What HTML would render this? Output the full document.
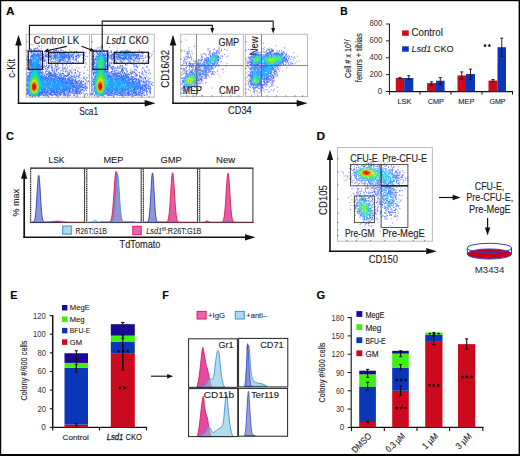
<!DOCTYPE html><html><head><meta charset="utf-8"><style>html,body{margin:0;padding:0;background:#fff}svg{display:block}text{font-family:"Liberation Sans",sans-serif;stroke:#222;stroke-width:0.12px}</style></head><body>
<svg width="520" height="456" viewBox="0 0 520 456">
<defs><filter id="soft4" x="-5%" y="-5%" width="110%" height="110%"><feGaussianBlur stdDeviation="0.4"/></filter><filter id="soft6" x="-5%" y="-5%" width="110%" height="110%"><feGaussianBlur stdDeviation="0.6"/></filter></defs>
<rect x="0" y="0" width="520" height="456" fill="#fff"/>
<text x="6.1" y="15" font-size="11" text-anchor="start" font-weight="bold" fill="#000" textLength="8.5" lengthAdjust="spacingAndGlyphs">A</text>
<g filter="url(#soft4)" opacity="0.95">
<path stroke="rgb(54, 66, 246)" stroke-width="0.85" d="M32.7 44.9h.85m23.6 .2h.85m-16.7 1.5h.85m-3.2 .1h.85m.9 1.7h.85m5.2 .8h.85m13.3 .5h.85m23.2 9.9h.85m-2.6 1.7h.85m1.7 2.8h.85m-2.6 2.6h.85m-.4 .6h.85m1.7 2.8h.85m-4.4 2.7h.85m3.5 2.5h.85"/>
<path stroke="rgb(42, 66, 246)" stroke-width="0.85" d="M30.8 44.6h.85m6.1 1.4h.85m-1.4 1.8h.85m-3.8 1.1h.85m-.6 0h.85m-4.4 .8h.85m24.4 0h.85m-27.1 .2h.85m38.4 .1h.85m-8.6 .2h.85m-12.8 .1h.85m4.2 .2h.85m-27.8 .1h.85m26.6 .1h.85m1.8 0h.85m-3 .2h.85m-3.5 .2h.85m9.2 .1h.85m-33.2 .3h.85m45 .2h.85m-31.5 .1h.85m10.6 .2h.85m25.5 .2h.85m-.1 .4h.85m.4 .2h.85m-41.7 .3h.85m38.6 1.9h.85m-.3 1.2h.85m-58.6 .1h.85m59.4 0h.85m-60.6 1.1h.85m53.6 .6h.85m-7.6 1.3h.85m-3.1 .6h.85m2.4 .1h.85m-21.7 .1h.85m-11.7 .3h.85m-1.5 .2h.85m31.4 .2h.85m-10 .2h.85m-23.9 .1h.85m37.5 0h.85m-32.3 .2h.85m13 0h.85m-10.2 .4h.85m13.8 .1h.85m7.2 0h.85m-18.8 .1h.85m12.3 .4h.85m-4.4 .1h.85m1.6 .3h.85m-26.6 .1h.85m9.6 0h.85m-3.8 .1h.85m30.8 0h.85m-22.7 .1h.85m3 0h.85m10.4 .2h.85m-22.8 .2h.85m-11.7 .5h.85m24.2 .1h.85m-5.8 .6h.85m-39.7 .1h.85m23 .3h.85m-1.6 .1h.85m-2.4 .2h.85m-3.3 .1h.85m1.4 0h.85m-5.2 .2h.85m9.3 .4h.85m10.2 .1h.85m-9.6 .1h.85m11.4 0h.85m-21.9 .7h.85m18.4 .3h.85m-24.5 .3h.85m11.4 .1h.85m19.8 .2h.85m-12.8 .2h.85m-19.4 .1h.85m8 0h.85m23 0h.85m-16.3 .9h.85m-7.5 .1h.85m.8 0h.85m15.4 0h.85m-28.1 .3h.85m23.4 .4h.85m.9 0h.85m-4.9 .2h.85m5 0h.85m-.6 .5h.85m-6.1 .3h.85m-5.8 .2h.85m4.3 .2h.85m6.7 .3h.85m-12.8 .5h.85m3.1 0h.85m9.2 .3h.85m-5.4 .3h.85m-.8 0h.85m-1.5 .1h.85m4 .3h.85m-12.8 .1h.85m3.9 0h.85m5.6 0h.85m4 .6h.85m-4.9 1h.85m-.8 .2h.85m3.3 2.1h.85m-1.3 .3h.85m3.4 .3h.85m-2.1 .2h.85m-1.9 2.1h.85m1.9 1h.85m-1.1 .3h.85m-.8 .6h.85m-1.1 12.2h.85m-1.1 1.2h.85m-4.2 .7h.85"/>
<path stroke="rgb(42, 78, 255)" stroke-width="0.85" d="M39 46.2h.85m-3.1 2h.85m-2 .3h.85m-6.8 .2h.85m2.8 .3h.85m1.6 0h.85m-5.7 .2h.85m3 .1h.85m2.6 .3h.85m13.6 .1h.85m-15.1 .2h.85m16.2 .4h.85m-17.8 .2h.85m16.6 0h.85m-18.8 .1h.85m21.2 .1h.85m-30.4 .2h.85m1.4 .1h.85m19.8 0h.85m-5.1 .1h.85m-20.4 .2h.85m17.8 0h.85m1.2 0h.85m-15.7 .1h.85m-.4 0h.85m28.4 0h.85m4.9 0h.85m-31.5 .1h.85m34.8 0h.85m-18.2 .2h.85m-29.1 .1h.85m43.2 0h.85m-41.3 .1h.85m.4 0h.85m1.8 0h.85m7.9 0h.85m5.8 0h.85m2.3 0h.85m-25.6 .1h.85m42.2 0h.85m-29.4 .1h.85m7.2 .1h.85m19.4 0h.85m-44.2 .1h.85m-.3 0h.85m5.1 0h.85m15.8 0h.85m9.6 0h.85m-25.7 .1h.85m-.7 0h.85m10.3 .2h.85m13 0h.85m.7 0h.85m2.2 0h.85m-10.4 .1h.85m-21.1 .1h.85m7.6 0h.85m15.4 0h.85m-.6 0h.85m-14.8 .1h.85m-.5 0h.85m19.6 0h.85m-42.7 .1h.85m33.5 0h.85m-20.4 .1h.85m3.9 0h.85m.8 .1h.85m-.7 0h.85m.6 0h.85m13.6 0h.85m6.2 0h.85m-26.1 .1h.85m26.7 0h.85m-37.8 .1h.85m32.8 0h.85m3.9 .1h.85m-37.4 .1h.85m6 .1h.85m-18 .1h.85m36.2 0h.85m-26.8 .1h.85m37.8 0h.85m-41.8 .1h.85m30.9 0h.85m-32.1 .1h.85m5.1 0h.85m.5 0h.85m-.7 .1h.85m-.4 0h.85m29.4 0h.85m-37.2 .1h.85m-1.2 .1h.85m30.4 0h.85m2.2 0h.85m-34 .2h.85m-3.5 .1h.85m4.2 0h.85m26.4 0h.85m4.4 0h.85m-49 .1h.85m11.5 0h.85m-.7 0h.85m2.8 0h.85m35.4 0h.85m-9.1 .1h.85m4.9 0h.85m2 0h.85m-42.5 .2h.85m-.4 .1h.85m2.6 0h.85m25.4 0h.85m5.8 0h.85m1.5 0h.85m-8.7 .3h.85m4.6 0h.85m.2 0h.85m-1.7 .1h.85m-.6 0h.85m-.8 .2h.85m-35.2 .2h.85m1.9 0h.85m-3.6 .1h.85m.6 0h.85m29.1 0h.85m-.5 0h.85m-33.5 .1h.85m29.4 0h.85m-28.8 .1h.85m25.4 0h.85m4.2 0h.85m-35 .1h.85m2.4 0h.85m1.3 .2h.85m30.7 0h.85m-37 .1h.85m1.8 0h.85m22.1 0h.85m6.5 0h.85m-.7 .1h.85m1.2 0h.85m-36.1 .2h.85m27.9 .1h.85m-26 .1h.85m-6.2 .1h.85m26.4 .1h.85m-26.9 .1h.85m33.6 .1h.85m-4.5 .1h.85m-30.6 .1h.85m29.2 0h.85m4.2 0h.85m-36.1 .1h.85m22.8 0h.85m-3.5 .2h.85m-23.6 .1h.85m1.3 0h.85m28.8 0h.85m-31.3 .1h.85m32.8 0h.85m-34.8 .1h.85m4.4 .1h.85m26.4 0h.85m.2 0h.85m-35.8 .2h.85m.3 0h.85m1.7 0h.85m5.4 0h.85m-10 .1h.85m19 0h.85m7.4 0h.85m-28.2 .1h.85m7 .1h.85m17.9 .1h.85m-18.8 .1h.85m2.5 0h.85m-2.2 .1h.85m5.7 0h.85m3.6 0h.85m0 0h.85m-22.6 .2h.85m4.3 0h.85m9.8 0h.85m12.4 0h.85m-14.7 .1h.85m.2 0h.85m7.2 0h.85m-18.8 .1h.85m11 0h.85m-.4 0h.85m-0 0h.85m-6.5 .1h.85m10 0h.85m1.4 0h.85m-29.8 .1h.85m2.4 0h.85m10.9 0h.85m3.6 0h.85m-21.2 .1h.85m4.5 0h.85m-18.8 .1h.85m.5 0h.85m44.2 0h.85m1 0h.85m-8.6 .2h.85m-41.8 .1h.85m11.8 0h.85m2.4 0h.85m20.5 0h.85m-2.4 .1h.85m-13.8 .1h.85m8.4 0h.85m-.7 0h.85m0 0h.85m1.4 0h.85m-34.8 .1h.85m-0 0h.85m10.6 .1h.85m14.6 0h.85m.6 0h.85m10 0h.85m-41.6 .1h.85m16 0h.85m13.9 0h.85m15.2 0h.85m-47.2 .1h.85m30.4 0h.85m.5 0h.85m5.2 .1h.85m-9.4 .1h.85m5.5 0h.85m3.5 0h.85m-19 .1h.85m10.9 0h.85m3.1 0h.85m-25 .1h.85m-16.8 .1h.85m24.4 0h.85m4.8 0h.85m6.3 0h.85m-12.1 .1h.85m3.2 0h.85m-1.7 .1h.85m-29 .1h.85m-.4 0h.85m11.7 0h.85m2.6 .1h.85m12.3 0h.85m-17.8 .2h.85m23.8 0h.85m-38 .1h.85m10 .2h.85m9.6 0h.85m-23.8 .1h.85m.4 .1h.85m19.9 .9h.85m-20.4 .1h.85m9.1 .1h.85m2.7 .1h.85m13 0h.85m-30.6 .2h.85m.8 0h.85m8.8 .2h.85m-10.5 .1h.85m9.8 0h.85m1.3 0h.85m14 .2h.85m-2.8 .1h.85m6.2 0h.85m-11.5 .3h.85m-11.2 .2h.85m20.4 0h.85m-8.5 .1h.85m-7.1 .2h.85m-20.6 .2h.85m.2 .1h.85m11.8 0h.85m-1.8 .1h.85m-2.2 .1h.85m4.8 0h.85m-7 .1h.85m14.6 0h.85m-.8 0h.85m1.2 0h.85m3.9 0h.85m-34 .3h.85m.2 0h.85m10.4 .1h.85m6 0h.85m2.6 0h.85m-11.8 .1h.85m3.2 0h.85m.1 0h.85m10 .2h.85m-26.4 .1h.85m8.8 .1h.85m.9 0h.85m.4 0h.85m5.3 .1h.85m1 0h.85m-23.4 .1h.85m21 .1h.85m19.8 0h.85m-43.4 .1h.85m18.6 0h.85m-9.7 .1h.85m-.8 0h.85m-.4 0h.85m6.9 0h.85m3.6 .1h.85m9.6 0h.85m-21.1 .2h.85m3.6 .1h.85m-3.2 .1h.85m12.4 0h.85m-.4 0h.85m-31.8 .1h.85m20.4 0h.85m1.8 0h.85m9.9 0h.85m-21.5 .1h.85m17.2 0h.85m3.8 0h.85m-25 .2h.85m4.6 0h.85m1.4 .1h.85m3.5 0h.85m-10.7 .1h.85m-13.8 .1h.85m35.4 0h.85m.6 .1h.85m-26 .1h.85m-14.6 .1h.85m35.7 0h.85m-23.6 .1h.85m8.4 .1h.85m2.2 0h.85m1.3 .1h.85m-4.7 .1h.85m9 0h.85m-17.8 .1h.85m-2.8 .1h.85m12.2 .2h.85m-.2 .1h.85m4.8 0h.85m2.2 0h.85m-38.4 .2h.85m11.6 .2h.85m10.4 0h.85m-7 .1h.85m7.6 .1h.85m-3.4 .1h.85m8 0h.85m-9.4 .1h.85m3.3 0h.85m-8.6 .2h.85m17.4 0h.85m9.6 .1h.85m-25.5 .1h.85m7.4 0h.85m-19.4 .1h.85m1.9 0h.85m.4 0h.85m9.2 0h.85m6.4 0h.85m-24.4 .1h.85m6 .1h.85m14.9 .1h.85m-15.8 .1h.85m.6 0h.85m17.7 0h.85m-3.4 .1h.85m5.8 0h.85m-31.8 .1h.85m12.2 0h.85m-1.6 .2h.85m.4 .1h.85m.6 0h.85m-11.5 .2h.85m-19.2 .1h.85m14.1 0h.85m-0 0h.85m5 0h.85m4.2 .1h.85m4.2 0h.85m-31.2 .1h.85m11.5 0h.85m8.5 0h.85m-9.2 .1h.85m15.8 0h.85m12 0h.85m-22 .1h.85m17.2 0h.85m-17.2 .1h.85m-4.1 .1h.85m.9 0h.85m11.4 0h.85m5.7 0h.85m-19.7 .1h.85m-24.1 .1h.85m41.4 0h.85m1.4 0h.85m-28.6 .1h.85m6.8 0h.85m-11.1 .1h.85m-.6 0h.85m3.2 0h.85m2 0h.85m6 0h.85m-.5 0h.85m2.6 0h.85m-4.5 .1h.85m18.8 0h.85m-26.2 .1h.85m9.9 0h.85m1.3 0h.85m-36.2 .1h.85m26.4 0h.85m7.6 0h.85m-.2 .1h.85m-13.6 .1h.85m10.4 0h.85m-15.7 .1h.85m.5 0h.85m10.8 0h.85m-.2 0h.85m1.9 0h.85m4.8 0h.85m-17.1 .1h.85m1.9 0h.85m-13.4 .1h.85m7.4 0h.85m16 0h.85m-21.3 .2h.85m19.4 0h.85m-42.1 .1h.85m41.4 0h.85m-.4 0h.85m-9.7 .1h.85m-3.8 .1h.85m1 .2h.85m16.4 0h.85m-34.4 .1h.85m7 0h.85m12.2 0h.85m3.2 0h.85m-3.1 .1h.85m7.3 0h.85m-7.6 .2h.85m-.4 0h.85m-24.2 .1h.85m23.2 0h.85m4.5 0h.85m4.1 .1h.85m-30 .1h.85m5 .1h.85m8.9 0h.85m5.1 0h.85m-9.1 .2h.85m11.2 0h.85m3.1 0h.85m-21.5 .1h.85m2.2 0h.85m14.8 .1h.85m-17 .1h.85m2.1 0h.85m-.6 0h.85m2.2 0h.85m-.1 0h.85m-41.8 .1h.85m38.4 0h.85m11.7 0h.85m-19.4 .1h.85m-11.8 .1h.85m16.2 0h.85m-.8 0h.85m4.6 0h.85m-15.5 .1h.85m13.6 0h.85m.1 0h.85m-.6 .2h.85m2.7 .1h.85m-.7 0h.85m-32.6 .1h.85m19.2 0h.85m4.2 0h.85m3.6 0h.85m-.4 0h.85m3.2 0h.85m-18.4 .2h.85m11.7 0h.85m-5.2 .1h.85m9.4 0h.85m-15.4 .2h.85m-4.1 .1h.85m7.9 0h.85m3.6 .1h.85m-5.5 .1h.85m-.1 0h.85m-12.8 .1h.85m10.2 0h.85m-2.6 .1h.85m9.2 0h.85m-10.6 .2h.85m7.4 .1h.85m-8.3 .1h.85m2.4 0h.85m10.6 .2h.85m-1.8 .2h.85m-3.1 .1h.85m-8.7 .2h.85m-1.9 .1h.85m2.7 .1h.85m-7.4 .2h.85m5.7 0h.85m-2.8 .1h.85m10.5 0h.85m-6.6 .6h.85m-4.6 .1h.85m-6.8 .1h.85m3.8 0h.85m4 .1h.85m-7.9 .1h.85m2.4 0h.85m-3.6 .1h.85m6.1 .1h.85m-3.3 .2h.85m3.2 0h.85m-.6 0h.85m.9 .1h.85m2.4 0h.85m-10.7 .2h.85m.5 0h.85m4.9 .2h.85m-1.4 .1h.85m-5.8 .3h.85m-.8 .1h.85m1.5 0h.85m-.5 0h.85m2.1 0h.85m-5 .1h.85m1.5 .1h.85m-6.8 .2h.85m9.1 0h.85m-11.7 .1h.85m-0 0h.85m-.1 0h.85m.2 .4h.85m2.9 0h.85m-2.1 .1h.85m-.4 0h.85m3.4 .5h.85m-4.4 .2h.85m2.4 0h.85m-7.8 .1h.85m6.6 0h.85m1.1 .2h.85m-8.8 .1h.85m2.2 .6h.85m0 0h.85m1.6 .2h.85m-13.4 .1h.85m6.1 0h.85m.2 0h.85m.2 .4h.85m-6.8 .2h.85m.1 .2h.85m7.9 .1h.85m-6.3 .1h.85m3.6 .1h.85m-7.1 .1h.85m2.6 0h.85m2.6 .1h.85m-7.5 .3h.85m1.6 0h.85m-4.2 .1h.85m6.4 0h.85m.9 .2h.85m-10.6 .1h.85m.9 0h.85m4.8 .1h.85m-6.9 .1h.85m6.4 0h.85m-5.1 .1h.85m1.2 0h.85m1.6 .1h.85m-4.5 .1h.85m1.2 0h.85m-2.6 .1h.85m-2.6 .1h.85m5.4 0h.85m-4.6 .1h.85m-1.4 .2h.85m3.3 .4h.85m-1.9 .2h.85m-10.4 .1h.85m.9 0h.85m6.3 .1h.85m-.6 0h.85m-7.8 .1h.85m2.4 .2h.85m1.2 0h.85m.5 0h.85m-9.1 .1h.85m5 0h.85m-3.9 .1h.85m-7.4 .2h.85m8.5 0h.85m-1.9 .2h.85m-2.1 .1h.85m-3.3 .1h.85m7.4 0h.85m-5 .1h.85m-.8 .5h.85m1.2 .1h.85m-7.4 .1h.85m.7 0h.85m6.6 0h.85m-14.1 .1h.85m10.4 .1h.85m-17.8 .2h.85m13.6 0h.85m-6.1 .3h.85m2.6 0h.85m-3.6 .3h.85m-.3 .1h.85m1.2 0h.85m-5.4 .1h.85m2.4 .1h.85m3.9 0h.85m-14.8 .1h.85m9.1 0h.85m-3.8 .1h.85m-16.4 .3h.85m18.4 0h.85m-4.6 .1h.85m2.4 0h.85m-19.8 .1h.85m1.6 0h.85m-9.5 .1h.85m26.4 0h.85m-7.4 .1h.85m.9 0h.85m-6.1 .1h.85m5.4 0h.85m-19.2 .1h.85m14 0h.85m-21.4 .1h.85m22.4 0h.85m-20.1 .2h.85m4.2 .1h.85m-.1 0h.85m3.4 0h.85m12.6 0h.85m3.8 0h.85m-13.7 .1h.85m4.8 0h.85m-.6 0h.85m-7.3 .1h.85m3.2 0h.85m-18.1 .1h.85m8.4 0h.85m7.9 0h.85m5.4 0h.85m-20.1 .1h.85m10.9 0h.85m2.1 0h.85m-12.4 .1h.85m.2 0h.85m-27.4 .1h.85m-.6 0h.85m23.2 0h.85m8.6 0h.85m1.4 0h.85m6.4 0h.85m-42.1 .1h.85m35.4 0h.85m-31.4 .1h.85m3.7 0h.85m-0 0h.85m-30 .1h.85m27 0h.85m-9.6 .1h.85m3.5 0h.85m2.2 0h.85m-26.8 .1h.85m28.9 0h.85m-17.2 .1h.85m13.8 0h.85m-3.8 .1h.85m10.9 0h.85m2.7 0h.85m-41 .1h.85m29.2 0h.85m7.5 0h.85m1.4 0h.85m5.9 0h.85m9.2 0h.85m-45.8 .1h.85m9.5 0h.85m0 0h.85m33.4 0h.85m-40.3 .1h.85m11.4 0h.85m15.6 0h.85m-15.6 .1h.85m-22.2 .1h.85m16.4 0h.85m12.8 0h.85m-23 .1h.85m-.7 0h.85m8.7 0h.85m11.6 .1h.85m-29.8 .1h.85m-0 0h.85m1.9 0h.85m8.5 0h.85m19.8 0h.85m-26.6 .1h.85m3.2 0h.85m7.5 0h.85m16 0h.85m-35 .1h.85m23.5 0h.85m-24.3 .1h.85m2.9 0h.85m25.7 0h.85m-36.2 .1h.85m5.8 0h.85m.2 0h.85m30.2 0h.85m-21.6 .1h.85m6.4 0h.85m4.1 0h.85"/>
<path stroke="rgb(42, 90, 255)" stroke-width="0.85" d="M34.2 50.3h.85m-1.6 .2h.85m-.4 .7h.85m1.4 .8h.85m-6.1 .2h.85m23 .4h.85m6.8 0h.85m-5.8 .2h.85m6.6 0h.85m-32.7 .1h.85m23 0h.85m.4 .1h.85m-22.2 .1h.85m13.3 0h.85m11.4 0h.85m-30.2 .1h.85m26.2 0h.85m-7.2 .1h.85m-.1 0h.85m3.8 0h.85m1.9 0h.85m-30.4 .1h.85m19.1 0h.85m-.8 0h.85m9.4 0h.85m4.4 .1h.85m-16.2 .1h.85m3 0h.85m1.4 0h.85m-.5 0h.85m.9 0h.85m.6 0h.85m-26.6 .1h.85m22 0h.85m2.9 0h.85m-29.2 .1h.85m23.2 0h.85m-22.4 .1h.85m10.2 0h.85m11.2 0h.85m4.6 0h.85m1.9 0h.85m-16 .1h.85m4.2 0h.85m-27.8 .1h.85m.6 0h.85m-.1 0h.85m7.3 0h.85m10.6 0h.85m.9 0h.85m.3 0h.85m4.2 0h.85m5.3 0h.85m-18.5 .1h.85m9.3 0h.85m.7 0h.85m1.3 0h.85m-32.5 .2h.85m18 0h.85m4.9 0h.85m2.8 0h.85m6.6 0h.85m-31.1 .1h.85m16.8 0h.85m13.3 0h.85m-13.7 .1h.85m5.8 0h.85m-27.4 .1h.85m29.8 0h.85m-33.8 .1h.85m11.4 0h.85m-0 0h.85m.8 0h.85m11.3 0h.85m7.5 0h.85m-23.6 .1h.85m11.4 0h.85m5.5 0h.85m5.2 0h.85m-36.3 .1h.85m27.3 0h.85m-33.9 .1h.85m6.4 0h.85m-.8 0h.85m18.5 0h.85m1.6 0h.85m-19.2 .1h.85m6 0h.85m-10.8 .1h.85m8.5 0h.85m-11.2 .1h.85m27.6 0h.85m-36.2 .1h.85m7.8 0h.85m10 0h.85m19 0h.85m-39 .1h.85m19.5 0h.85m13.4 0h.85m-29.4 .1h.85m5.5 0h.85m9.5 0h.85m-24.6 .1h.85m13.4 0h.85m7.9 0h.85m4 0h.85m-28.8 .1h.85m12.9 0h.85m4.3 0h.85m1.2 0h.85m-21.6 .1h.85m6.8 0h.85m9.9 0h.85m2.9 .1h.85m.6 0h.85m12.4 0h.85m6.4 0h.85m-7.4 .1h.85m1 0h.85m-24.6 .1h.85m1.6 0h.85m-.1 0h.85m-.5 0h.85m12.5 0h.85m-34.9 .1h.85m18.2 0h.85m20.4 0h.85m-39.8 .1h.85m-0 0h.85m13.3 0h.85m21.5 0h.85m5.4 0h.85m-.4 0h.85m-45.7 .1h.85m-.2 0h.85m6.3 0h.85m10.4 0h.85m-2.7 .1h.85m7.4 0h.85m8.9 0h.85m-36.1 .1h.85m8.7 0h.85m4 .1h.85m5.2 .1h.85m19.6 0h.85m.1 0h.85m-19.8 .1h.85m-12.5 .1h.85m14 0h.85m10.1 0h.85m-18.6 .1h.85m10.3 0h.85m1.5 0h.85m2.7 0h.85m1.2 0h.85m3.1 0h.85m-24.1 .1h.85m18.6 0h.85m-.6 0h.85m2.9 0h.85m-44.1 .1h.85m18.4 0h.85m-.7 0h.85m9 0h.85m-6.5 .1h.85m7.9 0h.85m3.5 0h.85m-28.3 .1h.85m15.3 0h.85m-.4 0h.85m1.2 0h.85m12.9 0h.85m-32 .1h.85m12.3 0h.85m.3 0h.85m5.5 0h.85m2.1 0h.85m3 0h.85m-28.8 .1h.85m26.6 .1h.85m.9 0h.85m-30.4 .1h.85m19.4 0h.85m3.8 .1h.85m-24.6 .1h.85m11.9 0h.85m2.6 0h.85m.4 0h.85m13.4 0h.85m-32.4 .1h.85m13.6 0h.85m12.7 0h.85m-39.4 .1h.85m31.8 0h.85m2.5 0h.85m-24.5 .1h.85m16.8 0h.85m-10.6 .1h.85m16.8 0h.85m-30.8 .2h.85m1.2 0h.85m11.4 0h.85m4 0h.85m4.9 0h.85m-24.6 .1h.85m20.8 0h.85m.3 0h.85m-24.2 .1h.85m-9.7 .1h.85m8.2 .1h.85m15 0h.85m6 0h.85m-22.4 .1h.85m18.2 .1h.85m9 0h.85m-40.8 .2h.85m-.6 .1h.85m-.2 0h.85m28.2 0h.85m-.4 0h.85m-29.4 .1h.85m7.9 0h.85m-10.6 .1h.85m-1 .1h.85m-.6 .4h.85m-1.3 .4h.85m.3 0h.85m8.4 0h.85m-11.2 .4h.85m-.2 0h.85m8.1 .1h.85m-9.6 .5h.85m-.7 .1h.85m-2.1 .9h.85m-.4 0h.85m-.8 0h.85m.4 .1h.85m-1.8 .1h.85m7.4 0h.85m-10.4 .1h.85m.6 .8h.85m.4 .1h.85m-2.8 .1h.85m-1.4 .2h.85m1.3 0h.85m6.1 .1h.85m-8.3 .1h.85m5.6 0h.85m-.3 .3h.85m.6 0h.85m-9.9 .4h.85m-.4 .3h.85m6.5 .2h.85m-.1 0h.85m-1.2 .1h.85m-1.5 .1h.85m-.5 .1h.85m-.1 0h.85m-7.6 .2h.85m4.5 .1h.85m2.2 .2h.85m-3.4 .6h.85m-.7 .8h.85m-9.3 .1h.85m8.2 0h.85m-1.7 .1h.85m-0 .1h.85m-.6 .1h.85m-10.6 .2h.85m-1.2 .1h.85m9 .6h.85m-.2 .1h.85m-11.4 .6h.85m9 .1h.85m-.5 0h.85m.2 .2h.85m-11.2 .2h.85m-1.7 .1h.85m-.5 .2h.85m8.1 .9h.85m-.7 .2h.85m10.2 .4h.85m-20.4 .1h.85m7.7 0h.85m.4 .2h.85m1.8 .1h.85m-14.2 .2h.85m19.4 0h.85m-21.2 .4h.85m10.7 0h.85m-.5 .1h.85m-1.1 .1h.85m14.4 0h.85m-27.3 .1h.85m25 .1h.85m-9.8 .1h.85m-.5 .1h.85m-5.2 .1h.85m7 0h.85m2.8 0h.85m-4.2 .2h.85m-1.5 .1h.85m2.4 0h.85m-.8 0h.85m.5 0h.85m-4.4 .1h.85m5 0h.85m-11.1 .1h.85m5.4 .1h.85m-7.8 .1h.85m1.9 0h.85m7.2 0h.85m-15.4 .1h.85m-.6 .1h.85m6 0h.85m-.6 0h.85m-6.1 .1h.85m2.3 0h.85m6.8 0h.85m-27 .1h.85m10.8 0h.85m9.4 0h.85m-.1 0h.85m2 0h.85m5.2 0h.85m-11.1 .1h.85m18.8 0h.85m-22.8 .1h.85m-20.2 .1h.85m21.8 0h.85m.2 0h.85m7.9 0h.85m-34.8 .1h.85m25.6 0h.85m-.1 0h.85m.4 0h.85m3.1 0h.85m-8 .2h.85m10.6 0h.85m-23 .1h.85m7.8 0h.85m4.5 0h.85m-16.2 .1h.85m7.4 0h.85m-.8 0h.85m-21.8 .1h.85m-.3 0h.85m12.9 0h.85m2.4 0h.85m-0 0h.85m4.2 0h.85m-.2 0h.85m.2 0h.85m2.2 0h.85m2.2 0h.85m5 0h.85m1.2 0h.85m-21.8 .1h.85m4.3 0h.85m-0 0h.85m-24.3 .1h.85m12 0h.85m6.8 0h.85m5.2 0h.85m10.6 0h.85m-14.7 .1h.85m-0 0h.85m-13.3 .1h.85m1.3 0h.85m19.8 0h.85m1.4 0h.85m-39 .2h.85m14.2 0h.85m8.6 0h.85m-24.4 .1h.85m-.6 0h.85m18.4 0h.85m0 0h.85m1.8 0h.85m2.5 0h.85m-10.2 .1h.85m7.6 0h.85m-7.4 .1h.85m5.2 .1h.85m2.4 0h.85m-16.5 .1h.85m-.3 0h.85m13.4 .1h.85m1.3 0h.85m2.3 0h.85m-35.2 .1h.85m21.8 0h.85m-.7 0h.85m-.1 0h.85m11.6 .1h.85m-21.8 .1h.85m2.6 0h.85m.9 0h.85m6.8 0h.85m-10 .1h.85m12.5 0h.85m-11.7 .1h.85m9.2 0h.85m1.4 0h.85m-15.7 .1h.85m12.8 0h.85m-16.8 .1h.85m1 0h.85m3.8 0h.85m9.5 0h.85m2.6 0h.85m-20.6 .1h.85m12 0h.85m3.2 0h.85m-.1 0h.85m12.4 0h.85m-34 .1h.85m2.6 .1h.85m13.3 0h.85m2 0h.85m.3 0h.85m-22.4 .1h.85m13.4 0h.85m0 0h.85m4 0h.85m-17.8 .1h.85m5.5 0h.85m10.4 0h.85m-15.8 .1h.85m3 0h.85m5.8 0h.85m-.7 0h.85m1.2 0h.85m2.3 0h.85m3.8 0h.85m-22.4 .1h.85m20.3 0h.85m-22.7 .1h.85m1.3 0h.85m2.5 0h.85m8.1 0h.85m3.2 0h.85m4.2 0h.85m-42.6 .1h.85m25.4 0h.85m9.9 0h.85m-.4 0h.85m2.4 0h.85m-9.4 .1h.85m1.2 0h.85m-14.6 .1h.85m15.9 0h.85m-.4 0h.85m2.7 0h.85m-27.6 .1h.85m9.4 0h.85m9 0h.85m4.5 0h.85m-5.7 .1h.85m-.5 0h.85m7.4 0h.85m-44.6 .1h.85m44.1 0h.85m-23.5 .1h.85m12.1 0h.85m-4.8 .1h.85m7.9 0h.85m-7.6 .1h.85m1.8 0h.85m1 0h.85m4.5 0h.85m-2.5 .1h.85m-26.2 .2h.85m4.6 0h.85m15 0h.85m-10.5 .1h.85m6.6 0h.85m2.7 0h.85m-40.4 .1h.85m19.5 0h.85m24 0h.85m-46 .1h.85m32.8 0h.85m.4 0h.85m.2 0h.85m4.9 0h.85m1.6 0h.85m-3.5 .1h.85m-6.6 .2h.85m7.4 0h.85m0 0h.85m.6 0h.85m-13.7 .2h.85m3.2 0h.85m1 0h.85m4.4 0h.85m-.1 0h.85m-7.3 .2h.85m3.6 0h.85m-43.7 .1h.85m40.5 0h.85m-42.6 .1h.85m43.3 0h.85m1.8 0h.85m-7.8 .1h.85m4.9 0h.85m1.7 0h.85m-10.1 .1h.85m-6.1 .1h.85m7.4 0h.85m5.2 .1h.85m-29.2 .1h.85m15 0h.85m5.9 0h.85m.6 0h.85m-44.5 .1h.85m47.9 0h.85m-15.4 .1h.85m3.2 0h.85m.9 0h.85m2.8 0h.85m-3.8 .1h.85m6.4 .1h.85m2.3 0h.85m-51.8 .1h.85m39.7 0h.85m4 0h.85m1.9 0h.85m4.9 0h.85m-9.8 .1h.85m-2.3 .1h.85m2.4 0h.85m-11.6 .1h.85m-.4 0h.85m7.2 .1h.85m4.2 0h.85m-50.6 .1h.85m40.6 0h.85m3.9 .2h.85m-8.4 .1h.85m4.8 0h.85m.4 .1h.85m-9.9 .1h.85m2.9 0h.85m-.3 0h.85m8.4 0h.85m-5.3 .1h.85m-.8 0h.85m-.2 0h.85m-4.4 .1h.85m1.4 0h.85m3 0h.85m-1 .1h.85m1.2 0h.85m1.7 .1h.85m.6 0h.85m-11 .1h.85m.6 .1h.85m2.6 0h.85m.4 0h.85m-2.1 .2h.85m2.4 .1h.85m-53.4 .1h.85m50.1 .1h.85m.6 .1h.85m-8.8 .1h.85m7.5 0h.85m-14.9 .2h.85m7.5 .1h.85m2.4 0h.85m-12.7 .1h.85m16.7 0h.85m-8.8 .1h.85m-2.8 .1h.85m5.2 0h.85m2.3 0h.85m.6 0h.85m-14.8 .1h.85m3.6 .1h.85m0 0h.85m-3.4 .1h.85m2.6 0h.85m1.6 0h.85m-7.9 .1h.85m7.4 0h.85m-3.4 .2h.85m1.9 0h.85m-4.4 .1h.85m3.3 0h.85m-9.4 .1h.85m-7.6 .3h.85m6.2 0h.85m.2 0h.85m1.4 .1h.85m6 0h.85m-12.7 .1h.85m9.8 0h.85m-12.4 .2h.85m2.4 0h.85m5.9 .1h.85m-34 .1h.85m26.8 0h.85m-.2 .1h.85m4.2 0h.85m-12.7 .2h.85m3.4 .1h.85m6.8 0h.85m-12.3 .1h.85m-6.4 .2h.85m7.1 0h.85m1.4 0h.85m1.9 0h.85m2.9 .1h.85m-7.6 .1h.85m.8 .1h.85m.4 0h.85m.9 0h.85m1.9 .1h.85m-6.1 .1h.85m-10.8 .2h.85m5.2 0h.85m3.8 .1h.85m.7 0h.85m-.6 0h.85m.2 0h.85m-12.2 .1h.85m-1.5 .1h.85m9.4 0h.85m-7 .2h.85m1.2 0h.85m5.8 .1h.85m-53.4 .1h.85m41.8 0h.85m1.9 0h.85m-11.7 .1h.85m13.5 .1h.85m-49.6 .1h.85m15.4 0h.85m29.7 0h.85m.3 0h.85m2.5 0h.85m-9.7 .1h.85m5.5 0h.85m.1 0h.85m-14.4 .1h.85m.8 0h.85m6.4 0h.85m-14.7 .1h.85m17.5 0h.85m.4 0h.85m-14.5 .1h.85m4.9 .1h.85m-44.1 .1h.85m44.7 .1h.85m2.4 0h.85m-33.4 .1h.85m.4 0h.85m17.2 0h.85m3.6 0h.85m6.6 0h.85m-5.7 .1h.85m-4.1 .1h.85m13.4 0h.85m-20.6 .1h.85m5 0h.85m-13.8 .1h.85m7.8 0h.85m4.1 0h.85m.9 0h.85m0 0h.85m2.2 0h.85m3.1 0h.85m-30.4 .1h.85m17 0h.85m-.7 0h.85m-20.7 .1h.85m19.2 0h.85m10.2 0h.85m-30 .1h.85m-20.5 .1h.85m19.9 0h.85m7.6 0h.85m2.8 0h.85m5.3 0h.85m7.6 0h.85m2.9 0h.85m-34.4 .1h.85m6.2 0h.85m19.3 0h.85m-10.2 .1h.85m-.1 0h.85m5.5 0h.85m1.6 0h.85m1.4 0h.85m4.9 0h.85m-54.2 .1h.85m40.6 0h.85m-25.8 .1h.85m12.2 0h.85m7 0h.85m-12.8 .1h.85m9.3 0h.85m-19.6 .1h.85m26.6 0h.85m-.6 0h.85m3.4 0h.85m-34.2 .1h.85m7.5 0h.85m4.2 0h.85m6.8 0h.85m9.1 0h.85m-46.6 .1h.85m18 0h.85m.3 0h.85m2.3 0h.85m9.9 0h.85m-.8 0h.85m1 0h.85m9.9 0h.85m-31.4 .1h.85m18.5 0h.85m3 0h.85m8.2 0h.85m.2 0h.85m-51.2 .1h.85m27 0h.85m13.6 0h.85m-.4 0h.85m-.6 0h.85m-27.2 .1h.85m24.8 0h.85m2.4 0h.85m5.6 0h.85m-51.8 .1h.85m18 0h.85m.4 0h.85m7.6 0h.85m-.1 0h.85m5.6 0h.85m3.4 0h.85m-19 .1h.85m1.8 0h.85m12.6 0h.85m-26.6 .1h.85m2.8 0h.85m-.4 0h.85m1 0h.85m5.5 0h.85m5.4 0h.85m11.6 0h.85m3.7 0h.85m-12.9 .1h.85m2.2 0h.85m8.9 0h.85m-50 .1h.85m12 0h.85m1.8 0h.85m3 0h.85m20.7 0h.85m-28 .1h.85m.5 0h.85m10.5 0h.85m-.7 0h.85m1.2 0h.85m7.6 0h.85m-.5 0h.85m2.2 0h.85m-16.8 .1h.85m1.4 0h.85m5.4 0h.85m-18.8 .1h.85m2.3 0h.85m.4 0h.85m4.5 0h.85m7.8 0h.85m.3 0h.85m7 0h.85m3.1 0h.85m-30.8 .1h.85m1.3 0h.85m-.8 0h.85m2.5 0h.85m.5 0h.85m1.9 0h.85m1 0h.85m6.9 0h.85m11.6 0h.85m-5.7 .1h.85m-31.6 .1h.85m6.2 0h.85m1.2 0h.85m.5 0h.85m5.2 0h.85m1.8 0h.85m.8 0h.85m13.6 0h.85m-33.7 .1h.85m11.4 0h.85m.8 0h.85m19.6 0h.85m-31.1 .1h.85m9.4 0h.85m6.7 0h.85m-37.3 .1h.85m16.3 0h.85m4.6 0h.85m22.2 0h.85m-45.8 .1h.85m21.5 0h.85m6.8 0h.85m-.7 0h.85m12.4 0h.85m-45.4 .1h.85m14.4 0h.85m16.2 0h.85m-19.8 .1h.85m3.2 0h.85m3.2 0h.85m.3 0h.85m4.2 0h.85m-6 .1h.85m8.9 0h.85m4.6 0h.85m-25.2 .1h.85m5 0h.85m.5 0h.85m11.2 0h.85m2.8 0h.85m-13 .1h.85m23 0h.85m-36.8 .1h.85m10.5 0h.85m-.5 0h.85m7.8 0h.85m-19.2 .1h.85m.2 0h.85m.5 0h.85m19.6 0h.85m-1 .1h.85m5.5 0h.85m-41.9 .1h.85m17.2 0h.85m.4 0h.85m5.8 0h.85m5 0h.85m-.6 0h.85m-11.7 .1h.85m2 0h.85m7.8 0h.85m-9 .1h.85m-14.8 .1h.85m2.9 0h.85m7.2 0h.85m7.8 0h.85m-15.2 .1h.85m-7.7 .1h.85m15.6 0h.85m1.5 0h.85m1.4 0h.85m3.4 0h.85m-26.4 .1h.85m1.8 0h.85m5.4 0h.85m-19 .1h.85m34.8 .1h.85m-37.5 .1h.85m8.6 .1h.85m5.6 0h.85m10.7 0h.85m7.3 0h.85m-21.5 .1h.85m21.1 0h.85m-27.6 .1h.85m30.6 0h.85m-41.4 .1h.85m7.4 0h.85m12.8 0h.85m14.6 0h.85m-29.4 .1h.85m19 0h.85m3.8 0h.85m-25.4 .1h.85m-9.7 .1h.85m7.5 .1h.85"/>
<path stroke="rgb(42, 102, 255)" stroke-width="0.85" d="M60.5 54.1h.85m1.2 .4h.85m3.4 .4h.85m-13.1 .2h.85m4.8 .2h.85m6.8 .2h.85m-14.5 .2h.85m10.5 0h.85m-35.4 .6h.85m23.5 .1h.85m9.9 0h.85m2.2 .4h.85m-5.6 .3h.85m-2.5 .1h.85m-9.4 .3h.85m-2.7 .1h.85m-22.6 .1h.85m31.2 .1h.85m5.8 0h.85m-31 .4h.85m-.5 .6h.85m-1 .4h.85m-1.4 .3h.85m-.5 .1h.85m-9.2 1.7h.85m7.3 .4h.85m-.1 1.3h.85m-2.8 1.1h.85m-7.5 .4h.85m5.6 .2h.85m-6.8 .1h.85m5.2 .2h.85m-6.9 .8h.85m-2.2 1.7h.85m.3 .4h.85m7.5 4h.85m-2 .2h.85m2.1 3.5h.85m12.9 .7h.85m-13.4 .2h.85m11.6 0h.85m-.4 0h.85m-28 .1h.85m14.4 .2h.85m7.2 .1h.85m-.2 0h.85m-25.6 .2h.85m13.4 .4h.85m1.9 .3h.85m12.5 .1h.85m-4.6 .3h.85m-.2 .1h.85m-28.2 .5h.85m37.1 .2h.85m-12.9 .1h.85m12.5 0h.85m-.3 .1h.85m-6.8 .8h.85m-34.8 .5h.85m13.6 0h.85m25.8 0h.85m-26.1 .3h.85m24.6 .2h.85m-15.1 .8h.85m14.4 .2h.85m-4.1 .2h.85m-6.2 .3h.85m-8.1 .1h.85m8 .2h.85m3.2 .3h.85m5.2 .2h.85m-.7 .4h.85m-3.4 .3h.85m-2.4 .1h.85m1.6 .1h.85m-1.4 .2h.85m-45.4 .1h.85m36.8 0h.85m11.6 .8h.85m-10.7 .5h.85m-2.6 .2h.85m-10.6 .3h.85m-5.5 .3h.85m23.2 1.1h.85m-5.8 .3h.85m-2.2 .4h.85m-.4 .2h.85m-19.1 .3h.85m16.8 0h.85m-.4 .3h.85m-4.5 .4h.85m-20.4 .2h.85m2.9 0h.85m19.4 0h.85m-8.9 .1h.85m-20.3 .1h.85m4.6 .1h.85m2.9 0h.85m4.4 0h.85m17.9 .4h.85m-11.8 .4h.85m-38.2 .1h.85m33.4 .2h.85m-8.6 .2h.85m2.8 .1h.85m.5 0h.85m13.8 .3h.85m-16.6 .1h.85m1.9 .1h.85m-8.1 .2h.85m-8.1 .7h.85m-7.2 .4h.85m-1 .6h.85m-11.5 .1h.85m9 .1h.85m-.7 1.1h.85"/>
<path stroke="rgb(30, 102, 255)" stroke-width="0.85" d="M37.5 53.5h.85m25.2 .1h.85m-27.4 .1h.85m14.8 .1h.85m5.6 0h.85m4.3 .6h.85m-28.8 .4h.85m26.6 0h.85m-29.2 .1h.85m29 .1h.85m-33.2 .1h.85m30.2 0h.85m-26.4 .1h.85m-7.8 .1h.85m22.6 0h.85m11.2 0h.85m.3 .3h.85m-36.1 .1h.85m28.8 .1h.85m1.5 0h.85m-33.8 .1h.85m-.3 0h.85m33.3 0h.85m-34.2 .1h.85m5.3 0h.85m8.4 0h.85m19.8 0h.85m-39.1 .1h.85m22 .1h.85m-23.2 .1h.85m30.8 .1h.85m-25.6 .1h.85m26.8 0h.85m-12.8 .2h.85m-4.1 .1h.85m2.3 0h.85m10.5 0h.85m-16.5 .1h.85m11.5 0h.85m-24.5 .1h.85m18.8 0h.85m5.3 0h.85m-.3 .1h.85m-10.4 .1h.85m-16.9 .1h.85m28.7 0h.85m-36.8 .3h.85m26 0h.85m1.9 0h.85m-31.6 .5h.85m20.2 .3h.85m-13.7 .5h.85m-1.4 .1h.85m-8.4 .3h.85m5.8 .5h.85m-7.4 .2h.85m-1.7 .1h.85m-1.3 2h.85m6.1 2.8h.85m.8 .7h.85m-8.2 .5h.85m3.9 .4h.85m.8 0h.85m-2.2 .2h.85m0 .3h.85m-.2 .3h.85m-1.8 .3h.85m-6.5 .8h.85m-1.7 1.4h.85m6.4 .1h.85m-8.4 .9h.85m-.8 .9h.85m-1.7 .6h.85m-.7 .2h.85m8 0h.85m-9.4 .4h.85m8 .5h.85m-10.7 .3h.85m-.1 .5h.85m-1.9 1.4h.85m11.2 .1h.85m12.3 0h.85m1 .2h.85m-4.6 .1h.85m2.9 .2h.85m-11 .1h.85m2.2 .3h.85m3.3 0h.85m3.5 .2h.85m-17.4 .5h.85m8.9 .1h.85m-11 .1h.85m2.5 0h.85m-3.3 .1h.85m-13.8 .1h.85m15.6 0h.85m9 0h.85m2 .1h.85m1.3 .1h.85m-16.2 .1h.85m-.6 .1h.85m2.2 0h.85m-4.1 .1h.85m7 0h.85m-11.7 .1h.85m22.2 .2h.85m-17.4 .3h.85m1.4 0h.85m2.8 0h.85m4.2 0h.85m1.9 .1h.85m8.3 0h.85m-43.1 .1h.85m30.1 .1h.85m2 0h.85m-18.6 .1h.85m-.5 0h.85m-4.4 .1h.85m11.3 0h.85m-3.1 .1h.85m-10.2 .3h.85m-.4 0h.85m.9 0h.85m18.8 .1h.85m-5.1 .2h.85m7.4 0h.85m-7.9 .4h.85m-11.2 .1h.85m5 0h.85m1.2 .1h.85m3 0h.85m-17.6 .2h.85m-2.8 .1h.85m16.2 .2h.85m4.2 .2h.85m-1 .1h.85m3.9 0h.85m-25 .1h.85m18.2 0h.85m-8.6 .1h.85m-2.7 .1h.85m6 0h.85m6.2 0h.85m-1.8 .5h.85m-4.2 .1h.85m-19 .1h.85m16.4 .3h.85m2.4 0h.85m.9 .2h.85m-21.8 .2h.85m21.9 0h.85m-2.1 .1h.85m-3.4 .1h.85m-2.4 .1h.85m6.4 .1h.85m-12.1 .2h.85m5.2 0h.85m1.6 0h.85m-43.8 .2h.85m41.8 0h.85m.4 0h.85m-13.8 .1h.85m11.7 0h.85m-0 0h.85m-6.2 .4h.85m2.8 .2h.85m-6.7 .3h.85m-.7 .3h.85m4.6 .1h.85m-26.8 .2h.85m28.6 .1h.85m-12 .1h.85m6.6 0h.85m-22.5 .1h.85m12.6 .1h.85m11.8 .2h.85m-29.8 .1h.85m11.7 0h.85m3.6 0h.85m-9.9 .1h.85m11.2 .1h.85m6.1 .2h.85m-2 .2h.85m-8.7 .2h.85m10.4 0h.85m-4.8 .2h.85m4.2 .2h.85m-1.8 .2h.85m-9.8 .1h.85m10.1 0h.85m-10.4 .1h.85m2.4 0h.85m6.2 0h.85m-11.8 .1h.85m-18.9 .1h.85m18.4 0h.85m-9.1 .1h.85m-12.1 .1h.85m7.4 0h.85m-29.2 .1h.85m18.2 .1h.85m18.9 0h.85m-12.2 .1h.85m12.2 .1h.85m-21.4 .2h.85m-0 .2h.85m14.7 0h.85m4.6 0h.85m-2.6 .1h.85m1.2 .1h.85m-6.6 .1h.85m1.5 0h.85m-24.9 .1h.85m11.4 0h.85m-.1 0h.85m7.4 0h.85m-4.7 .1h.85m9.3 .1h.85m-22.8 .2h.85m23 0h.85m-20.5 .1h.85m-25.8 .2h.85m.8 0h.85m35.6 0h.85m-13.4 .1h.85m9.5 0h.85m0 0h.85m-13.7 .1h.85m5.5 0h.85m4 0h.85m-.7 0h.85m4.9 .1h.85m-6.5 .1h.85m5.5 0h.85m-17.9 .1h.85m.3 0h.85m-.5 0h.85m-26 .1h.85m24.5 0h.85m-2.6 .1h.85m.9 .1h.85m-1.5 .2h.85m.5 0h.85m-4.5 .1h.85m1.8 0h.85m-13 .1h.85m9.2 0h.85m-8.1 .3h.85m2.3 .1h.85m-.6 0h.85m4.9 0h.85m6.2 0h.85m-18.6 .1h.85m.4 .1h.85m8.9 0h.85m7.5 0h.85m-11.2 .1h.85m4.8 0h.85m.2 .1h.85m-17.5 .1h.85m10.5 0h.85m-7.8 .1h.85m9.8 .1h.85m-17.1 .1h.85m7 .4h.85m1.8 0h.85m2.4 0h.85m2.6 .2h.85m-18.8 .1h.85m1.1 .1h.85m-12.7 .2h.85m11.6 .1h.85m-1.5 .1h.85m-12 1.5h.85m-.8 .7h.85m-1 .1h.85"/>
<path stroke="rgb(30, 114, 255)" stroke-width="0.85" d="M63.6 53.9h.85m-30.2 .4h.85m1.6 0h.85m23.6 .1h.85m-.4 .1h.85m-26 .1h.85m17.9 .4h.85m-.2 0h.85m5.4 0h.85m2.2 0h.85m-10.8 .1h.85m-19.5 .1h.85m16.8 0h.85m13.5 0h.85m-34.6 .1h.85m.6 0h.85m28.2 0h.85m-30.4 .2h.85m-.7 .1h.85m22.4 0h.85m8.2 .1h.85m.9 0h.85m-7.3 .1h.85m2.6 0h.85m-1.7 .1h.85m.6 0h.85m-11.8 .1h.85m3.8 0h.85m6 0h.85m-16.2 .1h.85m8.4 0h.85m-8.4 .2h.85m1.9 0h.85m-3.6 .1h.85m10.8 0h.85m-34.6 .1h.85m28.2 0h.85m-30.8 .2h.85m5.2 0h.85m18.5 0h.85m3.6 0h.85m.3 0h.85m-8.5 .1h.85m3.7 .3h.85m.6 .1h.85m3.9 0h.85m-6.9 .1h.85m2.9 0h.85m-28.2 1h.85m27.2 .1h.85m-2.1 .2h.85m-24.5 .9h.85m-9.2 .1h.85m0 .8h.85m5.9 .1h.85m-1.4 .2h.85m-7.1 .3h.85m-1.4 .7h.85m6.6 .4h.85m-1.6 .3h.85m-2.2 .3h.85m-5.5 .1h.85m-2 .1h.85m-.4 0h.85m-.5 .1h.85m5.8 .3h.85m-6.8 .9h.85m-1.2 .2h.85m-1.2 .2h.85m5.9 .1h.85m-1.6 .3h.85m-6.2 .2h.85m.5 .2h.85m-3.3 .5h.85m-.7 0h.85m-.4 .4h.85m4.2 .1h.85m0 0h.85m-.5 .3h.85m-.7 .2h.85m-6.9 .3h.85m-.1 .1h.85m-2.4 .5h.85m5.3 .3h.85m-1 .5h.85m-6.1 .5h.85m-1.1 .1h.85m-2.2 .2h.85m6.4 .2h.85m-1 .6h.85m-8 .7h.85m6.4 0h.85m-.7 .7h.85m-.1 .2h.85m-9.9 1.9h.85m-.8 0h.85m-.4 .2h.85m-1.1 .2h.85m-1.2 .3h.85m8.3 .1h.85m-.2 .3h.85m.5 .3h.85m-2.2 .2h.85m-10.2 .4h.85m-1.6 .4h.85m-.7 .1h.85m23.4 .3h.85m-12 .8h.85m0 .1h.85m-3.6 .1h.85m8.8 .1h.85m-10.8 .2h.85m.3 0h.85m.9 0h.85m11.8 0h.85m-7.1 .2h.85m-3.1 .4h.85m-.4 0h.85m10.2 .2h.85m-18.5 .1h.85m11.8 0h.85m2.2 0h.85m-14.6 .2h.85m3.2 0h.85m4.2 0h.85m-6.5 .1h.85m6 0h.85m.5 .1h.85m1.3 0h.85m-8.8 .1h.85m1 0h.85m-23.1 .1h.85m19.2 0h.85m.5 .1h.85m6 0h.85m5.8 0h.85m-23.8 .1h.85m3.6 0h.85m2.2 0h.85m-20.8 .2h.85m12.2 0h.85m8.9 0h.85m.3 0h.85m-6.8 .4h.85m7.2 0h.85m-26.6 .1h.85m12.9 0h.85m17 0h.85m-32.2 .1h.85m17.4 0h.85m12 .1h.85m1.3 .1h.85m-19.5 .1h.85m7.6 0h.85m-.1 0h.85m1.6 0h.85m7.2 0h.85m3.1 0h.85m-22.8 .1h.85m17.2 0h.85m-19.8 .1h.85m11.6 0h.85m-5.7 .1h.85m1 0h.85m2.9 0h.85m-7.2 .1h.85m8.3 0h.85m-.7 0h.85m4.5 0h.85m-16.4 .1h.85m3.3 0h.85m10 .3h.85m-37.4 .1h.85m22 .1h.85m10.3 0h.85m8.8 .1h.85m-23.8 .1h.85m9 0h.85m2 0h.85m1.2 0h.85m-18 .1h.85m16.7 0h.85m3.6 0h.85m-11.3 .2h.85m1.8 .1h.85m-3.2 .1h.85m-8.6 .1h.85m2.6 .1h.85m.4 0h.85m-8.2 .2h.85m1 .3h.85m11.5 0h.85m-18.6 .1h.85m6.4 .1h.85m13.9 0h.85m-22.4 .1h.85m16.5 0h.85m.3 0h.85m1.5 0h.85m-1.2 .1h.85m-38.7 .1h.85m21.9 0h.85m9.5 0h.85m4.3 0h.85m8 0h.85m-11.1 .1h.85m10.1 0h.85m-22.8 .2h.85m3.6 0h.85m1.9 0h.85m2.4 0h.85m3.9 .3h.85m-17.2 .1h.85m11.7 .1h.85m-6.5 .4h.85m13.6 .1h.85m-13.7 .1h.85m-0 0h.85m9.7 .2h.85m-10.7 .1h.85m-7.5 .1h.85m9.6 0h.85m.9 0h.85m-12.2 .1h.85m1.5 0h.85m9.1 .1h.85m-15.2 .2h.85m.9 0h.85m-4.1 .1h.85m7.6 0h.85m3.5 0h.85m-1.5 .1h.85m8.4 0h.85m-3.7 .1h.85m1.7 .1h.85m1.4 0h.85m-14.2 .2h.85m6.1 .1h.85m-.6 .1h.85m-13 .1h.85m15.3 0h.85m-47.6 .1h.85m19.3 0h.85m22.1 0h.85m-14.2 .1h.85m-4.6 .2h.85m1.8 0h.85m4 .1h.85m7.5 0h.85m-22.8 .1h.85m-7.1 .1h.85m16.8 0h.85m8.4 0h.85m-13.7 .2h.85m-13 .1h.85m-.4 0h.85m13.8 .3h.85m5.5 0h.85m7.6 0h.85m-22.5 .2h.85m-.6 0h.85m-.7 0h.85m-.1 0h.85m9.1 0h.85m-18.3 .1h.85m-.5 0h.85m-2 .1h.85m17.5 0h.85m-12.2 .1h.85m10.5 0h.85m-3 .2h.85m-15.8 .1h.85m17.8 0h.85m.2 0h.85m-15 .1h.85m7.2 .1h.85m-14.4 .1h.85m-3 .1h.85m1.4 0h.85m11.6 0h.85m3.3 0h.85m-5.6 .1h.85m7.4 0h.85m.7 0h.85m-24.8 .1h.85m15.4 0h.85m-16.7 .4h.85m-3 .1h.85m.3 .1h.85m15.6 0h.85m-15.8 .1h.85m6 0h.85m4.8 0h.85m8.7 0h.85m-8.6 .1h.85m2.2 .1h.85m10.2 .1h.85m-24.2 .1h.85m5 .2h.85m-13.4 .1h.85m18.7 0h.85m-34 .1h.85m21.8 0h.85m-1.4 .1h.85m-9.4 .1h.85m.7 0h.85m-16.3 .1h.85m23.3 0h.85m2.2 0h.85m.5 0h.85m-13 .1h.85m7.3 0h.85m2.2 0h.85m-13 .1h.85m13.6 0h.85m-19.2 .1h.85m9.2 0h.85m8.1 0h.85m-13.6 .1h.85m3.9 0h.85m2.2 0h.85m-1.8 .1h.85m9.6 .1h.85m-36.2 .1h.85m14 0h.85m-3.6 .1h.85m.5 .3h.85m-2.2 .3h.85m-12.5 .2h.85m9.1 0h.85m-.8 .4h.85m1.7 .1h.85m-3.1 .4h.85m-.5 0h.85m-11 .5h.85m.6 .2h.85m-1.4 1.3h.85m5.6 .3h.85"/>
<path stroke="rgb(30, 126, 255)" stroke-width="0.85" d="M34.4 53.7h.85m25.4 .7h.85m2.4 .1h.85m-31.4 .3h.85m1.4 .5h.85m19.2 0h.85m-22.7 .1h.85m-.7 .1h.85m2.3 0h.85m19 .1h.85m-26 .2h.85m5.6 0h.85m-2 .2h.85m17.6 .1h.85m-.7 0h.85m3.8 0h.85m1.9 .1h.85m-26.2 .1h.85m25 0h.85m-1.2 .1h.85m-.4 0h.85m.6 0h.85m-5.9 .1h.85m-.6 .1h.85m.9 0h.85m-1 .1h.85m.8 0h.85m-10.4 .2h.85m3.8 .1h.85m.9 .1h.85m-29.6 .1h.85m6 0h.85m-6.4 .2h.85m.2 .1h.85m3.6 .7h.85m16.5 0h.85m-24.1 .4h.85m4 .7h.85m-.4 .8h.85m-7.1 .3h.85m-1.5 .2h.85m6.1 0h.85m-1.8 .2h.85m-.8 .4h.85m.3 .3h.85m-1 .2h.85m-6.5 .2h.85m-1.6 .1h.85m5 .2h.85m-6.9 .6h.85m.3 .2h.85m4.2 .3h.85m-1.1 .1h.85m-5.4 .5h.85m-1.2 .4h.85m1.5 .1h.85m1 .4h.85m-5.1 .8h.85m-1.5 .1h.85m-.2 .2h.85m.7 .3h.85m-2.6 .1h.85m3.3 .2h.85m-3.8 .3h.85m2.8 .1h.85m-.8 1.1h.85m-1.6 .1h.85m-.2 0h.85m-.7 1.9h.85m.3 .8h.85m-1.2 .8h.85m-.8 .2h.85m-.7 0h.85m-8 .5h.85m5.9 .1h.85m-7.6 .7h.85m-2 1.6h.85m-.5 .6h.85m7.7 0h.85m-.4 0h.85m-.2 .1h.85m-1.6 .5h.85m.3 .4h.85m-11 1.1h.85m-2.6 .1h.85m.2 0h.85m-1.4 .3h.85m11.4 .3h.85m-1 .1h.85m7.3 0h.85m4.8 0h.85m-26.6 .1h.85m13 .3h.85m6 0h.85m-8.7 .1h.85m4.3 .1h.85m-5.6 .2h.85m17.6 0h.85m-16.8 .1h.85m6.9 0h.85m.5 .1h.85m-26.2 .1h.85m21.2 0h.85m9 0h.85m-16.6 .2h.85m9.9 0h.85m.8 .1h.85m-3.5 .1h.85m0 .1h.85m2.9 0h.85m-16.4 .1h.85m9.5 .2h.85m-1.1 .1h.85m-12.9 .2h.85m15.3 0h.85m-12 .1h.85m18.8 .1h.85m-25.2 .1h.85m5.2 0h.85m-.2 0h.85m4.7 0h.85m3 0h.85m-13.4 .1h.85m5.8 0h.85m-6.2 .1h.85m-1.2 .1h.85m12.5 0h.85m-17.5 .1h.85m3.3 0h.85m5.4 .1h.85m6.8 0h.85m-19.8 .1h.85m8.2 0h.85m13 0h.85m-18.3 .2h.85m16.5 0h.85m-18.4 .1h.85m.9 0h.85m8.8 0h.85m-.8 0h.85m-4.5 .1h.85m-3.7 .1h.85m10.2 .1h.85m1.7 0h.85m-17.4 .1h.85m5.9 0h.85m12.5 .1h.85m-15.6 .2h.85m10.2 0h.85m-6.9 .1h.85m-11.7 .1h.85m3.9 0h.85m5.4 .1h.85m1.5 0h.85m-20 .1h.85m10.2 .1h.85m10.6 0h.85m-21.5 .1h.85m15.4 0h.85m-7.5 .1h.85m4.6 0h.85m1 0h.85m-20.5 .1h.85m19.8 .1h.85m-20.2 .1h.85m2.8 0h.85m-.7 0h.85m16.7 .1h.85m-11.6 .1h.85m12.9 0h.85m-20.8 .1h.85m19.1 0h.85m-25.8 .2h.85m2 0h.85m5.4 0h.85m7.5 0h.85m-4.1 .1h.85m-14.4 .1h.85m-16.6 .2h.85m20.7 0h.85m16 0h.85m-10.9 .2h.85m-8.6 .1h.85m17.6 0h.85m-13.5 .1h.85m7.2 0h.85m-.7 0h.85m-17.7 .2h.85m4.2 0h.85m.3 0h.85m1.4 0h.85m14.9 0h.85m8.7 .1h.85m-53.2 .1h.85m-1 .1h.85m17.3 0h.85m13.9 0h.85m-16.7 .1h.85m4.5 .4h.85m-1.6 .2h.85m8.9 0h.85m-1 .1h.85m-31.2 .1h.85m36.6 0h.85m1.9 0h.85m-14.4 .1h.85m-28.2 .2h.85m22.4 0h.85m5.8 0h.85m8.7 0h.85m-24.2 .2h.85m7.8 .1h.85m.8 0h.85m4 0h.85m5.1 0h.85m.9 0h.85m7.6 0h.85m-8.5 .1h.85m-25.2 .1h.85m9.5 0h.85m-2.4 .1h.85m7.6 0h.85m5.8 0h.85m-21.2 .1h.85m.6 0h.85m-.1 0h.85m-3.5 .1h.85m1.6 0h.85m5.8 .1h.85m2.3 0h.85m1.3 0h.85m6.4 0h.85m-2.1 .1h.85m-15.8 .1h.85m4.5 .1h.85m-7.5 .1h.85m-9.6 .1h.85m-.2 0h.85m17 0h.85m7.4 0h.85m-9 .1h.85m2.4 0h.85m-.6 0h.85m-20.6 .1h.85m24.1 0h.85m-42.3 .1h.85m21.2 0h.85m5.3 0h.85m8.4 0h.85m7.2 0h.85m-17.2 .1h.85m-.8 0h.85m9.2 0h.85m-22.2 .1h.85m11 0h.85m-4 .1h.85m8.3 0h.85m-19.8 .1h.85m7.8 0h.85m5.9 0h.85m11 0h.85m-20.8 .1h.85m-7.2 .1h.85m11.9 0h.85m-1.5 .1h.85m-.8 0h.85m-7 .1h.85m4.3 0h.85m13 0h.85m-16.6 .1h.85m-5.1 .1h.85m5.5 .1h.85m-14.8 .2h.85m7 0h.85m-.2 0h.85m13.7 0h.85m-26.2 .1h.85m15.3 0h.85m-29.3 .1h.85m21.2 0h.85m13.8 0h.85m-21.6 .1h.85m5.8 0h.85m2.3 0h.85m4.8 0h.85m-13.4 .1h.85m13.3 0h.85m8.2 0h.85m-29.1 .1h.85m.5 .1h.85m.4 0h.85m16.5 0h.85m1.7 0h.85m1.8 0h.85m-15.8 .1h.85m1.6 0h.85m1.7 .1h.85m-7.8 .1h.85m6.6 0h.85m-7.7 .1h.85m1 .3h.85m1.8 .1h.85m-9.6 .1h.85m-2.2 .2h.85m-17.3 .1h.85m24.2 0h.85m-25.4 .6h.85m26 .2h.85m-27.9 .4h.85m-.4 0h.85m8.6 .8h.85m-2.1 1.6h.85m-2.6 1.2h.85m-2.2 .1h.85"/>
<path stroke="rgb(18, 126, 255)" stroke-width="0.85" d="M34.3 56.2h.85m-2.2 .3h.85m29.4 .1h.85m-26.8 .2h.85m21.2 .6h.85m-26.8 3h.85m-0 3.1h.85m.8 .6h.85m-1.4 1.1h.85m0 0h.85m0 4h.85m-5.8 .9h.85m-3.8 9.2h.85m23 .7h.85m5.5 1h.85m.2 .2h.85m-5.1 .3h.85m5.2 0h.85m-16.8 .3h.85m10.3 .1h.85m-3.7 .1h.85m-5.1 .1h.85m15.9 .1h.85m-22.3 .8h.85m-4 .1h.85m-1.2 .1h.85m6 0h.85m-7.2 .1h.85m11.4 0h.85m2.6 0h.85m-1.4 .1h.85m1 .1h.85m-12.2 .3h.85m-4.7 .1h.85m11.4 0h.85m5.6 0h.85m-5.2 .2h.85m-1.5 .6h.85m-15 .3h.85m11.6 .2h.85m5.2 .4h.85m-0 0h.85m3.6 .6h.85m-6.6 .6h.85m-15 .4h.85m13.3 0h.85m4.5 0h.85m-22.7 .6h.85m4.2 0h.85m-3.4 .3h.85m9.8 .1h.85m-3.7 .2h.85m-28.2 .4h.85m15.2 .4h.85m9 .4h.85m-1.7 .3h.85m5.4 0h.85m-7.6 .2h.85m-11.8 .9h.85m-13.9 .2h.85m10.8 .2h.85m-2.5 1.9h.85"/>
<path stroke="rgb(18, 138, 255)" stroke-width="0.85" d="M61.4 54.2h.85m-.5 .5h.85m-1.3 .1h.85m-25.4 .3h.85m24.8 .2h.85m-1.5 .1h.85m2.6 0h.85m-29.1 .1h.85m23.5 0h.85m-26 .3h.85m25.8 .1h.85m-3.1 .2h.85m-23.8 .1h.85m-2.7 .2h.85m-4 .6h.85m31.6 .5h.85m-32.2 .1h.85m4.2 .3h.85m-7 .6h.85m0 .5h.85m-1 .1h.85m3 .5h.85m-.7 .1h.85m0 .4h.85m-1.2 .3h.85m-2.8 .3h.85m-3.4 .2h.85m3.4 0h.85m-1.1 .1h.85m-5.1 .3h.85m.3 .6h.85m1.2 .4h.85m-1.1 .1h.85m-3.8 .2h.85m2.5 .4h.85m-4.4 .1h.85m-.7 .2h.85m.8 0h.85m-.5 .3h.85m-3.7 .1h.85m3 .1h.85m-0 .1h.85m-4.3 .2h.85m3.6 0h.85m-5.8 .1h.85m2.7 .1h.85m-3 .3h.85m2 .1h.85m-.6 0h.85m-3.5 .3h.85m-2.6 .3h.85m2.5 0h.85m-3.4 .2h.85m0 .5h.85m-2.7 .2h.85m2.5 .4h.85m-3.6 .1h.85m-1 1h.85m-2 .1h.85m.2 .3h.85m3.3 .1h.85m-1.7 .2h.85m-3.7 .1h.85m2.3 .2h.85m-4.2 .2h.85m-3.1 .3h.85m.2 1.3h.85m3.9 .3h.85m1.2 0h.85m-8.3 .3h.85m5.7 .4h.85m-6.8 .1h.85m4.9 .1h.85m-7.6 .4h.85m-1.4 .9h.85m6.8 .2h.85m-8.5 .1h.85m.8 .2h.85m-1.7 .1h.85m7.1 .2h.85m-1.5 1h.85m-10 .8h.85m1 .1h.85m7 0h.85m-.4 .1h.85m-2.1 .1h.85m-.4 .6h.85m-.5 .5h.85m1.8 .5h.85m-2.3 .5h.85m-11.8 .1h.85m10.1 0h.85m-1.4 .2h.85m-.8 .1h.85m-11.8 .1h.85m10 0h.85m15.6 0h.85m-17.5 .1h.85m.8 .2h.85m-12.8 .1h.85m9.4 0h.85m1.6 .1h.85m3.6 .3h.85m10.3 .1h.85m-8 .1h.85m-9.9 .1h.85m-1.8 .1h.85m-.1 .2h.85m-.6 0h.85m7.6 0h.85m.4 0h.85m-6.2 .2h.85m.8 0h.85m2.5 .2h.85m0 0h.85m-24 .2h.85m10.5 .1h.85m5.7 0h.85m5.6 0h.85m3.2 0h.85m-.7 0h.85m-16 .2h.85m20 .1h.85m-17.1 .1h.85m-5.5 .1h.85m3.2 0h.85m5 .2h.85m-10.7 .1h.85m14.9 0h.85m-5.1 .1h.85m-8.8 .1h.85m-17.3 .1h.85m23.1 0h.85m1.1 0h.85m-15.2 .1h.85m3 0h.85m.6 0h.85m8.4 0h.85m.9 0h.85m-8.4 .1h.85m-.4 0h.85m-8.8 .1h.85m.9 0h.85m8.3 0h.85m7.5 0h.85m-13.2 .1h.85m10.3 0h.85m-32 .1h.85m12.2 0h.85m20.6 0h.85m-17.4 .1h.85m10 0h.85m4.2 0h.85m-14.8 .1h.85m10.8 0h.85m-12 .2h.85m1.8 0h.85m5.6 .1h.85m2.8 0h.85m-5.1 .1h.85m7 0h.85m-2.3 .1h.85m5.1 0h.85m-30.6 .1h.85m3 0h.85m10.8 .1h.85m-28.9 .1h.85m36.5 0h.85m-18 .1h.85m2.5 0h.85m1.6 0h.85m2.1 0h.85m-3.1 .1h.85m11.4 0h.85m-7.4 .1h.85m-16.1 .1h.85m12.6 0h.85m-17.2 .1h.85m-.6 .1h.85m18.2 0h.85m-4.2 .1h.85m-.7 0h.85m6.8 0h.85m-16.8 .1h.85m2.6 0h.85m9.6 0h.85m-17.2 .1h.85m3.9 0h.85m-.7 0h.85m7.2 0h.85m5.9 0h.85m-.1 0h.85m-9.5 .1h.85m2 0h.85m-18.2 .1h.85m8.3 0h.85m-12.1 .1h.85m1.5 0h.85m.6 0h.85m-3.8 .1h.85m14.6 0h.85m-9.4 .1h.85m11.8 0h.85m1 0h.85m-23.9 .1h.85m4.6 0h.85m.5 0h.85m7.6 0h.85m-29.8 .1h.85m20.4 0h.85m6.9 0h.85m1.2 0h.85m3.4 0h.85m-19.2 .1h.85m9.4 0h.85m.5 .1h.85m.6 0h.85m3.5 0h.85m5.2 0h.85m-22.4 .1h.85m-.7 .1h.85m1 0h.85m-8.7 .1h.85m1.5 0h.85m-.4 0h.85m11.4 0h.85m-.6 0h.85m-15 .1h.85m7.2 0h.85m1.9 0h.85m2.5 0h.85m-.6 0h.85m.4 0h.85m-13.7 .2h.85m-.8 0h.85m6.8 0h.85m-.2 .1h.85m-27.8 .1h.85m-.5 0h.85m20.2 0h.85m-8.2 .1h.85m2.9 0h.85m0 0h.85m-19.2 .1h.85m15.6 .2h.85m16.8 0h.85m-.7 0h.85m-15 .1h.85m5.2 0h.85m8.2 0h.85m-36 .1h.85m20.8 0h.85m6.2 .1h.85m9.8 0h.85m-11 .1h.85m-.4 0h.85m.9 0h.85m-8.8 .1h.85m12.2 0h.85m-17.2 .1h.85m8.1 .1h.85m6.9 0h.85m-17.2 .1h.85m6.9 0h.85m-2.1 .1h.85m.2 0h.85m8.8 0h.85m-17.6 .1h.85m4.8 0h.85m8 0h.85m-.1 0h.85m-5.9 .1h.85m7.2 0h.85m-24.6 .2h.85m2.3 0h.85m2 0h.85m5.9 0h.85m-7.6 .1h.85m7.8 .1h.85m-15.7 .1h.85m6.3 0h.85m1.4 0h.85m-9.7 .3h.85m15.8 0h.85m-18.5 .1h.85m13.5 0h.85m-3.5 .1h.85m9.4 0h.85m.4 0h.85m-9.4 .1h.85m-6.6 .1h.85m10.3 0h.85m.5 0h.85m1 0h.85m-20.2 .1h.85m-2.1 .1h.85m7 0h.85m-9.3 .1h.85m-0 0h.85m11.3 0h.85m.3 0h.85m-11 .1h.85m-3.5 .1h.85m6.2 0h.85m-3.2 .1h.85m5.6 0h.85m-29.4 .1h.85m21 0h.85m-9.7 .1h.85m5.6 .1h.85m5 0h.85m5.8 .2h.85m-32.6 .2h.85m36.7 .1h.85m-26.7 .1h.85m4.6 0h.85m6.5 .1h.85m-14.4 .4h.85m19.9 .6h.85m-.7 .1h.85m-32.8 .7h.85m-.2 .4h.85m9.2 .2h.85m-2 .7h.85m-.1 .1h.85m-8.6 1.4h.85m-1.1 .3h.85m4.3 .4h.85m-5 .5h.85m-.2 0h.85"/>
<path stroke="rgb(18, 150, 255)" stroke-width="0.85" d="M61.5 55.1h.85m1.4 .3h.85m-4.8 .2h.85m-27 .6h.85m21.4 0h.85m-20.5 .3h.85m-1.6 .5h.85m.9 0h.85m-4.3 .1h.85m-.6 0h.85m-1.2 .3h.85m.6 .7h.85m-.8 .1h.85m-2.4 .2h.85m1.6 .6h.85m-4.2 .2h.85m4.2 0h.85m-6 .1h.85m1.3 0h.85m1.3 0h.85m-2.8 .2h.85m-1.1 .1h.85m2.5 .1h.85m-1.8 .2h.85m-2.5 .8h.85m.5 .4h.85m-4.8 .1h.85m2.3 .3h.85m-1.6 .1h.85m-2.2 .4h.85m-.8 .3h.85m-1 .1h.85m2.2 .1h.85m-3.2 .3h.85m1.7 .2h.85m-2.7 .1h.85m-3.5 .2h.85m2.5 .2h.85m-2.2 .4h.85m.6 .1h.85m-2.6 .4h.85m-.8 .5h.85m.9 0h.85m-2.1 .3h.85m1.2 .1h.85m-2.8 .1h.85m-.1 .1h.85m-.6 0h.85m-3.1 .4h.85m1.5 0h.85m-1.7 .5h.85m-2.1 .3h.85m.6 .2h.85m-2 .3h.85m.5 .2h.85m-.5 0h.85m.5 .1h.85m-2.5 .1h.85m-3.7 .3h.85m-.2 0h.85m1.3 .3h.85m-3.9 .3h.85m1.4 0h.85m.8 .1h.85m-4.1 .1h.85m3.2 0h.85m-4.1 .3h.85m1.9 .2h.85m-1.2 .1h.85m-5.8 .3h.85m1 .3h.85m3.4 .4h.85m-5.1 .4h.85m-1 .2h.85m3.6 .4h.85m-5.8 .2h.85m-.2 .3h.85m3.8 .2h.85m.4 0h.85m-1.4 .1h.85m-7.1 .7h.85m5.3 1.4h.85m-1.2 .7h.85m-.5 0h.85m-8.6 .1h.85m7.7 .5h.85m-.1 0h.85m-1.6 .7h.85m-9.5 .1h.85m7.2 .5h.85m-.4 0h.85m-10.5 .3h.85m9.8 .3h.85m-2 .1h.85m-.2 .3h.85m-10.6 .1h.85m9.3 .2h.85m-1.2 .8h.85m-11 .1h.85m10.3 0h.85m1.9 0h.85m-1.1 .1h.85m-3.4 .3h.85m9 0h.85m-11.6 .1h.85m6.8 .6h.85m7 .2h.85m-7 .2h.85m-7.8 .2h.85m-2.3 .1h.85m-1 .3h.85m7.9 .2h.85m-20.8 .1h.85m10.4 .3h.85m-.8 0h.85m-.7 0h.85m10 .2h.85m-7.6 .3h.85m9.4 .1h.85m.6 0h.85m-16.4 .3h.85m7 0h.85m0 0h.85m-7.6 .1h.85m2 0h.85m11.8 0h.85m-11.9 .1h.85m-.8 0h.85m-.4 0h.85m13.6 0h.85m-21.2 .1h.85m21.6 0h.85m-20.8 .1h.85m2.5 0h.85m-19.8 .1h.85m18.7 0h.85m-.8 .1h.85m-6.8 .1h.85m1.1 0h.85m3.3 0h.85m3.5 .1h.85m-10.7 .1h.85m4.2 0h.85m7.5 0h.85m-.3 .1h.85m-10.9 .1h.85m3.9 0h.85m6.4 0h.85m-19.5 .1h.85m26.6 0h.85m-14 .1h.85m-9.6 .1h.85m16.2 .1h.85m-10.5 .1h.85m-11.2 .1h.85m.8 .1h.85m10.6 0h.85m-16.2 .1h.85m13.8 0h.85m7.6 .1h.85m-14.8 .1h.85m-4.5 .1h.85m8.5 0h.85m4.3 0h.85m-20 .2h.85m-.6 0h.85m3.2 .1h.85m7.4 0h.85m.6 0h.85m.6 0h.85m-14.4 .1h.85m7.9 0h.85m2.9 0h.85m-13 .2h.85m1.5 0h.85m7.3 0h.85m-10 .4h.85m3.2 0h.85m3.5 0h.85m11.1 0h.85m-6.4 .1h.85m-5.2 .1h.85m7 0h.85m-21.4 .1h.85m4.3 0h.85m2.4 0h.85m4.8 0h.85m-5.6 .1h.85m6.7 0h.85m-7.9 .1h.85m2.4 0h.85m12.2 0h.85m-22.4 .1h.85m5.6 0h.85m-.4 0h.85m3.6 0h.85m-.5 0h.85m9.2 .1h.85m-17.5 .3h.85m-5.5 .1h.85m-.7 0h.85m5.5 0h.85m2.8 0h.85m-31.2 .1h.85m26.2 0h.85m6.4 0h.85m-2.5 .3h.85m-20.8 .1h.85m4 .1h.85m5.2 .1h.85m-10.6 .1h.85m12.2 0h.85m-13.8 .1h.85m.8 0h.85m-.1 0h.85m18.2 0h.85m-14.7 .1h.85m5.4 0h.85m2.9 .1h.85m-7.2 .2h.85m-25.6 .1h.85m28.4 .2h.85m6.5 0h.85m-16.4 .3h.85m1.9 0h.85m-12.1 .2h.85m10.6 0h.85m-8.2 .1h.85m8.3 0h.85m-14.8 .1h.85m-.4 .2h.85m7.6 0h.85m-8.4 .1h.85m13.9 .2h.85m-17.8 .4h.85m.8 0h.85m-3 2h.85m-9.8 .1h.85m8.4 .2h.85m-2.2 .9h.85m-.7 0h.85m-7.8 .2h.85m6 .1h.85m-7.5 .9h.85m4.9 0h.85m-6.9 .1h.85m-.2 .3h.85m2 .9h.85"/>
<path stroke="rgb(18, 162, 255)" stroke-width="0.85" d="M35.2 56.8h.85m.2 1.1h.85m-0 .4h.85m-3.7 .1h.85m-1.4 1h.85m2.9 .9h.85m-2.4 .6h.85m-3.2 .1h.85m-1.4 .1h.85m.9 .3h.85m-1.5 .7h.85m-.1 .1h.85m-2.2 .6h.85m.4 .4h.85m-0 .9h.85m-.8 2.7h.85m-2.8 1.7h.85m-2.7 .6h.85m-1 .1h.85m-.4 .2h.85m-.6 .4h.85m3.6 .3h.85m-1.2 .5h.85m-.1 .9h.85m.4 0h.85m-8 .2h.85m4.5 .1h.85m-.4 .7h.85m-4.7 .6h.85m-3.8 2.1h.85m8 2.3h.85m-.8 1.6h.85m.4 1.4h.85m0 0h.85m11.8 .5h.85m-26 .4h.85m11.6 .3h.85m4.3 .1h.85m-7.5 .3h.85m13 .7h.85m1.4 .3h.85m-4.5 .1h.85m.3 .6h.85m-11.5 .1h.85m11.1 .2h.85m-10.4 .2h.85m3.4 0h.85m3.2 0h.85m-8.6 .6h.85m12.4 0h.85m-18.4 .2h.85m1.4 0h.85m9.4 0h.85m-13.4 .1h.85m9.5 0h.85m1.4 .2h.85m-11 .1h.85m2 .3h.85m8.6 0h.85m-5.4 .1h.85m-24.2 .1h.85m-.7 0h.85m32.8 0h.85m-13.4 .1h.85m-5.2 .2h.85m-4.2 .4h.85m1.4 0h.85m12.4 0h.85m-17.8 .1h.85m0 .1h.85m-1.5 .2h.85m12.2 .3h.85m-.2 .4h.85m-.7 0h.85m-8.2 .1h.85m.3 .7h.85m12.3 .7h.85m-8.6 .5h.85m-15.1 1.4h.85m-3 2.8h.85m-2 .8h.85m-2 .5h.85"/>
<path stroke="rgb(6, 162, 255)" stroke-width="0.85" d="M33.7 57.4h.85m-.5 .6h.85m-2.2 .3h.85m-.2 1.4h.85m1.5 .5h.85m-1.4 .5h.85m-.5 .3h.85m-2.2 .6h.85m-.8 .1h.85m-1.2 .3h.85m-1.5 .8h.85m2.6 .7h.85m-2.8 1.7h.85m-.5 .5h.85m1.3 .4h.85m-2.7 .1h.85m-.5 0h.85m-2.7 .2h.85m-.4 .7h.85m-.8 .3h.85m-1.8 .3h.85m.2 .2h.85m1.2 0h.85m-2 .4h.85m-1.8 .2h.85m-1.5 .6h.85m1.5 .4h.85m-.1 0h.85m-3.7 .3h.85m1.3 0h.85m-4.7 .1h.85m2.4 0h.85m.8 .7h.85m-2 .1h.85m-4.6 1.3h.85m3.3 .3h.85m.6 .6h.85m-7.3 .4h.85m5.4 0h.85m-.8 .3h.85m-6.6 .3h.85m4.8 0h.85m-.8 .9h.85m-.5 .2h.85m-.4 .2h.85m-.6 .8h.85m-1.4 .9h.85m-.8 .2h.85m0 .2h.85m-1.5 1.3h.85m-.9 .9h.85m14.2 0h.85m-13.6 .7h.85m-12.2 .3h.85m30 .6h.85m-1.8 .2h.85m-4.1 .3h.85m-28.1 .2h.85m11.6 .8h.85m-.2 0h.85m9.2 .1h.85m-24.4 1h.85m20.8 0h.85m12 0h.85m-23.8 .1h.85m8.7 .2h.85m2.5 0h.85m-3.2 .1h.85m-3.8 .2h.85m3.2 0h.85m-23.2 .1h.85m26.4 .2h.85m-7.1 .2h.85m5.3 .1h.85m-28.4 .1h.85m-.5 .1h.85m12 .4h.85m11.8 0h.85m-14.1 .1h.85m5 .1h.85m-1 .1h.85m3.9 0h.85m5.9 0h.85m5.4 0h.85m-36.8 .2h.85m20.2 .1h.85m-8.4 .9h.85m-15 .2h.85m11.3 .2h.85m17.5 .6h.85m-19.4 .3h.85m5.8 .2h.85m-6.2 .1h.85m11.2 0h.85m-15 .2h.85m1.1 .2h.85m-13 .3h.85m11.2 .7h.85m-1.1 .6h.85m-2.6 .1h.85m-2 .7h.85m.4 1.1h.85m-1.8 .1h.85m-1.3 .2h.85m-8.2 1.1h.85m-.1 .3h.85m.3 .8h.85m1 .4h.85m.8 .2h.85m-4.5 .1h.85m.2 0h.85m.5 .2h.85"/>
<path stroke="rgb(6, 174, 255)" stroke-width="0.85" d="M34.1 56.7h.85m-1.2 .2h.85m1.6 .5h.85m-2.6 .5h.85m.3 0h.85m-1.7 .5h.85m.2 .2h.85m-1.1 .4h.85m-3.2 .4h.85m-1.2 .1h.85m1.9 0h.85m-1.4 .6h.85m-.2 .5h.85m.2 .8h.85m-2.2 .6h.85m-2.2 .4h.85m1.2 0h.85m-2.1 .1h.85m-.2 .4h.85m.5 .1h.85m-2.8 .1h.85m-2.1 .3h.85m1.9 0h.85m-1.8 .3h.85m0 0h.85m-1.4 1.3h.85m-2.5 .1h.85m-.6 1.4h.85m-2.1 .5h.85m.5 .5h.85m-1.7 .4h.85m.9 .2h.85m.3 0h.85m-2.2 .2h.85m-2.5 .2h.85m1.9 0h.85m-3.6 .1h.85m0 0h.85m.3 0h.85m-2 .2h.85m.3 .1h.85m-1.2 .1h.85m-.7 .6h.85m-.1 .1h.85m-.2 .2h.85m-2 .2h.85m-2.1 .2h.85m1.3 .2h.85m-4.6 .1h.85m-.5 0h.85m-.5 .2h.85m-1.2 .8h.85m2.1 0h.85m-4.5 .1h.85m-.7 .2h.85m2.8 .3h.85m-4.1 .2h.85m-.7 0h.85m3.3 0h.85m-6.6 .4h.85m2.9 .1h.85m.8 .3h.85m-6.2 .6h.85m.8 0h.85m3.2 .1h.85m-5.4 1h.85m-1.8 .1h.85m6.2 .4h.85m-2.6 .1h.85m-.5 .2h.85m-7.5 .3h.85m-.7 .5h.85m7.2 .4h.85m-8.5 .1h.85m6.1 .1h.85m-0 .1h.85m-2.2 .2h.85m-8 .1h.85m7.6 .1h.85m-1.7 .6h.85m-8.1 .2h.85m-.5 0h.85m-2.3 .5h.85m9 .1h.85m-1.2 .1h.85m-.5 .7h.85m.1 .3h.85m-12.1 .4h.85m-.7 .1h.85m9.2 0h.85m-10.4 .1h.85m11.4 .2h.85m6 0h.85m-20.3 .3h.85m25.2 .1h.85m-5.5 .3h.85m-12.5 .1h.85m-10.6 .1h.85m10.2 .1h.85m-13 .2h.85m13.7 0h.85m-2.7 .1h.85m-13.1 .2h.85m-.2 0h.85m12 0h.85m-3.1 .2h.85m-.5 .2h.85m-.2 .3h.85m-2.1 .1h.85m1.2 0h.85m-2.2 .8h.85m.2 0h.85m7 .3h.85m-3.2 .1h.85m7.2 .2h.85m-12.4 .3h.85m-1.5 .3h.85m-15.3 .2h.85m-0 0h.85m9.4 0h.85m-11.8 .4h.85m-1 .1h.85m26.3 .1h.85m-12.4 .1h.85m-15.4 .2h.85m-1.7 .1h.85m11 .1h.85m10.6 .8h.85m-12.2 .4h.85m.6 0h.85m-3 1h.85m-11.6 .2h.85m-1 .8h.85m9.5 0h.85m-10.7 .1h.85m8.9 0h.85m-.7 .5h.85m-1.8 1.1h.85m-9.2 .1h.85m7.3 .3h.85m-.1 0h.85m-.8 .1h.85m-1.8 .5h.85m-8.1 1h.85m5.6 .3h.85m-.6 0h.85m-.6 0h.85m-2.4 .2h.85m-5.7 .3h.85m-.7 .4h.85m4.4 .1h.85m-5.5 .1h.85m2.3 0h.85m-.1 0h.85m-1.2 .2h.85m-.2 0h.85m-4.8 .3h.85m-.4 0h.85m-.6 0h.85m.2 0h.85m.3 .2h.85m-2 .4h.85m.2 .1h.85"/>
<path stroke="rgb(6, 186, 255)" stroke-width="0.85" d="M35.1 58.2h.85m-1.7 .3h.85m.5 2.5h.85m-2.7 .7h.85m-.2 1.1h.85m-1.6 2.3h.85m-1.2 2.7h.85m.9 .8h.85m-2.6 .3h.85m-.2 .4h.85m.9 .1h.85m-2.1 .1h.85m-2 .4h.85m2 .1h.85m-2.2 .1h.85m-.7 0h.85m.3 .1h.85m-3.6 .1h.85m1.6 .1h.85m-3.4 .2h.85m.6 0h.85m-2.5 .5h.85m-1.4 .1h.85m.8 .2h.85m.2 .4h.85m-3.4 .3h.85m2.4 .2h.85m-3 .6h.85m-2.5 .3h.85m2.9 .1h.85m-1.6 .4h.85m.6 .6h.85m-.2 0h.85m-1.6 .1h.85m-.2 0h.85m-5.5 .1h.85m4.2 .2h.85m-6.4 .1h.85m-.7 .3h.85m4.2 .1h.85m-5.5 .1h.85m3.3 0h.85m-6.1 .6h.85m5.4 .2h.85m-1.7 .3h.85m0 0h.85m-8.7 .2h.85m.6 .3h.85m6.3 .2h.85m-7.5 .2h.85m5.1 0h.85m-.6 0h.85m-1 .2h.85m-7.9 .7h.85m-.8 .6h.85m6.5 .1h.85m0 .1h.85m-10 .3h.85m-.3 .2h.85m8 0h.85m-9.3 .3h.85m-1.8 .5h.85m8 .1h.85m-10.3 .3h.85m9.2 .6h.85m-10.1 .2h.85m-1.8 .2h.85m10 .2h.85m-.1 0h.85m-1.8 .7h.85m-1.7 .1h.85m.2 0h.85m-11.8 .1h.85m-.5 0h.85m-1.2 .2h.85m10.2 0h.85m-11.4 .2h.85m9.5 .1h.85m1.4 .8h.85m-3.4 .2h.85m-.6 .5h.85m-1.8 .1h.85m11.6 .2h.85m-9.8 .2h.85m-3 .3h.85m-12.2 .3h.85m10.1 .5h.85m-.1 .2h.85m13.8 0h.85m-16.1 .5h.85m-12.1 .2h.85m11 0h.85m-1.2 .1h.85m-.4 .1h.85m-12.3 .1h.85m11.8 0h.85m-4 .3h.85m-10.7 .8h.85m9.9 .1h.85m-.1 .2h.85m-3 .6h.85m-1.1 .4h.85m-9.2 .2h.85m7.7 .5h.85m-9 .2h.85m-1.4 .2h.85m8.8 .1h.85m-2.1 .2h.85m-.6 0h.85m-9.1 .1h.85m8 .3h.85m-2 .5h.85m-1.2 .5h.85m-7.5 .1h.85m6 .1h.85m-1.5 .2h.85m-1 .5h.85m-.6 0h.85m-1.7 .1h.85m-5.6 .3h.85m-1 .1h.85m4.4 .3h.85m-2 .5h.85m-1.4 .3h.85m-1.8 .4h.85m-.5 .3h.85"/>
<path stroke="rgb(6, 186, 246)" stroke-width="0.85" d="M35.3 61.9h.85m-3.2 10.1h.85m-.8 0h.85m2.5 0h.85m-1.7 .2h.85m0 .2h.85m-4.1 .2h.85m-2 1.4h.85m3.3 0h.85m-5 2.4h.85m4.5 .4h.85m-7 .1h.85m-1.2 1.3h.85m-.2 .2h.85m7.1 1.7h.85m-9.8 .2h.85m7.5 .1h.85m-9.8 .3h.85m9.2 2.8h.85m-1.2 1.7h.85m-11.4 .2h.85m8.8 4.7h.85m-9.2 1.8h.85m6.6 .4h.85m-3.4 2.2h.85"/>
<path stroke="rgb(6, 198, 246)" stroke-width="0.85" d="M35.4 59.5h.85m-1.7 2.5h.85m-1.4 7h.85m-1.6 .1h.85m-.7 .7h.85m-1 1.7h.85m-.2 .3h.85m-2 .8h.85m.2 0h.85m1.9 .5h.85m0 1.8h.85m-1.5 .5h.85m-1.1 .7h.85m-.4 .2h.85m-6 .1h.85m4.6 .1h.85m-5.9 .8h.85m-1.7 .3h.85m5.4 3.1h.85m.8 .3h.85m-10.6 1.6h.85m-1.5 .4h.85m9.6 1.8h.85m-.3 .4h.85m-.4 .6h.85m-2 1.1h.85m-10.6 1h.85m8.2 .4h.85m-.4 1.5h.85m-1 1.4h.85m-1.6 .9h.85m-8.2 .6h.85m.3 1.1h.85m4.1 .5h.85m-1.8 .7h.85m-3.1 .2h.85"/>
<path stroke="rgb(6, 198, 234)" stroke-width="0.85" d="M37.1 58.9h.85m-4.2 11.9h.85m1.5 .1h.85m-.8 .2h.85m-1.2 .4h.85m-.5 0h.85m-4.6 .6h.85m3 0h.85m-4.6 .5h.85m2.6 0h.85m-1.6 .1h.85m-.8 .1h.85m-1.2 1.2h.85m-3 .5h.85m2 0h.85m0 .3h.85m-1.1 .2h.85m-5.3 .3h.85m-1 .1h.85m4.8 1.2h.85m-5.8 .1h.85m5.2 .6h.85m-3 .8h.85m1.5 1.3h.85m-1.5 .7h.85m-9 .1h.85m8.2 .3h.85m-10.6 2h.85m9.3 0h.85m.6 .1h.85m-2.2 .7h.85m.3 .8h.85m-2 1.8h.85m-11 .1h.85m9.3 1.8h.85m-11 .2h.85m8.8 1.3h.85m-9.5 .6h.85m-1 .5h.85m7.3 0h.85m-8.6 1.3h.85m-1.4 .6h.85m0 .2h.85m5.2 .3h.85m-2.6 2h.85m-2.5 .2h.85"/>
<path stroke="rgb(6, 198, 222)" stroke-width="0.85" d="M34.5 59.9h.85m-.1 10.5h.85m-1.8 .1h.85m-1.1 1.9h.85m-.5 .2h.85m-2.5 .2h.85m.5 .5h.85m2 0h.85m-5.4 .3h.85m-.8 .3h.85m.8 .5h.85m-2.7 .6h.85m2.4 .1h.85m-.1 .2h.85m-4.8 .1h.85m3 .2h.85m-.1 .2h.85m-5.7 .1h.85m-.4 0h.85m-2 1h.85m-.5 .2h.85m-2 .3h.85m1.3 0h.85m-2.1 .1h.85m5.6 1.2h.85m-7.7 .4h.85m6.6 .1h.85m-9.6 .5h.85m7.2 .2h.85m-1.4 1.2h.85m-8.1 .2h.85m-.5 0h.85m8.2 .7h.85m-1.2 .6h.85m-.6 .6h.85m-.4 1.2h.85m-2.1 .1h.85m0 .1h.85m-.6 .2h.85m-1.2 .5h.85m-11 .8h.85m8.8 0h.85m-10.2 1h.85m-1.1 .4h.85m9.4 .1h.85m-.5 0h.85m-11.6 .9h.85m8.4 .6h.85m-1.4 3.1h.85m-2.4 1.5h.85m-2.3 .7h.85m-.4 .1h.85m-.5 0h.85m-1.7 .1h.85m-2.7 .2h.85m-1.2 .4h.85"/>
<path stroke="rgb(6, 198, 210)" stroke-width="0.85" d="M35.1 71.3h.85m2.9 16.4h.85"/>
<path stroke="rgb(18, 198, 210)" stroke-width="0.85" d="M34.2 70.9h.85m-1.1 .5h.85m.4 .8h.85m-2.7 .5h.85m1.6 .2h.85m-1 .7h.85m-3.8 .2h.85m-1.1 .5h.85m2.3 .2h.85m.4 0h.85m-4.6 .5h.85m-.1 .2h.85m-1.1 .3h.85m-1.7 .2h.85m-1.6 .3h.85m3.8 .2h.85m-1.2 .4h.85m-5 .2h.85m4.4 .1h.85m-1.4 .1h.85m1 3.5h.85m-1.8 .1h.85m.3 .1h.85m-.8 .9h.85m-9.7 .5h.85m8.4 .7h.85m-2.1 .8h.85m1.3 .1h.85m-2.2 1.1h.85m-.1 .5h.85m-11 .4h.85m-.7 1.5h.85m-1 .8h.85m8.6 .1h.85m-1.5 .7h.85m-1 .4h.85m-9.4 .6h.85m-.4 .1h.85m6.6 .1h.85m-1.4 .7h.85m-7.8 .4h.85m6.2 1.3h.85m-2.5 1.5h.85m-1.7 .3h.85m-1.7 .5h.85"/>
<path stroke="rgb(18, 198, 198)" stroke-width="0.85" d="M34 71.6h.85m.8 .1h.85m-.8 1h.85m-3.7 2.1h.85m-2.3 5h.85m7.1 .8h.85m-1.6 .2h.85m-.5 1.8h.85m-1.4 .1h.85m-.2 .9h.85m-10.7 2.4h.85m-.6 2.4h.85m8 1.3h.85m-1 .6h.85m-2.7 3.4h.85"/>
<path stroke="rgb(18, 210, 198)" stroke-width="0.85" d="M33.6 69.7h.85m0 2h.85m.2 .3h.85m-1.1 .5h.85m-1.8 .1h.85m-1.6 .1h.85m-.1 .2h.85m.2 .2h.85m-.5 .3h.85m-1.8 .6h.85m-1.1 .3h.85m-1 .5h.85m.8 .3h.85m-.4 .3h.85m-4.5 .1h.85m1.9 .1h.85m-3.1 .1h.85m-.2 .4h.85m-.1 .3h.85m-.8 .1h.85m-3.2 .2h.85m-1.2 .4h.85m-.9 .1h.85m.1 .2h.85m-1.8 .1h.85m5.1 .1h.85m-6.7 .2h.85m4.9 1.7h.85m-7.3 .4h.85m5.7 .2h.85m-1.2 .8h.85m-8.1 .1h.85m7.5 .7h.85m-.7 .2h.85m-9.1 .7h.85m-1.4 .4h.85m-.8 1h.85m8.6 0h.85m-10.6 .2h.85m8.4 .2h.85m-10.3 .2h.85m8.7 .9h.85m-.5 .1h.85m-10.9 .1h.85m9.4 .1h.85m-1.5 .1h.85m-10.4 .4h.85m8.4 .2h.85m-9.8 .2h.85m9 .2h.85m-1.7 .6h.85m-.8 .1h.85m-9.9 .5h.85m7.2 1.9h.85m-.5 .4h.85m-2.1 2.5h.85m-5.1 1.2h.85m2.9 .3h.85m-3.5 .3h.85"/>
<path stroke="rgb(18, 210, 186)" stroke-width="0.85" d="M33.8 70.2h.85m-.6 1.5h.85m-1.2 .5h.85m.3 1.2h.85m.1 .1h.85m-4 .9h.85m.9 0h.85m-.6 .2h.85m-.2 .3h.85m.1 .6h.85m-4.2 .9h.85m.2 .3h.85m-2.7 .6h.85m1.8 .4h.85m-4.1 .3h.85m3.5 .2h.85m-4.9 .3h.85m4.7 1h.85m-.1 .2h.85m-7.8 .1h.85m-1.7 .7h.85m7.3 0h.85m-9.2 .2h.85m6.8 .1h.85m-.1 .3h.85m-1.1 1.2h.85m-9 .1h.85m-.4 .1h.85m-1.4 .4h.85m-.5 0h.85m-1.2 .1h.85m-.8 .7h.85m8.6 1h.85m-1.8 .8h.85m-.4 2.2h.85m-10.2 .6h.85m-.4 0h.85m-.8 .4h.85m7.6 .5h.85m-1 .8h.85m-2.1 3.1h.85m-5.1 1h.85m1.3 0h.85m-2.5 .1h.85m-1.1 .6h.85"/>
<path stroke="rgb(18, 210, 174)" stroke-width="0.85" d="M34.4 71.6h.85m-0 2.5h.85m-1.5 .1h.85m-2.4 .1h.85m0 .1h.85m-2.6 .6h.85m1.8 .1h.85m-2.6 .8h.85m1 .1h.85m.8 .5h.85m-.1 2.9h.85m-8.2 1.9h.85m8.4 2.6h.85m-1.5 1h.85m-1.1 3.7h.85m-9 .9h.85m1.1 4.6h.85m-.5 .4h.85"/>
<path stroke="rgb(30, 210, 174)" stroke-width="0.85" d="M33.3 72.7h.85m1.4 .8h.85m-.7 0h.85m-4.4 .3h.85m2.3 0h.85m.2 .3h.85m-.4 1.6h.85m-1 .4h.85m-2.7 .2h.85m-2.5 .5h.85m-1.2 .4h.85m2.8 .2h.85m-2.5 .5h.85m.8 0h.85m.3 2.5h.85m0 .8h.85m-9.4 2.2h.85m8 .3h.85m-9.8 .3h.85m8 .6h.85m-9.4 .2h.85m7.9 .2h.85m-10.3 1.5h.85m-0 1.4h.85m7.3 1h.85m-8.2 2.8h.85m4.5 .9h.85m-5.1 .4h.85m2.9 .4h.85m-3.2 .9h.85m.2 .4h.85"/>
<path stroke="rgb(30, 210, 162)" stroke-width="0.85" d="M34.3 72.6h.85m.6 .4h.85m-2.4 .1h.85m-1.2 .5h.85m1 .8h.85m-.8 0h.85m-3.1 .1h.85m.4 .4h.85m-.5 0h.85m-1.7 .4h.85m-1.8 .5h.85m1.6 .5h.85m-4.1 .5h.85m.5 .2h.85m.8 0h.85m-1.8 .4h.85m-2.7 .4h.85m2.9 .2h.85m-4.4 .2h.85m-1.5 .2h.85m-.8 .2h.85m3.8 .7h.85m-6.2 .1h.85m4.4 0h.85m-5.7 .1h.85m4.3 1h.85m-6.7 .6h.85m-1.6 1.3h.85m7.5 .1h.85m-1.2 .7h.85m-8.9 .1h.85m7.1 .5h.85m-10 .8h.85m-.5 .1h.85m7.4 0h.85m-0 0h.85m-1.2 .3h.85m-9.1 .3h.85m7.2 2.3h.85m-9 .3h.85m-1 .3h.85m-.7 1.2h.85m7 1.3h.85m-8.1 .2h.85m.2 1.5h.85m3.6 .4h.85m-2.8 1.2h.85m-.5 0h.85m-1.5 .6h.85"/>
<path stroke="rgb(30, 210, 150)" stroke-width="0.85" d="M34.7 73.7h.85m-2.2 2.2h.85m.9 .3h.85m-5.2 4.5h.85m-1.7 7.5h.85m5.8 3.2h.85"/>
<path stroke="rgb(30, 222, 150)" stroke-width="0.85" d="M33.2 74h.85m1 1.2h.85m.3 0h.85m-2.1 .7h.85m-1.8 .3h.85m-.1 0h.85m.9 .2h.85m-4.1 .1h.85m1.8 .1h.85m-3.5 .1h.85m-.8 .2h.85m2 .3h.85m-2.4 .3h.85m-.2 0h.85m.8 0h.85m-1.2 .5h.85m-2 .2h.85m.6 .1h.85m-6.1 .1h.85m4.3 .2h.85m-5 .1h.85m2 0h.85m-4.5 .1h.85m-.5 .1h.85m4 .3h.85m-.4 .3h.85m-1.5 .3h.85m-7.4 .4h.85m0 0h.85m-1.5 .9h.85m-.8 .1h.85m6.8 .5h.85m-1.4 .5h.85m-8.9 .2h.85m7.6 .3h.85m-8.9 .7h.85m7.2 .1h.85m-.8 1.8h.85m-9.1 .8h.85m-1.2 .3h.85m-1 .2h.85m7.8 .6h.85m-1.7 3.4h.85m-.8 .1h.85m-7.7 .1h.85m-.2 .1h.85m5.4 1.4h.85m-6.1 .7h.85m-1 .3h.85m2.2 .2h.85"/>
<path stroke="rgb(30, 222, 138)" stroke-width="0.85" d="M35 73.9h.85m-1.5 1.6h.85m-2.2 .1h.85m-.8 .8h.85m1.4 .3h.85m0 .4h.85m-3.5 .5h.85m-1.6 .1h.85m-1 .1h.85m1.9 0h.85m-3.4 .2h.85m2.8 .4h.85m-4.6 .2h.85m1.3 0h.85m-3.4 .3h.85m.4 0h.85m-3.6 1h.85m.1 .1h.85m4.6 .3h.85m-8.1 .9h.85m6.5 .3h.85m-7 .2h.85m5 .5h.85m-7.6 1.1h.85m7.4 .3h.85m-2.1 .1h.85m-.2 0h.85m0 .4h.85m-.6 0h.85m-9.2 .1h.85m-1.4 1.8h.85m7.2 .7h.85m.2 .2h.85m-1.5 1.3h.85m-9.4 .1h.85m6.5 1.1h.85m-7.3 1.3h.85m5.6 .1h.85m-.8 .3h.85m-7.6 .1h.85m.3 1h.85m-.7 .6h.85m.6 .8h.85"/>
<path stroke="rgb(42, 222, 138)" stroke-width="0.85" d="M37.7 83.1h.85m-7.1 8.6h.85"/>
<path stroke="rgb(42, 222, 126)" stroke-width="0.85" d="M33.8 71.5h.85m-0 3h.85m-1.7 .4h.85m1 1h.85m-2.2 .4h.85m.9 .9h.85m-2.1 .1h.85m-2.5 .1h.85m1.8 0h.85m-4.8 .5h.85m.1 .3h.85m-2 .1h.85m2.4 0h.85m-2.8 .1h.85m2.4 .4h.85m-2.8 .1h.85m1.3 .1h.85m-.8 .2h.85m-.2 .8h.85m-.5 0h.85m-7.7 1.2h.85m6.5 .4h.85m-1.6 .1h.85m-7.5 1.2h.85m6.6 .1h.85m-8.4 .2h.85m7.1 0h.85m-9 .7h.85m8 .9h.85m-9.6 2h.85m-.7 1.7h.85m6.6 .6h.85m-8.1 1.4h.85m-.7 0h.85m4.2 2.2h.85m-.5 .8h.85m-3.7 .3h.85m.4 .3h.85"/>
<path stroke="rgb(42, 222, 114)" stroke-width="0.85" d="M34.7 76.1h.85m-.8 .1h.85m-.1 .2h.85m-2.6 .9h.85m-.1 .2h.85m-2.4 .8h.85m1.5 0h.85m-0 .1h.85m-4.4 .1h.85m-.6 0h.85m-1 .1h.85m-.8 .1h.85m2 0h.85m.4 0h.85m-1.6 .5h.85m-5.1 .2h.85m3.3 .1h.85m.2 0h.85m-6.5 .2h.85m4.3 .1h.85m-.6 .2h.85m-2 .4h.85m-5.2 .1h.85m4.6 0h.85m-6.4 .1h.85m5 0h.85m-.8 .2h.85m-1.2 .1h.85m-6.9 1.1h.85m5.6 .2h.85m-7.7 .2h.85m-.6 .2h.85m-.8 .5h.85m-.8 0h.85m-.7 0h.85m6.1 0h.85m-.8 .5h.85m-1.4 .3h.85m-.4 .5h.85m-8.2 .2h.85m6.6 0h.85m-.7 0h.85m-.8 .1h.85m-8.7 .3h.85m6.8 .1h.85m-8.5 .3h.85m7 0h.85m-.1 .9h.85m-1.8 .6h.85m.2 .7h.85m-9.3 1.2h.85m-1 .1h.85m-.7 0h.85m-.8 .5h.85m5.5 1h.85m-7 .2h.85m-.3 .6h.85m3.3 2.5h.85m-2.1 .2h.85m.5 .5h.85"/>
<path stroke="rgb(42, 222, 102)" stroke-width="0.85" d="M30.2 84.1h.85m3.1 9.2h.85"/>
<path stroke="rgb(54, 222, 102)" stroke-width="0.85" d="M32.8 77.4h.85m.3 .6h.85m.9 .2h.85m-1.2 .3h.85m-2.5 .1h.85m-.1 0h.85m-2.2 .1h.85m.6 .4h.85m-2.6 .2h.85m1.3 0h.85m-3.8 .3h.85m-.4 .2h.85m2.8 0h.85m-5.2 .6h.85m4.2 0h.85m-.8 .2h.85m-.6 0h.85m-1.6 .3h.85m-.7 0h.85m-6 .3h.85m-.8 .8h.85m-1 .3h.85m5.9 .3h.85m-1.5 .2h.85m1.2 1.1h.85m-2.2 1.2h.85m-.8 .5h.85m-8.7 .2h.85m7.4 0h.85m-1.5 .2h.85m-8.2 .5h.85m6.8 .8h.85m-8.7 .2h.85m-.7 0h.85m6.8 .2h.85m-8.4 .1h.85m-.8 .5h.85m5.8 1h.85m-.5 .2h.85m-1 .6h.85m-7 .5h.85m4.5 .1h.85m-6.2 .5h.85m4.2 .2h.85m-5.4 1.2h.85m-1.4 .1h.85m-.2 .1h.85m2.8 .1h.85m-2.8 .3h.85m1.9 .1h.85m-2.7 .1h.85m-1.2 .2h.85"/>
<path stroke="rgb(54, 234, 90)" stroke-width="0.85" d="M34.7 77.2h.85m-1.3 .6h.85m-.6 1h.85m.4 .9h.85m-4.4 .2h.85m3.2 0h.85m-.4 .3h.85m-5.8 .8h.85m-1.4 .4h.85m5.1 1.7h.85m-.2 .2h.85m-1.2 .2h.85m-.5 .6h.85m-1 .4h.85m-1.4 .9h.85m.5 .8h.85m-1.6 .9h.85m-.7 0h.85m-8.2 .7h.85m5.6 .7h.85m-.7 .2h.85m-1 1h.85m-.7 .2h.85m-7.4 .7h.85m4.5 .8h.85m-.5 .3h.85m-1.6 .9h.85m-3.7 .2h.85m.4 .9h.85"/>
<path stroke="rgb(66, 234, 90)" stroke-width="0.85" d="M32.9 79.4h.85m-1.8 1.4h.85m-1.6 .7h.85m-.8 .3h.85m-1.4 .3h.85m6 .7h.85m-8.2 1.4h.85m6.8 .7h.85m-8.1 3.5h.85m-.4 1h.85m.6 2.8h.85m2.5 0h.85m-3.7 1h.85"/>
<path stroke="rgb(66, 234, 78)" stroke-width="0.85" d="M35.1 78.2h.85m-3.2 .1h.85m.1 .2h.85m.2 .3h.85m-2.8 .4h.85m.6 .1h.85m-1.8 .3h.85m.3 0h.85m-1 .1h.85m-2.3 .3h.85m1.6 .2h.85m-2.4 .1h.85m1.7 .2h.85m-5.6 .5h.85m-.4 .7h.85m-1.2 .3h.85m-1 .3h.85m-1.2 .2h.85m-1.5 .2h.85m5.9 0h.85m-1.4 .1h.85m-.2 0h.85m-1.5 .3h.85m-.5 .2h.85m-.6 .8h.85m-8 1.8h.85m-.7 .7h.85m6.3 .1h.85m-1.1 .3h.85m-.7 .3h.85m-.6 .3h.85m-1.4 .6h.85m-1.1 .8h.85m-7.2 .6h.85m-.5 0h.85m4.5 .3h.85m-6.5 .1h.85m-.8 .8h.85m-.2 0h.85m-.7 .4h.85m-1.2 .2h.85m-.2 .4h.85m-.4 .1h.85m2.5 0h.85m-4.2 .3h.85m2.2 .1h.85m-1.2 .4h.85m-3.7 .1h.85m1.8 .6h.85m-.6 .3h.85"/>
<path stroke="rgb(66, 234, 66)" stroke-width="0.85" d="M33.5 79h.85m-.5 .5h.85m.6 .4h.85m.5 1.8h.85m-.8 .1h.85m-.2 1.6h.85m-1 .3h.85m-.7 1.2h.85m-.5 .3h.85m-8.5 2.9h.85m6.8 0h.85m-7.9 1.4h.85m5.4 .5h.85m-1.1 .3h.85m-1.5 .9h.85m-1.6 .8h.85"/>
<path stroke="rgb(78, 234, 66)" stroke-width="0.85" d="M34.5 78.7h.85m-1.4 .2h.85m-.7 .1h.85m-.7 0h.85m-.4 .3h.85m-1 .1h.85m-1.1 .2h.85m-.6 .2h.85m-.7 0h.85m-1.1 .1h.85m-.1 0h.85m-2.4 .1h.85m.3 0h.85m-0 .1h.85m-3.2 .4h.85m2.2 .5h.85m-5.7 .3h.85m-1 .3h.85m-.8 0h.85m-1.4 1h.85m4.9 .1h.85m-.7 1.1h.85m-.1 .6h.85m-7.4 .2h.85m5.6 0h.85m-1.1 .5h.85m-.4 .3h.85m-8 .1h.85m5.6 0h.85m-.7 .1h.85m-.6 .9h.85m-.7 .1h.85m-1.6 1.8h.85m-6.9 .7h.85m-.2 2.2h.85m3.3 0h.85m-4.5 .3h.85m-1 .5h.85m.5 .3h.85m-1.6 .2h.85m-.5 .4h.85m1.2 0h.85m-1 .1h.85m-2.4 .1h.85m.8 0h.85"/>
<path stroke="rgb(78, 234, 54)" stroke-width="0.85" d="M34.1 77.9h.85m-1.4 .8h.85m-1.7 .6h.85m.8 .1h.85m0 0h.85m-2.5 .2h.85m-.4 0h.85m-1.2 .1h.85m-1 .2h.85m-.7 0h.85m.5 .1h.85m-.6 0h.85m-2.5 .1h.85m1.4 .6h.85m-4.6 .1h.85m-.8 .3h.85m2.8 .3h.85m-.4 0h.85m-1.7 .6h.85m-.1 .4h.85m-.6 0h.85m-6.5 .1h.85m5 0h.85m-1.4 .4h.85m-.4 0h.85m-.4 0h.85m-7.1 .5h.85m-1 .2h.85m5.9 .4h.85m-1.1 .1h.85m-7.5 .2h.85m-.9 .4h.85m5.9 .7h.85m-1.5 .1h.85m-7.1 1.5h.85m-.7 .1h.85m5.8 0h.85m-7.8 .8h.85m-.5 0h.85m-.7 0h.85m5.2 .9h.85m-1.1 .8h.85m-1 .9h.85m-1.5 .3h.85m-4.6 .2h.85m-1.1 .4h.85m2.8 0h.85m-1 .7h.85m-1.5 .1h.85m-.5 .3h.85m-.8 .1h.85"/>
<path stroke="rgb(90, 234, 54)" stroke-width="0.85" d="M33.7 78.8h.85m1.2 .7h.85m-.4 1.2h.85m-.2 1.4h.85m-1.1 1h.85m-6.8 .7h.85m-.7 4.1h.85m-1 1.3h.85m.3 2.2h.85m-.4 1.1h.85m1.1 .3h.85"/>
<path stroke="rgb(90, 234, 42)" stroke-width="0.85" d="M33 78.9h.85m-.1 .2h.85m.5 1h.85m-3.7 .1h.85m2.5 0h.85m-4.6 .4h.85m2.8 .1h.85m-3.8 .5h.85m-1.7 .2h.85m-1 .2h.85m2.9 0h.85m.2 0h.85m-5.7 .7h.85m-1.1 .2h.85m-.4 .1h.85m-1.2 .3h.85m4.2 0h.85m-5.7 .1h.85m-1.5 .3h.85m5.4 0h.85m-1.1 .8h.85m-6.5 .4h.85m4.9 .1h.85m-.7 0h.85m-7 .4h.85m-1.4 1.2h.85m6.1 0h.85m-7.2 .2h.85m-1 .2h.85m-.9 .2h.85m-.7 .6h.85m-.8 0h.85m5.2 0h.85m-.7 .3h.85m-7.2 .6h.85m5.2 .1h.85m-1 .1h.85m-.7 .6h.85m-6.6 .4h.85m5 .1h.85m-1.7 .9h.85m-1.2 1h.85m-.7 .2h.85m-1.2 .2h.85m-3.6 .4h.85m.3 .2h.85m-.8 0h.85m-.3 .1h.85m-2 .2h.85m-1.1 .2h.85"/>
<path stroke="rgb(102, 234, 42)" stroke-width="0.85" d="M33.9 78.4h.85m-.6 1.5h.85m-2.1 1.1h.85m-1.8 .1h.85m-.8 .4h.85m-1.2 .2h.85m3.5 .6h.85m-.5 0h.85m-.6 .5h.85m-6 .8h.85m-1.5 .1h.85m-.7 .8h.85m-.5 .6h.85m5.3 .2h.85m-1.6 .6h.85m-6.7 2.5h.85m5.4 .3h.85m-1.2 .4h.85m-.5 .4h.85m-1.6 .2h.85m-5.5 .9h.85m-.2 .9h.85m-.8 0h.85m.6 1.2h.85"/>
<path stroke="rgb(102, 234, 30)" stroke-width="0.85" d="M33.7 79.6h.85m.3 0h.85m-1.2 .6h.85m-3.2 .7h.85m1.9 0h.85m-4.5 1.8h.85m-1.2 1.4h.85m4.8 3.1h.85m-.5 2.1h.85m-6.5 .4h.85m-.8 .5h.85m3.2 1.4h.85m-3.1 .2h.85"/>
<path stroke="rgb(114, 234, 30)" stroke-width="0.85" d="M33.6 79.3h.85m-.2 .1h.85m-1.5 .4h.85m-.7 .1h.85m-.8 .3h.85m-2.7 .1h.85m.5 0h.85m0 .2h.85m-.4 .1h.85m-2.5 .1h.85m-1.1 .2h.85m1.4 0h.85m-1.5 .2h.85m-3.4 .5h.85m3.5 .4h.85m-.6 .5h.85m-1.1 .2h.85m-5.8 1.3h.85m4.6 1.2h.85m-.4 .6h.85m-1 .5h.85m-1.2 .3h.85m-7.1 .7h.85m5.3 .2h.85m-6.6 .6h.85m-.8 .3h.85m-.9 .3h.85m-.4 1.4h.85m3.3 .3h.85m-5.2 .2h.85m-.2 .6h.85m1.3 1.3h.85"/>
<path stroke="rgb(126, 234, 30)" stroke-width="0.85" d="M33.5 79.4h.85m-1.6 .4h.85m-.4 .3h.85m-.8 .1h.85m-1.5 .6h.85m1.8 .1h.85m-2.4 .1h.85m-1.8 .1h.85m1.3 .1h.85m-3.5 .2h.85m3.3 .4h.85m-5 .3h.85m-1.1 .3h.85m3.5 .5h.85m-5.8 .6h.85m-.7 .3h.85m-1.4 1.7h.85m4.9 0h.85m-6.7 .5h.85m-.8 .1h.85m-.5 0h.85m4.7 0h.85m-.4 .2h.85m-1.4 .2h.85m-6.3 .2h.85m-.8 .7h.85m-1.4 .7h.85m4.5 .5h.85m-.4 0h.85m-1.8 1h.85m-5.4 .3h.85m.1 .1h.85m-1.4 .6h.85m-.2 .6h.85m1.5 .1h.85m-.2 .3h.85m-2.7 .1h.85m.3 .2h.85m-1.2 .7h.85m-1.1 .1h.85m-1 .5h.85"/>
<path stroke="rgb(138, 234, 30)" stroke-width="0.85" d="M34.3 79.8h.85m-1.7 .4h.85m-.4 .3h.85m-1 .2h.85m.3 .3h.85m-.6 .2h.85m-3.7 .2h.85m3.3 1.3h.85m-.8 .4h.85m-1.4 .9h.85m-.1 .5h.85m-1.1 .4h.85m-6 1.2h.85m4.7 1h.85m-6.6 .6h.85m4.3 .8h.85m-5.6 .4h.85m-.7 0h.85m3.9 .1h.85m-5.7 .3h.85m3.5 .9h.85m-.4 .2h.85m-5 .3h.85m2.5 .7h.85m-4.2 .1h.85m.2 .8h.85m-.5 0h.85m-.6 0h.85m-1.7 .4h.85"/>
<path stroke="rgb(138, 234, 18)" stroke-width="0.85" d="M35.5 82.2h.85m.4 1h.85m-1.5 .4h.85m-.1 4.4h.85m-5.2 3.5h.85"/>
<path stroke="rgb(150, 234, 18)" stroke-width="0.85" d="M34.6 79.3h.85m-2.4 1.2h.85m-.4 .1h.85m0 .5h.85m-1.8 .1h.85m-.5 0h.85m-1.7 .3h.85m-1.1 .2h.85m-1.9 .6h.85m-.2 .4h.85m-1.5 .5h.85m3.8 .8h.85m-5.7 .7h.85m-1.2 .4h.85m-.9 .1h.85m4.4 .1h.85m-6 .5h.85m-.8 .9h.85m-1 .3h.85m4.6 .1h.85m-1.1 1h.85m-.9 .9h.85m-5.4 .4h.85m3.5 .9h.85m-5 .3h.85m2.5 .2h.85m0 .2h.85m-1.2 .1h.85m-4.6 .2h.85m2.5 .2h.85m-2.4 .5h.85m-1.2 .1h.85"/>
<path stroke="rgb(162, 234, 18)" stroke-width="0.85" d="M32.9 79.8h.85m1.2 0h.85m-2.5 .7h.85m.4 0h.85m-1.8 .2h.85m-.5 .2h.85m-.2 .1h.85m-3.2 .2h.85m1.2 0h.85m-.8 0h.85m-1.5 .2h.85m-.2 .5h.85m.3 .8h.85m-4.3 .1h.85m-.8 .3h.85m-.8 .7h.85m3.8 .5h.85m-1.1 .9h.85m-.6 1.1h.85m-6.2 .2h.85m-.7 1h.85m-.8 .4h.85m-1 .7h.85m4.4 0h.85m-5.6 .4h.85m-1.1 1h.85m3.4 .2h.85m-.2 .1h.85m-4.1 1h.85m1.3 0h.85m-4.2 .2h.85m1.8 0h.85m-.1 0h.85m-2.7 .1h.85m-.5 .1h.85m-.8 .1h.85m-.8 .1h.85m-.7 .1h.85"/>
<path stroke="rgb(174, 234, 18)" stroke-width="0.85" d="M32.7 80.5h.85m-.2 0h.85m-1 .5h.85m-.6 0h.85m-.5 0h.85m0 0h.85m-2 .4h.85m-.5 0h.85m-1 .2h.85m1 .1h.85m-1.5 .1h.85m0 .1h.85m-4.6 .1h.85m2.3 .4h.85m-4.5 .5h.85m-.8 .2h.85m3.6 .1h.85m-4.7 .4h.85m-1.5 1h.85m-1.1 .1h.85m-.6 0h.85m3.4 0h.85m-5.8 1.3h.85m4.9 .3h.85m-6.5 .1h.85m-1 .1h.85m-.6 0h.85m4.6 .3h.85m-6.4 .1h.85m-.8 .3h.85m4.7 .2h.85m-5.9 1h.85m-1.2 .9h.85m3.5 .1h.85m-4.6 .6h.85m3 0h.85m-4.1 .9h.85m1.9 0h.85m-2.4 .7h.85m-2.2 .2h.85m-0 0h.85"/>
<path stroke="rgb(186, 234, 18)" stroke-width="0.85" d="M33.8 81.2h.85"/>
<path stroke="rgb(186, 234, 6)" stroke-width="0.85" d="M33.2 80.4h.85m.2 0h.85m-2.5 .4h.85m1.3 .3h.85m-2.5 .5h.85m-1.1 .1h.85m-1 .5h.85m2.8 .3h.85m-4.7 .1h.85m-1.2 .1h.85m2.8 .6h.85m-4.9 .2h.85m3.7 .5h.85m-5.7 .1h.85m-.7 .7h.85m-1.2 .2h.85m4 .3h.85m-.1 .2h.85m-6.1 .4h.85m3.4 .9h.85m-0 .2h.85m-.8 .5h.85m-6.5 .1h.85m-.8 .2h.85m-.4 0h.85m3.6 .4h.85m-.7 0h.85m-1.1 .3h.85m-5.4 .1h.85m4.3 .2h.85m-5.5 .8h.85m2.2 1.2h.85m-1.7 .4h.85m-1.8 .1h.85m-.2 .5h.85"/>
<path stroke="rgb(198, 234, 6)" stroke-width="0.85" d="M33.7 81h.85m-1.8 .6h.85m1 .1h.85m-2.6 .2h.85m1.5 .3h.85m-4.2 .3h.85m2.4 .2h.85m-.5 .1h.85m-3.7 .1h.85m-2.3 .8h.85m3.6 .3h.85m-5 .3h.85m3.8 1.1h.85m-.2 2.1h.85m-1.6 .2h.85m-5.6 .1h.85m4.2 .1h.85m-.8 0h.85m-5.8 .3h.85m4.1 .5h.85m-.7 .5h.85m-5.6 .4h.85m2.5 .7h.85m-3.6 .5h.85m-.6 .5h.85m0 0h.85m-1.2 .1h.85m.9 0h.85m-.5 0h.85m-2 .2h.85m-1.2 .1h.85m-1.8 .3h.85"/>
<path stroke="rgb(210, 234, 6)" stroke-width="0.85" d="M34.2 80.9h.85m-2.8 .5h.85m.6 .2h.85m-1.1 .1h.85m.3 .1h.85m-.7 .1h.85m-1.8 .1h.85m-.2 0h.85m-.5 .1h.85m-1.1 .2h.85m-.5 0h.85m-3.5 .3h.85m1.9 .1h.85m-4 .3h.85m-1 .2h.85m2.5 0h.85m-.2 .2h.85m-5.1 .6h.85m3.5 0h.85m-.7 .1h.85m-.6 .3h.85m-1.1 .1h.85m-5.2 .3h.85m-.7 0h.85m-1.2 1h.85m3.8 1h.85m-5.7 .1h.85m-.8 1.2h.85m3.3 2.1h.85m-1 .3h.85m-1 .1h.85m-3.1 .2h.85m-.8 0h.85m-1.5 .1h.85m.3 .2h.85m1.6 0h.85m-3.6 .1h.85m-.7 .1h.85m-.6 .2h.85m-.6 0h.85m-.1 .4h.85"/>
<path stroke="rgb(222, 234, 6)" stroke-width="0.85" d="M34.8 80.7h.85m-2.8 .8h.85m-.1 .5h.85m-1.1 .1h.85m-.6 .1h.85m-.1 .1h.85m-.4 .1h.85m-2.3 .1h.85m-1.1 .3h.85m1.3 .4h.85m-.4 .2h.85m0 0h.85m-2 .3h.85m-.5 .5h.85m-4.8 .4h.85m3.6 0h.85m-1 .3h.85m-.8 .1h.85m-5.8 1.2h.85m4.3 .1h.85m-6.2 .1h.85m-.5 .2h.85m-.5 2.2h.85m-1.2 .1h.85m3.7 .8h.85m-4.5 .1h.85m-.7 .8h.85m2.2 .1h.85m-1.3 .2h.85m-1.2 .1h.85m-2.5 .1h.85m.5 .1h.85"/>
<path stroke="rgb(222, 222, 6)" stroke-width="0.85" d="M33.9 81.6h.85m-2.5 .7h.85m-.7 .7h.85m2.5 .5h.85m-5 .4h.85m-.5 .1h.85m-.6 0h.85m-1.7 .9h.85m3.4 .2h.85m-4.8 .2h.85m-1.2 .9h.85m-.7 .2h.85m-1 .4h.85m-.7 0h.85m-.7 .4h.85m3.8 .1h.85m-5.9 .3h.85m4.1 .1h.85m-1.4 .8h.85m-1.4 1.2h.85m-.5 .2h.85m-1.8 .4h.85m-.6 .2h.85m-3.1 .1h.85m-1.2 .1h.85m.7 .1h.85m-1.4 .2h.85m.1 .1h.85m-2.2 .2h.85"/>
<path stroke="rgb(222, 210, 6)" stroke-width="0.85" d="M33.3 80.8h.85m.3 .9h.85m-1 .8h.85m-2.1 .1h.85m1.9 1.3h.85m-1.1 .2h.85m-4.2 .5h.85m2.8 3.3h.85m-5.3 .1h.85m3.5 1h.85m-1.7 .5h.85m-2.9 1.2h.85m.4 .7h.85"/>
<path stroke="rgb(234, 210, 6)" stroke-width="0.85" d="M33.6 82.3h.85m-.7 .1h.85m-2.1 .1h.85m-.8 .2h.85m.4 0h.85m-2.1 .3h.85m-1.1 .4h.85m-1.3 .8h.85m-.7 .1h.85m-1.2 1.6h.85m-1.1 .1h.85m-.6 .4h.85m-1.4 .3h.85m-.4 1.4h.85m2.9 .2h.85m-4.2 .6h.85m-.8 .5h.85m-.5 .2h.85m-.6 .6h.85m-.7 0h.85m1.2 .2h.85m-.9 .6h.85m-2.4 .3h.85m-1 .8h.85"/>
<path stroke="rgb(234, 198, 6)" stroke-width="0.85" d="M33.2 81.4h.85m-.5 .4h.85m.3 .2h.85m-2.7 .1h.85m1 .2h.85m-2.8 .1h.85m.4 0h.85m.4 .1h.85m-1.4 .1h.85m-2.1 .2h.85m.6 0h.85m-.6 .4h.85m-3.5 .1h.85m1.2 .1h.85m0 .3h.85m-4.5 .4h.85m2.7 .2h.85m-.8 .1h.85m-.6 .2h.85m-4.2 .3h.85m-1.7 .3h.85m3.8 .6h.85m-1.1 .3h.85m-.8 .7h.85m-4.8 .4h.85m-.4 1.6h.85m2.1 .4h.85m-3 .5h.85m1 .1h.85m-.5 .3h.85m-1 .1h.85m-3.7 .1h.85m-.6 .3h.85m0 .1h.85m-1.5 .5h.85m-.5 0h.85"/>
<path stroke="rgb(234, 186, 6)" stroke-width="0.85" d="M33.7 81.7h.85m-1.3 .3h.85m-0 .2h.85m-1.4 .1h.85m.4 0h.85m-3.5 .4h.85m.3 0h.85m-.1 0h.85m0 0h.85m-2.5 .1h.85m.4 0h.85m-.2 0h.85m-1.5 .1h.85m-.5 .2h.85m-3.6 .1h.85m-.5 .1h.85m-.7 0h.85m1.3 0h.85m-.6 .2h.85m-3.2 .1h.85m.2 .2h.85m.3 0h.85m-.5 .1h.85m-4 .1h.85m-.4 0h.85m1.6 0h.85m-.5 0h.85m-1.1 .3h.85m-.5 .1h.85m-.6 .2h.85m-5.2 .1h.85m3.5 .4h.85m-4.6 .3h.85m2.6 0h.85m-4.6 .5h.85m3.6 0h.85m-5.4 .1h.85m-.7 .2h.85m-1.4 .8h.85m3.6 .5h.85m-1 .6h.85m-.6 .3h.85m-1.5 .5h.85m-1.2 .5h.85m-.5 0h.85m-.8 0h.85m-4.1 .1h.85m-.8 .2h.85m1.3 .2h.85m-1.2 .1h.85m-1.8 .5h.85m-.4 0h.85m-.1 .2h.85m-2 .2h.85m-0 .1h.85m-.3 0h.85m-1.9 .1h.85"/>
<path stroke="rgb(234, 174, 6)" stroke-width="0.85" d="M32.4 83.2h.85m2.6 .4h.85m-1.4 .2h.85m-1.4 .3h.85m-3.4 .3h.85m1.5 .5h.85m0 .3h.85m-4.6 .2h.85m-.5 .4h.85m2.4 .6h.85m-.7 .1h.85m-1.1 1h.85m-.5 .2h.85m-4.7 .7h.85m2.3 1.2h.85m-.6 0h.85m-1.4 .1h.85m-1.4 .5h.85m-1.4 .6h.85m-.8 0h.85"/>
<path stroke="rgb(246, 174, 6)" stroke-width="0.85" d="M33.4 83h.85m.5 .1h.85m-1.1 .2h.85m-.6 .1h.85m-.6 .2h.85m-1.1 .2h.85m-2.6 .5h.85m-1.5 .3h.85m-1.7 .1h.85m3 .2h.85m-4.1 .4h.85m2 0h.85m-.8 .7h.85m0 0h.85m-1 .1h.85m-.7 1.2h.85m-4.8 .1h.85m2.5 1.4h.85m-1.7 .5h.85m0 .1h.85m-1.5 .6h.85m-.5 0h.85m-2.1 .8h.85"/>
<path stroke="rgb(246, 162, 6)" stroke-width="0.85" d="M34.8 82.7h.85m-.7 0h.85m-1.8 .1h.85m-1 .2h.85m-.7 .2h.85m-.8 .2h.85m-2.4 .3h.85m-.5 .1h.85m0 .4h.85m.9 1.1h.85m-4.2 .1h.85m2.8 .4h.85m-1.5 .3h.85m-.5 .3h.85m-.8 .7h.85m-.7 0h.85m-4.5 .7h.85m-.8 .1h.85m2.6 0h.85m-1.3 .2h.85m-.2 1h.85m-1.5 .3h.85m-.8 0h.85m-.7 .1h.85m-.8 .3h.85m-2.7 .1h.85m.6 .1h.85m-2 .6h.85m-.2 .1h.85"/>
<path stroke="rgb(246, 150, 6)" stroke-width="0.85" d="M32.9 83.4h.85m.8 .2h.85m-.6 .1h.85m-1.2 .4h.85m-3.1 .1h.85m-.7 0h.85m-1 .3h.85m1.3 .1h.85m0 0h.85m-.6 .1h.85m-1.1 .4h.85m-3.2 .6h.85m2.3 0h.85m-1.4 .2h.85m-.7 .1h.85m-1 .6h.85m-4.4 .4h.85m-.9 .4h.85m-.7 .1h.85m-1 .1h.85m-.5 .3h.85m-.6 .4h.85m-1.7 .2h.85m-.5 .3h.85m2 0h.85m-3.2 .1h.85m-1 .1h.85m1.4 .5h.85m-2.7 .1h.85m-.6 .1h.85m1 0h.85m-3 .7h.85m.2 .6h.85"/>
<path stroke="rgb(246, 138, 6)" stroke-width="0.85" d="M32.9 83h.85m0 .5h.85m-1.2 .3h.85m-1.4 .4h.85m-.2 0h.85m.9 1h.85m-1 .3h.85m-.5 .5h.85m-4.5 1.5h.85m-.5 .5h.85m.9 .7h.85m-.1 .1h.85m-3.2 .8h.85m-.7 .1h.85m.4 .2h.85m.1 .6h.85"/>
<path stroke="rgb(255, 138, 6)" stroke-width="0.85" d="M33.7 82.9h.85m-.8 .2h.85m-.8 0h.85m-1.8 .3h.85m-.7 .1h.85m-.6 0h.85m-1.5 1.1h.85m1.8 .5h.85m-.7 .3h.85m-.8 .1h.85m-.8 .2h.85m-3.9 .5h.85m2.4 .2h.85m-1.1 .2h.85m-.7 .4h.85m-1 .7h.85m-1 .2h.85m-1.7 .3h.85m-0 .4h.85m-3.2 .2h.85m1.3 .4h.85m-2 .5h.85m-.7 .3h.85m-2 .1h.85m-.2 0h.85m-.1 .3h.85"/>
<path stroke="rgb(255, 126, 6)" stroke-width="0.85" d="M34.1 82.2h.85m-1.4 .4h.85m-1.4 .2h.85m-.5 .5h.85m-.4 .3h.85m-1 .3h.85m-1 .1h.85m-1.7 .1h.85m.5 0h.85m-2.6 .4h.85m1.8 .1h.85m-2.2 .1h.85m.4 0h.85m-1 .1h.85m-3.6 .3h.85m-.5 0h.85m.6 0h.85m-2.7 .2h.85m-.7 .2h.85m-.6 .1h.85m1.4 0h.85m-.5 0h.85m-.5 .6h.85m-3.1 .2h.85m-1.7 .2h.85m1.9 .2h.85m-4.2 .4h.85m2.7 .3h.85m-3.6 .4h.85m-1.1 .2h.85m1.2 .1h.85m-2.7 .3h.85m1.4 0h.85m-3.6 .1h.85m-.2 0h.85m-.7 .1h.85m-.4 0h.85m1.2 .1h.85m-1 .3h.85m-2.8 .3h.85m.8 .1h.85m-.8 .3h.85"/>
<path stroke="rgb(255, 114, 6)" stroke-width="0.85" d="M34.7 83.2h.85m-1.5 .1h.85m-2 .4h.85m-.1 .1h.85m-.8 .5h.85m-2.3 .3h.85m1.1 0h.85m-2.6 .1h.85m.3 0h.85m.5 .2h.85m-.6 0h.85m-4 .3h.85m-.4 .1h.85m2.2 0h.85m-3.8 .3h.85m-1.1 .1h.85m2 .7h.85m-.7 .3h.85m-1 .4h.85m-1.1 .4h.85m-3.5 .1h.85m-.8 .7h.85m-.5 .1h.85m-.3 .7h.85m-1 .6h.85m-.7 0h.85m-.3 0h.85m-.8 0h.85m-1 .3h.85m-.4 .3h.85m-.7 0h.85m-1.6 .2h.85"/>
<path stroke="rgb(246, 114, 6)" stroke-width="0.85" d="M34 84.8h.85m-2.2 .3h.85m-1 .7h.85m-.5 3.5h.85m-.2 .2h.85m-.5 .9h.85"/>
<path stroke="rgb(246, 102, 6)" stroke-width="0.85" d="M33.3 83.5h.85m.3 .4h.85m-.5 .2h.85m-2 .1h.85m-1.2 .4h.85m-1.5 .5h.85m-1.6 .3h.85m2.2 1.8h.85m-1.5 .1h.85m-.1 0h.85m-2.6 .3h.85m-1.7 .2h.85m-1.4 .3h.85m2.8 .1h.85m-1.6 .1h.85m-3.1 .2h.85m.4 .1h.85m-0 0h.85m-1.1 .3h.85m-2.2 .1h.85m.9 0h.85m-2.8 .4h.85m.2 .1h.85m-.8 .4h.85m-.6 0h.85"/>
<path stroke="rgb(246, 90, 6)" stroke-width="0.85" d="M33.4 84h.85m-1.2 .1h.85m.8 .1h.85m-.6 .2h.85m-2.2 .3h.85m-1.1 .2h.85m-.6 .1h.85m-.4 0h.85m-2.2 .1h.85m-.8 .2h.85m-.7 .2h.85m-.1 .6h.85m-.6 0h.85m.4 .4h.85m-1.1 .1h.85m-3.2 .5h.85m1 .3h.85m-.7 .2h.85m-2.7 .1h.85m.9 .5h.85m-.3 .3h.85m-2.6 .2h.85m.6 0h.85m-2.7 .1h.85m.5 0h.85m-.1 0h.85m-2.8 .4h.85m-1.1 .3h.85m-.7 .1h.85"/>
<path stroke="rgb(246, 78, 6)" stroke-width="0.85" d="M33.4 83h.85m-.5 .6h.85m-.5 .3h.85m-1 .1h.85m-.8 .3h.85m-2.2 .4h.85m-.6 .3h.85m.5 .4h.85m-2.2 .1h.85m.4 .2h.85m.4 .3h.85m-2 .3h.85m-.2 .4h.85m-3 .1h.85m1.5 .2h.85m-3.7 .2h.85m.1 .2h.85m-1.1 .1h.85m1.2 .1h.85m-3 .2h.85m.4 .4h.85m-2.2 .1h.85m-.6 0h.85m-.8 .2h.85m-.8 .1h.85m-.1 0h.85m-.8 .6h.85m-1.4 .2h.85m-.6 .9h.85"/>
<path stroke="rgb(246, 66, 6)" stroke-width="0.85" d="M33.5 83.9h.85m.3 0h.85m-1.8 .6h.85m-1.2 .1h.85m-1.5 .2h.85m.3 .4h.85m-0 0h.85m-1.2 .2h.85m-1.4 .1h.85m-2.2 .1h.85m2.3 0h.85m-4.1 .2h.85m1.6 .1h.85m-1.7 .1h.85m-.5 0h.85m-.7 0h.85m.3 .2h.85m-1.5 .1h.85m-2.1 .1h.85m.3 0h.85m-2.9 .2h.85m-1.3 .4h.85m-.2 .1h.85m.8 .1h.85m-.6 .2h.85m-1 .2h.85m-3 .1h.85m-.7 0h.85m.9 0h.85m-3 .1h.85m1.2 0h.85m-1.8 .9h.85m-0 0h.85m-.5 .1h.85m-1.2 .1h.85m-2.2 .1h.85m.7 .2h.85m-1.4 1h.85"/>
<path stroke="rgb(246, 54, 6)" stroke-width="0.85" d="M33.7 83.9h.85m-.5 .4h.85m-1.7 .1h.85m-0 .6h.85m-2.2 .1h.85m1.2 .2h.85m-1.3 .2h.85m-2.1 .5h.85m0 0h.85m-.5 .2h.85m-.8 .2h.85m-.8 .1h.85m-.7 .3h.85m-3.1 .1h.85m-.4 .5h.85m.8 0h.85m.2 .2h.85m-1.4 .5h.85m-.9 .1h.85m-2.2 .6h.85m-.6 .2h.85m-.1 .1h.85m-2.1 .3h.85"/>
<path stroke="rgb(246, 42, 6)" stroke-width="0.85" d="M33.2 84.9h.85m-.5 0h.85m0 .1h.85m-1.8 .4h.85m.3 .2h.85m-1.4 .1h.85m-.2 .2h.85m-.8 .1h.85m-2.4 .1h.85m.4 0h.85m-3.1 .3h.85m1 0h.85m-1.2 .1h.85m-.2 0h.85m-2 .3h.85m-1.6 .2h.85m-.4 .5h.85m.6 .3h.85m-1.4 .1h.85m-1 .4h.85m-.4 .1h.85m-1 .1h.85"/>
<path stroke="rgb(246, 30, 6)" stroke-width="0.85" d="M33.3 84.9h.85m.6 .6h.85m-1.5 .1h.85m-.8 .2h.85m-.8 .3h.85m-1.2 1.1h.85"/>
<path stroke="rgb(234, 30, 6)" stroke-width="0.85" d="M34.6 83.7h.85m-2.2 1.2h.85m-.6 .1h.85m-.6 .1h.85m-.3 .1h.85m-2.7 .4h.85m1.6 0h.85m-1.8 .4h.85m-2.1 .2h.85m.8 .1h.85m-2 .1h.85m-.2 .6h.85m-1.6 1.1h.85m.2 0h.85m-.7 .3h.85m-1.5 .5h.85m-.6 0h.85"/>
<path stroke="rgb(234, 18, 6)" stroke-width="0.85" d="M33.7 85.2h.85m-.6 .1h.85m-1.5 .1h.85m0 .4h.85m.1 .6h.85m-2.7 .9h.85m-.4 0h.85m-.4 .4h.85m-1.1 .2h.85m-2.4 .1h.85m-.6 .2h.85m-.2 .1h.85m-1.4 .3h.85m-.1 1h.85"/>
<path stroke="rgb(234, 6, 6)" stroke-width="0.85" d="M33.5 85.3h.85m-1.1 .1h.85m-.4 0h.85m.3 0h.85m-2.2 .1h.85m-.7 0h.85m-1.7 .3h.85m1.1 0h.85m-2 .1h.85m-1.6 .1h.85m.4 0h.85m-.7 0h.85m-.8 0h.85m-2 .1h.85m-.5 0h.85m-.1 0h.85m-1.8 .1h.85m-.5 .1h.85m-.7 0h.85m-.7 0h.85m-1.5 .1h.85m-.7 0h.85m-.8 .1h.85m-.5 0h.85m-.6 0h.85m-1.6 .1h.85m-.8 0h.85m-.2 0h.85m-1.1 .1h.85m-.7 0h.85m-2.1 .1h.85m-.1 .1h.85m-.7 0h.85m0 0h.85m-.8 0h.85m-.6 0h.85m-2.1 .1h.85m-.6 0h.85m-.4 0h.85m-.5 .1h.85m-.7 0h.85m-2 .1h.85m-.4 0h.85m-.6 0h.85m-1.8 .1h.85m-.7 0h.85m-.5 0h.85m-.7 0h.85m-.6 .1h.85m-.1 0h.85m-2.2 .1h.85m-.2 0h.85m-.6 0h.85m-1.4 .1h.85m-.7 0h.85m-1.4 .1h.85m-.5 .2h.85m-.7 0h.85m.2 .2h.85m-1.6 .1h.85m-1.4 .2h.85m-.2 .1h.85m-1.7 .3h.85m-0 0h.85"/>
</g>
<g filter="url(#soft4)" opacity="0.95">
<path stroke="rgb(54, 66, 246)" stroke-width="0.85" d="M101.3 45.8h.85m-.1 1.3h.85m-.6 0h.85m-5.6 .2h.85m10.6 .1h.85m6.9 .6h.85m-23.6 1.3h.85m12.8 1.6h.85m44.5 .2h.85m-2.8 4.9h.85m-4.4 5.4h.85m-4.6 3.2h.85m-9.8 1.4h.85m11 .1h.85m-10 .8h.85m10.5 3h.85m-1.9 .4h.85m-6.5 2.3h.85"/>
<path stroke="rgb(42, 66, 246)" stroke-width="0.85" d="M99.8 47.4h.85m-3.1 1h.85m9.1 1.9h.85m2.5 .6h.85m18.5 .4h.85m6.6 0h.85m2.7 .2h.85m-48.1 .3h.85m11.9 0h.85m34 .4h.85m5.2 1.1h.85m3.2 .9h.85m-4.7 .7h.85m-.2 0h.85m-56.8 .3h.85m-.8 1.4h.85m-1 .1h.85m53.9 0h.85m1.2 .1h.85m-5.1 .7h.85m3.9 .3h.85m-39 2.1h.85m-.9 .1h.85m23.3 .3h.85m6.2 0h.85m-29.2 .1h.85m23.9 .3h.85m3 .3h.85m-29.2 .1h.85m4.2 .2h.85m16.2 .1h.85m.6 0h.85m7.2 .4h.85m-13.9 .1h.85m-24.2 .1h.85m31.2 .1h.85m-29.2 .2h.85m-3.1 .4h.85m18.2 .1h.85m-20.1 .4h.85m5 .1h.85m-5 .1h.85m22.4 .5h.85m-23.1 .1h.85m-5.5 .1h.85m15.3 .3h.85m7.6 .1h.85m-.3 .1h.85m-8.4 .2h.85m5.8 0h.85m-25.1 .1h.85m29.4 .1h.85m-20.2 .3h.85m14.9 .5h.85m-.4 .2h.85m-28.2 .1h.85m7.2 0h.85m18.9 .3h.85m-1.5 .4h.85m9.7 .2h.85m-28.9 .3h.85m27.3 0h.85m-34.2 .1h.85m22.9 .1h.85m4.4 0h.85m-27.7 .5h.85m-.8 0h.85m-2.4 .3h.85m27.8 .1h.85m-24 .1h.85m14.1 .7h.85m-22.6 .2h.85m7.9 .2h.85m19.2 0h.85m-30.2 .4h.85m22.6 0h.85m7.8 .1h.85m-22.1 .4h.85m20.6 .7h.85m-3.4 .4h.85m2.6 .2h.85m-6.9 .4h.85m9.2 0h.85m-4.7 .2h.85m-12.3 .2h.85m11.2 .3h.85m.9 .5h.85m-12.4 .7h.85m7.6 .2h.85m6.3 8.4h.85m-.6 2.8h.85"/>
<path stroke="rgb(42, 78, 255)" stroke-width="0.85" d="M101.5 46.3h.85m-1.9 1.8h.85m.2 1.2h.85m-6.1 .1h.85m1.9 .2h.85m-4.8 .2h.85m6.7 .1h.85m21.2 0h.85m1.6 0h.85m-11.5 .6h.85m4.5 0h.85m16.2 0h.85m-43.5 .2h.85m6.9 0h.85m-1.4 .1h.85m24.7 0h.85m-3.6 .1h.85m-.8 0h.85m-23.9 .1h.85m16.5 0h.85m-23.7 .2h.85m1.5 0h.85m2.8 0h.85m19 0h.85m-21.2 .1h.85m2.2 0h.85m20.8 0h.85m-3.3 .1h.85m-.1 0h.85m-31.2 .2h.85m14 0h.85m8.8 0h.85m3.8 0h.85m1.1 .1h.85m.3 0h.85m-18.7 .2h.85m3.6 0h.85m.4 0h.85m11.6 0h.85m-7.4 .1h.85m1.7 .1h.85m9.2 0h.85m-32.8 .1h.85m19 0h.85m12.6 0h.85m4.2 0h.85m-30.6 .2h.85m8.6 0h.85m4.6 0h.85m-11 .1h.85m16.7 0h.85m-.4 0h.85m-25.4 .2h.85m18.7 0h.85m12.8 0h.85m-32 .1h.85m3.7 .1h.85m-.2 0h.85m.3 0h.85m1.1 0h.85m-13.3 .1h.85m41.6 0h.85m-15.8 .1h.85m-29.5 .2h.85m12 0h.85m21.4 0h.85m.6 0h.85m-1.1 .1h.85m-37.1 .1h.85m8 0h.85m-7.3 .2h.85m4.4 .1h.85m-2.4 .1h.85m2.4 0h.85m-8.8 .1h.85m8.4 0h.85m-5.1 .1h.85m-19.1 .1h.85m18.8 0h.85m22.1 0h.85m.6 0h.85m-33.5 .1h.85m5.7 .4h.85m2.2 0h.85m-5.6 .2h.85m29.1 0h.85m-4.4 .1h.85m4.8 .1h.85m-34.9 .1h.85m-3.8 .1h.85m6.6 .1h.85m25.6 0h.85m-33.5 .1h.85m.5 0h.85m28.7 .1h.85m8.7 .2h.85m-41.6 .1h.85m3 0h.85m34.1 0h.85m-4.8 .3h.85m-.4 0h.85m-49.7 .1h.85m22.2 0h.85m19.4 0h.85m1.3 0h.85m2.7 0h.85m-34 .1h.85m-1.3 .1h.85m-16.2 .1h.85m11.8 0h.85m41.2 .2h.85m-41 .1h.85m-15.6 .1h.85m45.8 0h.85m-.4 0h.85m-29 .1h.85m36.3 .2h.85m-13.3 .1h.85m-30.3 .2h.85m1.7 0h.85m.1 .1h.85m-2.5 .1h.85m25.9 0h.85m.4 .2h.85m5.7 0h.85m-38.1 .1h.85m6.6 0h.85m34.2 0h.85m-42.6 .1h.85m3.2 0h.85m-3.4 .1h.85m20.3 .1h.85m5.2 0h.85m4.2 0h.85m-34.9 .1h.85m27.7 0h.85m-.7 0h.85m2.8 0h.85m2.7 0h.85m-2.4 .1h.85m-31.1 .1h.85m18.9 0h.85m6 0h.85m-33.1 .1h.85m6.1 0h.85m24.7 0h.85m-26.8 .1h.85m14.1 0h.85m7.6 .2h.85m3 0h.85m-23.2 .1h.85m-.1 0h.85m20.4 0h.85m-15.8 .1h.85m7.7 0h.85m-27.2 .1h.85m1.4 0h.85m2.8 0h.85m11.2 0h.85m1.9 0h.85m-12.1 .1h.85m5.9 0h.85m-4.6 .1h.85m-.6 0h.85m10.8 .2h.85m-38.1 .1h.85m11.2 0h.85m18.7 0h.85m1.7 0h.85m3.8 0h.85m.9 0h.85m-.6 .1h.85m-42.1 .1h.85m12.4 0h.85m26.4 0h.85m-28.1 .1h.85m37 0h.85m-23.8 .1h.85m6.5 .3h.85m-22.7 .1h.85m.5 .1h.85m6.9 0h.85m3.4 0h.85m2.7 0h.85m.6 0h.85m9.2 0h.85m-29.2 .1h.85m9.5 0h.85m-10.4 .1h.85m13.1 0h.85m12.6 .1h.85m-20.8 .1h.85m13.8 0h.85m-24.8 .1h.85m-.8 .1h.85m.2 0h.85m-2.1 .1h.85m14.9 0h.85m6.9 0h.85m.7 0h.85m-10.5 .1h.85m-.1 0h.85m-5.6 .2h.85m4.7 .1h.85m4.8 .3h.85m-23.1 .1h.85m9.9 0h.85m-23.6 .2h.85m28.2 0h.85m-31.3 .1h.85m37.1 0h.85m-18.2 .1h.85m-19.6 .1h.85m14.6 0h.85m3.7 0h.85m-23.7 .4h.85m18.8 0h.85m4.7 .3h.85m-9.6 .3h.85m10.8 0h.85m-27.5 .1h.85m13.2 .2h.85m2.8 0h.85m-19.3 .3h.85m32.8 .1h.85m-33.1 .1h.85m13.2 0h.85m-16.7 .1h.85m14.9 .3h.85m-15.5 .4h.85m28.8 0h.85m2.6 .1h.85m-17.8 .2h.85m-.4 0h.85m10.9 0h.85m-29.4 .1h.85m16.9 0h.85m-5.1 .2h.85m6.2 .1h.85m8.2 0h.85m-15.6 .1h.85m12.4 0h.85m-29.8 .1h.85m19.5 .1h.85m.1 0h.85m5.4 0h.85m14.3 .2h.85m-28.8 .1h.85m6.3 0h.85m-5.7 .3h.85m.9 .1h.85m11.2 0h.85m-11.8 .1h.85m5.6 0h.85m1.5 0h.85m1.6 0h.85m-5.8 .2h.85m5.1 0h.85m-18 .2h.85m4.6 .1h.85m21 0h.85m-9.3 .3h.85m-15.6 .1h.85m.9 0h.85m1.4 0h.85m1.9 .2h.85m3.9 .1h.85m-11.1 .1h.85m13.9 0h.85m-36.1 .1h.85m15.7 0h.85m10.4 0h.85m1.6 0h.85m1.6 .1h.85m-32.6 .1h.85m.1 0h.85m17.3 .1h.85m18.6 0h.85m-17.8 .1h.85m-8.8 .1h.85m15.9 0h.85m-16.2 .1h.85m13.8 0h.85m-10.4 .1h.85m12.9 0h.85m-4.6 .3h.85m.1 0h.85m-2.4 .3h.85m12.2 0h.85m-19.2 .1h.85m-25.8 .1h.85m29.2 0h.85m3 0h.85m-8.4 .1h.85m11.4 .1h.85m5.4 0h.85m-22 .1h.85m6.4 .1h.85m-31.1 .1h.85m-.7 0h.85m14.7 0h.85m5.7 .1h.85m.6 0h.85m5.2 0h.85m10 0h.85m-27 .1h.85m9.4 .1h.85m3.7 0h.85m-29.7 .1h.85m33.2 0h.85m-.6 .2h.85m-20.4 .1h.85m4.6 0h.85m6.9 0h.85m-9.4 .1h.85m-5.8 .1h.85m3.2 0h.85m2.6 0h.85m7.4 0h.85m3.4 0h.85m2.9 0h.85m-25.8 .1h.85m.7 0h.85m3.1 .1h.85m20.2 0h.85m.5 0h.85m-14.7 .1h.85m.6 0h.85m-.3 .1h.85m.1 0h.85m-15.4 .1h.85m4.7 0h.85m-2.1 .1h.85m19.2 0h.85m.5 0h.85m-43.5 .2h.85m14.6 0h.85m1.6 .1h.85m-18.7 .1h.85m23.6 0h.85m7.6 0h.85m-7.5 .1h.85m11.8 0h.85m8.3 0h.85m-18 .1h.85m6.7 0h.85m.7 0h.85m-40.4 .1h.85m29.6 0h.85m3.6 0h.85m11.1 0h.85m-28.3 .1h.85m2.9 0h.85m6.5 0h.85m9.2 0h.85m.2 0h.85m-25.8 .1h.85m.4 .1h.85m7.9 0h.85m-6 .2h.85m.5 0h.85m2.9 0h.85m6.5 0h.85m8.8 0h.85m4.9 0h.85m-23.6 .1h.85m4.4 0h.85m25.9 0h.85m-40 .1h.85m7.3 0h.85m10.7 0h.85m-16.5 .1h.85m.7 0h.85m1.5 0h.85m12.2 0h.85m-20.6 .1h.85m11.2 0h.85m9.9 0h.85m6.5 0h.85m-35 .1h.85m7.5 0h.85m2.6 0h.85m4.2 0h.85m-34.9 .2h.85m28.2 0h.85m2.5 0h.85m.8 0h.85m4.9 0h.85m-18.1 .1h.85m11.6 0h.85m1.8 .1h.85m-.5 .2h.85m5.5 0h.85m-15.3 .2h.85m6.4 0h.85m-12.5 .1h.85m7.9 0h.85m15.4 0h.85m-50.9 .1h.85m36.6 0h.85m13.2 0h.85m-9.4 .1h.85m-44.1 .1h.85m35.3 0h.85m8.8 0h.85m-16.9 .2h.85m14 0h.85m2.7 0h.85m-24.1 .2h.85m7.9 0h.85m10.2 0h.85m-26.8 .2h.85m25.9 0h.85m-14.8 .1h.85m.2 0h.85m2.3 0h.85m2.9 0h.85m-6.1 .1h.85m12.7 0h.85m-14.8 .1h.85m9.7 0h.85m2.9 0h.85m-16.7 .1h.85m21.6 0h.85m-37.2 .1h.85m16.5 .1h.85m3.1 .1h.85m2.9 .1h.85m-16.7 .1h.85m11.9 0h.85m-10.9 .1h.85m10.3 .1h.85m2.2 0h.85m-8.8 .1h.85m11 0h.85m.3 .1h.85m-.1 .1h.85m-16.5 .1h.85m-.4 0h.85m4.9 0h.85m7.5 0h.85m2.7 .1h.85m-16.1 .2h.85m3 0h.85m-6.3 .1h.85m-.1 0h.85m10.2 0h.85m4.7 0h.85m2.3 0h.85m-3.6 .1h.85m-4.8 .2h.85m-1.7 .1h.85m-6.9 .2h.85m9.6 .1h.85m5 0h.85m-20.2 .1h.85m.2 0h.85m9.6 0h.85m-8.4 .1h.85m9.2 0h.85m-.8 .3h.85m3.3 0h.85m-8.5 .1h.85m-4.1 .1h.85m-1.1 .2h.85m-2.6 .1h.85m5.9 0h.85m4 .3h.85m-3.5 .1h.85m-10.1 .2h.85m2.2 0h.85m7.5 .4h.85m-4.8 .1h.85m2.2 .2h.85m-8.8 .3h.85m-3.6 .1h.85m4.2 .1h.85m5.6 .1h.85m-10.8 .1h.85m.9 0h.85m1.8 0h.85m.5 .1h.85m2.2 0h.85m1.2 0h.85m-4.6 .4h.85m4.8 0h.85m-5.7 .2h.85m2.8 0h.85m-7 .1h.85m-9.4 .1h.85m8.1 0h.85m1.3 .1h.85m.1 0h.85m1.3 .2h.85m-5.7 .1h.85m-1.1 .3h.85m7.1 .4h.85m-4.2 .1h.85m.4 .2h.85m-4.2 .4h.85m-.4 0h.85m-.8 .3h.85m-5.2 .1h.85m.5 0h.85m6.8 .1h.85m-1.6 .3h.85m-6.5 .4h.85m2.7 .1h.85m-.5 .1h.85m-3.8 .4h.85m-2.3 .1h.85m2.4 .2h.85m-6.1 .1h.85m5.4 .2h.85m.9 .1h.85m-1.7 .3h.85m-5.6 .1h.85m2.9 .1h.85m-2.9 .1h.85m.6 0h.85m-3.8 .2h.85m-3.1 .1h.85m2.6 .1h.85m3.1 .4h.85m-59 .2h.85m54.4 .1h.85m.3 .2h.85m-2.8 .1h.85m1.3 0h.85m-.4 .1h.85m1 .2h.85m-2.8 .1h.85m-9.6 .2h.85m-49.9 .3h.85m54 0h.85m3.3 0h.85m-1.9 .3h.85m-4 .2h.85m-3.2 .4h.85m5.3 0h.85m-6.8 .1h.85m5.6 0h.85m-6.6 .2h.85m.9 .1h.85m-.4 .2h.85m-1.7 .3h.85m-9.7 .1h.85m12.3 0h.85m-12.5 .1h.85m5.6 0h.85m-3.9 .1h.85m7 0h.85m-4.1 .1h.85m-.1 0h.85m1.3 .3h.85m-59 .1h.85m58.5 .2h.85m-59.6 .1h.85m51.4 0h.85m5.5 0h.85m-2.4 .1h.85m-9.8 .2h.85m5.6 .1h.85m-12.7 .1h.85m6.7 0h.85m-7.8 .3h.85m6.5 0h.85m3 0h.85m-56.5 .2h.85m58.8 0h.85m-9.7 .1h.85m.2 .2h.85m-34.5 .1h.85m29.1 0h.85m-21.8 .1h.85m21 0h.85m6.2 0h.85m2.7 0h.85m-32.4 .2h.85m11.8 .1h.85m3.8 0h.85m6.8 0h.85m-3.4 .1h.85m-50 .1h.85m15.6 .1h.85m-.3 0h.85m19.3 0h.85m5.7 0h.85m-.4 0h.85m.2 0h.85m1.6 0h.85m.5 0h.85m5.7 0h.85m-27.1 .1h.85m4.1 0h.85m-36.5 .1h.85m11.7 0h.85m28.5 0h.85m-41.1 .1h.85m27.5 0h.85m8.6 0h.85m6.6 0h.85m-46.8 .1h.85m36.1 0h.85m-19.2 .1h.85m4.9 0h.85m13.9 0h.85m5.3 0h.85m4.4 0h.85m1.2 0h.85m-37.8 .1h.85m1.4 0h.85m24 0h.85m3.5 0h.85m-.4 0h.85m-49.1 .1h.85m21.2 0h.85m9.2 0h.85m14.1 0h.85m8.1 0h.85m-37.4 .1h.85m-.4 0h.85m5.9 0h.85m-.1 0h.85m9.2 0h.85m10.6 0h.85m-.2 0h.85m4.5 0h.85m-34.8 .1h.85m17.2 0h.85m-6.4 .1h.85m16.1 0h.85m.8 0h.85m-18.3 .1h.85m9.5 0h.85m-28.4 .1h.85m-.6 0h.85m10 0h.85m-.1 0h.85m14 0h.85m.1 0h.85m7.6 0h.85m-35 .2h.85m11.5 0h.85m-29.2 .1h.85m30.6 0h.85m1.3 0h.85m2.7 0h.85m.1 0h.85m.2 0h.85m-.4 0h.85m-27.2 .1h.85m5.6 0h.85m23.9 0h.85"/>
<path stroke="rgb(42, 90, 255)" stroke-width="0.85" d="M100 50.8h.85m-2.4 .5h.85m-1.4 .3h.85m1.1 0h.85m-.7 0h.85m20.8 .1h.85m1.6 .1h.85m-25.8 .2h.85m20.8 .4h.85m-20.4 .2h.85m21.4 0h.85m5.8 0h.85m-34.7 .1h.85m26.8 0h.85m5.3 0h.85m.8 0h.85m1.7 0h.85m-10 .1h.85m1.6 0h.85m2.4 0h.85m-36.2 .1h.85m.1 0h.85m6.9 0h.85m23.6 0h.85m.4 0h.85m-33.5 .1h.85m5.6 0h.85m24.6 0h.85m-13.6 .1h.85m7.1 .1h.85m6.8 0h.85m-12.8 .2h.85m2.2 0h.85m2.5 0h.85m-3.4 .1h.85m2.3 0h.85m-.2 0h.85m3 0h.85m-29.7 .1h.85m.3 0h.85m15.5 0h.85m2.8 0h.85m.9 0h.85m6.3 0h.85m-6.6 .1h.85m4.4 0h.85m5.6 0h.85m-24.1 .1h.85m3.8 0h.85m4.5 0h.85m7.4 0h.85m-12.6 .1h.85m-4.8 .1h.85m-.6 0h.85m1.2 0h.85m3 .1h.85m8.6 .1h.85m2.8 0h.85m-21.9 .1h.85m4.4 0h.85m11.9 0h.85m-22.2 .1h.85m5.2 0h.85m8.6 0h.85m5.6 0h.85m-24.4 .1h.85m22.2 0h.85m.7 0h.85m-32.4 .1h.85m8.9 0h.85m2.6 0h.85m14.9 0h.85m2.2 0h.85m-34.2 .1h.85m1.1 0h.85m32.4 0h.85m-31.3 .1h.85m8.2 0h.85m5.6 0h.85m13.5 .1h.85m-.3 0h.85m-22.7 .2h.85m17.6 0h.85m-39.9 .1h.85m14.4 .1h.85m.8 0h.85m5.9 0h.85m11.4 0h.85m2.6 0h.85m-.3 0h.85m-31.5 .1h.85m1.8 0h.85m24.6 0h.85m-24.2 .1h.85m2.4 0h.85m21.8 0h.85m5.6 .1h.85m-37.7 .1h.85m11.9 0h.85m12 0h.85m1.4 0h.85m-23.4 .1h.85m24.6 0h.85m1.4 0h.85m-3.4 .1h.85m.8 0h.85m-26.4 .1h.85m5.2 0h.85m17.8 0h.85m2.4 0h.85m-26.8 .3h.85m-3.8 .1h.85m2.1 0h.85m11.7 0h.85m-23.4 .1h.85m31.5 0h.85m-42.2 .1h.85m34.6 0h.85m-18.3 .1h.85m14.5 0h.85m-18 .1h.85m-.8 .2h.85m5.3 0h.85m18.6 0h.85m-32.6 .1h.85m30.1 .1h.85m-6.8 .1h.85m-26.2 .1h.85m9.1 0h.85m3.5 0h.85m-3.6 .1h.85m2.2 0h.85m-6.4 .1h.85m2.4 0h.85m.2 0h.85m2.2 0h.85m.6 0h.85m.4 0h.85m-5.8 .1h.85m14 0h.85m2.8 0h.85m-42.9 .1h.85m14.8 0h.85m1.5 0h.85m-.4 0h.85m-8.9 .1h.85m14.2 0h.85m12.9 0h.85m3.2 0h.85m-35.3 .1h.85m18.5 0h.85m-.3 0h.85m4.5 0h.85m6.7 0h.85m-22.8 .1h.85m-2.3 .1h.85m5.9 0h.85m4.7 0h.85m4.5 0h.85m-38.7 .1h.85m29.4 0h.85m.5 0h.85m-30.8 .1h.85m26.1 0h.85m-17.2 .1h.85m16.8 0h.85m2.5 0h.85m3.1 0h.85m-15.4 .1h.85m2.4 0h.85m.2 0h.85m3.2 0h.85m-7.6 .1h.85m11.5 0h.85m.3 0h.85m-36.8 .1h.85m30 .2h.85m3.1 0h.85m-12 .1h.85m.9 0h.85m-26.6 .1h.85m9.6 0h.85m18.4 .1h.85m2.8 0h.85m-33.9 .1h.85m25.9 0h.85m-.1 0h.85m5.5 0h.85m8.3 0h.85m-16 .2h.85m-29.6 .1h.85m36.8 .2h.85m-27 .2h.85m22.2 .2h.85m-24.8 .5h.85m-11.2 .1h.85m-1.4 .1h.85m-.4 .4h.85m9.9 .2h.85m-1.1 .4h.85m-11.3 .1h.85m-2.1 .8h.85m10.9 0h.85m-11.5 .3h.85m9.4 .1h.85m-.4 .1h.85m-11.8 .5h.85m-.4 .2h.85m-1.6 .1h.85m10.2 .5h.85m-.8 0h.85m-1.5 .5h.85m.6 .7h.85m-.6 0h.85m-.3 .1h.85m-13.1 .1h.85m-.8 .3h.85m9.2 .1h.85m.4 .4h.85m-13.1 .2h.85m11.2 .4h.85m-1.2 .3h.85m-1.3 .5h.85m.1 0h.85m-1.6 .3h.85m-12.4 .2h.85m.1 0h.85m10.4 .3h.85m-13.1 .6h.85m11 .5h.85m-14.1 .4h.85m12.6 .1h.85m-11.8 .4h.85m10.7 .1h.85m-2.1 .1h.85m-.8 .1h.85m13.6 .1h.85m-26 .1h.85m12.1 .7h.85m-14.1 .1h.85m-.6 .2h.85m16.2 0h.85m-18.3 .1h.85m12.4 0h.85m-13.2 .1h.85m22.9 0h.85m1.6 0h.85m-13.8 .1h.85m10.7 .2h.85m-27.1 .2h.85m-.6 0h.85m17.8 0h.85m-2.9 .1h.85m9.4 0h.85m-6.1 .1h.85m-1.6 .2h.85m2.2 0h.85m-3.4 .1h.85m.1 0h.85m-.5 0h.85m-23 .1h.85m14.6 0h.85m2.8 0h.85m17.2 0h.85m-37.8 .1h.85m26 0h.85m-28.3 .1h.85m34.5 0h.85m-2.4 .1h.85m-14.1 .1h.85m-21.3 .1h.85m19.4 .1h.85m13.2 0h.85m-16.6 .1h.85m10.6 0h.85m-7.8 .1h.85m-2.4 .1h.85m.4 0h.85m-8.1 .1h.85m1.2 0h.85m2.4 0h.85m-1.1 .1h.85m-.4 0h.85m1.7 0h.85m-0 0h.85m-6.6 .1h.85m-4.6 .1h.85m12.3 0h.85m-12.9 .1h.85m13.2 0h.85m.6 0h.85m-9.8 .1h.85m2.3 0h.85m3.7 0h.85m-9.6 .2h.85m3.2 0h.85m1.6 0h.85m3.9 0h.85m-17.1 .1h.85m-.4 0h.85m5.7 0h.85m8.6 0h.85m-33.4 .1h.85m23.4 0h.85m-27.4 .1h.85m16.5 0h.85m9.8 0h.85m-.3 0h.85m.8 0h.85m2.3 0h.85m-17.4 .1h.85m.3 0h.85m.6 0h.85m3.7 0h.85m-6.9 .1h.85m9.2 0h.85m-12.4 .1h.85m.1 0h.85m1.2 0h.85m10.9 0h.85m-13.4 .1h.85m1.4 0h.85m3.4 0h.85m11.1 0h.85m10.7 0h.85m-49.3 .1h.85m16.1 0h.85m14.2 0h.85m2.6 0h.85m-36.6 .1h.85m19.9 .1h.85m10.3 .1h.85m-7.8 .1h.85m2.4 0h.85m5.9 0h.85m-16.1 .1h.85m5.9 0h.85m6.6 0h.85m-.8 0h.85m-.6 0h.85m4.2 0h.85m-8.7 .1h.85m-4 .1h.85m.9 0h.85m-29.6 .1h.85m39.7 0h.85m-24.2 .1h.85m14.6 0h.85m2.2 0h.85m-37.8 .1h.85m28.2 0h.85m-.8 .1h.85m6.6 0h.85m3.1 0h.85m-21.7 .2h.85m10.6 0h.85m-6.4 .1h.85m8.9 0h.85m-.6 0h.85m2.2 .1h.85m-7.5 .1h.85m-3.5 .1h.85m4.8 0h.85m.6 0h.85m-11.2 .1h.85m1.3 .3h.85m5 .1h.85m8.6 .1h.85m-11 .1h.85m4.1 0h.85m3.9 0h.85m-23.6 .1h.85m18.9 0h.85m4 0h.85m-31 .1h.85m25.5 0h.85m1.4 0h.85m-.7 0h.85m-11.1 .1h.85m3 0h.85m6.8 0h.85m-8.6 .1h.85m4.6 0h.85m2.2 0h.85m-9.7 .1h.85m-3.2 .1h.85m5.7 0h.85m3.5 0h.85m-4 .1h.85m-3.5 .1h.85m6.3 0h.85m-.3 0h.85m-5.9 .1h.85m2.1 0h.85m-6.6 .1h.85m4.6 0h.85m4.1 0h.85m-49.9 .1h.85m-.8 .1h.85m32.5 .1h.85m-.6 0h.85m2.1 0h.85m.2 .2h.85m10.4 .1h.85m-5 .1h.85m-23.9 .1h.85m11.9 0h.85m5 0h.85m-4.9 .1h.85m3.4 0h.85m-6.9 .2h.85m12.3 0h.85m-48.5 .1h.85m25.3 0h.85m16.2 0h.85m4.3 0h.85m-8.3 .2h.85m5 0h.85m-47.2 .3h.85m-.3 0h.85m49.9 0h.85m-11.1 .1h.85m5.3 0h.85m1.2 0h.85m-13.6 .3h.85m16.2 0h.85m-11.9 .1h.85m-43.7 .1h.85m46.1 0h.85m5.2 0h.85m-6.2 .1h.85m-1.5 .1h.85m.2 0h.85m-49.6 .1h.85m34.8 .1h.85m4.2 0h.85m-2.5 .1h.85m3.5 0h.85m3.6 0h.85m-3.4 .1h.85m-1 .2h.85m.8 0h.85m2.2 .1h.85m-3.5 .1h.85m-3.7 .1h.85m-3 .2h.85m-43 .3h.85m47.8 0h.85m3.9 .1h.85m.2 0h.85m-9.2 .1h.85m-46.4 .1h.85m41.4 0h.85m2.2 0h.85m-1.9 .1h.85m2 .1h.85m.2 .2h.85m-48.7 .1h.85m47.6 0h.85m3.8 0h.85m1.1 0h.85m-9.3 .3h.85m3.4 .1h.85m1.3 .2h.85m-.5 .1h.85m-2.3 .2h.85m-53 .2h.85m35.7 0h.85m15.6 0h.85m.7 0h.85m-7.8 .1h.85m-.8 .3h.85m-.7 0h.85m-48.9 .1h.85m51.4 0h.85m.5 0h.85m-.8 .3h.85m-8.8 .1h.85m-1.7 .1h.85m-45.5 .1h.85m-.4 .1h.85m49.6 .1h.85m-5.3 .1h.85m3.2 0h.85m-1.4 .1h.85m-1.5 .2h.85m.4 0h.85m-13.9 .1h.85m15.3 .1h.85m-4.4 .1h.85m-.9 .2h.85m3.2 0h.85m3.4 0h.85m-13.6 .1h.85m3.5 0h.85m-1.4 .1h.85m-3.5 .1h.85m4.6 .1h.85m-51.6 .1h.85m48.5 0h.85m-9.1 .1h.85m-.4 0h.85m5.2 0h.85m3.3 .3h.85m-5.4 .1h.85m1.2 0h.85m-7.8 .1h.85m1.6 0h.85m7.5 .2h.85m-4.5 .1h.85m.8 0h.85m-.1 0h.85m-53.2 .1h.85m42 0h.85m.2 0h.85m.4 .1h.85m2.4 .2h.85m-.6 0h.85m-14.2 .2h.85m13.9 0h.85m-1.6 .2h.85m-3 .1h.85m-30.7 .1h.85m3 0h.85m2.3 0h.85m20.2 0h.85m1.4 0h.85m5.3 .1h.85m-54 .1h.85m13.1 0h.85m5.9 0h.85m28.5 .1h.85m-10.5 .1h.85m-4.4 .1h.85m8.7 0h.85m-31.8 .1h.85m3.6 0h.85m28.4 0h.85m-12.8 .1h.85m.1 0h.85m-26.2 .1h.85m5.4 0h.85m-21.2 .1h.85m14.9 0h.85m14.6 .1h.85m9.8 0h.85m-6.3 .1h.85m-6.8 .1h.85m17.3 0h.85m-7.5 .1h.85m5.7 .1h.85m-48.2 .1h.85m26 0h.85m8.2 0h.85m6.9 0h.85m-43.8 .3h.85m15.3 0h.85m4.6 0h.85m15 0h.85m-3.1 .1h.85m3.1 0h.85m1.2 0h.85m.6 0h.85m2.2 0h.85m-5.3 .1h.85m2.8 0h.85m2.6 0h.85m.4 0h.85m-25 .1h.85m4 0h.85m1.2 0h.85m1 0h.85m6.4 0h.85m.1 0h.85m-24.9 .1h.85m8.6 0h.85m11.1 0h.85m.2 0h.85m7 0h.85m-37.8 .1h.85m-0 0h.85m19.8 0h.85m11.7 0h.85m-33.4 .1h.85m3.5 0h.85m21.1 0h.85m.7 0h.85m-.7 0h.85m-29 .1h.85m-.5 0h.85m-.7 0h.85m2 0h.85m3.3 0h.85m10.7 0h.85m1.1 0h.85m-.4 0h.85m-21 .1h.85m2.6 0h.85m4.4 0h.85m-.3 0h.85m14.7 0h.85m-.3 0h.85m-24.2 .1h.85m3.3 0h.85m4.5 0h.85m-.6 0h.85m8.7 0h.85m.2 0h.85m2 0h.85m4.4 0h.85m1.4 0h.85m-35.3 .1h.85m12.6 0h.85m2.2 0h.85m-.1 0h.85m7.1 0h.85m-5.2 .1h.85m6.8 0h.85m2 0h.85m-19.4 .1h.85m4.9 0h.85m.4 0h.85m.2 0h.85m-8.2 .1h.85m7.6 0h.85m-.7 0h.85m-.5 0h.85m6.8 0h.85m-29.3 .2h.85m1.9 0h.85m4 0h.85m3.4 0h.85m-.4 0h.85m13.6 0h.85m-.2 0h.85m-29.7 .1h.85m-14.4 .1h.85m16.9 0h.85m6.4 0h.85m-.4 0h.85m.9 0h.85m2.4 0h.85m9.2 0h.85m1.7 0h.85m-32.4 .1h.85m-.2 0h.85m7.1 0h.85m1.4 0h.85m16.3 0h.85m5.2 0h.85m-36.5 .1h.85m.8 0h.85m3.7 0h.85m1.7 0h.85m1.2 0h.85m1.1 0h.85m11.6 0h.85m-15.7 .1h.85m8.6 0h.85m-29.9 .1h.85m7.8 0h.85m24.2 0h.85m-.1 0h.85m.9 0h.85m5.1 0h.85m-20.9 .1h.85m4.2 0h.85m-.6 0h.85m10.8 0h.85m-17 .1h.85m5 0h.85m8.9 0h.85m-24.9 .2h.85m-13.9 .1h.85m10 .1h.85m7.6 0h.85m6.1 0h.85m3.3 0h.85m4 0h.85m-13.8 .1h.85m-1.6 .1h.85m-4.8 .1h.85m8.4 0h.85m7 0h.85m5.5 0h.85m-25.4 .1h.85m1.6 0h.85m7.9 0h.85m4.8 0h.85m-35.1 .1h.85m8.4 0h.85m17 0h.85m-.8 0h.85m-1.1 .1h.85m5.7 0h.85m-5.7 .1h.85m-21.3 .1h.85m22.8 0h.85m-15.8 .1h.85m-16.1 .4h.85"/>
<path stroke="rgb(42, 102, 255)" stroke-width="0.85" d="M96.9 53.2h.85m23.6 .1h.85m4.2 0h.85m3.2 .6h.85m-3.6 .3h.85m7.9 0h.85m-39.4 .1h.85m32.7 .3h.85m-15.9 .2h.85m15.6 0h.85m-29.5 .6h.85m24.9 .5h.85m-34.8 .6h.85m21.4 0h.85m-3.2 .3h.85m.8 .5h.85m1.6 .3h.85m-3.5 .2h.85m16.4 .1h.85m-7.8 .2h.85m-33.6 1h.85m8.5 3.4h.85m.2 .2h.85m-11.2 .2h.85m9.5 1.3h.85m-11.2 2h.85m-.8 1.5h.85m-1.6 .4h.85m-.7 1.5h.85m11.5 2.3h.85m-13.9 1.6h.85m18.7 .8h.85m-7.6 .1h.85m11.9 1.6h.85m-1.4 .1h.85m1.9 .3h.85m-13 .4h.85m1.5 .2h.85m-1.2 .1h.85m12.2 .3h.85m-18.2 .2h.85m.8 .3h.85m4 0h.85m7.6 .6h.85m6.9 .1h.85m-14.5 .1h.85m6.2 .1h.85m6.6 .1h.85m-1.7 .3h.85m.9 0h.85m-7 .4h.85m4.9 0h.85m-12.4 .1h.85m2.4 0h.85m-.6 .1h.85m8.6 .2h.85m-5.3 .2h.85m-11.4 1h.85m13.2 .3h.85m-1.4 .6h.85m-5 .2h.85m9.3 .2h.85m-9.6 1.7h.85m8.1 .6h.85m-4.4 .3h.85m8 .9h.85m-4.2 .1h.85m-8.9 .5h.85m5.2 0h.85m.6 .5h.85m-11.8 .7h.85m3.1 0h.85m4.3 .3h.85m5.5 .1h.85m-11.1 .2h.85m5 .3h.85m-4.3 .8h.85m-1.4 .2h.85m-21.2 .7h.85m9.9 0h.85m-2.4 .5h.85m-10.1 .1h.85m5.7 .2h.85m-9.2 .3h.85m5 0h.85m9 .9h.85m9 .3h.85m-28.8 .2h.85m1.6 .3h.85m10.4 .1h.85m0 0h.85m2 .3h.85m-22.7 .2h.85m.3 .6h.85m-11.1 1.2h.85"/>
<path stroke="rgb(30, 102, 255)" stroke-width="0.85" d="M100.4 52h.85m-2.4 .4h.85m-2.5 .8h.85m27.2 .5h.85m1.3 .2h.85m-5.6 .1h.85m-5.5 .1h.85m6.1 .1h.85m-1.8 .1h.85m-27.8 .2h.85m28.4 0h.85m-2.3 .1h.85m-9.1 .1h.85m17.3 .1h.85m-32.6 .1h.85m13.4 0h.85m7.9 0h.85m-23.8 .1h.85m16.8 .2h.85m-2.6 .1h.85m2.1 0h.85m6.7 .2h.85m5.1 .1h.85m-32.6 .2h.85m-.4 0h.85m10.4 .4h.85m7.2 0h.85m-20.8 .2h.85m31.9 0h.85m-7.6 .4h.85m-4.9 .1h.85m11.2 .1h.85m-13.2 .3h.85m-5.1 .1h.85m9.3 .1h.85m-27.4 .3h.85m14.2 .2h.85m2.4 .1h.85m-2.6 .1h.85m9.4 .1h.85m-7.2 .2h.85m-21.4 .1h.85m-9.6 .8h.85m9.2 2.3h.85m-11.1 .7h.85m8.4 1.6h.85m-9.8 .5h.85m8.1 .4h.85m-10.1 5.2h.85m8.5 .1h.85m-10.6 2.3h.85m-.9 .3h.85m10.6 .1h.85m.4 1.8h.85m-1 .1h.85m-14.8 .2h.85m18.5 .4h.85m6.6 .6h.85m.4 0h.85m-2.8 .2h.85m-6.4 .1h.85m4.2 .1h.85m1.2 0h.85m-4.9 .4h.85m.2 0h.85m-.3 0h.85m-11.7 .2h.85m2.3 0h.85m10.5 0h.85m-10.6 .2h.85m7.5 0h.85m-12.2 .1h.85m12 .2h.85m-6.4 .1h.85m10.1 .1h.85m-13.2 .3h.85m7.8 .3h.85m-6.8 .1h.85m.6 0h.85m-3.1 .2h.85m7.2 0h.85m-5.3 .1h.85m-.3 0h.85m-29 .1h.85m29.4 0h.85m5.3 0h.85m-19.2 .1h.85m11.7 .1h.85m-12.8 .1h.85m15.4 0h.85m-14.4 .2h.85m11.1 0h.85m5.9 .1h.85m-13.1 .2h.85m-6.1 .1h.85m-7.7 .1h.85m19.6 0h.85m-7.1 .1h.85m-1.2 .1h.85m1.5 .3h.85m5.3 .1h.85m-4.8 .3h.85m6.6 .2h.85m2.2 0h.85m-45.6 .2h.85m34.7 .1h.85m-35.5 .9h.85m-1.8 .3h.85m38.1 .1h.85m.7 0h.85m-40.4 .4h.85m39 0h.85m-7.2 .1h.85m3.2 .1h.85m-39.2 .2h.85m44.8 .1h.85m-9.7 .2h.85m6.1 0h.85m1.2 .2h.85m-45.9 .1h.85m-1.6 .6h.85m33.4 .7h.85m4.6 0h.85m-2.6 .1h.85m8.9 .1h.85m.2 0h.85m-.4 .1h.85m-5.8 .4h.85m.5 0h.85m-2.8 .4h.85m6.2 0h.85m-4.8 .1h.85m-46.9 .1h.85m45.8 0h.85m-13.9 .1h.85m3.7 .2h.85m-1.4 .1h.85m1.6 0h.85m-1.8 .1h.85m-10.7 .2h.85m15.9 .1h.85m-1.6 .2h.85m.1 .1h.85m-16.2 .3h.85m4.9 .1h.85m8.5 0h.85m-16.1 .2h.85m4 0h.85m-36.4 .1h.85m45.2 0h.85m2.3 0h.85m-7.5 .2h.85m-10.1 .1h.85m-.5 .2h.85m12.6 0h.85m-33.9 .1h.85m21.9 0h.85m6.1 0h.85m-26.6 .1h.85m27.7 .1h.85m-30.3 .1h.85m19.4 0h.85m15.5 .1h.85m-34.1 .1h.85m-7.1 .1h.85m1.3 0h.85m25.4 0h.85m-9.8 .1h.85m5.6 0h.85m-.8 .1h.85m1.2 .1h.85m2.9 0h.85m-25.8 .2h.85m-3.8 .1h.85m2.6 .1h.85m17.7 0h.85m-6.4 .1h.85m4.2 0h.85m5.6 0h.85m-7.3 .3h.85m-11.9 .1h.85m-28.8 .1h.85m19.8 0h.85m16.4 0h.85m-24.8 .1h.85m-1.5 .1h.85m18 0h.85m-7.9 .1h.85m-2.1 .1h.85m-4.1 .1h.85m12.5 0h.85m3.2 0h.85m-39.5 .1h.85m16 0h.85m-4.4 .3h.85m-.5 0h.85m19.5 .2h.85m3.6 0h.85m-17.9 .1h.85m1.1 0h.85m5.9 .1h.85m-14.6 .1h.85m3 0h.85m19.2 .1h.85m-14 .1h.85m-10.4 .2h.85m2.6 0h.85m3.7 0h.85m-9.1 .2h.85m-17.1 .3h.85m15.9 .2h.85m14.4 0h.85m-21.4 .2h.85m14.9 0h.85m-.4 .6h.85m-16.6 .8h.85"/>
<path stroke="rgb(30, 114, 255)" stroke-width="0.85" d="M101.2 52.8h.85m.2 .6h.85m-5 .4h.85m23.6 0h.85m1.1 .4h.85m-22.5 .1h.85m22.4 0h.85m-2.4 .1h.85m2.7 .1h.85m1.2 0h.85m-14.4 .1h.85m4.6 .1h.85m4.9 0h.85m3.9 0h.85m-1.8 .1h.85m-4.3 .2h.85m-25.5 .1h.85m17.8 0h.85m-4.7 .1h.85m.5 .1h.85m12 0h.85m.6 0h.85m-13.7 .1h.85m.6 .1h.85m5.6 0h.85m-10.4 .1h.85m-.8 0h.85m-.8 .1h.85m8.5 0h.85m-5.6 .2h.85m-5.8 .2h.85m-.4 0h.85m-.4 0h.85m5.2 0h.85m-.8 0h.85m-6.7 .1h.85m-24.8 .1h.85m-.6 0h.85m21.8 0h.85m5.9 0h.85m-30.4 .2h.85m16.6 0h.85m1.9 0h.85m14.9 0h.85m-2.8 .1h.85m2.6 0h.85m-31.2 .1h.85m18.2 0h.85m-8.1 .1h.85m2.9 0h.85m-1.7 .1h.85m2.2 .1h.85m3.7 0h.85m6.6 0h.85m-9.8 .2h.85m-6.8 .1h.85m9.6 0h.85m-1.5 .1h.85m-9.7 .1h.85m3.3 0h.85m-2.8 .2h.85m2.4 0h.85m-3.6 .1h.85m4.9 0h.85m.6 0h.85m-5.1 .1h.85m-.1 0h.85m5.2 0h.85m-6.1 .2h.85m-31.5 .3h.85m25.3 .1h.85m3.2 0h.85m-.9 .3h.85m-31.2 2.5h.85m7.9 .1h.85m-.6 .6h.85m-1.5 .9h.85m-9.4 .7h.85m-.6 .2h.85m-.4 .3h.85m7.9 1.4h.85m-.7 .1h.85m-10.1 .3h.85m7.9 .5h.85m-9.4 .1h.85m-1.1 .2h.85m7.9 .1h.85m-.3 .7h.85m-10.4 .3h.85m7.9 1.5h.85m-10.4 .5h.85m9.6 .6h.85m-11 .4h.85m8.6 .4h.85m-.1 .1h.85m-.4 .6h.85m-1 .1h.85m-11.6 .3h.85m-1.4 .1h.85m11.4 1.6h.85m-1.1 .1h.85m11.6 1h.85m-7.1 .2h.85m-6.6 .2h.85m-1.1 .1h.85m10 .3h.85m-10.7 .7h.85m7 .1h.85m-8.8 .1h.85m13.9 0h.85m-9.7 .3h.85m2.2 0h.85m-8.1 .1h.85m4.6 .1h.85m-1 .2h.85m-5.2 .1h.85m11.6 .2h.85m-15.5 .1h.85m-.1 .1h.85m16.8 .1h.85m-20.6 .1h.85m3.4 0h.85m5.4 0h.85m-5.3 .1h.85m8.3 0h.85m1.2 0h.85m-4.5 .1h.85m-10.4 .2h.85m3.2 0h.85m-8.3 .1h.85m8.9 0h.85m-.6 .2h.85m4.1 0h.85m-29.1 .1h.85m22.6 .2h.85m5.2 0h.85m-31.3 .5h.85m17.4 0h.85m17.4 0h.85m-16.7 .2h.85m3.7 0h.85m2.9 .2h.85m-29.6 .1h.85m30.8 0h.85m1.8 .1h.85m10.6 .1h.85m-11.8 .1h.85m-3.5 .1h.85m5.9 0h.85m-17.7 .3h.85m.2 .1h.85m5.4 0h.85m9.7 .1h.85m-5.5 .2h.85m3.1 0h.85m1.9 .1h.85m-2.4 .1h.85m-5.2 .3h.85m1.8 0h.85m.6 0h.85m-9.2 .1h.85m-14.6 .1h.85m12.9 0h.85m.2 0h.85m9.2 0h.85m-18.2 .1h.85m6.9 0h.85m-14.4 .1h.85m24.8 0h.85m-12.7 .1h.85m.3 0h.85m-1 .1h.85m.2 0h.85m8.5 0h.85m-19.3 .3h.85m9.2 0h.85m-5.7 .3h.85m9.8 .1h.85m-6.8 .1h.85m-3.8 .3h.85m4.6 0h.85m-9.5 .2h.85m5.9 0h.85m8.8 .2h.85m-11 .2h.85m-1.4 .1h.85m-2.6 .1h.85m2.6 0h.85m.1 0h.85m.6 0h.85m-13.4 .2h.85m14.4 0h.85m-10.9 .3h.85m.6 0h.85m-35 .4h.85m35.8 .2h.85m4.9 .1h.85m1.5 .1h.85m-2.8 .1h.85m2.9 0h.85m-46.5 .1h.85m40.3 0h.85m-6.4 .1h.85m1.2 .1h.85m-.7 .1h.85m-16.9 .1h.85m18.5 .1h.85m0 .1h.85m-.1 .1h.85m.9 0h.85m-19.9 .1h.85m16.6 0h.85m-4.2 .2h.85m-.9 .1h.85m-11.9 .2h.85m6 0h.85m4.2 0h.85m-.2 0h.85m-.8 .2h.85m-26 .1h.85m10.6 .1h.85m11.7 .1h.85m2.2 0h.85m-43.6 .3h.85m21.4 0h.85m6.1 .1h.85m9.7 0h.85m-26.6 .1h.85m26.8 .1h.85m2.6 0h.85m-16.7 .1h.85m9.6 0h.85m-11.4 .1h.85m5.9 0h.85m7.8 .2h.85m-12.4 .1h.85m6.1 0h.85m-9 .2h.85m2.9 0h.85m-21 .1h.85m24.2 0h.85m-8.2 .1h.85m-17.6 .1h.85m21.4 0h.85m-5 .1h.85m-5.4 .2h.85m8.3 0h.85m.6 0h.85m-19.3 .1h.85m14.2 0h.85m-24.6 .1h.85m11.5 0h.85m14.5 0h.85m7.8 0h.85m-20 .1h.85m-11.2 .1h.85m9.1 0h.85m1.4 0h.85m-20.2 .1h.85m.6 0h.85m-.6 0h.85m10.6 0h.85m4 0h.85m1.6 0h.85m4.2 0h.85m-26.3 .2h.85m.7 0h.85m13.9 0h.85m.3 0h.85m.6 0h.85m-32.5 .1h.85m40.4 0h.85m-19.8 .1h.85m4.2 0h.85m7.6 0h.85m2.9 0h.85m-18.4 .1h.85m11.7 0h.85m1.6 .1h.85m-20.7 .1h.85m26.7 0h.85m-25 .1h.85m-5.1 .1h.85m.7 0h.85m-4.6 .1h.85m13.2 0h.85m1.6 0h.85m-21.1 .1h.85m11.1 0h.85m-8.6 .1h.85m7.9 0h.85m-6.9 .1h.85m5.4 0h.85m14.8 0h.85m-25.7 .1h.85m12.4 0h.85m5.9 0h.85m.7 0h.85m3.5 0h.85m-11.6 .1h.85m-13.6 .1h.85m9.9 0h.85m-5.4 .2h.85m-.1 0h.85m2.3 .1h.85m.2 .1h.85m-15.8 .2h.85m7.9 .1h.85m-11.2 .1h.85m9 0h.85m3.9 0h.85m-26 .1h.85m31.3 .1h.85m-19.2 .1h.85m21.4 .1h.85m-17.8 .3h.85m-20.1 .1h.85m17.5 0h.85m4.2 0h.85m9 .2h.85m-10.7 .3h.85m-23.4 .3h.85m6.4 .1h.85m20.4 0h.85m-29.1 .2h.85m7.4 .4h.85"/>
<path stroke="rgb(30, 126, 255)" stroke-width="0.85" d="M100.7 52.7h.85m-1.1 .1h.85m-1.6 .3h.85m-1.3 .9h.85m-.6 0h.85m-2.4 .1h.85m3.6 .1h.85m25.2 0h.85m-2.4 .4h.85m-3.8 .1h.85m8.3 0h.85m-33.6 .1h.85m24.4 0h.85m-22.5 .1h.85m-2.4 .1h.85m19.8 .1h.85m4.9 0h.85m-.8 0h.85m-7 .1h.85m1.9 .2h.85m5 0h.85m-29.5 .1h.85m17.6 .1h.85m1.3 .1h.85m7.6 0h.85m.6 0h.85m-8.8 .1h.85m4.7 0h.85m-2.9 .3h.85m-33 .1h.85m27.4 .3h.85m-29.4 .3h.85m31 .5h.85m-3 .6h.85m.9 0h.85m-24.1 1.2h.85m-1.1 .3h.85m-1.3 .2h.85m-8.4 .4h.85m-1.8 .4h.85m7.9 1.7h.85m-1.1 3.4h.85m-.2 .2h.85m-9.8 .1h.85m-.8 .7h.85m7.6 .3h.85m-9.4 .3h.85m-.8 0h.85m-.4 0h.85m6.8 .3h.85m-9.3 .6h.85m-.4 1.3h.85m-1.4 .1h.85m8.2 .8h.85m-10.1 .3h.85m9.2 1.6h.85m-9.8 .4h.85m10.4 2.1h.85m-13.2 .4h.85m11.6 0h.85m-2.2 .2h.85m.4 .9h.85m5.4 0h.85m-20.4 .8h.85m26.2 .2h.85m-16.3 .1h.85m.9 0h.85m6.1 .1h.85m1.4 .2h.85m.2 0h.85m3.2 .1h.85m-12.7 .2h.85m1.4 .3h.85m-3.8 .1h.85m13.9 .1h.85m-9.8 .3h.85m2.3 0h.85m4 0h.85m-13.6 .1h.85m-1.1 .1h.85m-0 .2h.85m-17.7 .1h.85m17.6 .1h.85m1.7 0h.85m2 0h.85m-.8 0h.85m-.4 0h.85m-25.6 .1h.85m19.6 0h.85m.4 0h.85m7.9 0h.85m-4.1 .1h.85m-10.1 .1h.85m1.5 0h.85m13.6 0h.85m-10.9 .1h.85m3.2 0h.85m1.9 0h.85m-16.4 .1h.85m-3.4 .1h.85m14.6 .1h.85m-10.8 .2h.85m-1.1 .2h.85m8.5 .1h.85m-1.4 .2h.85m-.4 0h.85m.2 0h.85m-1 .1h.85m-6.4 .1h.85m5.9 .1h.85m6.3 .1h.85m-19.3 .1h.85m12.4 0h.85m-14.6 .3h.85m14.5 0h.85m-7 .1h.85m1.1 0h.85m-12.5 .1h.85m4.3 0h.85m7.7 .2h.85m-17.7 .1h.85m7.2 0h.85m12.1 0h.85m-13.4 .3h.85m12.4 0h.85m-6.8 .1h.85m-2.2 .1h.85m-30.1 .1h.85m25.2 0h.85m6.2 .3h.85m-.4 0h.85m4.2 .2h.85m-7.5 .1h.85m-33 .1h.85m15.9 0h.85m16.1 0h.85m-15.8 .1h.85m17.6 0h.85m1.2 0h.85m-.3 0h.85m-40.4 .2h.85m15.6 0h.85m14.2 .2h.85m-15.5 .2h.85m4.2 0h.85m1.9 0h.85m.7 0h.85m13.2 0h.85m-24.8 .2h.85m8.2 0h.85m12.3 0h.85m-22.6 .1h.85m28.1 .1h.85m-10.7 .1h.85m-36.2 .1h.85m14.1 0h.85m-.5 0h.85m26.7 .1h.85m-1.9 .1h.85m1.4 .1h.85m-25.1 .2h.85m1.5 0h.85m10.5 0h.85m-34.6 .1h.85m38.1 0h.85m-23.8 .2h.85m-.1 .1h.85m16.3 0h.85m.2 0h.85m-1.2 .2h.85m-.9 .2h.85m.3 .2h.85m-18.7 .2h.85m19.3 .2h.85m4.6 0h.85m-12.2 .2h.85m3.4 .1h.85m7.9 .2h.85m-45.5 .1h.85m40.3 0h.85m-.6 0h.85m-14.2 .1h.85m10.6 0h.85m-24.4 .1h.85m21.5 0h.85m-2.4 .1h.85m-19.1 .2h.85m5.4 0h.85m14.4 0h.85m-40.4 .1h.85m31.4 0h.85m.2 0h.85m1.4 0h.85m5.4 0h.85m-6.8 .1h.85m5.2 0h.85m-26.4 .1h.85m2.1 .1h.85m23.1 0h.85m-16.6 .1h.85m-13.6 .1h.85m11 0h.85m.4 .1h.85m5.7 0h.85m1 0h.85m1.2 0h.85m-12.5 .1h.85m12.8 0h.85m-13.5 .1h.85m5.2 0h.85m-19.6 .1h.85m15.7 0h.85m-7.1 .1h.85m3.6 .1h.85m-12.9 .1h.85m3.8 0h.85m5.9 0h.85m10.9 0h.85m.4 0h.85m-31.1 .1h.85m8.6 0h.85m8.5 0h.85m8.1 .1h.85m-22.8 .1h.85m4 0h.85m14.7 .1h.85m-11.9 .1h.85m.2 0h.85m-13.1 .1h.85m6.4 0h.85m14.9 0h.85m-.4 0h.85m-22.8 .1h.85m9.6 0h.85m2.9 0h.85m-31.9 .1h.85m13.9 0h.85m1.9 0h.85m14.9 0h.85m4.2 0h.85m-28.2 .1h.85m-12.1 .1h.85m23.8 0h.85m7.6 0h.85m-14.4 .1h.85m20.4 0h.85m-11.6 .1h.85m-3.1 .1h.85m2.9 0h.85m-20.4 .1h.85m-2.1 .2h.85m18.9 0h.85m-10.4 .1h.85m-8.1 .1h.85m3.9 0h.85m8.8 0h.85m9.2 0h.85m-28 .1h.85m26.5 0h.85m-28 .3h.85m27.6 0h.85m-12.4 .1h.85m-12.3 .2h.85m3.6 .1h.85m1.9 0h.85m2 .1h.85m2.3 0h.85m-.4 0h.85m-18.1 .2h.85m-3.4 .9h.85m17 .3h.85m-19.2 .1h.85m-1.6 .1h.85m-1.8 .1h.85m-7.9 .4h.85m7.7 .2h.85m-8.4 .9h.85m4.9 .5h.85m-1.8 .2h.85m-.9 .5h.85"/>
<path stroke="rgb(18, 126, 255)" stroke-width="0.85" d="M123.6 54.4h.85m-6.1 .9h.85m11.8 .5h.85m-14.4 .2h.85m-21.8 11h.85m-1.1 3h.85m7.5 1.3h.85m-1 .2h.85m.9 3.6h.85m-12.4 1.8h.85m12.6 2.2h.85m7 .2h.85m-1.7 .2h.85m5.2 .4h.85m-28.3 .1h.85m16.8 .1h.85m8.6 .1h.85m-10.4 .1h.85m7.6 0h.85m-1.5 .1h.85m-4.1 .1h.85m-6.4 .3h.85m-.1 .1h.85m-2.1 .1h.85m11.9 0h.85m-.6 .2h.85m-15.8 .1h.85m13.2 .2h.85m9.9 .4h.85m-21.5 .3h.85m7.4 .3h.85m13.2 1.3h.85m-8.8 .1h.85m-17.2 .1h.85m11.6 0h.85m9.5 .1h.85m-39.6 .4h.85m24.6 .7h.85m-11.2 .2h.85m21.2 .4h.85m-20.4 .2h.85m4.6 0h.85m5.9 .2h.85m-14.3 1.5h.85m9.8 0h.85m17.3 0h.85m-30.9 .1h.85m9.9 0h.85m8.9 .6h.85m-21.5 .1h.85m12.8 .6h.85m-2.5 .1h.85m-3.1 .2h.85m7.2 .1h.85m-5.2 .2h.85m-6.5 .4h.85m-3.8 .6h.85m1.9 .5h.85m-21.7 1.6h.85m-1 .1h.85m6.6 .5h.85m-3.4 2.1h.85"/>
<path stroke="rgb(18, 138, 255)" stroke-width="0.85" d="M99.1 53.6h.85m-1.1 .3h.85m-.4 0h.85m1.8 .8h.85m19.6 .4h.85m7.2 0h.85m-2.4 .1h.85m.2 0h.85m-8.8 .1h.85m2.3 0h.85m2.2 .1h.85m-30.8 .1h.85m20.2 0h.85m10 0h.85m-28.8 .1h.85m22.3 .2h.85m1 0h.85m-2.4 .1h.85m.1 .2h.85m1.2 .1h.85m-26.3 .1h.85m-5 .2h.85m3.2 .3h.85m20.2 0h.85m3.6 .2h.85m-.4 .4h.85m-25.8 .1h.85m-.4 0h.85m-1.8 .5h.85m-7.9 .4h.85m5.8 .1h.85m-0 .4h.85m-8.1 .2h.85m-1.1 1.6h.85m-.4 .6h.85m6.8 0h.85m-1.1 1.8h.85m-.9 .1h.85m-7.6 1h.85m-2.1 .2h.85m7.2 .1h.85m-8.6 .5h.85m7.2 .4h.85m-9.5 1.6h.85m7.3 .5h.85m-.3 1.8h.85m-.3 1.6h.85m-1 .2h.85m-1.8 .4h.85m.4 .2h.85m-9.8 .1h.85m7.1 .1h.85m-.8 0h.85m-.8 .2h.85m-.2 .5h.85m-10.3 .4h.85m-.8 .1h.85m-1.4 .5h.85m8.4 .6h.85m-9.4 1.2h.85m-1.4 .4h.85m-1.6 .3h.85m-.6 .2h.85m18.6 0h.85m-20.2 .1h.85m-.7 0h.85m11 .4h.85m-13.2 .3h.85m11.3 .7h.85m.2 .4h.85m4.5 .4h.85m-19.5 .4h.85m14.8 .1h.85m11.3 0h.85m-8.5 .1h.85m3.8 .1h.85m-26.3 .1h.85m-.6 0h.85m22.6 0h.85m-11.6 .1h.85m-.7 .1h.85m5.9 0h.85m-.1 0h.85m-21.6 .1h.85m13 0h.85m1.4 0h.85m1.4 .1h.85m4.4 0h.85m.2 0h.85m-25.1 .1h.85m25.2 0h.85m-5.1 .3h.85m-7.8 .1h.85m5.1 .1h.85m-.4 0h.85m6.9 .1h.85m2.3 0h.85m-6.6 .1h.85m-11.6 .1h.85m7.1 0h.85m-10.6 .1h.85m3.4 .1h.85m9.2 0h.85m.9 0h.85m-14.1 .1h.85m8.1 0h.85m4.7 .1h.85m-11.4 .2h.85m10 0h.85m5.9 .1h.85m-9.5 .1h.85m-9.6 .1h.85m2.6 0h.85m4.7 0h.85m-6.7 .1h.85m.2 0h.85m-10.8 .1h.85m17.6 0h.85m5.7 0h.85m-23.4 .2h.85m5.9 0h.85m4.5 .1h.85m4.2 0h.85m-14.4 .1h.85m-3.1 .1h.85m5.2 0h.85m7.1 0h.85m-4.8 .2h.85m-13.8 .3h.85m-.1 0h.85m12.2 0h.85m-14.3 .1h.85m21.6 0h.85m-24.2 .1h.85m-.8 0h.85m9.6 0h.85m5.2 0h.85m-5.9 .1h.85m3.9 0h.85m-32.2 .1h.85m12.5 0h.85m-.3 .1h.85m12.4 0h.85m4.3 0h.85m.2 0h.85m-.8 0h.85m-16.2 .1h.85m15.1 0h.85m-5.9 .2h.85m-.4 0h.85m6.6 0h.85m-21.7 .2h.85m10.6 0h.85m3.5 0h.85m2.2 0h.85m4.1 0h.85m-17.2 .1h.85m4.7 0h.85m-16.6 .1h.85m1.5 0h.85m14.7 0h.85m2.7 0h.85m6.1 0h.85m-2.8 .1h.85m-20.2 .1h.85m4.4 0h.85m8.6 0h.85m-20 .1h.85m.6 0h.85m.5 0h.85m5.3 .1h.85m5.9 0h.85m-9.8 .1h.85m-.4 0h.85m9.7 0h.85m-17.8 .1h.85m16 0h.85m-16.1 .1h.85m-.1 0h.85m5.2 0h.85m2.6 0h.85m5.5 0h.85m0 0h.85m2.2 0h.85m-18.5 .1h.85m.2 0h.85m12.7 0h.85m.7 .1h.85m1.9 0h.85m-22.2 .2h.85m7.2 0h.85m9 0h.85m-22.5 .1h.85m11.9 0h.85m8.2 0h.85m-6.4 .1h.85m5.4 0h.85m3.6 0h.85m-25.3 .1h.85m.2 0h.85m3.4 .1h.85m15.8 0h.85m1 0h.85m-20.6 .1h.85m2.2 0h.85m1.7 0h.85m-11.6 .1h.85m21 0h.85m-7.2 .1h.85m11.4 0h.85m-26 .1h.85m14.4 0h.85m3.9 0h.85m-16.9 .1h.85m2.4 0h.85m4.6 .1h.85m-16 .1h.85m12.4 0h.85m1.4 0h.85m6.8 0h.85m-25.5 .1h.85m1.4 0h.85m3.1 0h.85m6.7 0h.85m1.9 0h.85m-19.3 .1h.85m1.9 0h.85m26.9 0h.85m-22.4 .2h.85m-.2 0h.85m7 .2h.85m.6 0h.85m1.8 0h.85m3.6 0h.85m-21.9 .1h.85m12.2 0h.85m-.4 0h.85m1.2 0h.85m.6 0h.85m-10.6 .1h.85m10.4 0h.85m1.2 0h.85m-26.4 .2h.85m4.2 0h.85m-2.4 .1h.85m4.9 0h.85m11.1 .1h.85m-12.2 .1h.85m10.4 0h.85m-18.9 .1h.85m1.6 0h.85m1.9 0h.85m13.6 0h.85m3.4 0h.85m-18.8 .1h.85m-2.4 .1h.85m-9.1 .1h.85m22.8 0h.85m-22.4 .1h.85m5.9 0h.85m2.4 0h.85m-11.9 .1h.85m8.4 0h.85m3.2 0h.85m-.4 0h.85m-.5 0h.85m-.2 0h.85m-12.1 .1h.85m5.7 0h.85m14.9 0h.85m-40.4 .1h.85m10.9 .1h.85m2.2 0h.85m2.9 .1h.85m-.2 0h.85m-.3 0h.85m-.1 .1h.85m4.7 0h.85m4.6 0h.85m-4.1 .1h.85m-.2 0h.85m-7.6 .1h.85m5.1 .1h.85m6.4 0h.85m-23.3 .1h.85m4.6 0h.85m4.2 0h.85m15.9 0h.85m-18.9 .1h.85m1.8 0h.85m-6.4 .1h.85m0 0h.85m10 0h.85m-30.6 .1h.85m25.9 0h.85m1.1 .1h.85m.3 .1h.85m-7.9 .2h.85m.1 0h.85m5.2 0h.85m2.2 0h.85m-1.6 .2h.85m-7.2 .1h.85m.6 0h.85m-27.6 .1h.85m15.7 .1h.85m7.9 0h.85m1 0h.85m-17.8 .1h.85m4.4 0h.85m-2.2 .2h.85m4.7 0h.85m5.7 .1h.85m-11.9 .4h.85m4.4 0h.85m14.4 0h.85m-35.7 .1h.85m25.5 0h.85m-28.1 .1h.85m20.6 0h.85m3.5 0h.85m-13.4 .1h.85m7.7 0h.85m.2 0h.85m-14.4 .1h.85m21.8 .2h.85m-18.4 .3h.85m-4.1 .1h.85m-.3 0h.85m-12.4 .1h.85m23.8 .1h.85m-16.4 .2h.85m-1.3 1.2h.85m-8.6 .5h.85m5.9 .5h.85m-5.7 1.1h.85m-.2 .2h.85"/>
<path stroke="rgb(18, 150, 255)" stroke-width="0.85" d="M100.3 54h.85m-.4 .3h.85m24.4 .1h.85m-26.3 .4h.85m23.1 .1h.85m-22.5 .1h.85m-4.9 .1h.85m-.6 0h.85m28.2 0h.85m-4.6 .2h.85m-2.8 .2h.85m-20.4 .4h.85m-.6 .1h.85m-6.7 .2h.85m27.4 0h.85m-29.8 .1h.85m.2 .1h.85m25.3 0h.85m-26.8 .2h.85m26.1 .1h.85m4.5 0h.85m-27.8 .1h.85m20.3 0h.85m-27.7 .8h.85m5.2 0h.85m-.6 .2h.85m-.4 .7h.85m-7.3 .5h.85m5.2 .1h.85m.4 2.2h.85m-9.6 2.5h.85m-.4 .8h.85m-1.1 .2h.85m-.6 .3h.85m-1 1h.85m-.8 .5h.85m-.3 .4h.85m-.6 .4h.85m-1.8 .3h.85m-.6 0h.85m-.8 .3h.85m7.6 .5h.85m-9.4 .4h.85m-.4 1h.85m-1.4 .1h.85m-1 .2h.85m.1 0h.85m5 .5h.85m-7.7 .3h.85m-.6 0h.85m7.4 0h.85m-.4 0h.85m-10.2 .6h.85m-1.2 .3h.85m7.6 .2h.85m-.4 .9h.85m-.1 .1h.85m-10.1 .3h.85m-.8 .3h.85m-.7 0h.85m8.1 0h.85m-10.4 .5h.85m-1.1 1.9h.85m-1.1 .6h.85m9 .4h.85m-11 .1h.85m-.7 .1h.85m12.3 .2h.85m-13.9 .2h.85m10.9 .2h.85m-13.5 .1h.85m1.5 .1h.85m8.2 .3h.85m.4 .4h.85m-13.1 .6h.85m21.8 .1h.85m-8.5 .1h.85m-2.1 .1h.85m8 0h.85m-1 .1h.85m.8 0h.85m-11.8 .3h.85m9.6 .2h.85m5.6 0h.85m-10.1 .2h.85m-5.4 .1h.85m4.4 0h.85m2.9 0h.85m-10.6 .3h.85m4.9 0h.85m-22.1 .1h.85m17.6 0h.85m2.2 0h.85m-22.4 .1h.85m18.5 0h.85m9.6 0h.85m-11.3 .3h.85m1.2 0h.85m9.8 0h.85m-19.2 .1h.85m1 .1h.85m4.4 .1h.85m-.8 0h.85m7.4 0h.85m7.2 0h.85m-19.1 .1h.85m-4.1 .1h.85m-4.6 .1h.85m9.9 .1h.85m5.4 0h.85m-7.8 .3h.85m2.2 0h.85m2.8 0h.85m6.9 .2h.85m-13.2 .1h.85m-7.4 .1h.85m1.7 0h.85m-.6 0h.85m-.4 0h.85m.6 0h.85m.6 0h.85m-1.4 .1h.85m1.2 0h.85m-10.6 .1h.85m8.2 0h.85m-10.5 .1h.85m9.1 0h.85m.1 0h.85m1.5 0h.85m-4.8 .1h.85m4.4 0h.85m-11.4 .1h.85m4.6 0h.85m-24.6 .1h.85m12.7 0h.85m8.2 0h.85m7.9 0h.85m-16.8 .1h.85m9.9 0h.85m2.1 0h.85m-.3 0h.85m-11.4 .2h.85m8.4 0h.85m-5.1 .1h.85m-11.4 .1h.85m3.4 0h.85m-5.7 .1h.85m10.4 0h.85m-.8 .1h.85m9.8 0h.85m-1.4 .1h.85m-35.9 .1h.85m17.4 0h.85m1.6 .1h.85m11.4 0h.85m-15.9 .1h.85m2.6 0h.85m18.6 0h.85m-24.2 .1h.85m.6 0h.85m2.7 0h.85m1.9 0h.85m2.2 0h.85m-3.7 .1h.85m3.5 .1h.85m-16.6 .1h.85m2.5 0h.85m.4 0h.85m3.9 0h.85m-.3 0h.85m-10.8 .1h.85m1.2 0h.85m15.6 .1h.85m-7.6 .1h.85m4.9 0h.85m-15.1 .1h.85m1.5 0h.85m.5 0h.85m-3 .1h.85m10.6 0h.85m6.3 0h.85m-24.8 .1h.85m9.3 0h.85m.3 0h.85m-6.8 .1h.85m1.9 .1h.85m3.5 0h.85m3.2 0h.85m-5.8 .1h.85m-12.2 .1h.85m1.5 .1h.85m5.2 .1h.85m2.2 0h.85m-9.2 .1h.85m11 0h.85m5.4 0h.85m-21.5 .1h.85m21.4 0h.85m.2 0h.85m-17.4 .1h.85m-4.7 .1h.85m6.7 0h.85m-.1 0h.85m4.4 0h.85m.9 0h.85m-.3 0h.85m-15.1 .1h.85m-6.6 .1h.85m1.7 0h.85m.6 0h.85m-4.8 .1h.85m.1 0h.85m3.9 0h.85m-7 .1h.85m4.5 0h.85m2.9 0h.85m6.4 0h.85m10.3 .1h.85m.6 0h.85m-26.4 .1h.85m-.1 0h.85m10.7 0h.85m-28.4 .1h.85m26.8 .1h.85m.2 0h.85m6.2 .2h.85m-4.2 .1h.85m-19.6 .1h.85m1.9 0h.85m9.4 0h.85m-27.4 .2h.85m10.2 0h.85m.3 0h.85m6.9 0h.85m1.7 0h.85m-12.2 .1h.85m4.9 .1h.85m2.8 0h.85m1.5 0h.85m-11.6 .1h.85m7.9 .1h.85m-.1 0h.85m1.9 0h.85m-14.3 .1h.85m2.3 0h.85m13.2 0h.85m.8 0h.85m-16.8 .1h.85m-1.3 .1h.85m5.5 0h.85m1.3 0h.85m6.4 0h.85m-7.6 .1h.85m-11.3 .2h.85m13.1 0h.85m-6.9 .1h.85m.4 0h.85m6.2 0h.85m-29.2 .2h.85m14.8 0h.85m13.4 0h.85m-10.6 .1h.85m5.1 0h.85m5.2 0h.85m-3.8 .1h.85m-29.8 .1h.85m9.8 0h.85m12.2 0h.85m1.4 .2h.85m.8 .1h.85m-12 .1h.85m5.4 0h.85m1.8 0h.85m-17 .1h.85m2.3 0h.85m4 .1h.85m7.4 0h.85m-13.4 .1h.85m-3.6 .3h.85m13.4 0h.85m-8.4 .2h.85m-7.8 .6h.85m-10.5 .8h.85m6.6 1.5h.85m-7.1 .2h.85m5.2 .2h.85m-2.8 .7h.85m.3 0h.85m-4.5 .4h.85m2.3 .5h.85m-4 .1h.85"/>
<path stroke="rgb(18, 162, 255)" stroke-width="0.85" d="M127.5 55.9h.85m-25.2 .3h.85m-6.8 .8h.85m6.3 2h.85m-1.7 2.8h.85m-7.5 .1h.85m-1.5 .8h.85m6.2 3.2h.85m-7.7 .6h.85m-1.1 .3h.85m6.2 .3h.85m-.7 .2h.85m-.5 5.1h.85m-9.4 3.7h.85m10.1 .6h.85m-12.6 2.2h.85m22.6 .5h.85m-10.5 .8h.85m-.7 1.2h.85m7.8 0h.85m1.5 .3h.85m-3.1 .1h.85m.2 0h.85m-2.5 .1h.85m-1 .2h.85m4.2 .1h.85m-5.1 .2h.85m-7.4 .1h.85m-3.2 .3h.85m13.2 0h.85m-4.8 .3h.85m-8.2 .1h.85m-3.8 .2h.85m1 .4h.85m3.5 0h.85m2.4 0h.85m4 0h.85m-.2 0h.85m-7.4 .2h.85m1.4 .1h.85m.8 .2h.85m-4.2 .3h.85m1.8 .2h.85m-13.1 .3h.85m18.3 0h.85m-15.8 .1h.85m5.9 0h.85m-9.9 .1h.85m7.5 .2h.85m-8 .3h.85m7.5 .2h.85m3.2 .4h.85m-2.9 .1h.85m-11.5 .1h.85m13.6 0h.85m-18.2 .2h.85m11.6 0h.85m2.9 0h.85m-10.1 .1h.85m2.3 0h.85m11.2 0h.85m-22.3 .1h.85m4.5 .2h.85m4.9 .2h.85m-7.5 .2h.85m11.6 .2h.85m-15.6 .3h.85m-4.6 .2h.85m8.3 .8h.85m2.7 0h.85m.2 0h.85m-8.7 .1h.85m-10.1 3.5h.85m-1.6 1.1h.85m-6.1 .1h.85m2.6 .9h.85"/>
<path stroke="rgb(6, 162, 255)" stroke-width="0.85" d="M97.6 55.2h.85m1.9 .2h.85m26.3 .2h.85m-28.7 .2h.85m2.3 .3h.85m-6 .3h.85m-0 .1h.85m-2 .5h.85m-1.1 .1h.85m-1.4 1.2h.85m5.9 .9h.85m-.2 0h.85m-.8 .5h.85m-1.1 .4h.85m-7.6 .6h.85m-.8 .2h.85m5.7 .4h.85m-.1 .1h.85m-1.6 1.4h.85m-6.6 2.6h.85m4.6 .5h.85m-7.6 .5h.85m6.2 .2h.85m-1.2 1.4h.85m-7.8 .5h.85m6.2 0h.85m-.8 .4h.85m-.1 0h.85m-.9 .8h.85m-7.3 .2h.85m-2.6 2.2h.85m-.4 0h.85m7.2 .3h.85m-8.8 .8h.85m-.6 .1h.85m-1.4 .1h.85m.5 .5h.85m6.6 1.8h.85m-10.2 .3h.85m9.5 1.2h.85m-11.7 .8h.85m9.7 1.3h.85m10.2 .3h.85m-1.3 .7h.85m2.6 .3h.85m-5.4 .1h.85m-20.6 .1h.85m11.5 .4h.85m14.6 .1h.85m-16.5 .1h.85m-13 .1h.85m11.4 0h.85m.3 0h.85m7 .3h.85m-23.2 .1h.85m15.4 .3h.85m-4.5 .1h.85m5.8 .3h.85m6.4 0h.85m-9.4 .1h.85m10 0h.85m-15.4 .1h.85m-.6 .2h.85m4.4 .1h.85m-2.8 .2h.85m1 0h.85m-5.8 .1h.85m1.2 0h.85m2.4 0h.85m1.9 0h.85m1.9 0h.85m-4.4 .2h.85m1.2 0h.85m-24.5 .1h.85m21.8 0h.85m1.4 0h.85m2.2 0h.85m-6.6 .2h.85m4.6 .4h.85m-10.6 .1h.85m-2.8 .1h.85m-3.4 .4h.85m6.1 0h.85m4.3 0h.85m-3.4 .1h.85m14.7 0h.85m-26 .1h.85m10.2 0h.85m-6.1 .1h.85m1.4 0h.85m-6.4 .1h.85m-2.1 .2h.85m-3.1 .1h.85m.1 0h.85m3.4 0h.85m-5.3 .1h.85m6.4 .1h.85m-.1 0h.85m-.4 0h.85m6.3 .1h.85m-18.3 .1h.85m9.9 0h.85m-.8 0h.85m1.6 .1h.85m-3.6 .2h.85m3.8 0h.85m.4 .1h.85m-16.6 .1h.85m17.7 .1h.85m-18.9 .3h.85m3.7 0h.85m14.3 0h.85m-33 .2h.85m19.4 0h.85m-9.3 .6h.85m21 .1h.85m-22.5 .1h.85m11.6 0h.85m-4.9 .3h.85m-1.6 .3h.85m-.1 .1h.85m-10.8 .4h.85m-1.4 .4h.85m-.7 0h.85m-.8 .4h.85m-1.3 1.2h.85m-1.4 .7h.85m-8.2 1.2h.85m5.8 .3h.85m-6.5 1.2h.85m-.5 .1h.85"/>
<path stroke="rgb(6, 174, 255)" stroke-width="0.85" d="M101.2 54.3h.85m-1.6 .3h.85m-.6 .6h.85m-2.2 .2h.85m1.2 .1h.85m-3.5 .3h.85m-2.4 .9h.85m.9 .2h.85m-.3 .1h.85m-2.8 .3h.85m-.8 .4h.85m4.8 0h.85m-6.6 .1h.85m-1.1 .1h.85m4.9 .2h.85m-6.6 .2h.85m-.8 .3h.85m-1.4 .4h.85m6.2 .3h.85m-.9 .1h.85m-8.1 .2h.85m6.6 0h.85m-7.1 .5h.85m5.7 0h.85m-8.4 .2h.85m6.6 .2h.85m-1.4 .3h.85m-7.8 .8h.85m6.2 .6h.85m-1.4 .3h.85m.2 .7h.85m-8.4 .8h.85m5.3 .2h.85m-.7 .1h.85m-6.6 .1h.85m4.9 .1h.85m-7.1 1.4h.85m-.6 .2h.85m-.6 .1h.85m5.6 .6h.85m-1.1 .6h.85m-.7 1.4h.85m-6.9 .2h.85m-1.4 .1h.85m6.2 .1h.85m-7.8 .1h.85m-.8 .2h.85m5.6 .2h.85m-.5 0h.85m-7.5 .3h.85m-.6 .4h.85m-2 .4h.85m5.9 0h.85m-.6 .2h.85m-7.2 .2h.85m-1.4 .3h.85m.4 .1h.85m-2.6 .2h.85m.8 .1h.85m4.5 .2h.85m-7.1 .4h.85m-.7 0h.85m-1 .5h.85m6.3 .1h.85m-1.6 .2h.85m-.1 .6h.85m-.4 .1h.85m-1.2 .4h.85m-.4 .8h.85m-1.4 .4h.85m-8.3 .2h.85m7.2 .2h.85m-9.4 .1h.85m8.2 .3h.85m-10.4 .1h.85m-.4 .2h.85m8.6 .8h.85m-11 .6h.85m10.4 1.3h.85m-11.8 .2h.85m9.1 .2h.85m-10.6 .3h.85m11.4 .6h.85m6.2 .1h.85m4.9 .3h.85m-27.4 .2h.85m11.6 0h.85m1 .5h.85m3 0h.85m5.4 0h.85m-13.5 .3h.85m-12.4 .1h.85m25.6 0h.85m-11.8 .2h.85m-4.4 .1h.85m1.9 .5h.85m-15.4 .2h.85m26.8 .2h.85m-9.5 .1h.85m-8.4 .1h.85m1.9 .2h.85m.2 0h.85m-4.3 .1h.85m19.5 0h.85m-9 .4h.85m-12.1 .1h.85m1.4 .2h.85m8.9 0h.85m-2.6 .2h.85m-11.1 .2h.85m5.6 0h.85m10.2 .1h.85m-6.1 .2h.85m-11.5 .1h.85m5.4 .3h.85m3.4 0h.85m-2.6 .2h.85m-.8 0h.85m.4 .3h.85m.6 0h.85m3.5 .3h.85m-8.8 .1h.85m1.5 0h.85m-4.2 .1h.85m11.4 .3h.85m-23.4 .1h.85m-.4 0h.85m24 0h.85m-8.1 .1h.85m.5 0h.85m-11.8 .1h.85m-9.4 .1h.85m-.2 .1h.85m-.5 .1h.85m-11.9 .1h.85m9.2 .2h.85m15.4 0h.85m4.9 0h.85m-23.2 .1h.85m21.6 .8h.85m-22.2 .8h.85m-2.5 .2h.85m-1.9 .6h.85m-8.8 .1h.85m-.2 0h.85m6.4 .2h.85m-.6 .3h.85m-8.6 .4h.85m6.4 .5h.85m-.8 1.1h.85m-1.4 .6h.85m-2.5 1.2h.85"/>
<path stroke="rgb(6, 186, 255)" stroke-width="0.85" d="M99.5 54.7h.85m.9 .8h.85m-2.2 .2h.85m-1.1 .1h.85m-.6 .1h.85m-1.6 .3h.85m.9 .2h.85m-1.8 .2h.85m-1.2 .1h.85m-1.6 .1h.85m-1.1 .7h.85m-.6 0h.85m2.7 .1h.85m-.6 .2h.85m-5.4 .1h.85m4.2 .9h.85m-1.1 .4h.85m-6.6 .1h.85m-1.4 .1h.85m4.9 0h.85m-.8 .8h.85m-5.4 .8h.85m3.9 .5h.85m-.1 .6h.85m-1.4 .2h.85m-1.8 .5h.85m-.5 0h.85m-.2 .3h.85m-1.4 .5h.85m-.4 .2h.85m-7 1h.85m5.9 .1h.85m-1.6 .7h.85m-5.5 .4h.85m3.9 0h.85m-6.8 .1h.85m-1.1 .2h.85m6.4 .9h.85m-1.7 .4h.85m-.8 .3h.85m-.8 0h.85m-.9 .1h.85m-6.4 .1h.85m5.2 .5h.85m-6.8 .5h.85m-.8 .1h.85m-1.8 1.1h.85m5.6 .9h.85m-6.8 1h.85m-1.1 .2h.85m5.6 .1h.85m-6.9 .1h.85m5.3 .5h.85m-.4 0h.85m-1.9 .1h.85m.4 .1h.85m-1.2 .3h.85m-8 .1h.85m-.1 .1h.85m6.2 1.9h.85m-.8 .2h.85m-9.4 .5h.85m8.1 .6h.85m-9.1 .1h.85m8 .4h.85m-11 .7h.85m-1.5 .1h.85m11.1 .2h.85m-2.6 .6h.85m-1.1 .6h.85m-10.3 .6h.85m.1 .1h.85m10.6 0h.85m-2.8 .3h.85m-11.4 .2h.85m-.6 .2h.85m-1.3 .1h.85m11.6 0h.85m-3.4 .2h.85m1.2 .3h.85m13.2 0h.85m-15.9 .1h.85m-11.6 .2h.85m9.4 .8h.85m-1.8 .1h.85m.6 0h.85m-1.1 .3h.85m1.6 .2h.85m-.7 .1h.85m-3.8 .1h.85m.8 .4h.85m-1.4 .1h.85m11.7 .3h.85m-14.5 .1h.85m-.2 .2h.85m5.6 0h.85m-7.6 .3h.85m2.8 .3h.85m5.2 .1h.85m-20.8 .5h.85m24.4 .1h.85m-3.5 .1h.85m-5.1 .3h.85m-18.9 .1h.85m9.4 .2h.85m-1.1 .5h.85m11.2 .2h.85m-13.2 .7h.85m13 0h.85m-14.7 .1h.85m-1.2 .3h.85m-.4 .2h.85m-10.6 .2h.85m-1.2 .1h.85m-.5 .1h.85m8.8 .1h.85m-10.6 .4h.85m8 0h.85m-1.4 .5h.85m8.9 .8h.85m-10.6 .1h.85m-8.8 .5h.85m-.5 .5h.85m-.9 .3h.85m.2 .9h.85m4.2 .8h.85m-1.8 .1h.85m-.6 0h.85m-2.4 .8h.85m-1.1 .1h.85m-.6 0h.85m-.8 .3h.85"/>
<path stroke="rgb(6, 186, 246)" stroke-width="0.85" d="M99.6 54.8h.85m-.1 .8h.85m.1 .1h.85m-3 .7h.85m-1.4 .7h.85m2.6 0h.85m-.3 .5h.85m-.8 .1h.85m-.9 .5h.85m-5.8 1h.85m-.4 2.3h.85m4.9 1.6h.85m-7.4 .2h.85m-.8 2.3h.85m-.5 .2h.85m-1.2 2h.85m-.8 .1h.85m-.6 .5h.85m-.6 2h.85m5.1 4.5h.85m-7.5 .2h.85m6.5 .3h.85m-.2 2h.85m-9.1 .2h.85m-2.4 3.6h.85m8.4 3.9h.85m.6 .1h.85m-1.3 .6h.85m-1 .1h.85m11.6 .2h.85m-14.2 3.3h.85m-2.4 1.6h.85m-4.9 3.4h.85"/>
<path stroke="rgb(6, 198, 246)" stroke-width="0.85" d="M100 56.1h.85m.4 0h.85m-3.3 1.7h.85m2.4 .1h.85m-3.9 .9h.85m2.4 .7h.85m.2 .8h.85m-6.4 1.2h.85m-1.5 .2h.85m5.2 1.4h.85m-.5 .3h.85m-7 .2h.85m5.4 2.3h.85m-1.9 .8h.85m-.6 2h.85m-6.4 1.2h.85m-.2 .7h.85m2.9 .4h.85m-4.1 .3h.85m-1.4 .5h.85m-2 1.5h.85m.1 .4h.85m3.5 .5h.85m-4.9 .2h.85m4.6 .5h.85m-7.8 1.1h.85m6.4 2.1h.85m.6 .1h.85m-1.3 1.4h.85m-9.6 .2h.85m-1.4 1.8h.85m9.1 .7h.85m-.7 .1h.85m-.6 .2h.85m-.1 0h.85m-11.9 3.3h.85m8.2 1.9h.85m-9.6 .8h.85m6.9 1.7h.85m-.4 0h.85m-1.1 1.6h.85m-1.6 .6h.85m-6.4 .7h.85m-1.1 .5h.85"/>
<path stroke="rgb(6, 198, 234)" stroke-width="0.85" d="M99.8 55.7h.85m.1 .5h.85m-1.1 .6h.85m.5 .1h.85m-3.6 .1h.85m-0 .1h.85m1.5 0h.85m-3.7 .8h.85m2.2 0h.85m-1.5 .3h.85m-2.8 .2h.85m1.6 0h.85m-4.1 .1h.85m-2.5 1.1h.85m-1.1 .4h.85m3.3 .7h.85m-4.5 1.2h.85m-.5 .8h.85m-1.2 1.6h.85m4.3 .1h.85m-5.8 .1h.85m4.1 .3h.85m-5.6 3.1h.85m-.2 .6h.85m3.6 .9h.85m-1.4 .7h.85m-4.5 .3h.85m-1.8 .2h.85m-.8 1.3h.85m-1.4 1.1h.85m4.6 .3h.85m-.1 .6h.85m-1.1 .6h.85m-7 .6h.85m5.3 0h.85m-7.6 .2h.85m6.6 .5h.85m-.4 .3h.85m-8.7 1.7h.85m7.9 .6h.85m-1.1 .1h.85m-10.2 .2h.85m9.4 1h.85m-11.5 2.9h.85m9.4 .6h.85m-1.7 1h.85m-.8 .7h.85m-.7 .5h.85m-.2 1.4h.85m-11 .3h.85m-.8 .5h.85m-.6 .1h.85m7.6 .3h.85m-9.3 .2h.85m-.7 .6h.85m-.7 .3h.85m-1.4 .7h.85m7.4 1.3h.85m-8.4 .2h.85m5.2 1.2h.85m-6.1 .1h.85m4.6 .3h.85m-1.1 .2h.85m-5.2 .8h.85"/>
<path stroke="rgb(6, 198, 222)" stroke-width="0.85" d="M100.3 56.5h.85m-1.6 .3h.85m-.1 0h.85m1.9 .4h.85m-5.8 .8h.85m-0 .1h.85m-1.5 .1h.85m2.1 .1h.85m-2.3 .6h.85m1.6 0h.85m-.6 .7h.85m-.4 .4h.85m-6.8 1.1h.85m-.1 0h.85m-.8 .1h.85m2.9 .2h.85m-5.1 .1h.85m3.6 .1h.85m-.6 0h.85m-4.6 .2h.85m-.4 .4h.85m2.9 0h.85m-6 .4h.85m4.4 .2h.85m-.8 .2h.85m-.8 .1h.85m-5.9 .3h.85m-.6 .1h.85m4 0h.85m-5.5 .3h.85m-.4 .1h.85m-1.8 .3h.85m4 .5h.85m-.2 .7h.85m-.5 .1h.85m-1.9 .5h.85m-5.6 .1h.85m-.8 .9h.85m-.6 .6h.85m4.2 0h.85m-1.1 .1h.85m-1.3 .3h.85m-3.8 .1h.85m-1.9 .4h.85m3.6 .1h.85m-1.6 1.5h.85m-1.3 .6h.85m.9 .8h.85m-5.6 .8h.85m2.4 .5h.85m-4.2 .2h.85m4 .2h.85m-1.2 .3h.85m-7.2 .2h.85m.6 .4h.85m6 .5h.85m-7.6 .2h.85m4.9 .3h.85m-7.8 .8h.85m-.9 .2h.85m6.3 .2h.85m-.8 .9h.85m-8.1 .5h.85m-1.7 2.7h.85m-.8 .8h.85m8.2 .9h.85m-.4 0h.85m-.8 .8h.85m-.9 .1h.85m-1.3 .1h.85m-10.6 .3h.85m10.8 1.6h.85m-2.6 1.1h.85m.2 .1h.85m-11 .2h.85m9.8 0h.85m-1.6 .1h.85m-1.4 .5h.85m-.1 0h.85m-11.1 .2h.85m8.2 0h.85m-.8 .7h.85m-9.7 .1h.85m7.4 1.9h.85m-1.6 1.1h.85m-7.1 1.1h.85m4.4 .5h.85m-5.6 .5h.85m4 0h.85m-1.6 .9h.85"/>
<path stroke="rgb(6, 198, 210)" stroke-width="0.85" d="M101.9 59.9h.85m-6 15.5h.85m-1.4 15h.85m1.4 2.9h.85m1.8 1.2h.85"/>
<path stroke="rgb(18, 198, 210)" stroke-width="0.85" d="M100.8 56.1h.85m-1.8 .2h.85m-2.9 1.1h.85m1.6 0h.85m1.6 .4h.85m-6 1.1h.85m1.3 .2h.85m-2.8 .1h.85m.8 .2h.85m-2 .1h.85m2.3 .2h.85m.3 .2h.85m-4.8 .2h.85m1.6 .8h.85m-3.4 .1h.85m2.3 1h.85m-4.3 .2h.85m3.9 .5h.85m-.9 .4h.85m-1.8 .2h.85m-.7 .3h.85m-5.8 .1h.85m4.6 .6h.85m-4.4 .5h.85m-1.6 .2h.85m3.2 .9h.85m-1.9 .3h.85m.5 .1h.85m-.8 .2h.85m-5.7 .2h.85m4.4 1.2h.85m-6.4 .2h.85m3.9 .1h.85m-4.4 .2h.85m2.4 .7h.85m-1.6 .3h.85m-.1 0h.85m-.4 .3h.85m-1.4 .1h.85m-3.4 .1h.85m1.7 .3h.85m-3.8 .3h.85m1.4 .5h.85m-.8 .8h.85m1.1 .3h.85m-1.1 .4h.85m-1.3 .1h.85m-1.4 .8h.85m1 .7h.85m-1.8 .8h.85m-1.4 .2h.85m-6.1 .3h.85m-.6 .2h.85m-.8 .4h.85m4.1 0h.85m1.4 1.4h.85m-.7 .9h.85m-2.2 .2h.85m1.9 1.5h.85m-1.6 .5h.85m-10.6 .8h.85m8.6 .9h.85m-1.4 .6h.85m-10.3 .6h.85m8.4 0h.85m-.6 0h.85m-10.7 .5h.85m-.4 .5h.85m8.7 .6h.85m-1.1 .7h.85m-1.2 1.5h.85m-1.1 .7h.85m-9.1 .5h.85m-1.4 .1h.85m-.1 2.1h.85m-.8 .1h.85m6.2 .2h.85m-7 1.2h.85m3.6 1.2h.85m-.9 .8h.85m-3.6 .1h.85"/>
<path stroke="rgb(18, 198, 198)" stroke-width="0.85" d="M98.7 60.1h.85m-1.1 9.2h.85m2.6 .3h.85m0 .9h.85m-4.8 .2h.85m-1.2 1.1h.85m3.2 1.7h.85m-.4 .2h.85m-6.6 .5h.85m5.6 2.2h.85m-.1 5.6h.85m.5 2.5h.85m-10.6 1.9h.85m-1.1 2.5h.85m-.1 2.4h.85m6.2 .4h.85"/>
<path stroke="rgb(18, 210, 198)" stroke-width="0.85" d="M101.4 56.5h.85m-1 .7h.85m-3.1 .2h.85m.4 .2h.85m-.6 .7h.85m-2.4 .3h.85m-.4 .5h.85m-1.8 .2h.85m1.6 0h.85m-1.4 2.8h.85m.9 .3h.85m-4.6 .3h.85m3.2 .1h.85m-1 .4h.85m-4.8 1.2h.85m-.6 .3h.85m-1.2 2.2h.85m3.9 .4h.85m-3.4 .1h.85m-3.1 .1h.85m2.2 0h.85m-3.9 1.2h.85m.5 .2h.85m-.7 .6h.85m-.1 1h.85m1.7 0h.85m-6.4 .4h.85m4.2 0h.85m-1.5 .8h.85m-.6 .5h.85m-1.8 .2h.85m.5 .2h.85m-.5 .1h.85m-5.2 .1h.85m-2.1 .7h.85m-.4 .5h.85m.9 .4h.85m-2.4 .7h.85m3.9 1.1h.85m-6.8 .3h.85m5.6 .1h.85m-7.6 .8h.85m-.5 .4h.85m6.4 0h.85m-9.1 2h.85m-1.1 .2h.85m7.9 1.6h.85m-9.8 .1h.85m9.5 0h.85m-11.1 2h.85m8.6 1.3h.85m-1.1 .6h.85m-10.1 .2h.85m7.7 1.3h.85m-9.2 .2h.85m7.3 2.1h.85m-1.4 1.2h.85m-1.6 1.5h.85m-6.7 .4h.85"/>
<path stroke="rgb(18, 210, 186)" stroke-width="0.85" d="M98.6 55.7h.85m-.4 1.4h.85m-.1 .1h.85m-.2 .2h.85m-.5 .6h.85m-.6 .6h.85m-2 .1h.85m-.8 .2h.85m-2.2 .9h.85m2.6 .1h.85m-.9 .8h.85m-.1 .1h.85m-5.4 .2h.85m3.2 .7h.85m-5.1 .2h.85m3 0h.85m-4.6 .1h.85m-1.7 .3h.85m4.2 .3h.85m-4.6 .2h.85m2.1 .1h.85m.6 .6h.85m-1.8 .1h.85m-.1 0h.85m-1.7 .1h.85m.2 .3h.85m-5.6 .6h.85m-.4 .3h.85m-1.1 .8h.85m2.9 .8h.85m-4.6 .3h.85m1.7 .4h.85m-2.8 .4h.85m-1.2 1.4h.85m-.8 0h.85m-1.4 .2h.85m-2 .6h.85m1.6 0h.85m2.4 .4h.85m-2.6 .3h.85m-3.3 .4h.85m-.5 0h.85m.7 0h.85m.4 .1h.85m-3.6 .3h.85m-.9 .2h.85m-1.8 .3h.85m2.4 .1h.85m-1.2 .1h.85m.3 .1h.85m-.7 .6h.85m-1.1 .5h.85m-5.3 .3h.85m-.4 0h.85m3.5 .6h.85m-4.9 .4h.85m-2 .5h.85m-.4 .1h.85m-1.4 .3h.85m1.6 0h.85m3.5 .9h.85m-7.4 .1h.85m5.9 .7h.85m-.6 .2h.85m-8.4 1.1h.85m6.9 .1h.85m-1.1 .7h.85m-1.5 .8h.85m-.4 .5h.85m-.8 .3h.85m-.9 .2h.85m-.3 .6h.85m-.7 .5h.85m-.6 0h.85m-.6 .8h.85m-10.4 1.3h.85m-1 .7h.85m8.4 2.4h.85m-9.8 .9h.85m-.4 1.5h.85m-.8 .1h.85m6.6 .3h.85m-8.8 .1h.85m4.4 3.1h.85m-.6 .5h.85m-2.1 .3h.85"/>
<path stroke="rgb(18, 210, 174)" stroke-width="0.85" d="M98.8 58.7h.85m2.2 .1h.85m-4.1 .2h.85m2.7 1.8h.85m-5 2.1h.85m.2 .3h.85m-1.8 .7h.85m3.7 .3h.85m-5.6 1h.85m.4 .5h.85m1.6 .6h.85m.2 .8h.85m-4.8 .8h.85m1.9 1.5h.85m-.2 .4h.85m-.3 .3h.85m-4.8 .2h.85m-0 .9h.85m1.7 .4h.85m-1.6 .7h.85m-1.9 1h.85m-2.8 .6h.85m.4 1h.85m2.2 0h.85m-5.4 .4h.85m4 0h.85m-.6 1h.85m-7.7 .3h.85m6.2 .9h.85m-.6 2h.85m-7.6 .8h.85m6.9 1.8h.85m-1.2 1h.85m1 1.2h.85m-1.8 .6h.85m-1.1 .8h.85m-10.1 1.1h.85"/>
<path stroke="rgb(30, 210, 174)" stroke-width="0.85" d="M101.8 59.6h.85m-1.6 .1h.85m-3.4 .1h.85m3.4 .5h.85m-2.4 .4h.85m-4.2 .8h.85m-1.2 2.3h.85m.4 1h.85m2.1 .6h.85m-.4 .7h.85m-.8 .6h.85m-.6 1.1h.85m-4.6 3.8h.85m.4 .3h.85m.7 .1h.85m-1.9 .2h.85m-.8 .1h.85m-.1 .8h.85m-.2 0h.85m-.5 .3h.85m-5.7 .4h.85m-.3 .7h.85m-.8 .8h.85m-1.4 .3h.85m-1.6 1.2h.85m5.6 0h.85m-7.6 1.6h.85m6.4 .2h.85m-.9 .5h.85m-8.1 1.4h.85m6.9 .4h.85m-1.1 .5h.85m-.8 .5h.85m-9 1h.85m7.4 .3h.85m-.8 .2h.85m-9.4 .8h.85m8.4 .1h.85m-1.4 2.7h.85m-3.8 5.9h.85m-1.2 .4h.85m-3.3 .3h.85m1.8 .5h.85"/>
<path stroke="rgb(30, 210, 162)" stroke-width="0.85" d="M100 57.7h.85m-1.8 .6h.85m.6 0h.85m-2.1 .3h.85m-.4 0h.85m-1.4 .6h.85m1.4 .3h.85m-3.5 .1h.85m1 .6h.85m-2.8 1h.85m-.2 .3h.85m1.8 0h.85m-4.4 .5h.85m2.4 .6h.85m-3 .2h.85m.6 .8h.85m.6 .1h.85m-5.4 .4h.85m.4 .8h.85m2 0h.85m-1.1 .3h.85m-3.7 .1h.85m-.8 .3h.85m-1.4 1.1h.85m-1.1 .4h.85m2.9 .4h.85m-2.6 .2h.85m-2.6 .1h.85m2.2 .2h.85m-.5 0h.85m-1.8 .2h.85m-2.3 .7h.85m1.2 0h.85m-3.8 .4h.85m.6 .7h.85m-.1 .2h.85m-1.4 .2h.85m-.6 0h.85m-1.6 .3h.85m1.4 .1h.85m-4.1 .3h.85m1.2 0h.85m.4 .1h.85m-.8 .1h.85m-2.9 .1h.85m-1.6 .3h.85m-1.1 .4h.85m1.9 .2h.85m-.5 .3h.85m-3.4 .2h.85m1.6 .6h.85m-2.5 .1h.85m.9 0h.85m-3.1 .1h.85m-2.1 .2h.85m1.4 .2h.85m.8 0h.85m-5 .6h.85m-1.1 .2h.85m1.9 0h.85m1.4 .8h.85m-6.2 .5h.85m4.5 .3h.85m-6.2 .3h.85m3.9 .1h.85m.4 .5h.85m-1.1 1.1h.85m-.1 0h.85m-8.1 .8h.85m-1.8 1.5h.85m8.1 .3h.85m-9.1 .1h.85m-1.4 .1h.85m-.4 1h.85m7.9 0h.85m-2.6 .1h.85m1.2 .2h.85m-1.7 .5h.85m-1.5 .4h.85m-.4 .3h.85m-9.6 .6h.85m7.4 2.8h.85m-8.9 .7h.85m6.2 2.3h.85m-1.8 1.4h.85m-.4 .5h.85m-3.8 1.5h.85m.8 0h.85m-3.1 .6h.85"/>
<path stroke="rgb(30, 210, 150)" stroke-width="0.85" d="M99.3 59.2h.85m.9 .6h.85m-3 5.3h.85m2.4 .1h.85m-1.6 .2h.85m-3.8 .7h.85m.9 2.4h.85m-1.6 .3h.85m-1 .1h.85m2.8 8.2h.85m.4 1.6h.85m-1.8 .2h.85m-8.4 2.1h.85m2.2 12.9h.85"/>
<path stroke="rgb(30, 222, 150)" stroke-width="0.85" d="M100.8 58.9h.85m-.9 .5h.85m-1.6 .4h.85m.4 0h.85m-2.3 .1h.85m-1.6 .2h.85m-.6 .4h.85m-.6 1.7h.85m.5 .3h.85m-.5 0h.85m.1 .2h.85m-4.5 .1h.85m2.3 .3h.85m-2.1 .1h.85m-1 .1h.85m.9 .4h.85m-2.8 .2h.85m1.1 0h.85m-4.8 1.1h.85m1.6 1.1h.85m-.9 .3h.85m0 .2h.85m-1.6 .8h.85m.2 .2h.85m-1.8 .1h.85m-1.6 .6h.85m-1.2 .2h.85m0 .1h.85m-2.1 .1h.85m-.7 0h.85m-.1 .7h.85m-.8 .4h.85m-.2 0h.85m.4 .2h.85m-3.1 1.2h.85m-.4 0h.85m.6 0h.85m-2.2 .2h.85m-1.2 .4h.85m-.1 .2h.85m-1.9 .5h.85m1.3 0h.85m-1.5 .5h.85m-.5 .5h.85m.4 .4h.85m-1.6 .3h.85m-3.9 .3h.85m-.5 0h.85m3.3 .3h.85m-2.4 .1h.85m-.8 .3h.85m-4.6 .8h.85m3.2 0h.85m-4.6 .1h.85m-1.9 .2h.85m3.5 .2h.85m-4.4 .6h.85m3.4 .7h.85m-.6 .4h.85m-6.8 .1h.85m6.6 .1h.85m-1.1 1.7h.85m0 .3h.85m-1.8 .1h.85m-.4 .2h.85m-8.5 .8h.85m7.4 1.8h.85m-1.3 .6h.85m-1.2 .6h.85m.2 .9h.85m-9.6 1.2h.85m6.7 0h.85m-.4 .1h.85m-9.1 1.9h.85m.3 2.9h.85m-.6 .1h.85m4.6 .1h.85m-2.8 1.5h.85m-2.8 .9h.85"/>
<path stroke="rgb(30, 222, 138)" stroke-width="0.85" d="M100.3 57.7h.85m-.8 .6h.85m-.1 .9h.85m-.4 .6h.85m-3.6 .2h.85m-.8 .3h.85m1.1 .1h.85m-1.8 .1h.85m.6 .4h.85m-.6 0h.85m-2.9 .4h.85m-.2 .6h.85m-2.4 .2h.85m.2 .2h.85m-.6 .4h.85m-.6 0h.85m.8 1h.85m-.8 .3h.85m-1.5 .3h.85m-.4 0h.85m-1.8 .4h.85m-1.1 .7h.85m-1.1 .6h.85m-1.8 .2h.85m1.1 .2h.85m-.3 0h.85m-.6 .4h.85m-4.6 .3h.85m.7 .1h.85m-0 .4h.85m-1.1 .6h.85m-1.6 .3h.85m-1.6 .9h.85m-.3 1.6h.85m1.1 .8h.85m-1.8 .8h.85m-.6 .3h.85m-1.4 .4h.85m-.3 .2h.85m-.8 .8h.85m.2 .3h.85m-1.7 .1h.85m.5 .3h.85m-1.2 .1h.85m-3.1 .1h.85m-1.3 1.4h.85m-2.6 .3h.85m3.6 0h.85m-4.4 .4h.85m3.5 0h.85m-.6 1h.85m-6.4 .3h.85m5.9 .2h.85m-1 .4h.85m-.7 .2h.85m-.9 .9h.85m-.6 .2h.85m-8.9 1.5h.85m6.7 1.5h.85m-8.6 1.6h.85m7.2 .4h.85m-.4 .4h.85m-1.8 3.1h.85m-7.8 1.2h.85m5.4 .3h.85m-7.1 .2h.85m.9 1.7h.85m-1.2 .7h.85m-.1 0h.85m1.4 .2h.85m-3.5 .1h.85m.2 0h.85m1.6 0h.85"/>
<path stroke="rgb(42, 222, 138)" stroke-width="0.85" d="M99.4 61.1h.85m0 .7h.85m-1.6 2.4h.85m-.6 0h.85m1.1 .8h.85m-2.4 3.4h.85m-3.3 5.6h.85m3.3 .9h.85m.5 4.5h.85m-.4 .5h.85m-.6 .6h.85m-3.1 11.6h.85"/>
<path stroke="rgb(42, 222, 126)" stroke-width="0.85" d="M99.7 59.3h.85m-1.1 .4h.85m-1.6 1.2h.85m-.4 .2h.85m.2 .4h.85m-.4 0h.85m-2.8 .1h.85m-.7 .2h.85m-.3 .6h.85m1.6 .1h.85m-3.7 .3h.85m1.8 0h.85m-2.3 .5h.85m.2 .5h.85m-1.4 1.4h.85m-2.1 .1h.85m-1.6 .1h.85m1 .1h.85m-.6 .1h.85m-.9 .3h.85m-.8 .3h.85m-1.1 .1h.85m-2.2 .4h.85m.7 .1h.85m-.6 .1h.85m-2.1 .2h.85m-.8 .7h.85m-1.6 .2h.85m1.4 .1h.85m-2.6 .4h.85m-1.2 .4h.85m-.1 .3h.85m-.3 .2h.85m-.7 .1h.85m-2 .3h.85m-1.9 2h.85m-.8 0h.85m2.1 .3h.85m-1.3 .3h.85m-.1 0h.85m-1.9 .7h.85m.4 0h.85m-2.8 .1h.85m1.2 .3h.85m-1.1 .1h.85m-3.7 .2h.85m1.6 0h.85m-3.2 .1h.85m.3 .3h.85m.4 0h.85m-3.4 .1h.85m-.2 0h.85m1.2 0h.85m-.8 .6h.85m-2.9 .2h.85m1.2 .2h.85m-2 .1h.85m-2 .1h.85m-1.4 .6h.85m3.4 .1h.85m-4.9 .1h.85m-1.5 .4h.85m-1.1 1.2h.85m3.6 0h.85m-6.1 .2h.85m.2 .4h.85m4.6 0h.85m-7.8 .3h.85m-.7 0h.85m6 .4h.85m-.4 .9h.85m-2.3 .1h.85m-.4 .1h.85m-.1 .2h.85m-7.9 .2h.85m-1.2 .1h.85m-.6 .7h.85m6.3 .7h.85m-.8 1h.85m-1.2 .1h.85m-8.4 .1h.85m-1.2 .2h.85m7.4 .1h.85m-8.8 1.1h.85m-.6 .8h.85m7.2 0h.85m-1.1 .1h.85m-1.2 .1h.85m-8.6 .1h.85m-1 .8h.85m7.2 .9h.85m-1.1 .4h.85m-7.9 .2h.85m6.2 .1h.85m-7.8 .1h.85m-1 .2h.85m-1.1 .4h.85m5.7 1.4h.85m-5.6 1.5h.85m-1.1 .2h.85m3.7 .2h.85m-4.1 .8h.85m-.8 .7h.85"/>
<path stroke="rgb(42, 222, 114)" stroke-width="0.85" d="M100 59.3h.85m-.1 .4h.85m-.1 1h.85m-2.2 .7h.85m0 .2h.85m-1.6 .3h.85m.4 .1h.85m-3.1 .5h.85m-2.1 .4h.85m3 .3h.85m-3.7 .1h.85m1.6 .1h.85m-3.8 .3h.85m1.9 0h.85m-.4 .2h.85m-3.5 .2h.85m1.1 .1h.85m-.4 .8h.85m-.5 .7h.85m-3.1 .1h.85m-0 0h.85m-.3 1.3h.85m-1.4 .8h.85m-1 .3h.85m-.1 .8h.85m-1.8 .2h.85m-1.9 .2h.85m.5 0h.85m-.6 .1h.85m-1 .2h.85m-2.3 .9h.85m-.1 0h.85m-.1 .5h.85m-1.6 .2h.85m-1.4 .4h.85m.6 .1h.85m0 1.3h.85m-3.8 .3h.85m2 .1h.85m-1.4 .3h.85m-.5 .3h.85m-2.9 .4h.85m.9 .1h.85m-.8 .1h.85m-2.6 .5h.85m-1.4 .3h.85m3.2 .5h.85m-5.1 .3h.85m-.8 .1h.85m1.8 .1h.85m-4.1 .1h.85m1.1 .1h.85m2.2 0h.85m-6.4 .4h.85m4.1 .4h.85m-4.6 .1h.85m-2.3 .1h.85m1.1 0h.85m2.9 .2h.85m-.8 .6h.85m-.4 .2h.85m-7.1 .1h.85m5 .2h.85m-.4 .5h.85m-.7 0h.85m-7.6 .1h.85m-.6 .4h.85m6.1 .1h.85m-8.2 .9h.85m-.4 .4h.85m5.8 .1h.85m-.8 .6h.85m-1.1 .1h.85m-8.3 .5h.85m7.1 .4h.85m-.8 .2h.85m-1.4 1.4h.85m-8.1 .4h.85m7 .2h.85m-.8 0h.85m-8.7 .1h.85m7.2 .5h.85m-1.1 1.3h.85m-1.3 1.2h.85m-7.6 1.5h.85m-.1 .8h.85m4.3 .2h.85m-5.1 1.9h.85m-.6 .1h.85m-.3 .1h.85m.6 .1h.85m-1.9 .1h.85m-.8 .2h.85"/>
<path stroke="rgb(42, 222, 102)" stroke-width="0.85" d="M100.1 60.2h.85m-2 1.6h.85m1.2 12h.85m-.8 1h.85m1.6 8.9h.85m-7.1 7h.85"/>
<path stroke="rgb(54, 222, 102)" stroke-width="0.85" d="M100.8 59h.85m-2.2 2h.85m-.3 .3h.85m-.4 1.4h.85m-1.1 .9h.85m-.1 .8h.85m-1.9 .5h.85m-.2 0h.85m-.7 .4h.85m-1.6 .3h.85m-1.1 .5h.85m-.1 0h.85m-1.1 .2h.85m-.4 .1h.85m-.9 .1h.85m-.8 1.7h.85m-.6 .3h.85m-1 .1h.85m-1.6 .9h.85m-1.1 .6h.85m-1.2 1.7h.85m1.4 .3h.85m-2.1 .4h.85m-1.1 .4h.85m-1.4 .2h.85m-.4 .9h.85m-1.3 .6h.85m-2.4 .1h.85m2.8 0h.85m-3.4 .1h.85m-2.1 .1h.85m1.2 0h.85m-.8 .2h.85m-1.4 .7h.85m-1.8 .2h.85m-.9 .2h.85m0 0h.85m-1 .3h.85m.9 .1h.85m.4 .1h.85m-4.6 .2h.85m2.9 0h.85m-4.1 .2h.85m1.9 0h.85m.6 .1h.85m-6.8 .5h.85m-.7 .1h.85m-.3 .1h.85m3.2 .2h.85m-1.4 .2h.85m-4.8 .2h.85m4.4 0h.85m-1.4 .3h.85m-5.1 .1h.85m3.5 .2h.85m-5.8 .2h.85m4.4 1h.85m-7.1 .6h.85m6.5 .2h.85m-1.2 .6h.85m-.8 .9h.85m-.7 .1h.85m-8.5 .2h.85m6.8 .1h.85m-.1 0h.85m-8.9 .1h.85m6.4 0h.85m-8.6 .5h.85m6.6 .1h.85m-7.9 1.6h.85m-.6 0h.85m5.2 4.9h.85m-1.2 .4h.85m-.4 .1h.85m-1.1 .2h.85m-1.4 .5h.85m-1.1 .4h.85m-1.9 .7h.85m-2.5 .4h.85m-.4 .1h.85m-.4 .3h.85"/>
<path stroke="rgb(54, 234, 90)" stroke-width="0.85" d="M100.8 58.9h.85m-1.2 2h.85m-1.1 1.5h.85m-2 .2h.85m-.1 .2h.85m-.9 .4h.85m1 .3h.85m-.8 1.2h.85m-1.7 .9h.85m-1.8 1.1h.85m.1 6h.85m-1 .8h.85m-.2 .8h.85m-3 .1h.85m.8 .8h.85m-3.4 .6h.85m1.9 0h.85m-.8 .3h.85m-1.3 .1h.85m-1.7 .1h.85m-2.1 .3h.85m1.5 0h.85m-2.7 .1h.85m1.6 .1h.85m-.6 .4h.85m-4.4 .2h.85m2.4 0h.85m-4.1 .5h.85m-2.1 .6h.85m4.9 .6h.85m-6.1 .3h.85m5.1 0h.85m-6.8 1.3h.85m-1.3 .1h.85m-1.5 .1h.85m5.8 .4h.85m-.4 0h.85m-7.6 .5h.85m-1.1 .1h.85m6.4 .7h.85m-7.8 .7h.85m-1.1 .7h.85m-1.3 .3h.85m-.6 .9h.85m-.9 .4h.85m6.7 1.8h.85m-8.1 .7h.85m5.9 .1h.85m-.6 .3h.85m-7.4 1h.85m-.8 .2h.85m-.6 .7h.85m3.9 .5h.85m-3.3 1.8h.85m.4 .1h.85m-3.2 .2h.85"/>
<path stroke="rgb(66, 234, 90)" stroke-width="0.85" d="M99.5 62.7h.85m-.1 1.8h.85m-.8 2.2h.85m-.7 1.6h.85m0 5.6h.85m-.9 3.6h.85m-.1 0h.85m-3.7 .6h.85m2.3 1.3h.85m-5.1 .6h.85m4.3 .7h.85m-1.4 .1h.85m-.1 .5h.85m-.4 2.1h.85m-1.1 .5h.85m-7.8 5h.85m-.4 .3h.85m-.3 2.2h.85m2.6 1.2h.85"/>
<path stroke="rgb(66, 234, 78)" stroke-width="0.85" d="M99.5 58.9h.85m-.8 2.1h.85m.7 .6h.85m-.8 1.6h.85m-2 .1h.85m-.2 1.3h.85m-.5 1.7h.85m-1.8 1.4h.85m-.8 .2h.85m-1.6 5.7h.85m-1.1 .2h.85m.1 .4h.85m-.8 .8h.85m-.9 .7h.85m.8 .6h.85m-.7 .1h.85m-3.5 .6h.85m1.2 .6h.85m-0 .1h.85m-2.7 .4h.85m.8 0h.85m-3.1 .1h.85m-2.1 .1h.85m1.4 .3h.85m-3.1 .1h.85m2.2 0h.85m-3.1 .1h.85m3.1 0h.85m-5.8 .1h.85m2.5 .2h.85m.2 .3h.85m-6.1 .5h.85m-1.1 .4h.85m-.5 .4h.85m4.7 .1h.85m-1.8 .1h.85m-6.1 .8h.85m5.9 0h.85m-7.5 .3h.85m4.7 .5h.85m-6.9 .2h.85m-.7 .6h.85m5.9 1h.85m-7.6 .8h.85m5.9 .6h.85m-.3 .2h.85m-1.6 .2h.85m-.7 .5h.85m-7.8 .2h.85m5.9 .3h.85m-.6 .4h.85m-1.1 .1h.85m-7.1 .3h.85m5.4 .2h.85m-7.3 .1h.85m-.4 .6h.85m5.2 0h.85m-1.4 .2h.85m-6.5 .3h.85m5.4 .1h.85m-1.5 .7h.85m-1.2 .2h.85m-5.1 1.3h.85m.3 .5h.85m-1.6 .2h.85m2.1 .1h.85m-3.1 .3h.85m-.9 .5h.85"/>
<path stroke="rgb(66, 234, 66)" stroke-width="0.85" d="M100.1 75.4h.85m1.1 1.1h.85m-1.8 .6h.85m-2.4 .3h.85m-.1 0h.85m-1.6 .4h.85m-2 .2h.85m-1.1 1h.85m-2.5 2.5h.85m4.9 1.4h.85m-.1 2.2h.85m-.9 .5h.85m-.6 .6h.85m-1.1 .8h.85m-.8 .1h.85m-7 2.1h.85m4.4 .3h.85m-1.5 1.9h.85m-3.4 1h.85m-.4 .2h.85m-.4 .4h.85m-1.6 .2h.85"/>
<path stroke="rgb(78, 234, 66)" stroke-width="0.85" d="M100.7 76.1h.85m-2.6 .1h.85m.2 .2h.85m-1.4 .8h.85m-.8 0h.85m-1.1 .3h.85m-1.4 .1h.85m1.4 .1h.85m-.4 .1h.85m-4.1 .3h.85m2 0h.85m-1.4 .3h.85m.7 0h.85m-1.5 .1h.85m-4.3 .1h.85m-.6 .1h.85m3.4 .5h.85m-1.4 .1h.85m-.6 .4h.85m-1.1 .3h.85m.2 1.1h.85m-6.7 .7h.85m-1 .1h.85m5.2 .3h.85m-7.1 .4h.85m-1.1 .7h.85m6.2 .1h.85m-1.4 .1h.85m-.8 .3h.85m-.6 .2h.85m-.6 .3h.85m-1.4 .9h.85m-7.1 1.1h.85m-.9 .2h.85m4.9 2.5h.85m-6.1 .8h.85m3.4 .5h.85m-.7 1.5h.85m-4.3 .1h.85m2.8 0h.85m-2.1 .2h.85m-1.4 .5h.85"/>
<path stroke="rgb(78, 234, 54)" stroke-width="0.85" d="M99.7 75.6h.85m.4 .7h.85m-2.8 .3h.85m1.5 0h.85m-1.1 .1h.85m-1.3 .2h.85m-1 .2h.85m-.4 .1h.85m-3 .1h.85m2.2 0h.85m-2.1 .4h.85m-2.4 .2h.85m-.8 0h.85m-.4 0h.85m.5 .1h.85m-3.1 .1h.85m.4 .2h.85m0 0h.85m-1.1 .1h.85m-.8 .1h.85m.6 .1h.85m-4.4 .3h.85m-1.8 .1h.85m.1 .1h.85m2.8 .2h.85m-5.4 .1h.85m-.8 0h.85m-.6 0h.85m3.8 0h.85m-1.6 .1h.85m-.6 .4h.85m-.1 .2h.85m-6 .1h.85m4.1 .8h.85m-6.1 .3h.85m-.6 .7h.85m4.9 1.5h.85m-.4 .7h.85m-8.1 .9h.85m-.5 1.1h.85m-.9 1.4h.85m-.6 .7h.85m4.9 .1h.85m-.8 .1h.85m-.8 .8h.85m-1.1 .1h.85m-.8 .3h.85m-1.1 .2h.85m-5.4 .6h.85m-1.1 .3h.85m-.4 .5h.85m2.4 .5h.85m-3.8 .2h.85m-.6 0h.85m-1 .2h.85m1.4 0h.85m-2.6 .1h.85m-.7 .2h.85m-.3 0h.85"/>
<path stroke="rgb(90, 234, 54)" stroke-width="0.85" d="M100.2 77h.85m.5 1.1h.85m-3.9 .6h.85m-1.3 .5h.85m2.3 0h.85m-4.6 1.3h.85m-1.1 .8h.85m-.8 .8h.85m-1.6 .8h.85m6.1 3.5h.85m-6.4 5.3h.85m2.2 .6h.85"/>
<path stroke="rgb(90, 234, 42)" stroke-width="0.85" d="M100.5 75.8h.85m.1 .1h.85m-2.2 .3h.85m-.4 1.1h.85m-.5 .2h.85m-3.2 .5h.85m-1.4 .1h.85m.5 .1h.85m-2 .3h.85m-.4 .3h.85m.3 0h.85m.9 .4h.85m-2.1 .6h.85m.7 0h.85m-3.8 .1h.85m2.2 .1h.85m-5.4 .3h.85m4.4 .7h.85m-5.9 .1h.85m3.4 0h.85m-5.7 .1h.85m.1 .1h.85m3.4 .4h.85m-5.8 .4h.85m4.2 0h.85m-5.8 .6h.85m-.6 .3h.85m4.5 .7h.85m-.6 .3h.85m-7 .4h.85m-1.2 1h.85m5.8 0h.85m-7.5 .6h.85m6 .2h.85m-1.1 .2h.85m-1.4 .5h.85m-.6 .6h.85m-6.6 .4h.85m4.4 1.7h.85m-1.1 .6h.85m-1.4 .5h.85m-1.1 .6h.85m-.4 .1h.85m-1.2 .1h.85m-3.9 .3h.85m1.9 .2h.85m-3.1 .1h.85m1.4 0h.85m-3 .4h.85m-.4 0h.85m.2 0h.85m-2.4 .2h.85m-.6 .1h.85"/>
<path stroke="rgb(102, 234, 42)" stroke-width="0.85" d="M100.3 77.7h.85m-.7 1.5h.85m-3.7 1.2h.85m4.2 .3h.85m-5.6 .5h.85m4.2 3.2h.85m-6.6 .6h.85m5.2 0h.85m-1.2 1.3h.85m-1 1h.85m-.7 .7h.85m-1.5 1.8h.85m-.9 .8h.85m-4.8 .2h.85m-.7 0h.85m2.4 .3h.85m-2 1.2h.85m-.4 .2h.85"/>
<path stroke="rgb(102, 234, 30)" stroke-width="0.85" d="M102.2 79.3h.85m-5.1 1.2h.85m-1.6 1h.85m4.9 .3h.85m-6.6 .3h.85m-1 .2h.85m5 1.7h.85m-6.8 .4h.85m5.1 1.5h.85m-.8 1.8h.85m-1.8 1.7h.85m-1.4 2.3h.85m-1.3 .1h.85m-3.4 .3h.85"/>
<path stroke="rgb(114, 234, 30)" stroke-width="0.85" d="M99.4 76.3h.85m-1 2.1h.85m-.2 0h.85m1 .1h.85m-3.6 .1h.85m-1.7 .1h.85m.7 0h.85m-1.8 .4h.85m-.6 .1h.85m.1 0h.85m-2.6 .1h.85m1.9 .1h.85m-2.9 .2h.85m1.7 .1h.85m-3.4 .3h.85m-1.5 .1h.85m-1.6 .2h.85m2.6 0h.85m-3.8 .2h.85m2.9 .2h.85m-4.6 .8h.85m3.6 .9h.85m-6 .8h.85m-1.4 .3h.85m-.6 .1h.85m-.4 0h.85m-1.4 .5h.85m5.2 1h.85m-.8 .2h.85m-6.6 .1h.85m4.9 .3h.85m-1.8 1.5h.85m-5.9 .2h.85m-.8 .6h.85m3.6 3.4h.85m-2.4 .2h.85m-1.8 .3h.85m-.6 .4h.85m.4 .1h.85"/>
<path stroke="rgb(126, 234, 30)" stroke-width="0.85" d="M101.8 78.7h.85m-1.6 .2h.85m-1.6 .9h.85m-.4 .2h.85m-.8 .1h.85m-3.4 .6h.85m-2.1 2.6h.85m-.6 .4h.85m4.6 .4h.85m-6.6 1.1h.85m-.9 .2h.85m-.8 .2h.85m4.8 .4h.85m-.8 .4h.85m-6.4 .2h.85m-.8 .2h.85m4.6 .7h.85m-1.2 2.2h.85m-4.8 1.1h.85m1.9 .3h.85m-3.8 .1h.85m1.2 1.3h.85"/>
<path stroke="rgb(138, 234, 30)" stroke-width="0.85" d="M100.5 76.8h.85m-.8 2.1h.85m-2.4 .1h.85m-1.3 .6h.85m.6 0h.85m.6 .3h.85m-1.4 .1h.85m1 .3h.85m-5.4 .1h.85m2 .2h.85m-4.1 .3h.85m3.2 .1h.85m-5.6 .5h.85m4 .1h.85m-.8 .1h.85m-.4 0h.85m-.8 .4h.85m-5.7 .4h.85m4.3 .2h.85m-1 1.7h.85m-6 .2h.85m4.7 .2h.85m-.9 .5h.85m-6.8 1h.85m-.7 .6h.85m4.8 .2h.85m-1.1 1.7h.85m-1.1 .4h.85m-1.6 1.7h.85m-4.1 .3h.85m1.7 .2h.85m-2.4 .3h.85m-1.1 .1h.85"/>
<path stroke="rgb(138, 234, 18)" stroke-width="0.85" d="M101.1 79.8h.85m-.7 .9h.85m.5 6.2h.85m-.6 1.4h.85m-4.4 3.6h.85m-.7 0h.85m-.8 .1h.85"/>
<path stroke="rgb(150, 234, 18)" stroke-width="0.85" d="M99.9 77.8h.85m-.7 .9h.85m-2.4 .5h.85m-.6 .2h.85m-1 .3h.85m.9 .1h.85m-.4 .1h.85m-2.1 .5h.85m-.9 .2h.85m-1.6 .1h.85m2.2 .3h.85m-1.4 .6h.85m-.3 .8h.85m-.4 .1h.85m-1.1 .3h.85m-.9 .1h.85m-5.4 .5h.85m4.3 .1h.85m-6.4 .2h.85m-.9 1h.85m4.6 .4h.85m-6.1 1.5h.85m4.5 .8h.85m-6.7 .1h.85m4.9 .1h.85m-.6 .5h.85m-6.1 1.1h.85m-.4 .2h.85m-.6 .7h.85m2.2 .5h.85m-.6 .5h.85m-1.8 .4h.85m-2.2 .1h.85m.5 .1h.85m-2.4 .1h.85"/>
<path stroke="rgb(162, 234, 18)" stroke-width="0.85" d="M99.4 78.6h.85m-.5 .8h.85m-2.1 .3h.85m-.4 .2h.85m-.4 0h.85m-1.6 .2h.85m-1.4 .2h.85m1.4 0h.85m-3.1 .2h.85m-.6 0h.85m1.6 .2h.85m-.4 .8h.85m-4.3 .6h.85m3.9 .1h.85m-5.9 .6h.85m-1.1 .1h.85m-.8 .6h.85m-1.4 .5h.85m4.8 .4h.85m-1.1 .1h.85m-5.6 .3h.85m4 1.8h.85m-6.2 .3h.85m-.8 .3h.85m4.6 .3h.85m-5.7 2.2h.85m-1 .5h.85m-.1 .5h.85m-.2 .3h.85m.4 .1h.85m-.6 .5h.85"/>
<path stroke="rgb(174, 234, 18)" stroke-width="0.85" d="M101.6 79.3h.85m-.4 .3h.85m-3.1 .1h.85m-1.8 .7h.85m.9 .4h.85m-3 .1h.85m-.4 0h.85m2.2 .1h.85m-1.2 .1h.85m-3.4 .2h.85m1.6 .3h.85m.2 .6h.85m-6.2 .8h.85m-1.2 .5h.85m-.1 .2h.85m-1.1 .9h.85m-.6 1.1h.85m4 1.5h.85m-5.6 .5h.85m-1 1.3h.85m-.5 .1h.85m.1 1.8h.85m-1.1 .1h.85m1.8 .1h.85m-2.5 .1h.85m.2 .2h.85m-2.1 .1h.85"/>
<path stroke="rgb(186, 234, 18)" stroke-width="0.85" d="M101.2 80.2h.85m-4 9.8h.85m.1 1.1h.85"/>
<path stroke="rgb(186, 234, 6)" stroke-width="0.85" d="M99.8 78.6h.85m.3 .8h.85m-1.5 .9h.85m-.8 0h.85m-.6 0h.85m-2.2 .1h.85m-.8 .1h.85m-.3 .1h.85m-.6 0h.85m-.3 .4h.85m-.8 .7h.85m.2 .1h.85m-.4 .8h.85m-5.4 .5h.85m-.6 0h.85m3.7 .3h.85m-1.1 .2h.85m-5.2 .2h.85m4 .7h.85m-6.4 .4h.85m-.2 .3h.85m3.9 .2h.85m-6.4 .9h.85m4.6 0h.85m-.8 0h.85m-.9 1.2h.85m-1 .1h.85m-5.8 .2h.85m3.9 1.8h.85m-4.5 .4h.85m-1 .2h.85m-1.1 .4h.85m1.8 .2h.85m-1.4 .3h.85m-1.4 .2h.85m-1.5 .1h.85m-.8 0h.85m-.1 0h.85m-.7 0h.85"/>
<path stroke="rgb(198, 234, 6)" stroke-width="0.85" d="M101.7 79.2h.85m-2.6 .1h.85m-1.7 .5h.85m-.7 .1h.85m-.6 .5h.85m.3 0h.85m-1.4 .1h.85m-2.2 .5h.85m-1.6 .8h.85m3.4 .9h.85m-5.3 1.6h.85m3.6 .4h.85m-5.2 .2h.85m3.2 .2h.85m-5.3 3.5h.85m-.8 .2h.85m3.4 1h.85m-1.6 .1h.85m-1.8 .9h.85m.2 0h.85m-3.5 .2h.85m1.6 0h.85m-1.8 .1h.85m-.9 .2h.85m-1.1 .6h.85"/>
<path stroke="rgb(210, 234, 6)" stroke-width="0.85" d="M101.3 80.5h.85m-2.6 .1h.85m.8 0h.85m-3.1 .2h.85m1.4 .1h.85m-3.1 .1h.85m-1.1 .1h.85m1.2 .1h.85m-.8 .5h.85m-2.6 .2h.85m-1.6 .6h.85m-.4 0h.85m-1.6 .7h.85m-1.1 .3h.85m-1.1 .1h.85m4.2 .1h.85m-5.6 .1h.85m-.5 .1h.85m2.6 .6h.85m-.5 .3h.85m-5.4 1.2h.85m-1 1h.85m-.2 1.1h.85m-1.3 .3h.85m3.6 .8h.85m-4.1 .6h.85m1.4 0h.85m-3.4 .4h.85m1.2 .6h.85m-1.6 .7h.85"/>
<path stroke="rgb(222, 234, 6)" stroke-width="0.85" d="M98.7 80.6h.85m.2 .3h.85m.2 0h.85m-.7 0h.85m-.5 0h.85m-2.1 .2h.85m-1.8 .1h.85m-.1 0h.85m.4 .1h.85m-2.1 .2h.85m-1.3 .4h.85m1.2 0h.85m-.6 .1h.85m-1 .3h.85m-4 .1h.85m2.2 .1h.85m-3.4 .1h.85m1.6 .5h.85m-.6 .2h.85m-.6 .2h.85m-.6 .8h.85m-.8 .2h.85m-.8 .1h.85m-5.4 .3h.85m-.5 0h.85m3.4 1.1h.85m-.8 .3h.85m-.8 .3h.85m-5.4 .5h.85m-1.1 .7h.85m3.5 .2h.85m-4.6 .8h.85m2.5 1.1h.85m-1.2 .3h.85m-2.4 1h.85"/>
<path stroke="rgb(222, 222, 6)" stroke-width="0.85" d="M100.4 80.9h.85m-.5 0h.85m-.8 .2h.85m-1.6 .2h.85m-.4 0h.85m-1.6 .2h.85m-.6 0h.85m-.5 .1h.85m0 .5h.85m-.9 .3h.85m-4 .2h.85m-.6 0h.85m-.1 .4h.85m2.2 .3h.85m-1.5 .1h.85m-.6 .5h.85m-.5 0h.85m-4.9 .1h.85m3.2 1.2h.85m-.7 .3h.85m-1.1 .5h.85m-.6 .2h.85m-.6 0h.85m-.8 1h.85m-5.3 .1h.85m-1.3 .5h.85m-.6 1.8h.85m2.3 0h.85m-3.3 .2h.85m-1.1 .2h.85m2 0h.85m-1.7 .2h.85m-2.8 .1h.85m1.7 .3h.85m-.4 0h.85m-2.1 .1h.85m-1.1 .7h.85m-.7 0h.85"/>
<path stroke="rgb(222, 210, 6)" stroke-width="0.85" d="M99 80.4h.85m.2 .1h.85m.4 1h.85m-1.8 .1h.85m-2.6 .9h.85m-.8 .5h.85m1.9 .4h.85m-.6 .5h.85m-4.7 .3h.85m-1.1 1.1h.85m-.5 .6h.85m-.7 .1h.85m3.2 .1h.85m-5.3 .7h.85m-.9 .2h.85m-.4 2.2h.85m-.8 0h.85m-.9 .3h.85m2.4 .8h.85m-1.2 .2h.85m-2.7 .8h.85"/>
<path stroke="rgb(234, 210, 6)" stroke-width="0.85" d="M100.4 79.2h.85m-2.4 2h.85m.2 .2h.85m-.8 0h.85m-.5 .2h.85m-2.4 .4h.85m-1.4 .1h.85m2.6 .1h.85m-1.6 1.2h.85m-.5 0h.85m-4.5 .1h.85m-.8 1h.85m2.9 .1h.85m-1.4 .2h.85m-.2 0h.85m-4.8 .8h.85m3.2 .4h.85m-1.1 .3h.85m-1.1 .1h.85m-.5 1.1h.85m-.7 .3h.85m-1.5 .3h.85m-3.7 1h.85m-.8 0h.85m2.2 .3h.85m-3.6 .5h.85m-1.6 .1h.85m-.3 .5h.85m1.4 0h.85m-.6 .2h.85m-1.4 .4h.85"/>
<path stroke="rgb(234, 198, 6)" stroke-width="0.85" d="M99.6 81.3h.85m-2.1 .7h.85m1.8 .1h.85m-3.2 .3h.85m1.3 .1h.85m-3.6 .1h.85m0 0h.85m1.4 0h.85m-.7 .4h.85m-.1 0h.85m-4.8 .1h.85m2.8 .2h.85m-1.5 .4h.85m-.6 .3h.85m.2 .3h.85m-5.2 .2h.85m-1.1 .5h.85m3.6 .4h.85m-.8 .2h.85m-1.4 .2h.85m-4.9 .6h.85m3.4 0h.85m-5.3 .1h.85m3.3 0h.85m-.8 .8h.85m-.6 0h.85m-5.2 .2h.85m-.3 .8h.85m-1.1 .5h.85m2.9 0h.85m-1.4 .4h.85m-3.6 .2h.85m1.2 .4h.85m-2.7 .3h.85m1.2 0h.85m-3.4 .1h.85m-.2 .1h.85m-.7 0h.85m-1.4 .1h.85m.1 .2h.85m-1.8 .1h.85m1.2 .3h.85"/>
<path stroke="rgb(234, 186, 6)" stroke-width="0.85" d="M99.7 80.7h.85m-.4 .9h.85m-2.5 .4h.85m-0 0h.85m.2 .2h.85m-.1 0h.85m-3.2 .7h.85m1 0h.85m-.6 .6h.85m-2.9 .3h.85m1.7 .3h.85m-4.6 .4h.85m3.2 .3h.85m-4.7 .2h.85m3.2 .5h.85m-4.8 .2h.85m3.1 .1h.85m-5.4 .2h.85m-.8 .5h.85m3.1 0h.85m-4.4 .1h.85m3.2 0h.85m-.8 .3h.85m-5.1 .1h.85m3.4 0h.85m-1.6 .2h.85m-.5 .8h.85m-3.9 .1h.85m-1.1 .1h.85m2.2 0h.85m-4.4 .8h.85m-.1 .1h.85m2.2 0h.85m-2.3 .5h.85m-1.8 .3h.85m1.1 0h.85m-1.3 .1h.85m-2.4 .1h.85m.9 0h.85m-2.4 .2h.85m0 .1h.85m-.9 .6h.85m-2.1 .3h.85m.4 0h.85"/>
<path stroke="rgb(234, 174, 6)" stroke-width="0.85" d="M100.3 81.3h.85m-.9 .4h.85m-.3 .3h.85m-2.6 .3h.85m-1 .1h.85m-.8 .2h.85m1.2 .1h.85m-2.8 .1h.85m-1.1 .9h.85m1.6 .4h.85m-4 .6h.85m3 0h.85m-1 .7h.85m-4.6 .5h.85m3.4 .3h.85m-5.1 1.1h.85m2.7 1.4h.85m-.8 .4h.85m-1.4 .3h.85m-1.4 .5h.85m-.7 .5h.85m-2.4 .2h.85"/>
<path stroke="rgb(246, 174, 6)" stroke-width="0.85" d="M100 81.6h.85m-1.6 .1h.85m-.5 .3h.85m.2 .4h.85m-.5 .4h.85m-3.2 .1h.85m1.1 0h.85m.2 .1h.85m-1.4 .9h.85m-3.6 .4h.85m-.9 .7h.85m2.5 .2h.85m-4.6 .1h.85m-1.1 .1h.85m-.4 3.5h.85m2.1 .5h.85m-1.8 .6h.85m-.6 .3h.85m-1.8 .2h.85m-1.1 .2h.85"/>
<path stroke="rgb(246, 162, 6)" stroke-width="0.85" d="M99.9 81.4h.85m-.5 .1h.85m-3.2 1.8h.85m.2 .2h.85m.4 0h.85m-2.8 .3h.85m2.4 .3h.85m-4.1 .4h.85m-1.1 1.4h.85m-1 .5h.85m3.2 .7h.85m-1.1 .4h.85m-1.2 .6h.85m-3.8 .3h.85m1.5 .8h.85m-.9 .1h.85m-2.8 .4h.85m-.1 .4h.85m-.1 0h.85m-1.8 .1h.85m-.4 .1h.85"/>
<path stroke="rgb(246, 150, 6)" stroke-width="0.85" d="M100.1 81.4h.85m-1.7 .2h.85m.2 1h.85m-.1 0h.85m-3.1 .2h.85m.6 .2h.85m-2.1 .2h.85m.3 .3h.85m-.6 .4h.85m.4 0h.85m-4.1 .5h.85m-1.4 1.2h.85m2.4 .1h.85m-.7 .5h.85m-.8 0h.85m-.4 .5h.85m-1.2 .1h.85m-4.2 .3h.85m-.6 0h.85m2.2 .6h.85m-3.7 .1h.85m1.8 .7h.85m-1.3 .1h.85m-3.6 .1h.85m2.1 0h.85m-1.6 .1h.85m-2.6 .1h.85m1.9 .1h.85m-3.1 .2h.85m1 .4h.85m-.6 .4h.85"/>
<path stroke="rgb(246, 138, 6)" stroke-width="0.85" d="M100.7 82.6h.85m-2.4 .1h.85m.5 .2h.85m-2.8 .1h.85m-1 1.4h.85m-.7 .4h.85m-.9 .1h.85m2.2 .3h.85m-4.4 2.8h.85m2.2 .6h.85m-3.4 .2h.85m.4 .1h.85m-1.3 .5h.85m-.1 1.6h.85"/>
<path stroke="rgb(255, 138, 6)" stroke-width="0.85" d="M99.4 81.5h.85m-.4 .3h.85m-.8 .3h.85m-.6 .2h.85m-1.2 .4h.85m-2 .2h.85m-.7 .1h.85m.2 .1h.85m-1.8 1.2h.85m1.2 1.3h.85m-3.4 .2h.85m-1.1 .8h.85m-.8 .8h.85m-.8 0h.85m1.5 .5h.85m-0 .1h.85m-1.6 .6h.85m-2 .9h.85m-.6 .2h.85m-1.1 .2h.85"/>
<path stroke="rgb(255, 126, 6)" stroke-width="0.85" d="M100.5 82h.85m-1.8 .4h.85m-1.1 .5h.85m-.1 .1h.85m-.5 .1h.85m-1.2 .2h.85m.5 0h.85m-3.5 .2h.85m-.9 .4h.85m0 .1h.85m-1.4 .2h.85m-.3 0h.85m-1.6 .1h.85m-.7 .5h.85m.4 .2h.85m-.1 0h.85m-3.3 .1h.85m1.4 .2h.85m.2 1.1h.85m-4 .5h.85m-.4 .7h.85m1.4 .2h.85m-.8 0h.85m-3.3 .9h.85m1.1 .3h.85m-2.8 .5h.85m-.1 .2h.85m-.8 .2h.85m-1.4 .4h.85"/>
<path stroke="rgb(255, 114, 6)" stroke-width="0.85" d="M100.1 82.5h.85m-.2 .4h.85m-1.8 .2h.85m-.1 .7h.85m-1.1 .4h.85m-2.6 .3h.85m1.6 .4h.85m-3.3 .1h.85m-.9 .1h.85m-1.6 .2h.85m2.6 .2h.85m-4 .2h.85m-.6 .3h.85m-.6 .6h.85m2.3 .1h.85m-2.6 1h.85m.6 0h.85m-3.6 .4h.85m1.5 .1h.85m-3.1 .1h.85m-1.1 .2h.85m.2 0h.85m.5 0h.85m-1.1 .2h.85m-2.1 .1h.85m-1.6 .2h.85m.9 0h.85m-.4 .1h.85m-1.6 .3h.85"/>
<path stroke="rgb(246, 114, 6)" stroke-width="0.85" d="M100.3 84h.85m-2.6 3.5h.85m.1 .5h.85m-1.3 .2h.85"/>
<path stroke="rgb(246, 102, 6)" stroke-width="0.85" d="M100.4 82.8h.85m-.6 .2h.85m-1.5 .1h.85m-1.6 .1h.85m-1.4 .7h.85m.2 .1h.85m-.4 0h.85m-1.8 .2h.85m.9 .2h.85m-2.4 .2h.85m1.4 .2h.85m-3.8 .1h.85m.9 .4h.85m-3.1 .2h.85m-.1 .2h.85m-1.5 .4h.85m-.7 .1h.85m1.7 .9h.85m-.8 .2h.85m-.6 .1h.85m-1.7 .2h.85m-.1 .1h.85m-1.8 .5h.85m-2.6 .6h.85m.4 .5h.85"/>
<path stroke="rgb(246, 90, 6)" stroke-width="0.85" d="M100.1 82.6h.85m-2.4 .8h.85m.8 .3h.85m-2.3 .3h.85m.6 .7h.85m-.6 .6h.85m-.4 .2h.85m-1.6 .2h.85m-2.6 .2h.85m1.2 0h.85m-.8 0h.85m-.5 0h.85m-.7 0h.85m-1.5 .2h.85m-.2 .3h.85m-3.4 .5h.85m1.2 .6h.85m-1.9 .2h.85m.5 0h.85m-2.1 .2h.85m.6 0h.85m-1.2 .1h.85m-.4 0h.85m-1.4 .3h.85m-.8 .1h.85m-.7 0h.85m-1.5 .3h.85m-2 .1h.85m-1.2 .3h.85m.4 .1h.85m-1.6 .4h.85m.3 .3h.85m-1.8 .1h.85"/>
<path stroke="rgb(246, 78, 6)" stroke-width="0.85" d="M99.4 83.3h.85m.8 .5h.85m-1 .3h.85m-1.2 .4h.85m-.9 .2h.85m-1.3 .2h.85m-2.6 .7h.85m-.6 .1h.85m1.6 0h.85m-3.3 .2h.85m-.4 .2h.85m-1.4 .4h.85m-.8 0h.85m-.6 .9h.85m-1.1 .3h.85m1.1 .5h.85m-1.1 .1h.85m-2.4 .1h.85m-.3 .6h.85"/>
<path stroke="rgb(246, 66, 6)" stroke-width="0.85" d="M99.3 83.4h.85m-.8 .1h.85m.4 .5h.85m-1.7 .1h.85m-1.4 .1h.85m0 .1h.85m-2.5 .2h.85m-.5 .1h.85m1.2 .6h.85m-1.7 .2h.85m.2 0h.85m-1.3 .2h.85m-.8 1.5h.85m-.6 .1h.85m-2.9 .1h.85m0 .4h.85m-.2 .2h.85m-.6 0h.85m-.8 0h.85m-1.1 .1h.85m-.4 .1h.85m-2.4 .1h.85m-.8 .6h.85m.1 .1h.85m-1.1 .2h.85m-1.3 .4h.85m-.8 .1h.85"/>
<path stroke="rgb(246, 54, 6)" stroke-width="0.85" d="M99.8 83.3h.85m-1.4 .5h.85m-.4 .1h.85m-1.6 .1h.85m-.6 .1h.85m-.1 0h.85m-.6 .3h.85m-1.3 .5h.85m-.6 .1h.85m-1.9 .3h.85m.9 .2h.85m-.6 0h.85m-1 .5h.85m-.6 0h.85m-2.8 .7h.85m.1 .2h.85m-.8 .1h.85m-1.8 .2h.85m.3 0h.85m-2.6 .1h.85m-.4 .2h.85m1.4 0h.85m-2.8 .5h.85m-.8 .1h.85m-.7 0h.85m-.4 .5h.85m.2 .1h.85m-2 .1h.85m-.2 0h.85m-1.7 .2h.85"/>
<path stroke="rgb(246, 42, 6)" stroke-width="0.85" d="M99.4 84.4h.85m-.3 .5h.85m-1.3 .1h.85m-1.1 .5h.85m-1.6 .1h.85m-.6 0h.85m.4 0h.85m-2.1 .1h.85m-1.4 .1h.85m1.2 0h.85m-2.6 .2h.85m-.8 .3h.85m-.1 .2h.85m-1.1 .1h.85m-.1 0h.85m-1.3 .1h.85m-1.8 .1h.85m.4 .1h.85m.4 0h.85m-2.8 .1h.85m-.7 0h.85m-.5 .1h.85m-.1 .3h.85m.2 0h.85m-2.6 .1h.85m.4 .3h.85m-.8 0h.85m-1.9 .7h.85m-.3 .3h.85m-2.1 .1h.85m.2 .1h.85m-1.1 .7h.85"/>
<path stroke="rgb(246, 30, 6)" stroke-width="0.85" d="M100.2 85.5h.85m-.8 .6h.85m-1.6 .1h.85m0 0h.85m-2.7 .8h.85m.5 1.4h.85m-.2 .3h.85m-1.6 .4h.85"/>
<path stroke="rgb(234, 30, 6)" stroke-width="0.85" d="M100.3 84.7h.85m-1.8 .6h.85m.4 .3h.85m-.4 .2h.85m-2.8 .5h.85m-.4 .3h.85m-.6 0h.85m-1.7 .5h.85m.2 .2h.85m-.5 0h.85m-.7 1.4h.85"/>
<path stroke="rgb(234, 18, 6)" stroke-width="0.85" d="M100.1 83.9h.85m-.6 0h.85m-1.4 .1h.85m-.4 0h.85m-1.4 .6h.85m-.3 .1h.85m-.8 .2h.85m-2.1 .5h.85m.6 .2h.85m-1.4 .1h.85m-.6 .3h.85m-2.4 .1h.85m-.1 .4h.85m-.3 0h.85m-.4 .1h.85m-1.8 .1h.85m-.4 .1h.85m-.8 .4h.85m-1.4 1h.85m-.4 .1h.85m-.6 .3h.85m-1.1 .2h.85"/>
<path stroke="rgb(234, 6, 6)" stroke-width="0.85" d="M99.9 83.9h.85m-1.2 .3h.85m-.6 .2h.85m-.7 .4h.85m-1.5 .1h.85m-.1 .1h.85m-.6 .1h.85m-2.1 .2h.85m-.8 0h.85m-.3 0h.85m-.4 .3h.85m-1.4 .1h.85m-.5 0h.85m-.4 0h.85m-1.4 .1h.85m-.4 0h.85m-.6 0h.85m-1.5 .1h.85m-1.1 .1h.85m-.5 0h.85m-.8 0h.85m-.8 0h.85m-.8 0h.85m-.4 0h.85m-1.6 .1h.85m-.6 .1h.85m-.8 0h.85m-1 .1h.85m-.4 0h.85m-1.1 .1h.85m-2.1 .1h.85m-.4 0h.85m-.2 0h.85m-.1 0h.85m-1.6 .1h.85m-.6 0h.85m-1.6 .1h.85m-.3 0h.85m-2.1 .1h.85m-.1 0h.85m.1 .1h.85m-2.4 .1h.85m-.5 0h.85m-.6 0h.85m-.6 0h.85m-.8 .2h.85m-1.6 .2h.85m0 0h.85m-.7 .1h.85m-.8 0h.85m-.5 0h.85m-.7 0h.85m-1.3 .1h.85m-1.4 .1h.85m.1 0h.85m-1.4 .2h.85m-.8 0h.85m-1.5 .2h.85m-.8 .1h.85m-.9 .1h.85m-.6 0h.85m-.1 .3h.85m-1.4 .3h.85m-.8 0h.85"/>
</g>
<g filter="url(#soft4)" opacity="0.85">
<path stroke="rgb(54, 66, 246)" stroke-width="0.85" d="M185.3 40h.85m8.2 6h.85m22.6 .6h.85m-24.7 .1h.85m24.6 .9h.85m-6.4 1.1h.85m-6.3 .1h.85m-1.8 .1h.85m10.4 0h.85m-.8 0h.85m4.6 .4h.85m-36.4 .5h.85m23.4 0h.85m-4.1 .7h.85m-26.4 .7h.85m3.6 0h.85m2 .1h.85m28.1 .3h.85m-12.1 .1h.85m-.2 0h.85m-29.4 .2h.85m7 0h.85m23.2 .6h.85m-26.5 .6h.85m-.9 .4h.85m3.6 .3h.85m11.7 .4h.85m2.8 .3h.85m-8.4 .1h.85m22.7 0h.85m-23.3 .3h.85m19.3 .4h.85m-37.1 .8h.85m41.3 .1h.85m-6.3 .3h.85m3.4 .4h.85m-25.8 .1h.85m-18.8 .2h.85m17.7 .4h.85m-17.8 .3h.85m-2.2 .4h.85m2 0h.85m34.2 0h.85m-2.7 .4h.85m-29.4 .5h.85m6 .3h.85m3.2 .1h.85m-7.7 .9h.85m-13 .3h.85m36.8 .3h.85m-38.2 .3h.85m9.6 .3h.85m-5.8 .3h.85m-.8 .2h.85m-6.5 .5h.85m.5 .5h.85m-2.1 .1h.85m42.2 .4h.85m-34.2 .2h.85m-11.6 .3h.85m35.3 0h.85m-27.5 .1h.85m-2.3 .3h.85m1.2 .4h.85m25 .4h.85m-.6 .3h.85m-29.5 .1h.85m34.7 .9h.85m-11.4 .2h.85m-29.7 .5h.85m-1.9 .5h.85m26.5 .3h.85m-30.1 .4h.85m-2.4 .4h.85m40.2 0h.85m-39.7 .5h.85m37.2 .1h.85m-5.2 .4h.85m-4.5 1.2h.85m2.2 .4h.85m5.6 .6h.85m-12.2 .2h.85m-31.4 .2h.85m26 .1h.85m8.2 1.2h.85m1.2 2.4h.85m-15.3 .5h.85m-0 .2h.85m-1.4 .3h.85m3.2 .1h.85m-9.2 3.3h.85m-1 1.5h.85m3.7 .7h.85m-3.8 .1h.85m-6.6 2.6h.85m3.2 1.9h.85m10.2 .4h.85m-15.2 1h.85m-7.8 .8h.85m-2.9 .7h.85m-6.9 .2h.85m.6 .2h.85m-.3 0h.85m16.1 4.3h.85"/>
<path stroke="rgb(42, 66, 246)" stroke-width="0.85" d="M188.5 47.8h.85m31.8 1.9h.85m-14.5 .3h.85m18.1 .1h.85m-10.4 .3h.85m-1.2 .1h.85m3.4 0h.85m-38.1 .3h.85m33.1 0h.85m-31.9 .4h.85m28.6 .3h.85m-29.3 .3h.85m29.6 0h.85m-31.5 .7h.85m27.9 0h.85m-.5 .3h.85m1.7 .1h.85m-7.8 .4h.85m-9.7 .1h.85m8.6 .1h.85m-27.6 .2h.85m28.6 .1h.85m-10.4 .3h.85m2.7 .2h.85m-22.7 .6h.85m1.6 .2h.85m-2.6 1h.85m12.2 .1h.85m-11.6 .5h.85m10.2 .2h.85m-14.4 .7h.85m.6 .1h.85m.8 0h.85m8.8 .3h.85m-12.4 .2h.85m1.3 .8h.85m-8 .3h.85m1.5 .1h.85m-3.4 .4h.85m-.1 .1h.85m13.3 .1h.85m.6 .2h.85m-2.8 .1h.85m.1 .1h.85m1.2 .4h.85m-9 .1h.85m-3.7 .3h.85m-6.4 .4h.85m12.7 .4h.85m-13.4 .2h.85m34 .1h.85m-4.8 .3h.85m-31.5 .5h.85m10 0h.85m.8 0h.85m-4.4 .1h.85m-9.6 .1h.85m1.9 .2h.85m4.5 .1h.85m22.1 0h.85m-29.7 .5h.85m-3.1 .3h.85m-5.6 .6h.85m9.6 .4h.85m3.5 0h.85m-2.1 .7h.85m-8.6 .4h.85m27.4 0h.85m-1.2 .3h.85m-21.3 .1h.85m17.2 1.4h.85m-2.4 .3h.85m-27.6 .5h.85m24.4 .1h.85m-26.8 .1h.85m7.2 .4h.85m-7.1 .3h.85m-3.2 .2h.85m.5 .4h.85m26.1 .4h.85m-2.4 .4h.85m-24.4 .1h.85m-4.9 .1h.85m2.6 0h.85m25.7 0h.85m-.8 0h.85m-27.1 .5h.85m27.9 .2h.85m-31.1 .7h.85m27.2 .4h.85m-30.4 .2h.85m28.2 0h.85m-26.8 .6h.85m24 0h.85m1.6 .4h.85m-32.9 .1h.85m-.8 0h.85m23.5 .5h.85m-5.3 .8h.85m.2 .4h.85m1.6 .4h.85m-23.8 1.7h.85m17.4 .7h.85m-.3 1h.85m.9 .1h.85m-4.7 .2h.85m1.5 1.3h.85m3.6 .6h.85m-9.8 .3h.85m-0 .8h.85m.8 0h.85m.1 .1h.85m-2.3 .5h.85m-2.5 .9h.85m-.2 0h.85m-3.1 1h.85m4.7 .5h.85m-7 .4h.85m-.3 .1h.85m-5.3 .4h.85m-1.3 .1h.85m1.4 .9h.85m-11.1 .2h.85m4.2 .7h.85m-3.2 .2h.85m2.4 .2h.85m-1 .9h.85m4.6 .2h.85m-6.4 .2h.85m-3.2 .3h.85m-.8 1.5h.85m-1.3 .4h.85m-3.4 .1h.85"/>
<path stroke="rgb(42, 78, 255)" stroke-width="0.85" d="M214.4 49.8h.85m3.4 .9h.85m-2.1 1.4h.85m-8.9 .4h.85m5.5 .3h.85m-2 .3h.85m3.2 0h.85m-31.8 .1h.85m20.7 0h.85m-.4 0h.85m7.1 .2h.85m-29.8 .2h.85m24.4 .1h.85m3.8 0h.85m-7.8 .2h.85m-.2 0h.85m2.5 .1h.85m-11.8 .2h.85m8.7 0h.85m-28.1 .2h.85m24.1 0h.85m-.1 .4h.85m-.2 .3h.85m-3.9 .1h.85m1.8 .3h.85m-8.1 .2h.85m3.5 0h.85m-1.7 .1h.85m7.6 .3h.85m2.2 0h.85m-35.6 .6h.85m-.5 0h.85m.1 .1h.85m30.5 .1h.85m-12.2 .3h.85m-20.3 .3h.85m19.3 0h.85m10.9 .1h.85m-12.7 .1h.85m-2.5 .1h.85m-1.6 .3h.85m1.6 .3h.85m-4.8 .3h.85m3 0h.85m-2.9 .5h.85m11.6 .1h.85m-18.1 .3h.85m16.2 0h.85m-13.2 .2h.85m10.6 0h.85m-16.8 .1h.85m3.6 0h.85m-2.2 .1h.85m-.8 0h.85m-4 .1h.85m2.9 0h.85m12.3 .1h.85m-14.2 .1h.85m-.4 0h.85m-.3 0h.85m11.7 0h.85m-.8 0h.85m-13.1 .3h.85m10.9 0h.85m-.2 0h.85m-32.3 .1h.85m30.2 .1h.85m-12.7 .2h.85m-11.8 .3h.85m1.5 .2h.85m8.5 .1h.85m-11.2 .1h.85m7.2 0h.85m-4.7 .1h.85m-1.4 .3h.85m2.4 0h.85m13.7 .2h.85m-32.3 .1h.85m8.2 .3h.85m19 0h.85m-27.4 .2h.85m8.9 .1h.85m17.1 0h.85m-20.4 .2h.85m-7.8 .3h.85m-.6 0h.85m7.2 0h.85m-7.9 .1h.85m5.4 0h.85m1.6 0h.85m12.5 0h.85m1.1 0h.85m-18.2 .3h.85m-.3 0h.85m2.2 0h.85m-.1 0h.85m-14.4 .1h.85m2.6 0h.85m.3 .2h.85m18.2 0h.85m3.3 0h.85m-17.8 .1h.85m13.9 0h.85m-2.6 .1h.85m2.5 0h.85m-19.7 .1h.85m.4 0h.85m13.2 .1h.85m-9.6 .2h.85m-14.6 .1h.85m4.8 0h.85m.4 0h.85m.2 0h.85m-9.1 .1h.85m6.6 0h.85m15.7 .1h.85m-14 .1h.85m6.9 .1h.85m-10.6 .1h.85m.7 0h.85m10.6 0h.85m2.2 0h.85m-3.4 .1h.85m-16.4 .1h.85m-8.3 .2h.85m12.6 .2h.85m2.2 0h.85m-17.1 .1h.85m2.2 0h.85m5.3 0h.85m12.2 .1h.85m-16.5 .1h.85m-6.2 .1h.85m-.2 .1h.85m6.2 0h.85m-5.8 .1h.85m3.6 0h.85m19 0h.85m-20.8 .1h.85m-5.9 .1h.85m-4.4 .1h.85m10.6 0h.85m9.9 .2h.85m-20.8 .1h.85m3.8 0h.85m17 0h.85m-23.2 .1h.85m.2 0h.85m16.6 0h.85m1.2 .1h.85m-23.7 .1h.85m2.2 .1h.85m3 .1h.85m.4 0h.85m-12 .3h.85m2.2 .3h.85m5.1 0h.85m10.7 0h.85m1.2 0h.85m-3.8 .1h.85m1.1 0h.85m3 0h.85m-8.1 .1h.85m-10.2 .1h.85m16.3 0h.85m-15.4 .1h.85m-5.4 .1h.85m1.4 .3h.85m-.7 0h.85m.9 0h.85m11.5 0h.85m.1 0h.85m1.8 0h.85m-18.5 .1h.85m-.8 0h.85m-2.4 .2h.85m.4 0h.85m.1 0h.85m-8.4 .1h.85m2.6 0h.85m17.6 0h.85m-19.4 .2h.85m14.1 0h.85m1.9 0h.85m-2.3 .1h.85m-17.9 .2h.85m13.2 0h.85m2.6 0h.85m-0 .2h.85m-3.9 .3h.85m-1.8 .1h.85m-16.9 .1h.85m18.5 0h.85m-19.8 .2h.85m11.8 .1h.85m-14.7 .1h.85m1.6 0h.85m16.8 0h.85m-1.4 .1h.85m-17.7 .1h.85m13.5 .1h.85m-16.4 .2h.85m-6.4 .1h.85m9.3 0h.85m9.8 0h.85m3.2 0h.85m-24.1 .2h.85m18.2 0h.85m4 .1h.85m-25.4 .1h.85m4.4 0h.85m-0 0h.85m-1.4 .1h.85m-2.1 .1h.85m18 0h.85m-2.8 .2h.85m-18.3 .1h.85m1.1 0h.85m14.4 .4h.85m-2.4 .1h.85m1.8 0h.85m-24 .2h.85m.4 .1h.85m.7 0h.85m1.3 0h.85m15.3 0h.85m-1.5 .3h.85m-19.7 .1h.85m17 .2h.85m1.2 0h.85m-20 .1h.85m23.5 0h.85m-25.4 .1h.85m26.3 0h.85m-11.3 .2h.85m7.5 0h.85m-10.1 .1h.85m.5 0h.85m.3 0h.85m1.2 0h.85m-8.2 .1h.85m3.2 0h.85m-18.8 .1h.85m18.2 .1h.85m1.2 0h.85m-2.9 .1h.85m-7.2 .2h.85m-14.5 .2h.85m14.3 .1h.85m4.5 0h.85m-.5 0h.85m1.6 0h.85m-5 .3h.85m1.8 .1h.85m-21.9 .1h.85m15.3 0h.85m5.2 .1h.85m-8.2 .1h.85m-.5 .4h.85m4.6 .3h.85m-4.4 .3h.85m-20.8 .5h.85m1.1 0h.85m15.1 0h.85m.6 .3h.85m.8 0h.85m-21.4 .3h.85m17.2 0h.85m3.1 .2h.85m.3 0h.85m-6 .1h.85m1.7 0h.85m-4.8 .2h.85m.1 0h.85m-2.6 .1h.85m.4 .2h.85m-.1 .2h.85m-1 .1h.85m-.1 .2h.85m-4.2 .2h.85m1.2 0h.85m-3.1 .2h.85m2.7 .1h.85m-20.4 .5h.85m15 .4h.85m.8 .2h.85m-17.8 .1h.85m-.8 .1h.85m-1.5 .3h.85m15.9 .5h.85m-16.7 .4h.85m.4 1.5h.85m11.5 .2h.85m-.7 0h.85m-1.5 .1h.85m-10.6 .8h.85m9.8 0h.85m-14.4 .4h.85m.4 .4h.85m8.6 0h.85m-3.4 .1h.85m-9.4 .1h.85m4.6 .3h.85m5.1 .1h.85m.3 0h.85m-12.6 .2h.85m3.9 .1h.85m-4.9 .1h.85m5.2 0h.85m-5.4 .1h.85m2.1 .2h.85m-1.4 .1h.85m1.2 0h.85m-.8 .1h.85m-.4 0h.85m2.7 0h.85m-12.7 .1h.85m2.9 0h.85m.1 .1h.85m.9 .1h.85m-.5 0h.85m-1.4 .1h.85m-2 .1h.85m2.6 0h.85m-9.8 .1h.85m4.1 .4h.85m3.2 0h.85m-6.1 .3h.85m.6 0h.85m-.4 0h.85m-3.7 .5h.85m4.8 0h.85m-.6 .3h.85m-5.2 .3h.85m-1.5 1.3h.85"/>
<path stroke="rgb(42, 90, 255)" stroke-width="0.85" d="M214 53.2h.85m1.2 1.1h.85m-4.7 1.2h.85m4.1 0h.85m-3.8 .1h.85m-4.5 .6h.85m.2 .2h.85m5.6 0h.85m-8.9 .1h.85m7.3 0h.85m-1.8 .3h.85m-7.8 .1h.85m6.1 .5h.85m-.8 .1h.85m-7.5 .3h.85m-22.4 .1h.85m17.6 .1h.85m-2.5 .2h.85m11.4 0h.85m-1.9 .4h.85m-10.7 .4h.85m-0 .3h.85m8.4 .4h.85m-1.5 .1h.85m-10.6 .1h.85m9.3 .2h.85m-10.1 .2h.85m-2.8 .5h.85m9.5 .4h.85m-14.1 .3h.85m13 0h.85m-11.3 .1h.85m-.4 .1h.85m-3.3 .2h.85m-.5 .3h.85m8.6 .3h.85m-12.1 .1h.85m3.2 .1h.85m-3.4 .1h.85m1.6 0h.85m-3 .3h.85m-1.7 .2h.85m8.9 .2h.85m-3.7 .1h.85m.6 0h.85m-5.8 .1h.85m1.6 0h.85m3.1 0h.85m-1.8 .1h.85m-.1 0h.85m-12.3 .1h.85m3.1 .1h.85m-4.9 .1h.85m.7 .4h.85m2.6 .1h.85m.6 0h.85m-3.9 .2h.85m7.5 0h.85m-15.4 .1h.85m4.5 0h.85m-2.6 .1h.85m-2.1 .1h.85m1.6 .1h.85m7.9 0h.85m-13.4 .2h.85m.2 .1h.85m7.1 0h.85m1.6 .1h.85m-.4 0h.85m-.8 0h.85m-14.6 .2h.85m4.4 0h.85m-5.3 .1h.85m3.6 0h.85m2.2 0h.85m1.1 0h.85m1.6 0h.85m-1.4 .1h.85m.1 0h.85m-13.6 .2h.85m11.2 0h.85m-9.8 .1h.85m-3.9 .2h.85m4.9 .1h.85m5.2 .1h.85m-12.4 .1h.85m8.5 .1h.85m-8.7 .1h.85m4.6 .1h.85m-1.8 .1h.85m5.2 0h.85m-16.8 .2h.85m3.4 .1h.85m-.4 0h.85m8 0h.85m-5.8 .1h.85m.8 .2h.85m-8.6 .1h.85m8.9 .1h.85m.2 .1h.85m-4.4 .1h.85m-7.2 .1h.85m6.9 0h.85m.2 .3h.85m-11.5 .1h.85m2 .3h.85m-2.3 .4h.85m1.7 0h.85m7.1 .1h.85m-10.8 .2h.85m-2.4 .1h.85m1.6 .1h.85m.6 .2h.85m3.6 0h.85m-6.1 .1h.85m-.3 0h.85m.9 .1h.85m1.4 0h.85m-18.7 .2h.85m9.5 0h.85m.9 .1h.85m6.6 0h.85m-14.8 .2h.85m10.3 .1h.85m.3 0h.85m-3.1 .1h.85m2.2 .1h.85m-11.5 .2h.85m10.2 0h.85m-14.8 .3h.85m10.5 .2h.85m-.5 0h.85m.9 .1h.85m-2.9 .1h.85m1.4 0h.85m-.6 .1h.85m-15.4 .1h.85m12.7 0h.85m-14.1 .2h.85m8 0h.85m-11.9 .1h.85m2.8 0h.85m10.6 .1h.85m-2.4 .1h.85m-13.4 .1h.85m.3 .2h.85m9.9 .2h.85m-.2 0h.85m-3.8 .1h.85m-6.8 .1h.85m5.9 .1h.85m.2 .1h.85m-.3 .2h.85m-1.8 .1h.85m.9 0h.85m-5.1 .1h.85m-.4 0h.85m-0 .1h.85m-7.4 .1h.85m-6.8 .1h.85m.9 .1h.85m6.6 0h.85m2.5 .2h.85m-10.8 .1h.85m-3.8 .1h.85m-.4 .5h.85m10.5 0h.85m-.5 .5h.85m-2.2 .2h.85m.3 .2h.85m-14.7 .3h.85m10.6 .3h.85m-.5 1.7h.85m-14.4 .1h.85m12.3 .3h.85m-.3 .1h.85m-.4 0h.85m.1 .8h.85m-16.5 .2h.85m14.2 0h.85m-15.5 .5h.85m13.6 0h.85m-15 .1h.85m12.2 0h.85m-3 .4h.85m1.8 0h.85m-13.7 .3h.85m-3 .5h.85m14.3 .1h.85m-15.2 .5h.85m12.7 .2h.85m-15.7 .2h.85m11.4 0h.85m.2 .1h.85m-.2 .2h.85m-2.3 .4h.85m-11.4 .4h.85m-0 .7h.85m-3.3 .1h.85m10.8 .2h.85m.5 .1h.85m-11.8 .2h.85m.5 .1h.85m1.9 .7h.85m-4 .4h.85m-.5 .1h.85m3.6 .1h.85m-4.5 .4h.85"/>
<path stroke="rgb(42, 102, 255)" stroke-width="0.85" d="M213.4 56.5h.85m-6.8 4.7h.85m-2.3 1.5h.85m-3 1h.85m-.8 1.6h.85m2.5 .3h.85m-1.5 .3h.85m-.7 0h.85m-4 .2h.85m.4 .5h.85m1.8 .1h.85m-3.4 1.5h.85m-.4 1.2h.85m-7 .7h.85m-6.1 1.1h.85m3.1 1.1h.85m1.8 1.4h.85m-11.2 .4h.85m-8.6 5h.85m13.7 1.1h.85m-4.2 5.3h.85"/>
<path stroke="rgb(30, 102, 255)" stroke-width="0.85" d="M210 56.6h.85m6.6 1.3h.85m-10.4 1.6h.85m-2.2 .8h.85m7.5 2h.85m-5.8 .9h.85m-3 .7h.85m-.8 1.1h.85m-.2 0h.85m3.2 .4h.85m-5.1 .1h.85m-5 .3h.85m1.5 .1h.85m2.1 0h.85m-6.7 .1h.85m.2 .2h.85m-2.5 2h.85m1.6 0h.85m-.9 .1h.85m.2 0h.85m-3.8 .4h.85m-7.2 1.3h.85m-3.4 .4h.85m8 .1h.85m-6.7 1h.85m3.2 0h.85m-4.5 .4h.85m-2.7 .4h.85m-1.8 .3h.85m-4.1 1h.85m5.6 0h.85m-9.7 .4h.85m2.2 0h.85m-1.7 .1h.85m5 .6h.85m.7 .5h.85m-3 1h.85m-1.7 .4h.85m-.1 .9h.85m-13.6 .4h.85m12.4 0h.85m-1.1 .6h.85m-2.4 2.5h.85m-.4 1.7h.85m-2.5 .2h.85m-.1 0h.85m-10.4 3.1h.85"/>
<path stroke="rgb(30, 114, 255)" stroke-width="0.85" d="M216.7 55h.85m-3.1 .4h.85m-.4 .4h.85m-3.8 .1h.85m4.2 .8h.85m.3 .7h.85m-2.4 .1h.85m1.2 0h.85m-4.3 3.3h.85m-9.8 2.3h.85m5.1 .3h.85m-5.8 .5h.85m-.1 0h.85m-4.7 .1h.85m.1 1h.85m-1.7 .1h.85m4.4 0h.85m-4.8 .9h.85m-.4 0h.85m-6.1 .5h.85m7.1 0h.85m-1.8 .1h.85m-4.1 .2h.85m-.8 0h.85m.2 .6h.85m-8.2 .3h.85m.4 1h.85m4.2 .7h.85m-1.9 .1h.85m-3.4 .1h.85m4 0h.85m-10.7 .5h.85m-1.8 .3h.85m8.8 .1h.85m-6.9 .2h.85m1.6 .4h.85m-4.4 .1h.85m1.9 .4h.85m-6.6 .2h.85m3.5 1.3h.85m-8 1.2h.85m1.5 0h.85m1.4 .7h.85m-10.9 1.3h.85m11.6 0h.85m-13.9 .2h.85m10.6 .2h.85m-.3 .5h.85m-13.1 .2h.85m13.2 .3h.85m-3.1 .4h.85m.6 0h.85m-2.8 .1h.85m-12.1 .7h.85m9.9 1h.85m-1.4 .6h.85m-13.4 .6h.85m12.6 .2h.85m-3.3 .3h.85m-1.3 2.8h.85m-8.8 1h.85m5.6 0h.85m-1.8 .8h.85"/>
<path stroke="rgb(30, 126, 255)" stroke-width="0.85" d="M215.3 56h.85m-6.3 1.5h.85m-2.6 2.4h.85m6.6 .2h.85m-8.6 .3h.85m-1 .8h.85m-0 .9h.85m-2.4 3.5h.85m-3.7 .3h.85m-1.5 .7h.85m3.4 .6h.85m-1.4 .1h.85m-3.1 1.2h.85m-5.4 1h.85m-3.5 .2h.85m.8 .2h.85m1 .1h.85m-9.5 .8h.85m5 0h.85m1.9 .3h.85m.7 0h.85m-.8 .5h.85m-6.2 .3h.85m-.5 .3h.85m-5.5 .7h.85m-4.8 .5h.85m8.2 .5h.85m-6.3 .2h.85m-.4 .4h.85m3.3 .1h.85m-8.6 .1h.85m5.1 .2h.85m-8.2 .2h.85m10.3 .2h.85m-13.3 .3h.85m7.3 .5h.85m-9.4 .3h.85m9.7 .6h.85m-13.4 1.2h.85m10.6 2.8h.85m-13.8 .6h.85m-.5 1.8h.85m.8 1.3h.85m5 .2h.85m-4.9 .8h.85m-.1 .5h.85"/>
<path stroke="rgb(18, 126, 255)" stroke-width="0.85" d="M208.3 58h.85m5.4 3.8h.85m-10 3.8h.85m-1.4 1.2h.85m-10.6 4.8h.85m-.1 .8h.85m-12.6 7.6h.85"/>
<path stroke="rgb(18, 138, 255)" stroke-width="0.85" d="M216.1 55.8h.85m-4.4 .1h.85m-0 .2h.85m.4 .1h.85m.3 .4h.85m-1.1 .2h.85m-.1 1h.85m-1.5 .3h.85m-6.4 .3h.85m3.6 2.1h.85m.5 .3h.85m-9.6 .2h.85m.3 .2h.85m5.5 .6h.85m-7.4 1h.85m2.6 .3h.85m-5.8 .3h.85m2 .5h.85m-9.3 .9h.85m3.6 .7h.85m-2.4 .8h.85m.6 1.5h.85m-7.4 1.9h.85m-.9 1.1h.85m3.3 .5h.85m-2 .1h.85m-10.4 .1h.85m5.9 1.3h.85m-2.6 .1h.85m.4 .3h.85m-2.1 .1h.85m-6 .3h.85m2.8 .1h.85m-.3 0h.85m3.2 .2h.85m-4.8 .1h.85m-5.1 .4h.85m-2.3 .1h.85m.2 .3h.85m1.7 .2h.85m-7.8 .2h.85m7.9 .1h.85m-2.4 .8h.85m-1.1 .1h.85m2.3 0h.85m-12.1 .8h.85m-2.5 .2h.85m10.1 .1h.85m-1.7 2.3h.85m-.5 2h.85m-1.8 .1h.85m-10.7 1.9h.85m3.6 1.1h.85m-1.7 .6h.85m-1.4 .6h.85"/>
<path stroke="rgb(18, 150, 255)" stroke-width="0.85" d="M215.2 56.8h.85m-4.1 .1h.85m-2.7 1.2h.85m4.2 .1h.85m.5 1.2h.85m-8.2 .8h.85m5.4 .2h.85m-7.8 .1h.85m-1.4 .3h.85m-.8 .7h.85m5.2 0h.85m-5.8 .2h.85m4.2 .1h.85m-1.3 .1h.85m-4.4 .4h.85m-.6 0h.85m-1 .1h.85m1.6 .6h.85m-6 .1h.85m4 1h.85m-3.3 .3h.85m-6.8 2.3h.85m-2.9 1.4h.85m-4.8 3.1h.85m2.6 .8h.85m-6.4 .2h.85m3.6 1.2h.85m-8.4 .1h.85m.1 .8h.85m3.2 0h.85m-5 .3h.85m-4.7 .3h.85m.6 .1h.85m-.8 0h.85m-2.4 .4h.85m2.9 .3h.85m-7.1 1.3h.85m8.7 .1h.85m-11.4 .3h.85m-1.2 .5h.85m-2.6 .6h.85m-.4 1.4h.85m9.1 .6h.85m-.1 .7h.85m-2.2 .7h.85m-10.6 .2h.85m9.1 .2h.85m-.9 .7h.85m-2.9 .9h.85m-7.2 .9h.85m2.6 .2h.85m.1 0h.85m-1.8 .2h.85"/>
<path stroke="rgb(18, 162, 255)" stroke-width="0.85" d="M215.2 55.4h.85m-3.6 2.3h.85m2.4 .9h.85m-9.2 4.1h.85m-15.3 12.1h.85m3.1 .1h.85m-2.7 1.4h.85m-7.9 .4h.85m7.1 2.4h.85m-.8 .1h.85m-1.9 2.3h.85m-2.8 3.1h.85m-6.7 .5h.85m1.1 .1h.85"/>
<path stroke="rgb(6, 162, 255)" stroke-width="0.85" d="M212.2 57.6h.85m2.8 .6h.85m-5.4 .6h.85m2.6 .8h.85m-.7 .6h.85m-6.9 .4h.85m4.6 .7h.85m-2.7 .5h.85m-3.2 2.2h.85m-2.6 .2h.85m-8.2 6.3h.85m-2.6 2.5h.85m-5 1.5h.85m-5.4 .3h.85m5.5 .1h.85m-6.7 .2h.85m-3.4 .6h.85m-2.4 .6h.85m-.3 .8h.85m5.9 .7h.85m-10.4 1.1h.85m8.8 3.5h.85m-9 2.2h.85m4 0h.85m-7 .2h.85m3.6 .4h.85"/>
<path stroke="rgb(6, 174, 255)" stroke-width="0.85" d="M215.6 55.9h.85m-2.5 .7h.85m.6 .2h.85m-.4 1.5h.85m-2.3 .2h.85m-4.6 .2h.85m3.6 .2h.85m-6.4 .8h.85m2.5 .5h.85m.1 .3h.85m-.4 .1h.85m-5.3 .5h.85m-3.4 .1h.85m6.4 .1h.85m-7.5 .4h.85m1.5 .5h.85m-1.3 .6h.85m-16.2 10.3h.85m-1.4 1.7h.85m-5.2 .1h.85m1.3 .3h.85m1.5 0h.85m2.3 0h.85m-1.6 .4h.85m-10.4 .1h.85m4.5 0h.85m-4.4 .1h.85m5.2 .3h.85m-8.4 .1h.85m5.7 0h.85m.4 .2h.85m-9.7 .6h.85m8.6 0h.85m-2 .4h.85m-.7 .3h.85m.2 .6h.85m-.8 .1h.85m-2.4 1.8h.85m-.1 .6h.85m-1.4 .1h.85m-.8 .1h.85m-.6 .2h.85m-10.8 1.1h.85m8.4 .8h.85m-3.5 .8h.85m-2.8 .4h.85m-3.8 .2h.85m-.9 .1h.85m.2 .2h.85m-.5 .1h.85"/>
<path stroke="rgb(6, 186, 255)" stroke-width="0.85" d="M214 56h.85m-0 1h.85m-2.1 .7h.85m-2.4 .2h.85m.1 .2h.85m.9 .3h.85m-.7 .2h.85m-1.8 .2h.85m-.7 .6h.85m-5.4 .6h.85m-.3 .1h.85m-.5 .1h.85m.6 .3h.85m-1.7 .1h.85m-1 .6h.85m-2 .3h.85m-.1 .1h.85m.2 .1h.85m-4.3 1h.85m-20 13h.85m-1.8 .6h.85m-0 0h.85m4.6 .3h.85m-3.2 .3h.85m-5.8 .3h.85m7.2 .8h.85m-.7 .4h.85m-10.8 .8h.85m9.2 .2h.85m-11.3 .8h.85m8.7 .4h.85m-11 .3h.85m.5 .9h.85m6.6 .3h.85m-.1 .9h.85m-2.7 .2h.85m-.4 .4h.85m-5.8 .4h.85m2.7 0h.85m-5.9 .2h.85m-1 .2h.85m.2 .3h.85"/>
<path stroke="rgb(6, 186, 246)" stroke-width="0.85" d="M212.5 57h.85m-2.5 1.3h.85m2.2 2.4h.85m-5.1 1.8h.85m-23.5 15.1h.85m4.6 5.7h.85m-5.1 1.1h.85"/>
<path stroke="rgb(6, 198, 246)" stroke-width="0.85" d="M212.1 58.4h.85m1.6 .2h.85m-3.8 2.4h.85m-.4 1.1h.85m-27.8 19.5h.85m-1.2 .4h.85m.2 2.2h.85m3.5 .2h.85"/>
<path stroke="rgb(6, 198, 234)" stroke-width="0.85" d="M212.7 57h.85m-.4 .2h.85m-3.1 .3h.85m-1.3 .6h.85m1.2 .1h.85m1.6 .3h.85m-5.7 3.3h.85m-2.1 .7h.85m-18.4 12.8h.85m-4.8 2.4h.85m6.8 .4h.85m-10.6 1.6h.85m4.2 4h.85m-5.4 .5h.85m4.4 0h.85m-2.5 .5h.85"/>
<path stroke="rgb(6, 198, 222)" stroke-width="0.85" d="M215.2 58.6h.85m-3.9 1.2h.85m1.1 0h.85m-4.7 .8h.85m1 .4h.85m-2.7 .3h.85m.3 .7h.85m-18.5 14h.85m-5.1 .2h.85m.2 .6h.85m-1.2 .5h.85m-5 2h.85m.3 3.7h.85m-2.1 .1h.85m5.2 .3h.85m-4.4 .1h.85m-1.2 .4h.85m2.2 .4h.85"/>
<path stroke="rgb(6, 198, 210)" stroke-width="0.85" d="M189.3 76.9h.85m4.4 1.1h.85m-8 5.9h.85"/>
<path stroke="rgb(18, 198, 210)" stroke-width="0.85" d="M212.4 57.1h.85m2.2 .8h.85m-5.1 1.5h.85m-2.6 .6h.85m-.4 .9h.85m.3 1.2h.85m-18.5 12.9h.85m-1.4 .7h.85m-2.1 .1h.85m.1 .6h.85m-.9 .3h.85m.2 1.8h.85m.2 1.2h.85m-3.6 2.2h.85m.2 .9h.85m-7.3 .1h.85"/>
<path stroke="rgb(18, 198, 198)" stroke-width="0.85" d="M211.3 59h.85m-17.2 19.7h.85m-1.8 1.3h.85"/>
<path stroke="rgb(18, 210, 198)" stroke-width="0.85" d="M211.1 58.9h.85m2.2 1.5h.85m-20.6 15.6h.85m-5.4 .1h.85m2.8 3.3h.85m-8.7 .3h.85m-.8 .5h.85m-.9 1h.85m-0 1.3h.85m-.4 .1h.85m4.7 0h.85m-7.3 .4h.85m4.3 .3h.85m-4.9 .4h.85m.5 .8h.85"/>
<path stroke="rgb(18, 210, 186)" stroke-width="0.85" d="M214.4 57.2h.85m-3.2 .8h.85m1.4 .7h.85m-1.6 .1h.85m-0 .3h.85m-25.3 17.3h.85m-2.2 .6h.85m-3.4 3.6h.85m-1.1 .2h.85m6.5 .1h.85m-8.2 .6h.85m6.4 .1h.85m-.5 .5h.85m-8.6 .2h.85m4.2 1.4h.85"/>
<path stroke="rgb(18, 210, 174)" stroke-width="0.85" d="M214.3 56.4h.85m-2.1 .7h.85m.4 1h.85m-3.3 2.1h.85m-.4 .6h.85m-21.6 16.7h.85m-2.4 6h.85"/>
<path stroke="rgb(30, 210, 174)" stroke-width="0.85" d="M213.1 57.8h.85m.2 1.4h.85m-3.1 1.7h.85m-22.3 15.4h.85m-.2 .7h.85m1.6 2.6h.85m-2.1 .8h.85m-6.6 1.6h.85m.1 1.1h.85m1.2 .4h.85"/>
<path stroke="rgb(30, 210, 162)" stroke-width="0.85" d="M214.2 56.9h.85m-3.1 .8h.85m-.4 .4h.85m1.4 .2h.85m-3.8 .4h.85m-0 .1h.85m-.1 2.2h.85m-20.7 15.5h.85m-4 .6h.85m1.2 .3h.85m.6 .9h.85m-.1 1.7h.85m-2.1 1.1h.85m-.9 .9h.85m-8.7 .5h.85m5.6 0h.85m-1.8 1.1h.85m-2.4 .2h.85"/>
<path stroke="rgb(30, 210, 150)" stroke-width="0.85" d="M190.1 76.4h.85m-0 6.2h.85"/>
<path stroke="rgb(30, 222, 150)" stroke-width="0.85" d="M214 58.2h.85m-4.4 2.3h.85m1.1 .5h.85m-22.9 15.6h.85m-.6 .1h.85m-4.1 .3h.85m4.9 .2h.85m-5.4 .6h.85m-2.6 .3h.85m5.5 1.9h.85m-7.4 .6h.85m-1.4 .7h.85m-1.8 .4h.85m6.4 .1h.85m-4.2 1.2h.85"/>
<path stroke="rgb(30, 222, 138)" stroke-width="0.85" d="M213.5 59.7h.85m-3.8 .5h.85m-20.9 16.7h.85m1.2 .2h.85m-7.6 2.7h.85m7.9 0h.85m-2.8 .4h.85m-7.6 .6h.85m-.4 1.5h.85m1.2 1.1h.85m1.7 0h.85"/>
<path stroke="rgb(42, 222, 126)" stroke-width="0.85" d="M211.9 58.5h.85m-1.4 1.1h.85m.5 1.4h.85m-22.8 15.3h.85m2.4 .9h.85m-5.8 .1h.85m3.4 .3h.85m-3.2 .2h.85m-.1 4.6h.85m-5.1 .8h.85m1.6 .2h.85m-1.1 .1h.85m.1 .4h.85"/>
<path stroke="rgb(42, 222, 114)" stroke-width="0.85" d="M213 58.1h.85m-0 1.1h.85m-4 .1h.85m.4 .3h.85m-1.3 1.3h.85m-21.7 16.7h.85m-.9 .1h.85m1.4 .8h.85m-7.6 1h.85m5.7 .1h.85m-7.4 .1h.85m.9 0h.85m-3.1 .5h.85m-0 2.1h.85m3.5 .7h.85m-4.4 .8h.85m.7 .6h.85"/>
<path stroke="rgb(42, 222, 102)" stroke-width="0.85" d="M213.4 59.6h.85"/>
<path stroke="rgb(54, 222, 102)" stroke-width="0.85" d="M212.3 58.6h.85m-23.4 18.4h.85m-1 .2h.85m-2.4 .2h.85m4.6 .4h.85m-4.9 .1h.85m2.9 .2h.85m-6.4 .9h.85m4.3 .2h.85m-6.3 .2h.85m-2.6 1.2h.85m6 .2h.85m.2 .1h.85m-2.7 .4h.85m.1 .2h.85m-2.4 1h.85m-.4 .3h.85m-2.4 .3h.85m-2.8 .1h.85m1.5 0h.85"/>
<path stroke="rgb(54, 234, 90)" stroke-width="0.85" d="M191.8 75.8h.85m-5.8 3.6h.85m4.9 1h.85m-6.4 .5h.85m-2.4 .4h.85m.7 .2h.85m2.8 1.4h.85m-1.7 .3h.85m-.7 0h.85"/>
<path stroke="rgb(66, 234, 90)" stroke-width="0.85" d="M212.2 58.4h.85m-21.8 19.3h.85m-.8 .8h.85m-2.9 3.8h.85m-.4 .4h.85"/>
<path stroke="rgb(66, 234, 78)" stroke-width="0.85" d="M213.4 59.3h.85m-23.3 17.1h.85m.6 .6h.85m-1.6 .1h.85m-0 .4h.85m-5.5 .3h.85m2.5 .1h.85m.9 .8h.85m-6.4 .1h.85m2.1 .9h.85m.9 1.1h.85m-4.8 .5h.85m3 .2h.85m-5.5 .2h.85m-.6 .2h.85m-1.8 .7h.85m4.1 0h.85m-2.3 .5h.85m-.5 0h.85m-4.8 .5h.85"/>
<path stroke="rgb(66, 234, 66)" stroke-width="0.85" d="M191.7 78h.85m-1.8 3.8h.85m-3.8 .8h.85"/>
<path stroke="rgb(78, 234, 66)" stroke-width="0.85" d="M212.6 58.8h.85m-22.4 18.8h.85m-.4 .5h.85m-2.7 .2h.85m1.6 .2h.85m-3.7 4.8h.85"/>
<path stroke="rgb(78, 234, 54)" stroke-width="0.85" d="M212.7 59.5h.85m-22.5 18.2h.85m.3 .6h.85m-7.1 2h.85m.2 .6h.85m.1 .6h.85m-2.4 .2h.85m-.1 .3h.85m1 .5h.85m.6 .5h.85m-1.8 .4h.85"/>
<path stroke="rgb(90, 234, 54)" stroke-width="0.85" d="M213.2 59.6h.85m-22.7 19.3h.85"/>
<path stroke="rgb(90, 234, 42)" stroke-width="0.85" d="M190.5 77.8h.85m-2.7 .2h.85m1.9 0h.85m-3.4 .5h.85m2.4 .5h.85m-1.5 .5h.85m-1.1 1.6h.85m-4.2 .3h.85m-.3 .8h.85m-1.4 .5h.85m.1 1h.85"/>
<path stroke="rgb(102, 234, 42)" stroke-width="0.85" d="M188.7 79.1h.85m2 0h.85m-3 .3h.85m-2.5 1.8h.85"/>
<path stroke="rgb(102, 234, 30)" stroke-width="0.85" d="M190.5 78.6h.85m1 .6h.85m-4.3 2.4h.85m1.1 1.1h.85"/>
<path stroke="rgb(114, 234, 30)" stroke-width="0.85" d="M191.6 77.8h.85m-3.8 .7h.85m1.5 .3h.85m.8 .2h.85m-1.3 .1h.85m-.7 .2h.85m-6.3 .8h.85m.3 .6h.85m2 0h.85m-.9 .3h.85m-1 .3h.85m-1.6 1.2h.85m-.1 .2h.85m-2.8 .2h.85"/>
<path stroke="rgb(126, 234, 30)" stroke-width="0.85" d="M188.9 78.9h.85m-2.2 .1h.85m-.6 .8h.85m-1.3 .1h.85m1.6 .2h.85m1.6 .2h.85m-.7 .1h.85m-3.8 1.2h.85"/>
<path stroke="rgb(138, 234, 30)" stroke-width="0.85" d="M192.1 79.5h.85m-2.5 .9h.85m-4.2 .7h.85m-.1 .4h.85m1.6 .1h.85"/>
<path stroke="rgb(150, 234, 18)" stroke-width="0.85" d="M189.1 78.4h.85m.7 .1h.85m-1.9 .1h.85m-.4 .1h.85m-1.8 .3h.85m1.6 .1h.85m-1.9 .5h.85m-1.4 .1h.85m-.3 .5h.85m-4 1.2h.85"/>
<path stroke="rgb(162, 234, 18)" stroke-width="0.85" d="M187.5 80.4h.85m.6 .4h.85m-1.5 .1h.85m.4 .2h.85m-.8 .5h.85m-0 0h.85"/>
<path stroke="rgb(174, 234, 18)" stroke-width="0.85" d="M191.2 79.4h.85m-1.4 1.1h.85m-.6 .3h.85m-3.5 .6h.85m1.6 1.1h.85"/>
<path stroke="rgb(186, 234, 18)" stroke-width="0.85" d="M191.2 78.8h.85"/>
<path stroke="rgb(186, 234, 6)" stroke-width="0.85" d="M191.2 79.1h.85m-2.6 .3h.85m.4 0h.85m-1 .3h.85m.1 .5h.85m-2.4 .2h.85m-1.8 .3h.85m-1.7 .2h.85m-.2 1.9h.85"/>
<path stroke="rgb(198, 234, 6)" stroke-width="0.85" d="M191.4 78.3h.85m-1.3 .6h.85m-2.4 .5h.85m-.9 2.3h.85"/>
<path stroke="rgb(210, 234, 6)" stroke-width="0.85" d="M189.6 78.8h.85m1 .4h.85m-2.8 .3h.85"/>
<path stroke="rgb(222, 234, 6)" stroke-width="0.85" d="M190.3 79.1h.85m-.2 .2h.85m-.3 .2h.85m-2.4 .3h.85m-1.1 .8h.85m-1.8 .4h.85m.6 1h.85"/>
<path stroke="rgb(222, 222, 6)" stroke-width="0.85" d="M190 79.3h.85m-.3 2.8h.85"/>
<path stroke="rgb(222, 210, 6)" stroke-width="0.85" d="M191.1 78.8h.85m-3.3 1.3h.85m-.2 0h.85"/>
<path stroke="rgb(234, 210, 6)" stroke-width="0.85" d="M188.9 80.1h.85m2.1 0h.85m-2.2 .7h.85"/>
<path stroke="rgb(234, 198, 6)" stroke-width="0.85" d="M188.9 80.3h.85m-1.7 .7h.85"/>
<path stroke="rgb(234, 186, 6)" stroke-width="0.85" d="M189.4 81.1h.85"/>
<path stroke="rgb(234, 174, 6)" stroke-width="0.85" d="M190.8 79.9h.85m-1.5 1h.85"/>
<path stroke="rgb(246, 162, 6)" stroke-width="0.85" d="M190.4 80.2h.85m-.9 .1h.85"/>
<path stroke="rgb(255, 114, 6)" stroke-width="0.85" d="M189.2 80.6h.85"/>
</g>
<g filter="url(#soft4)" opacity="0.9">
<path stroke="rgb(54, 66, 246)" stroke-width="0.85" d="M263.1 43.1h.85m11.9 2.6h.85m-22.7 .8h.85m9 .7h.85m19.5 .6h.85m-16.4 .3h.85m-7 .2h.85m7.6 .5h.85m-19.8 .5h.85m.1 0h.85m.6 .4h.85m16.2 .1h.85m-3.8 .1h.85m3.6 0h.85m-1.7 .4h.85m-1.7 .1h.85m.2 .3h.85m8 0h.85m-10.1 .4h.85m6.5 0h.85m-7.4 .1h.85m-18 .3h.85m26.3 .2h.85m-31.6 .1h.85m3.9 0h.85m25.8 0h.85m-31.2 .1h.85m-.4 .4h.85m39.1 .4h.85m-27.8 .4h.85m-17.3 .2h.85m46.1 2.9h.85m-8.8 .2h.85m.9 .4h.85m1.3 1.1h.85m.8 .5h.85m-5 1h.85m5.2 2.2h.85m-50.7 .3h.85m40.3 .7h.85m-2 .3h.85m.6 .2h.85m-42.3 .2h.85m-0 0h.85m-.1 0h.85m43.3 .3h.85m1.5 .1h.85m-3.8 .4h.85m-4.8 .3h.85m.8 0h.85m-43.3 .7h.85m-.6 1h.85m38.3 1.8h.85m-38.2 .7h.85m28 1.1h.85m3.6 1.3h.85m-4 .3h.85m-3.9 1.6h.85m-30.7 .1h.85m29.8 0h.85m-2.4 .4h.85m-1.7 1.1h.85m-26.2 .1h.85m24.3 0h.85m1.8 .2h.85m-.7 1h.85m-1.4 .4h.85m-6 .3h.85m.3 .7h.85m.3 0h.85m-1.5 1.8h.85m-25.4 .3h.85m-2.8 1.6h.85m25.6 .8h.85m-2.3 .1h.85m-23.7 .7h.85m21 .5h.85m.6 .3h.85m-1.6 1.1h.85m.8 .8h.85m-25.3 .2h.85m13.1 .1h.85m6.7 .9h.85m-4.5 .6h.85m1.5 .1h.85m7.5 .1h.85m-15.8 .4h.85m-8 .2h.85m4.6 .1h.85m1.5 .1h.85m-9.2 .8h.85m18.6 .5h.85m-3.8 .5h.85m-11.4 .1h.85m1.5 .4h.85m9.6 .5h.85m-20.4 .4h.85m14.9 0h.85m7.2 .5h.85m-17.9 .1h.85m2.6 .1h.85m3.2 .3h.85m-11.2 1.1h.85m-4.3 .8h.85"/>
<path stroke="rgb(42, 66, 246)" stroke-width="0.85" d="M267 49h.85m-19.8 .3h.85m14.5 .1h.85m4 .3h.85m-1.8 .3h.85m.8 .1h.85m6.6 .6h.85m1.8 .1h.85m-13.7 .5h.85m3.8 0h.85m-1.9 .2h.85m-.5 .4h.85m6.3 0h.85m-7.8 .3h.85m12.2 .3h.85m-27.6 .1h.85m6.8 0h.85m18 0h.85m-28.4 .2h.85m15.4 .4h.85m-18.1 .1h.85m28.6 0h.85m-34.9 1h.85m20.4 0h.85m10.6 .1h.85m1.6 .1h.85m-37 .2h.85m35.5 .5h.85m1.5 .3h.85m-1.8 .9h.85m6.6 .5h.85m-6.7 .4h.85m-41.3 .6h.85m39.6 .8h.85m-3.2 .7h.85m6 .6h.85m-6.4 .2h.85m-1 .6h.85m-2.7 .1h.85m-39.2 .5h.85m37.6 .6h.85m4.2 .4h.85m-5.7 .5h.85m4.1 .1h.85m-8.3 .8h.85m-2.5 .3h.85m-1.4 .2h.85m1.3 0h.85m1.3 .2h.85m-2.5 .3h.85m-7.7 .7h.85m2.4 .5h.85m-32.7 1.2h.85m.8 .7h.85m29 1h.85m-2.6 .3h.85m-3.6 2h.85m-.4 .1h.85m-1.8 .2h.85m-27.7 .1h.85m25.3 .4h.85m1 2.3h.85m-28.8 .4h.85m.6 .6h.85m24.6 .9h.85m-2.5 .2h.85m-26.8 .3h.85m24.8 .3h.85m-.8 .7h.85m-3.5 .2h.85m1.2 .6h.85m-3.9 .7h.85m1.4 .3h.85m-22.6 .7h.85m19.9 .2h.85m.8 .3h.85m.8 0h.85m-1.8 .1h.85m-24.2 .5h.85m13.5 .1h.85m-16.5 .3h.85m18.3 .8h.85m4.4 .2h.85m-25.5 .9h.85m17.1 .3h.85m-18.3 .1h.85m11.5 0h.85m4.5 0h.85m-2.5 .1h.85m-3.4 .7h.85m8.8 .2h.85m-10.8 .4h.85m-2.4 .1h.85m-10.8 .6h.85m20.6 0h.85m-10.8 .2h.85m2.4 .3h.85m-5.4 .3h.85m-4.5 .2h.85m-2.2 .2h.85m5.3 .2h.85m-12.4 .2h.85m8.3 .6h.85m-.4 .2h.85m2.3 0h.85m-10.4 .4h.85m-1 .1h.85m-5.8 .3h.85m-0 .6h.85m10.8 0h.85m5.2 0h.85m-13.2 .2h.85m-.6 .4h.85m-5.4 .6h.85m2.9 .5h.85m1.9 .1h.85m1.9 .8h.85m-6.4 .1h.85"/>
<path stroke="rgb(42, 78, 255)" stroke-width="0.85" d="M271.8 49.4h.85m-3 .1h.85m-1.6 .1h.85m-3.8 1.1h.85m2.8 .6h.85m-8 .1h.85m9.8 0h.85m-2.2 .1h.85m-9.5 .5h.85m5.6 0h.85m1 0h.85m-12.4 .3h.85m.3 0h.85m3.3 0h.85m3.2 0h.85m-11.9 .1h.85m9.9 0h.85m7.1 0h.85m3.6 0h.85m-14.8 .1h.85m-.5 .1h.85m.6 0h.85m-12.7 .1h.85m16.6 0h.85m7.3 0h.85m-25.5 .1h.85m10.2 0h.85m.9 0h.85m4 .2h.85m-6.7 .1h.85m3 0h.85m2.8 0h.85m-.4 0h.85m7.3 0h.85m-19.4 .1h.85m11 0h.85m1.6 0h.85m-15.7 .1h.85m13.6 0h.85m-16.5 .2h.85m9.3 0h.85m-23.4 .1h.85m15.7 0h.85m3.3 0h.85m.8 0h.85m-.1 0h.85m-22.8 .1h.85m13.9 0h.85m-.7 0h.85m4.2 0h.85m-.8 0h.85m-9.2 .1h.85m-13.7 .1h.85m18.6 0h.85m-14.8 .1h.85m16.5 0h.85m-9.5 .1h.85m4.5 0h.85m8.7 0h.85m-22.9 .1h.85m6.4 0h.85m10.3 0h.85m-28.5 .1h.85m14.8 0h.85m7 0h.85m1.5 0h.85m-25.2 .1h.85m12.6 0h.85m-15.8 .1h.85m17.6 0h.85m-.7 0h.85m.6 .1h.85m-19.8 .1h.85m.5 0h.85m4 0h.85m4.4 0h.85m.8 0h.85m19.8 0h.85m-21.5 .1h.85m5.3 0h.85m1.3 0h.85m1.8 0h.85m-3.7 .1h.85m8.4 0h.85m-28.7 .1h.85m11.5 0h.85m17.6 .1h.85m-34.1 .1h.85m7.7 0h.85m-10.2 .2h.85m10.5 0h.85m-10.8 .5h.85m-2.9 .4h.85m-.5 0h.85m-.7 .3h.85m33.2 .1h.85m5 .3h.85m-44.4 .2h.85m1 0h.85m33.5 0h.85m2.5 .1h.85m-40.4 .1h.85m.4 .1h.85m1.6 0h.85m32.3 .4h.85m-35.5 .2h.85m-1.8 .4h.85m36.1 0h.85m1.2 0h.85m-3 .3h.85m-.7 .1h.85m-.7 .3h.85m-36.8 .1h.85m33.9 0h.85m-.8 .5h.85m-1.9 .1h.85m.7 .2h.85m-37.7 .1h.85m35 .4h.85m3.1 0h.85m-4.6 .2h.85m1.1 .1h.85m11.2 0h.85m-13.2 .3h.85m-3.7 .1h.85m-35.4 .1h.85m33 .1h.85m3.5 0h.85m-38.1 .2h.85m-2.6 .3h.85m32.5 .1h.85m-1.7 .3h.85m.2 0h.85m.6 0h.85m-35.4 .1h.85m32.5 0h.85m-33.2 .1h.85m31.7 .2h.85m-1.5 .5h.85m-31.4 .3h.85m39.7 0h.85m-13.7 .1h.85m-30.1 .4h.85m30.1 0h.85m-30.9 .2h.85m-.9 .2h.85m-.2 .1h.85m-.4 0h.85m.1 0h.85m25.5 0h.85m-21.7 .4h.85m-9.8 .1h.85m27.9 0h.85m-.3 0h.85m-20.2 .2h.85m18 0h.85m-31.6 .3h.85m13.2 0h.85m17.2 0h.85m-27.9 .1h.85m24.4 .2h.85m.8 0h.85m-28.9 .2h.85m9.5 0h.85m-.8 0h.85m3.8 .3h.85m10.3 0h.85m-15.5 .3h.85m-2.4 .3h.85m-11.3 .2h.85m13.9 0h.85m8.6 .1h.85m-24.2 .1h.85m9.3 0h.85m15.2 .3h.85m-.7 .2h.85m-1.8 .4h.85m-14.7 .2h.85m-2.2 .1h.85m14.2 0h.85m-14.8 .5h.85m8.8 0h.85m-22.8 .2h.85m9.6 .1h.85m-12.2 .7h.85m23.7 0h.85m-.1 0h.85m.2 .1h.85m-2.1 .7h.85m-23.9 .3h.85m23.8 .2h.85m-2.4 .3h.85m-2.8 .6h.85m-22.8 .1h.85m-1.5 .1h.85m22.4 .2h.85m-.4 .1h.85m-25.1 .8h.85m23.6 .1h.85m-22.7 .1h.85m18 .1h.85m-21.6 .4h.85m19.9 0h.85m-21.8 .5h.85m21.4 .1h.85m-.7 .2h.85m-1 .3h.85m.3 0h.85m-24.3 .1h.85m.1 0h.85m17.3 0h.85m-21.7 .1h.85m1.3 .1h.85m17.2 .3h.85m1.5 0h.85m-20.9 .1h.85m14.9 .3h.85m2 .1h.85m-20.9 .1h.85m.6 0h.85m19.2 .2h.85m-21.4 .1h.85m-.3 0h.85m16.6 0h.85m2.2 .9h.85m-6.5 .1h.85m.3 0h.85m0 .1h.85m-17.5 .2h.85m21.6 0h.85m-22.8 .1h.85m8.9 0h.85m4.3 0h.85m-1.2 .1h.85m-3.2 .1h.85m3.8 0h.85m1.3 .1h.85m-4.4 .1h.85m-2.2 .1h.85m2.8 0h.85m-1.6 .3h.85m-2.8 .1h.85m1.2 .2h.85m-4 .5h.85m2.6 0h.85m1 0h.85m-8.7 .1h.85m-13.3 .1h.85m16.7 0h.85m-18.9 .1h.85m19.2 .1h.85m-20.4 .1h.85m14.4 0h.85m-16.9 .2h.85m18.2 0h.85m-5 .2h.85m1.3 .1h.85m-3.8 .4h.85m-1.4 .1h.85m2.3 0h.85m-3.8 .1h.85m3 0h.85m-.7 .2h.85m-8.7 .2h.85m2.8 0h.85m.2 0h.85m4.3 0h.85m-10 .2h.85m7.2 0h.85m-2.8 .1h.85m-6.3 .1h.85m4.1 .2h.85m1.2 0h.85m-4.5 .1h.85m-.7 .3h.85m-.7 0h.85m-14.3 .1h.85m7.1 .1h.85m-.7 0h.85m1.3 0h.85m-1.4 .1h.85m-1.5 .1h.85m-.5 .1h.85m3.8 .3h.85m-6.4 .1h.85m-10.2 .1h.85m-.7 0h.85m9 .2h.85m1.9 .1h.85m-13.1 .1h.85m.6 0h.85m-1.7 .1h.85m-1.1 .1h.85m7.3 0h.85m3.6 .1h.85m-2.7 .1h.85m3.8 0h.85m-1 .1h.85m-8.7 .1h.85m-8 .1h.85m9.6 0h.85m-.4 0h.85m1.6 0h.85m-4.4 .1h.85m2 0h.85m-13.8 .1h.85m-.3 0h.85m7.1 0h.85m7 0h.85m-5.4 .4h.85m-6.1 .3h.85m-.4 .6h.85m1.5 0h.85m-12 .4h.85m6.2 0h.85m5.3 .3h.85m-10.8 .1h.85m1.6 0h.85m.5 .2h.85m-4.3 .1h.85m3.6 0h.85m-6.1 .2h.85m.9 0h.85m.7 .4h.85m-2.9 .1h.85m4.2 .1h.85m5.7 1.2h.85m-8.8 .8h.85"/>
<path stroke="rgb(42, 90, 255)" stroke-width="0.85" d="M268 53.1h.85m12.8 .4h.85m-6.7 .2h.85m-21.6 .2h.85m21.9 0h.85m1.1 0h.85m-1.8 .1h.85m1.6 0h.85m-2.6 .1h.85m-22 .1h.85m21.3 0h.85m-4.2 .1h.85m-1.5 .1h.85m.2 0h.85m-25.4 .1h.85m6.3 0h.85m-5.3 .1h.85m5.9 0h.85m12.6 .1h.85m5.2 0h.85m-26.2 .1h.85m2.1 0h.85m10.7 0h.85m4.6 0h.85m-22.8 .1h.85m20.7 0h.85m3.3 0h.85m-24.5 .1h.85m9.5 0h.85m5.2 .1h.85m.5 0h.85m1.3 0h.85m-9.8 .1h.85m13.5 0h.85m-31 .1h.85m5.6 .1h.85m.5 0h.85m4.4 0h.85m9.8 0h.85m4.5 0h.85m-23.5 .1h.85m2.5 0h.85m5.5 .2h.85m16.1 .1h.85m-17.8 .2h.85m-4.5 .1h.85m-.7 .1h.85m-3.9 .1h.85m1.9 .1h.85m1.3 0h.85m-6 .1h.85m-12 .1h.85m10.8 0h.85m.5 .1h.85m20 0h.85m-20.7 .3h.85m-13.5 .1h.85m.2 .1h.85m6.3 0h.85m22.8 .5h.85m1.2 0h.85m-1 .1h.85m-2.2 .2h.85m-.8 .1h.85m-.4 .2h.85m-1.7 .3h.85m-.7 .4h.85m-35.1 .1h.85m-.4 0h.85m.9 .5h.85m30.2 .8h.85m-.7 0h.85m1.2 0h.85m-34.6 .1h.85m-1.4 .1h.85m31.7 .2h.85m1.8 .1h.85m-4.8 .6h.85m.5 0h.85m-1.4 .2h.85m-33.8 .1h.85m.6 0h.85m9.1 0h.85m20.5 .4h.85m-31.5 .1h.85m27.7 0h.85m-30 .1h.85m-.1 0h.85m6.7 0h.85m-8.9 .2h.85m-1.2 .1h.85m-.3 .1h.85m8.8 0h.85m-1.1 .1h.85m-1 .1h.85m17 0h.85m.5 .2h.85m-30 .1h.85m-.2 0h.85m-0 .2h.85m10.6 .1h.85m-.4 0h.85m-6.7 .1h.85m19.6 0h.85m.2 .2h.85m-29.6 .2h.85m9.9 0h.85m-10 .2h.85m-3.3 .1h.85m10.7 0h.85m15.3 0h.85m-21.2 .1h.85m-1.8 .1h.85m-1.5 .1h.85m4.4 0h.85m13.8 0h.85m-20.5 .1h.85m7.5 0h.85m3.8 0h.85m5.8 0h.85m-19.8 .1h.85m-1.7 .2h.85m.8 0h.85m6.2 0h.85m-10.4 .1h.85m1.1 0h.85m17 0h.85m-11.3 .1h.85m-.1 .1h.85m-4.6 .2h.85m-10.3 .1h.85m10.4 .1h.85m-1 .1h.85m-7.7 .1h.85m.2 0h.85m-.2 0h.85m17.2 0h.85m-10.5 .2h.85m-5.4 .1h.85m.2 0h.85m-1 .1h.85m11.3 0h.85m-0 0h.85m-13.5 .1h.85m-5 .1h.85m.6 0h.85m2 0h.85m-.2 0h.85m3.6 0h.85m-14.2 .1h.85m4.8 0h.85m1.3 0h.85m-.2 .1h.85m-9.8 .2h.85m4.6 .2h.85m4.3 .1h.85m-4 .1h.85m12 0h.85m-16.8 .1h.85m2.6 0h.85m-4.5 .1h.85m.6 0h.85m-1 .1h.85m0 0h.85m2 0h.85m-8.8 .2h.85m.3 0h.85m2.6 0h.85m-.7 0h.85m2.3 0h.85m7.6 .1h.85m-22.2 .1h.85m12.1 0h.85m-12.9 .1h.85m4.2 0h.85m-6.2 .1h.85m19 .1h.85m-17.8 .1h.85m17.2 0h.85m-17.9 .1h.85m-5.5 .1h.85m-.4 0h.85m-.3 0h.85m19 .1h.85m-15.8 .1h.85m3.4 .1h.85m11.6 0h.85m-15.8 .1h.85m4.7 0h.85m8.3 0h.85m1 .1h.85m-13.1 .1h.85m7.6 0h.85m-21.2 .1h.85m10.3 .1h.85m9.4 0h.85m-22.3 .1h.85m17.9 .1h.85m-13.2 .1h.85m5.7 0h.85m-13.7 .1h.85m5.5 0h.85m.6 0h.85m4.3 0h.85m-6.2 .1h.85m3.1 .1h.85m11.5 .1h.85m-14.8 .7h.85m11.8 0h.85m-12.7 .5h.85m8.2 .1h.85m-20.3 .1h.85m7.4 0h.85m9.2 0h.85m-18.4 .1h.85m15.4 0h.85m-11.5 .1h.85m-8.3 .1h.85m7.6 0h.85m-7.4 .2h.85m3.6 0h.85m13.6 0h.85m-.7 0h.85m-13.6 .1h.85m9.6 0h.85m-17.3 .1h.85m6.6 0h.85m9.6 .1h.85m-.5 .6h.85m-.4 0h.85m-4 .4h.85m1.2 0h.85m-12.2 .1h.85m-7.6 .1h.85m7.4 .2h.85m.3 .2h.85m6.6 0h.85m-19.2 .1h.85m16.5 0h.85m-6.8 .2h.85m3 0h.85m-.2 .2h.85m.9 .3h.85m1.2 .2h.85m-8.2 .5h.85m.8 0h.85m-.8 .4h.85m.3 0h.85m-5.4 .1h.85m8.2 0h.85m-18.8 .2h.85m13.1 0h.85m3.7 0h.85m-19.4 .1h.85m8.3 0h.85m-3.5 .1h.85m4.2 .2h.85m3.1 .1h.85m-17.4 .1h.85m10.2 .1h.85m4.6 0h.85m-3.8 .1h.85m.9 0h.85m-5.4 .3h.85m-10.6 .2h.85m14.1 0h.85m-5.4 .1h.85m.8 0h.85m-.8 0h.85m2.6 .2h.85m-.2 0h.85m-18.3 .1h.85m9.1 .2h.85m3.5 0h.85m.6 0h.85m-7.4 .2h.85m6 0h.85m-4.2 .1h.85m-.8 0h.85m-13.9 .2h.85m9.4 0h.85m4.8 0h.85m-15.8 .1h.85m13.7 0h.85m-2.5 .1h.85m-13.8 .3h.85m10.6 0h.85m1.8 0h.85m-1.9 .1h.85m-2 .1h.85m.6 0h.85m1 0h.85m-5.7 .1h.85m-1 .1h.85m4.5 .2h.85m-3.7 .2h.85m2.2 0h.85m-16.7 .2h.85m7.5 .3h.85m.4 0h.85m-2.3 .3h.85m-9.8 .1h.85m8.8 .3h.85m-.2 0h.85m-2 .4h.85m3.5 0h.85m-4.2 .1h.85m-11 .1h.85m10.1 0h.85m-12.1 .1h.85m9.2 0h.85m3.5 0h.85m-6.6 .5h.85m-9.1 .5h.85m-.7 .5h.85m5.9 .1h.85m-.3 .2h.85m-6 .4h.85m-2 .2h.85m1 0h.85m2.6 .1h.85m0 .2h.85m1.2 0h.85m-4.7 .2h.85m.5 0h.85m.6 .3h.85m-6.5 .1h.85m-.8 .2h.85m3.9 0h.85m-4.3 .2h.85m1.4 .1h.85m-1.5 .1h.85m-1.9 .1h.85m-2.1 .1h.85m2.6 0h.85m-4.3 .7h.85"/>
<path stroke="rgb(42, 102, 255)" stroke-width="0.85" d="M269.5 54.6h.85m-13.5 .6h.85m-3.6 .5h.85m2.6 0h.85m10.8 .3h.85m-16.6 .8h.85m-3.9 5.6h.85m9 0h.85m.5 .3h.85m16.5 .5h.85m-18.7 .2h.85m1.5 .1h.85m-9.3 .7h.85m.9 .4h.85m1.4 .7h.85m5.3 .5h.85m-9.5 1.3h.85m-3.1 .8h.85m.9 0h.85m15.5 0h.85m-1.1 .1h.85m-.4 .4h.85m-6.8 .5h.85m-13.9 .3h.85m-.6 0h.85m10.9 .9h.85m6.2 .2h.85m-11.7 .3h.85m8.8 .1h.85m-1.5 .1h.85m-1.4 1h.85m-.7 0h.85m-12.7 .4h.85m8.8 .7h.85m-8.8 .8h.85m6 .4h.85m-16.1 .4h.85m-.4 0h.85m8.3 .1h.85m8 .7h.85m-11.2 .8h.85m-8.3 8.8h.85m.8 .1h.85"/>
<path stroke="rgb(30, 102, 255)" stroke-width="0.85" d="M278 54.8h.85m-6.2 .5h.85m-18.5 .1h.85m4.8 .2h.85m4.6 0h.85m-11.5 .1h.85m25 0h.85m-28.6 .5h.85m9.4 .2h.85m-3.8 .2h.85m-.6 .1h.85m21.8 0h.85m-1 .2h.85m-32 .5h.85m7 .4h.85m22.3 .1h.85m-19.5 .5h.85m17.3 .4h.85m-31.9 .8h.85m29.1 .4h.85m1.6 .5h.85m-3 .1h.85m-30.8 .4h.85m-.2 1.1h.85m26.3 .2h.85m-16.2 .8h.85m-.7 .1h.85m-8.7 .6h.85m3.3 .2h.85m1.2 0h.85m-9.4 .2h.85m17.7 .4h.85m-17.3 .4h.85m-4.8 .3h.85m13.6 .6h.85m-14.5 .4h.85m9 0h.85m-7.1 .2h.85m7.2 .1h.85m3.5 .1h.85m-13.8 .1h.85m9.3 .1h.85m-13.9 .3h.85m3.4 .5h.85m15.2 .1h.85m-9.2 .5h.85m-9.2 .4h.85m-.7 .2h.85m.5 0h.85m10.9 0h.85m-11.2 .4h.85m-3.7 .4h.85m-4.9 .2h.85m4.4 .2h.85m-5.3 .1h.85m3.4 .1h.85m1.6 0h.85m-8.7 .7h.85m5.7 0h.85m-.4 .3h.85m-3.8 .1h.85m9.9 .1h.85m5.5 .4h.85m-15 .1h.85m-.5 .2h.85m-1.7 .5h.85m-2.2 .3h.85m10.8 .2h.85m-2.1 .3h.85m-15.9 .1h.85m-1.4 .2h.85m7 0h.85m1.2 0h.85m-5 .2h.85m-7.7 .2h.85m13.6 .3h.85m-0 0h.85m-10.2 .1h.85m1.6 .4h.85m1.4 .1h.85m3.1 .4h.85m.2 .3h.85m-17.1 .2h.85m9.7 .8h.85m3.8 1h.85m-6.5 .3h.85m-.7 .2h.85m-2.5 .1h.85m-8.4 2.3h.85m-1.2 1h.85m-.2 1.3h.85m6 0h.85m-1.5 .4h.85m-.7 2.2h.85"/>
<path stroke="rgb(30, 114, 255)" stroke-width="0.85" d="M281.2 54.2h.85m-4.5 .5h.85m.3 .3h.85m-4 .1h.85m3.5 .1h.85m-25.3 .2h.85m3.1 .2h.85m10.6 .2h.85m-16.4 .1h.85m1.5 0h.85m6.6 0h.85m-10.1 .1h.85m9.9 0h.85m7.8 .3h.85m-14.8 .1h.85m6 .1h.85m-15.9 .4h.85m7.9 0h.85m3.9 0h.85m-16.5 1h.85m-.9 .1h.85m30.6 .3h.85m-30.3 .6h.85m29.4 0h.85m-.7 .1h.85m-2.2 .5h.85m-31.7 .5h.85m28.8 .1h.85m-30 1.3h.85m.2 .3h.85m26.2 .3h.85m-3 .1h.85m-16.4 .5h.85m-4.8 .1h.85m.8 0h.85m-8.2 .2h.85m9 .1h.85m-1.5 .1h.85m1.3 .2h.85m-9.4 .1h.85m4.6 0h.85m-2.8 .1h.85m-.2 0h.85m16 0h.85m-24.8 .1h.85m11.3 .1h.85m-6.7 .2h.85m-.2 0h.85m4.2 .2h.85m-11.5 .3h.85m.2 0h.85m-2.7 .2h.85m2.8 .2h.85m2.4 0h.85m5 .2h.85m-.2 .1h.85m-.7 0h.85m-11.4 .1h.85m20.6 .1h.85m-26.6 .5h.85m11.4 .1h.85m.1 .7h.85m-10.5 .1h.85m17 .1h.85m-9.7 .1h.85m1.2 0h.85m-12.6 .1h.85m-2.4 .4h.85m13.3 0h.85m3.3 0h.85m-2.8 .2h.85m-12.6 .1h.85m5.9 .1h.85m3.4 0h.85m2.3 0h.85m-9.2 .1h.85m-11 .1h.85m12.8 0h.85m5.5 0h.85m-19 .2h.85m.2 0h.85m8 0h.85m-2.7 .2h.85m7.6 .3h.85m-1.8 .1h.85m1.6 0h.85m-3.4 .3h.85m-17.7 .2h.85m3.8 0h.85m12.3 .2h.85m-16.4 .4h.85m6.5 .1h.85m-.5 0h.85m5.6 .4h.85m-17.2 .2h.85m-2.9 .3h.85m16.6 0h.85m-6.7 .1h.85m-9.4 .3h.85m9.6 0h.85m-9.4 .1h.85m-.2 .3h.85m10.5 .2h.85m-12.2 .2h.85m-1.7 .1h.85m-5.4 .2h.85m-1.4 .1h.85m.8 .2h.85m.1 0h.85m13.6 .2h.85m-.6 .4h.85m-7.4 .3h.85m7.9 .2h.85m-17.6 .1h.85m9.2 .2h.85m-8.7 .2h.85m2.5 .1h.85m-6.7 .2h.85m11.8 .2h.85m-9.8 .5h.85m1.5 .1h.85m0 0h.85m-9.4 .2h.85m-1.4 .1h.85m6.3 .2h.85m-7.5 .2h.85m-.8 .1h.85m14.3 .7h.85m-7.6 .1h.85m.5 .8h.85m-3.5 3.2h.85m-8.9 .4h.85m7.5 .3h.85m-.5 .2h.85m-9.5 .1h.85m6.3 1.1h.85m-1.5 .1h.85m-5.7 .8h.85m3.5 .4h.85m-3.8 .2h.85"/>
<path stroke="rgb(30, 126, 255)" stroke-width="0.85" d="M275.4 55.1h.85m-18.2 .1h.85m12.3 .2h.85m9.5 0h.85m-24.8 .5h.85m14.6 .2h.85m-2.4 .2h.85m-18 .2h.85m-2.8 .3h.85m13.7 .3h.85m-4.5 .3h.85m18.6 .3h.85m-22.9 .1h.85m21.5 .6h.85m-.7 .6h.85m-21.8 .2h.85m17.4 1.9h.85m.9 0h.85m-21.8 .6h.85m18 .3h.85m-17.7 .1h.85m-3.1 .6h.85m2.6 .3h.85m-7.8 .4h.85m-3 .4h.85m10.6 .3h.85m9.2 0h.85m.2 .5h.85m-4 .1h.85m-21.5 .1h.85m19.3 .2h.85m-.8 .1h.85m-18.2 .2h.85m2.7 .6h.85m4 .1h.85m4 0h.85m-17.5 .2h.85m19.1 0h.85m-5.6 .1h.85m-14.6 .3h.85m10.9 .2h.85m-6.8 .4h.85m3.3 .3h.85m7.5 .2h.85m-1.8 .1h.85m-.9 .2h.85m-8.3 .1h.85m5.3 .5h.85m-17.2 .8h.85m3.3 .1h.85m5.8 .2h.85m1.3 0h.85m-2 .2h.85m-3.2 .1h.85m-2.4 .1h.85m1.3 0h.85m-7.8 .6h.85m4.6 .1h.85m2 .2h.85m-4 .1h.85m-11.4 .1h.85m12.5 0h.85m.6 0h.85m-10.5 .7h.85m11.7 .2h.85m-11.2 .1h.85m3.4 0h.85m-12.9 .5h.85m9.4 0h.85m-.5 0h.85m4.8 .5h.85m-14.3 .4h.85m1.4 0h.85m1.8 .3h.85m3.6 0h.85m-3.3 .1h.85m-2.7 .2h.85m7 0h.85m-1.6 .1h.85m-9.8 .2h.85m4.6 .2h.85m1.2 .6h.85m-15.7 .1h.85m6.8 .1h.85m2.6 .5h.85m3.3 .1h.85m-14 .2h.85m8.2 .1h.85m-2.8 .2h.85m-.2 1.1h.85m-1.7 1.2h.85m4 .1h.85m-12.8 .3h.85m1.8 5.4h.85m.2 .4h.85"/>
<path stroke="rgb(18, 126, 255)" stroke-width="0.85" d="M273.8 54.7h.85m.5 .6h.85m3.8 .2h.85m-14.4 .2h.85m8.2 .2h.85m-6.2 .4h.85m-9.5 .6h.85m18.6 4.9h.85m-26.6 1.5h.85m3.6 .2h.85m5.8 0h.85m2.7 1.5h.85m-.2 .1h.85m-13.4 .7h.85m-4.2 .2h.85m12.5 .2h.85m-9.5 1.3h.85m11.1 .3h.85m-.8 0h.85m-6.4 .2h.85m-.2 0h.85m-14.4 .1h.85m-1.1 .3h.85m9.9 1.3h.85m1.3 .1h.85m-0 .4h.85m-6.5 1h.85m5.2 1.9h.85m-15.1 2.3h.85m3.4 .2h.85m4.6 0h.85m-5.2 .3h.85m8 0h.85m-6.1 .1h.85m-10.2 1.6h.85m7 1.5h.85m-8.7 1.5h.85m-.3 2.5h.85"/>
<path stroke="rgb(18, 138, 255)" stroke-width="0.85" d="M278.9 55.2h.85m.3 .1h.85m-2.2 .2h.85m-3.2 .1h.85m-.4 0h.85m-6.4 .2h.85m9.5 .1h.85m-28.2 .1h.85m3.3 0h.85m21.5 .2h.85m-22.7 .1h.85m-.5 0h.85m12.6 0h.85m-19.5 .2h.85m12.2 0h.85m-10.2 .4h.85m7.1 0h.85m16.5 .5h.85m-23 .2h.85m-9.4 .3h.85m9 0h.85m-1.6 .4h.85m.3 0h.85m.6 .3h.85m-1.5 .4h.85m-12.2 .3h.85m7.7 .5h.85m19.6 .1h.85m-20.8 .2h.85m-.2 .1h.85m17.5 .4h.85m-17.4 .9h.85m13.5 .3h.85m-18.2 .2h.85m15.2 .3h.85m1.6 0h.85m-22.8 .3h.85m-1.5 .2h.85m-.7 0h.85m19.4 .2h.85m-25 .3h.85m.6 .3h.85m21.1 0h.85m-21.5 .2h.85m-.7 0h.85m-.3 0h.85m1.4 .2h.85m15.5 0h.85m-9.8 .3h.85m4.3 .1h.85m-6.4 .3h.85m-12.1 .1h.85m18.4 0h.85m-19.2 .2h.85m11 0h.85m3.6 .4h.85m2.3 .2h.85m-7 .2h.85m-1.8 .2h.85m4 .1h.85m-.4 0h.85m-6.5 .2h.85m.3 0h.85m-16.4 .1h.85m17.2 0h.85m-.2 .7h.85m-18.1 .1h.85m16.4 0h.85m-16.2 .1h.85m15.2 0h.85m-17.5 .2h.85m4.8 .2h.85m-8 .1h.85m10.8 .2h.85m5.8 0h.85m-4.8 .1h.85m2.3 .1h.85m-11.4 .1h.85m6.5 .5h.85m3.8 .2h.85m-19.3 .1h.85m3.3 .1h.85m6.9 0h.85m-12.7 .1h.85m16.2 .3h.85m-3.6 .6h.85m-5.3 .5h.85m-3.7 .2h.85m3.5 .2h.85m-8.4 .3h.85m3.6 0h.85m1 .2h.85m-12.8 .1h.85m14.4 0h.85m-4.4 .1h.85m-10.2 .1h.85m9 0h.85m-4.8 .1h.85m-4.3 .2h.85m8.6 0h.85m-14.3 .1h.85m4.6 .1h.85m3 0h.85m-7.9 .2h.85m-4.7 .3h.85m11 0h.85m-7.5 .2h.85m5.8 0h.85m-4.8 .1h.85m3.8 0h.85m-3 .4h.85m-1.2 .2h.85m2.5 0h.85m.8 0h.85m-12.2 .1h.85m-3.4 .2h.85m12.3 0h.85m-15.4 .4h.85m10.1 .2h.85m4.3 0h.85m-12.8 .3h.85m1.6 0h.85m-.5 0h.85m-.2 .2h.85m.3 .2h.85m1.6 0h.85m-9.5 .3h.85m7.1 .4h.85m-6.4 .1h.85m-.6 0h.85m6.2 .1h.85m1.9 .3h.85m-15.2 .3h.85m-1.1 .1h.85m8.7 0h.85m-5.2 .3h.85m1.6 .2h.85m-3.8 .5h.85m-5.9 1h.85m6 .2h.85m-.8 .3h.85m-8.1 1h.85m6.7 .5h.85m-2 .1h.85m-1.1 2.1h.85m-1.2 .2h.85m-6.4 .1h.85m-.7 .2h.85m1.3 1.2h.85m-.5 0h.85"/>
<path stroke="rgb(18, 150, 255)" stroke-width="0.85" d="M277.5 54.8h.85m-20.4 .9h.85m9.5 .1h.85m1.6 .2h.85m-3.2 .1h.85m1.5 .2h.85m-1.2 .1h.85m-12 .2h.85m10.6 0h.85m-5.2 .2h.85m4.3 .2h.85m-7.4 .6h.85m16.5 .2h.85m-21.4 .2h.85m.3 .1h.85m-.2 .2h.85m18.1 1.1h.85m-31.7 .2h.85m12.5 .4h.85m-5.7 .1h.85m2.8 .4h.85m-13.4 .2h.85m8.1 .3h.85m-7.4 .1h.85m24.4 .2h.85m-27.5 .3h.85m7.8 0h.85m-3.6 .2h.85m-.5 .2h.85m-.7 .1h.85m1.5 0h.85m16.8 0h.85m-19.5 .2h.85m-2.4 .1h.85m5 .2h.85m11 .2h.85m-24.8 .1h.85m2.2 0h.85m-.4 0h.85m-1.4 .1h.85m10.1 .3h.85m-11.8 .1h.85m0 0h.85m19.5 0h.85m-14.2 .3h.85m12.6 .1h.85m-11.7 .1h.85m2.8 .1h.85m5 0h.85m1 0h.85m-2.2 .1h.85m-10.4 .3h.85m3.2 .2h.85m1.8 0h.85m-6.2 .2h.85m3.3 .1h.85m-.5 .1h.85m-.6 .3h.85m1 0h.85m-4.7 .4h.85m-.6 0h.85m-4.2 .4h.85m-2 .1h.85m3.9 .7h.85m.3 0h.85m-6.4 .4h.85m.5 0h.85m-.6 .8h.85m.6 .4h.85m-16.5 .1h.85m12.2 0h.85m2.3 0h.85m-6 .1h.85m2.3 .2h.85m1.5 .2h.85m-1.8 .5h.85m-15.2 .3h.85m-.9 .2h.85m-2.6 .1h.85m11.5 0h.85m-.1 0h.85m-2 .1h.85m2.2 0h.85m.3 .1h.85m-4 .2h.85m1 .1h.85m-1.7 .1h.85m-4.2 .1h.85m-7.1 .3h.85m8.4 .1h.85m-13.6 .1h.85m9.9 .1h.85m-4.4 .1h.85m6 0h.85m-13.7 .2h.85m0 .1h.85m6.6 0h.85m3.1 .3h.85m-10.7 .1h.85m3.7 .1h.85m-6.9 .1h.85m4.8 0h.85m-8.5 .3h.85m2.8 .2h.85m10 0h.85m-16.7 .1h.85m9 0h.85m2.3 0h.85m-12.7 .2h.85m13.6 0h.85m-16.8 .3h.85m2.4 .1h.85m5.6 .1h.85m-5.7 .2h.85m-5.2 .3h.85m10.8 .2h.85m-3.8 .4h.85m-6.1 .3h.85m1.8 0h.85m1.5 .6h.85m-3.8 .1h.85m6 0h.85m-13.2 .2h.85m2.6 .2h.85m5.3 0h.85m-10.5 .1h.85m-1.7 .2h.85m4.5 0h.85m-6.2 .2h.85m5.5 .2h.85m-6.4 .1h.85m4.2 .6h.85m-6.4 .3h.85m-1 .8h.85m10.1 0h.85m-5.8 .1h.85m-1.4 .2h.85m.2 0h.85m-7.3 3h.85m6.1 0h.85m-3 1.5h.85m-4.2 .7h.85m1.3 .1h.85m-1.9 .2h.85m-2.7 .2h.85"/>
<path stroke="rgb(18, 162, 255)" stroke-width="0.85" d="M273.5 55.9h.85m1.2 .2h.85m-20.5 .2h.85m-2.8 1.2h.85m7.8 .3h.85m-4.5 .1h.85m.3 0h.85m-7.7 .3h.85m7.8 0h.85m0 .1h.85m-3.9 2.4h.85m3.6 1.4h.85m1.6 .4h.85m8.8 0h.85m-22.3 .7h.85m9.6 0h.85m9.1 .5h.85m-5.8 1.3h.85m-17.3 .6h.85m17.7 .8h.85m-3 .2h.85m.8 0h.85m-.7 .1h.85m-3.7 .4h.85m-3.4 .1h.85m-13.2 .3h.85m11.5 .5h.85m1.1 1.2h.85m-3 .1h.85m2.4 .1h.85m-3.1 .3h.85m-13.8 1.6h.85m5.8 .4h.85m-6 2.3h.85m7.3 .5h.85m.2 1h.85m-4 .4h.85m-4.7 1h.85m-6.8 1.2h.85m-.6 1.1h.85m-2.5 .1h.85m7.7 .2h.85m-1.5 .5h.85m-2.5 2.5h.85m-4.3 1.8h.85"/>
<path stroke="rgb(6, 162, 255)" stroke-width="0.85" d="M280.2 55.7h.85m-1.8 .1h.85m-19.2 .3h.85m-6.5 .2h.85m22.3 .1h.85m-24.8 .3h.85m26.1 0h.85m-15.5 .1h.85m-1.7 .1h.85m14.5 0h.85m-28 .1h.85m27 .6h.85m-19.7 .6h.85m-3.5 .3h.85m1.3 .2h.85m18.5 .1h.85m-20.8 1.4h.85m-10.3 .3h.85m6.1 .1h.85m17.4 .5h.85m-13.6 .3h.85m-.2 .1h.85m10.8 .3h.85m-24 .1h.85m2.5 .2h.85m18.6 .1h.85m-19.8 .2h.85m-1.7 .1h.85m7.8 .8h.85m7.3 0h.85m-7.7 .2h.85m-12.9 .2h.85m18.7 .9h.85m-4.7 1.1h.85m1.5 .2h.85m-3.4 .8h.85m-1 .3h.85m-.4 .5h.85m-18 .4h.85m14.5 .6h.85m-16.2 1.4h.85m.6 .3h.85m9.6 0h.85m-8.8 .3h.85m8.6 0h.85m-5 .5h.85m.2 .1h.85m-1.7 .4h.85m-1.4 .1h.85m.2 0h.85m-12.2 .9h.85m14.5 0h.85m-.7 .3h.85m-8.4 .2h.85m-7.3 .5h.85m1.9 0h.85m-3.1 .1h.85m10.6 0h.85m-1.4 .8h.85m-4.7 .2h.85m.6 0h.85m-6.8 .2h.85m1 1.1h.85m-6.5 .2h.85m-0 .2h.85m2 .3h.85m-5.5 .3h.85m5.3 .3h.85m-6.6 .4h.85m-.5 .2h.85m-1.9 .4h.85m7.5 1h.85"/>
<path stroke="rgb(6, 174, 255)" stroke-width="0.85" d="M280.1 55.2h.85m-4.6 1h.85m-1.7 .1h.85m-20 .2h.85m17.8 0h.85m-.5 0h.85m4 0h.85m-5.5 .3h.85m-3.2 .1h.85m-7.7 .1h.85m-14.4 .1h.85m29.2 .1h.85m-26 .2h.85m22.6 0h.85m-20.4 .1h.85m18.7 .1h.85m-16.9 .6h.85m-3.5 .4h.85m-2.4 .3h.85m18.3 .2h.85m-27.8 .1h.85m9.2 .1h.85m-3.4 .1h.85m3.8 0h.85m-5.8 .3h.85m-8.4 .2h.85m9.3 .6h.85m-3.2 .4h.85m19.2 0h.85m-16.9 .1h.85m-4.8 .1h.85m3.1 0h.85m-12.9 .2h.85m5.7 .3h.85m7.2 .2h.85m11.6 0h.85m-12.8 .1h.85m-4.8 .5h.85m.6 0h.85m1.1 .1h.85m-13.1 .2h.85m17.9 .1h.85m-19.3 .4h.85m17.6 .2h.85m-18.3 .2h.85m10.5 0h.85m6 0h.85m-2.9 .1h.85m1.6 .1h.85m-.4 .2h.85m-8.4 .1h.85m-13.3 .1h.85m17.1 .1h.85m-2.8 .2h.85m-.3 0h.85m-2.8 .2h.85m-.4 .5h.85m-1.2 1h.85m-1.7 .2h.85m-4 .3h.85m2 .9h.85m.2 .6h.85m-16.1 .5h.85m10.9 0h.85m-3 .1h.85m1.1 .7h.85m-2.7 .6h.85m1.5 .7h.85m.3 .2h.85m2.5 .6h.85m-16.4 .4h.85m11.4 .2h.85m-5.8 .9h.85m-7.7 .1h.85m7 0h.85m1 .5h.85m-10.7 .4h.85m6.2 0h.85m-.3 .4h.85m-8.9 .2h.85m-1.5 .2h.85m.8 .8h.85m.5 0h.85m-4.9 .9h.85m-.3 .1h.85m.9 0h.85m-2.7 .1h.85m.9 .1h.85m-3.2 .1h.85m2.5 .5h.85m-.6 .2h.85m-3.8 .2h.85m2.8 1.4h.85m-.5 .6h.85m-1.8 .3h.85m-5.2 2.3h.85m.2 .9h.85m1.8 .3h.85m-2.7 .2h.85"/>
<path stroke="rgb(6, 186, 255)" stroke-width="0.85" d="M255.6 56h.85m24.2 0h.85m-6.8 .2h.85m5.1 .3h.85m-5.7 .2h.85m0 0h.85m.2 .1h.85m-23.6 .3h.85m13.9 0h.85m11.2 0h.85m-10.5 .2h.85m-6.7 .1h.85m11.2 0h.85m-10.1 .1h.85m11.6 .1h.85m-14.6 .1h.85m14 .1h.85m-10 .1h.85m6.1 .1h.85m-15.5 .1h.85m-6.4 .2h.85m4.7 0h.85m-.7 .2h.85m-13.6 .3h.85m26.9 0h.85m-28.1 .1h.85m-1.4 .1h.85m27.5 .5h.85m-2.7 .1h.85m-18.7 .1h.85m-2.3 .5h.85m15.5 0h.85m-17.7 .1h.85m1.2 .1h.85m-2.2 .1h.85m-1 .2h.85m3.3 0h.85m.6 .3h.85m11.5 .2h.85m-25.4 .1h.85m2.9 .3h.85m5.9 0h.85m12.7 0h.85m-.4 0h.85m-25.6 .2h.85m11.4 0h.85m-7.8 .3h.85m7.3 .3h.85m-11.8 .4h.85m18.4 .1h.85m-9.2 .1h.85m7.5 0h.85m-3.1 .1h.85m1.6 0h.85m-20.8 .1h.85m13.9 0h.85m4.2 0h.85m-19.8 .2h.85m10.3 .3h.85m-0 .2h.85m.8 0h.85m2.3 .1h.85m-.7 .1h.85m-4.2 .7h.85m1.7 .2h.85m-1.6 1.6h.85m-2.8 .6h.85m-.4 1h.85m-1.8 .2h.85m-16.4 .3h.85m13.1 .1h.85m-1.4 .6h.85m-15.6 .3h.85m10.4 .4h.85m1.5 0h.85m-10 .4h.85m-2.2 .2h.85m.5 .5h.85m8.6 0h.85m.6 3.5h.85m-14.8 .2h.85m5.2 0h.85m-5.5 .2h.85m.5 .6h.85m5.5 0h.85m-7 .8h.85m-3.4 .3h.85m.8 .2h.85m-4.4 1h.85m4.5 .7h.85m-6 .2h.85m5.3 .7h.85m-2 1h.85m-3.7 2.7h.85m-1 .1h.85m-.8 .1h.85m.2 .3h.85"/>
<path stroke="rgb(6, 186, 246)" stroke-width="0.85" d="M279.2 55.9h.85m-1.8 .1h.85m-5.7 .6h.85m2.9 0h.85m-6.1 .6h.85m-18.6 .7h.85m4.9 .3h.85m-1.8 1.4h.85m2.2 .9h.85m-8.6 .6h.85m2.2 .2h.85m-.7 .3h.85m-4.4 .3h.85m9.7 .3h.85m4.6 .9h.85m-1.2 .1h.85m5.8 .2h.85m-8.7 1.5h.85m2.7 .5h.85m-17.7 8.8h.85m-2.2 2.9h.85m3.6 1.4h.85m-6.4 .8h.85m-.4 .1h.85"/>
<path stroke="rgb(6, 198, 246)" stroke-width="0.85" d="M279.5 55.7h.85m-2.7 .4h.85m-1.1 .2h.85m-2.2 .1h.85m-.2 .1h.85m-10.7 1.7h.85m-14.1 .3h.85m6.7 .3h.85m2.8 0h.85m-4.9 .2h.85m6.3 1.3h.85m-8.7 1.3h.85m15.3 .2h.85m-10.3 .1h.85m-9.7 .7h.85m8.5 .2h.85m7.3 .2h.85m-22.8 .1h.85m1 .2h.85m11.6 .4h.85m1.2 1.6h.85m1.6 .5h.85m.1 .9h.85m-11 6.3h.85m-9.4 .2h.85m-0 3.6h.85m1 1.4h.85m0 1.8h.85m-2.2 2.5h.85"/>
<path stroke="rgb(6, 198, 234)" stroke-width="0.85" d="M278.1 56h.85m-4 .2h.85m-18.2 .4h.85m-5.4 .4h.85m16.4 0h.85m-1.2 .1h.85m.5 0h.85m-0 .1h.85m.2 0h.85m5 0h.85m-19.7 .1h.85m6.6 0h.85m-13 .2h.85m7.2 .6h.85m-5.2 .8h.85m-.2 0h.85m-1.8 .7h.85m-.4 .1h.85m4.5 .2h.85m13.8 .7h.85m-20.5 .8h.85m.3 0h.85m15.2 0h.85m-1.2 .1h.85m-23.8 .1h.85m10.5 .2h.85m12.2 .1h.85m-6.8 .1h.85m-7.5 .1h.85m1.5 0h.85m7.5 .1h.85m-20.7 .2h.85m19.8 .2h.85m-9 .2h.85m.5 .5h.85m-1.8 .4h.85m3.6 .4h.85m-3.8 2.3h.85m-18.2 4.1h.85m-1 2h.85m.3 1.6h.85m-0 1.6h.85m8.6 .1h.85m-7.8 .4h.85m-.6 0h.85m-5 2.3h.85m4.2 1.8h.85m-5.9 2.2h.85m-.8 .6h.85"/>
<path stroke="rgb(6, 198, 222)" stroke-width="0.85" d="M280.1 56.7h.85m-9.7 .1h.85m-5.8 .6h.85m-13.3 .1h.85m13.4 .1h.85m-3.1 .2h.85m-2.4 .3h.85m5.4 .1h.85m-5.2 .5h.85m-.4 .1h.85m-1.8 .1h.85m-14 .2h.85m26.1 .1h.85m-2.4 .4h.85m-14 1.3h.85m-1 .1h.85m-10.1 .2h.85m22.9 .2h.85m-5.2 .2h.85m-21.5 .1h.85m.4 .1h.85m-.4 0h.85m2.8 0h.85m11.9 .4h.85m3.3 .3h.85m-3.2 .8h.85m-4 .7h.85m-2.5 .6h.85m3.3 0h.85m-6.7 6.8h.85m-14.1 3.6h.85m-.2 .5h.85m-0 .3h.85m-3.1 1.8h.85m.3 .2h.85m-2.4 .1h.85m-.6 .1h.85m2.2 1.9h.85m-5.7 .5h.85m.6 3.5h.85m1.8 .3h.85"/>
<path stroke="rgb(6, 198, 210)" stroke-width="0.85" d="M267.3 57.5h.85m12.5 1h.85m-17.2 .9h.85m13 .6h.85m-23.6 2.6h.85m11.6 1.6h.85m-12.9 13.4h.85"/>
<path stroke="rgb(18, 198, 210)" stroke-width="0.85" d="M277.3 56.6h.85m1.8 1h.85m-8.2 .1h.85m2.7 0h.85m-9.8 .6h.85m-9.8 .7h.85m3.6 .4h.85m.6 .3h.85m15.9 .1h.85m-15.5 .1h.85m-1.2 .1h.85m-2 .3h.85m-7.9 .2h.85m19.2 0h.85m-18.5 .2h.85m-5.9 .6h.85m-1.7 .2h.85m1.9 .1h.85m-3.2 .1h.85m-.8 .1h.85m12.4 .4h.85m1.2 .6h.85m3.9 .1h.85m-6.1 5.2h.85m-14 8.3h.85m-3.6 2h.85m-.8 0h.85m-2.3 1.6h.85m-.8 .5h.85m3.8 1.2h.85m-1.5 1.1h.85m-.4 .1h.85"/>
<path stroke="rgb(18, 198, 198)" stroke-width="0.85" d="M271.8 57.2h.85m-1.3 .5h.85m-5.4 .6h.85m12.3 1h.85m.6 .5h.85m-15.5 2.2h.85m6.8 .5h.85m-4.7 .7h.85m-13.7 13.2h.85"/>
<path stroke="rgb(18, 210, 198)" stroke-width="0.85" d="M278.3 55.7h.85m-2.8 .4h.85m2.5 .2h.85m-8.4 1h.85m-5.4 .1h.85m.7 0h.85m-0 .2h.85m4 0h.85m-21.8 .2h.85m3.6 0h.85m7.5 .2h.85m7.2 .3h.85m-16.7 .2h.85m5.5 .5h.85m-7 .1h.85m20.8 0h.85m-2.9 .1h.85m-15.3 .1h.85m-2 .4h.85m16 .6h.85m-21.3 .1h.85m19.1 .1h.85m-22.3 .4h.85m8.4 .8h.85m8.6 .4h.85m-10.6 .1h.85m-.2 .3h.85m4.8 1.8h.85m-3.3 3.6h.85m-16.4 7.5h.85m-0 .7h.85m-.7 1.1h.85m-1.4 .1h.85m-.4 .4h.85m1 1.3h.85m-5.5 1.7h.85m-1.3 1h.85m-1.2 .4h.85"/>
<path stroke="rgb(18, 210, 186)" stroke-width="0.85" d="M268.1 57h.85m3.3 .7h.85m-1.7 .3h.85m7.3 .7h.85m-15.4 .4h.85m10.6 .6h.85m-15.8 .2h.85m13.2 0h.85m2.2 0h.85m-3.2 .6h.85m2.1 .1h.85m-5.4 .1h.85m-21.6 .4h.85m19.9 .1h.85m-8.6 .9h.85m4.2 .3h.85m-6.8 .2h.85m3 .1h.85m-1.2 .2h.85m2.3 .8h.85m-18.2 14.8h.85m-4 .6h.85m-.1 .5h.85m2.7 0h.85m-.4 .5h.85m-.3 .3h.85m-1 .1h.85m-1 .4h.85m-1 .2h.85m-.9 1.2h.85m-2.3 .7h.85"/>
<path stroke="rgb(18, 210, 174)" stroke-width="0.85" d="M276.3 57.1h.85m-20.8 .1h.85m17.2 0h.85m1.8 .2h.85m-10 .4h.85m-3.4 .3h.85m-11.6 .9h.85m23.7 1h.85m-13 .3h.85m-9.8 .1h.85m6.8 .5h.85m2.1 1.2h.85m-2.1 .1h.85m2.6 .2h.85m1.2 .9h.85m-19.1 13.8h.85m2.7 1.5h.85m-3.4 4.2h.85"/>
<path stroke="rgb(30, 210, 174)" stroke-width="0.85" d="M280.5 57.2h.85m-6.4 .8h.85m-18 .4h.85m7.9 .8h.85m-5.2 .3h.85m3.7 .5h.85m10 0h.85m.5 0h.85m-19.8 .2h.85m14.8 .2h.85m-20.2 1.8h.85m15 .1h.85m-3.6 1h.85m-.6 .6h.85m-.1 .6h.85m-14.8 10.6h.85m-.1 4.8h.85m-.8 0h.85m-.7 .3h.85m-5 1h.85"/>
<path stroke="rgb(30, 210, 162)" stroke-width="0.85" d="M277.6 56.2h.85m-21.6 .8h.85m15.2 .1h.85m2.2 .1h.85m-4.8 .3h.85m-17.3 .2h.85m24.1 .1h.85m-7 .2h.85m-9.2 .1h.85m13.5 .1h.85m-7.7 .3h.85m-16.1 .1h.85m8.7 0h.85m-15.6 .4h.85m24.6 0h.85m.5 0h.85m-14.6 .1h.85m-.4 0h.85m-1.2 .3h.85m10.2 .5h.85m-.5 0h.85m-21.6 .3h.85m7.8 .5h.85m-6.8 .2h.85m7.1 0h.85m6.5 .3h.85m-18 .2h.85m-.7 0h.85m9.4 .1h.85m-11 .2h.85m9.3 .3h.85m3.9 .7h.85m-3.6 .3h.85m-.4 .5h.85m-.2 .9h.85m-16.2 11.8h.85m-3 1.3h.85m.7 .2h.85m-1.9 .1h.85m1.3 1.2h.85m.3 .4h.85m-5.2 1.4h.85m3.3 0h.85m-3.5 .9h.85m-2.5 .2h.85m1.8 .2h.85m-1.8 1h.85m.6 .4h.85"/>
<path stroke="rgb(30, 210, 150)" stroke-width="0.85" d="M270 58h.85m-14.5 2.4h.85m17.5 .6h.85m-19.7 .3h.85"/>
<path stroke="rgb(30, 222, 150)" stroke-width="0.85" d="M277.2 56.8h.85m-22 .2h.85m20 0h.85m1.7 .1h.85m-23.6 .2h.85m19.2 0h.85m-19.4 .2h.85m-1.5 .4h.85m13 .1h.85m-4.4 .1h.85m3.3 .1h.85m-11.2 .4h.85m3.8 0h.85m-12.4 .3h.85m21.5 .2h.85m-11.7 .2h.85m-12 .1h.85m20.5 .1h.85m-12.5 .1h.85m14.5 0h.85m-14.9 .1h.85m-7.1 .1h.85m-2.5 .2h.85m17.3 .1h.85m1.9 .8h.85m-3.5 .2h.85m-20.8 .2h.85m12 .3h.85m3.5 .3h.85m-1.2 .3h.85m.5 .1h.85m-5.4 .1h.85m-1.1 .3h.85m-14.7 15.8h.85m-3.8 1.7h.85m2.9 .7h.85"/>
<path stroke="rgb(30, 222, 138)" stroke-width="0.85" d="M257.3 57.6h.85m22 .1h.85m-24.8 .1h.85m-2.4 .3h.85m1.7 0h.85m10.4 .1h.85m3 .1h.85m5.3 0h.85m-9 .1h.85m7.3 0h.85m-10.4 .2h.85m-10.7 .3h.85m-2.2 .3h.85m-3.8 .3h.85m1.3 .4h.85m-.1 .2h.85m-4.3 .4h.85m2.5 .2h.85m15 .1h.85m-6.5 .1h.85m-13 .2h.85m18.6 .2h.85m-9.2 .1h.85m6.5 .2h.85m-3.8 .4h.85m.8 .1h.85m-2.5 .1h.85m-1.5 .5h.85m4.1 .2h.85m-20.8 13.1h.85m0 2.2h.85m-3.4 .4h.85m-1.1 2.4h.85"/>
<path stroke="rgb(42, 222, 138)" stroke-width="0.85" d="M274.8 58.5h.85m-17.7 1.7h.85m-5.4 17.9h.85"/>
<path stroke="rgb(42, 222, 126)" stroke-width="0.85" d="M277.1 56.8h.85m-8.5 .7h.85m-1.5 .2h.85m7.2 .2h.85m1 0h.85m-12.1 .2h.85m-11.2 .1h.85m17.8 .3h.85m-22.5 .1h.85m2.8 .1h.85m-3.3 .1h.85m17.8 .3h.85m-17.4 .3h.85m21.5 0h.85m-14.4 .2h.85m11.3 0h.85m-21.3 .2h.85m17.1 .2h.85m-1 .1h.85m-1.5 .4h.85m-20.7 .3h.85m11.6 0h.85m6.6 0h.85m-20.7 .2h.85m13.2 0h.85m-3.3 1.5h.85m3.6 0h.85m-1.8 .3h.85m1 0h.85m-3.5 .3h.85m-14.8 14.5h.85m-2.5 .5h.85m-.1 0h.85m.4 .9h.85m1.2 .6h.85m-5 .2h.85m-.5 .7h.85m1.3 0h.85m-3.8 .8h.85m.1 .5h.85m1.7 0h.85m-2.4 .2h.85m-1.9 .1h.85m1 .7h.85m-.8 0h.85m-1.4 .2h.85"/>
<path stroke="rgb(42, 222, 114)" stroke-width="0.85" d="M275.8 56.4h.85m-1.8 .8h.85m.3 .1h.85m1.3 .3h.85m-23.3 .2h.85m12.6 0h.85m-15.6 .1h.85m2.6 .1h.85m-4.2 .2h.85m-.2 0h.85m-.7 0h.85m-1.6 .1h.85m14.2 .3h.85m-13.7 .1h.85m9.5 0h.85m.8 0h.85m-4.4 .3h.85m3 .1h.85m7.7 0h.85m-24 .2h.85m10.5 0h.85m8.2 0h.85m-20.5 .1h.85m-2.9 .1h.85m1.2 0h.85m.9 0h.85m9 0h.85m8.6 0h.85m-10.4 .5h.85m-11.9 .3h.85m-1.4 .3h.85m17.9 0h.85m-20.2 .3h.85m12.6 0h.85m5.5 .3h.85m-1.6 .2h.85m-4.5 .3h.85m.3 .1h.85m-.7 .1h.85m-.3 0h.85m-4.2 .1h.85m4.3 .3h.85m.6 0h.85m-4 .4h.85m-3.2 .3h.85m-15.8 14.7h.85m-.2 0h.85m.3 .6h.85m-3 .1h.85m1.5 .2h.85m-1.2 .8h.85m-2 .4h.85m1.3 .8h.85m-2 .5h.85m-1.6 .2h.85"/>
<path stroke="rgb(42, 222, 102)" stroke-width="0.85" d="M278 57.2h.85m-22.9 .4h.85m19.7 1.4h.85m-20 .5h.85m-1.5 .5h.85m16.8 1.8h.85"/>
<path stroke="rgb(54, 222, 102)" stroke-width="0.85" d="M276.2 57.3h.85m2.3 0h.85m-4.2 .3h.85m.3 0h.85m.1 .2h.85m-22.3 .2h.85m18.8 0h.85m-5.5 .1h.85m1 0h.85m2.6 .1h.85m-23 .2h.85m1.3 0h.85m11.3 0h.85m6.8 0h.85m1.3 0h.85m-4 .1h.85m-20.2 .1h.85m11.2 .2h.85m-.2 0h.85m-0 0h.85m2.8 0h.85m-19.2 .1h.85m.6 0h.85m18 0h.85m-7 .2h.85m4.6 0h.85m-18.7 .6h.85m-3.4 .3h.85m.6 .3h.85m-.4 0h.85m16 0h.85m1.3 .3h.85m-8.2 .2h.85m-1 .2h.85m-2.4 .3h.85m.7 .1h.85m3.2 .1h.85m-.7 0h.85m.5 .2h.85m-.4 0h.85m-4.3 .3h.85m1.8 .1h.85m-5.7 .6h.85m-13 16.6h.85m-4 .1h.85m.6 0h.85m1.1 0h.85m-.7 .1h.85m-.8 1.2h.85m-.5 0h.85m-4.4 .1h.85m3.1 .1h.85m-3.2 .8h.85m-.4 .5h.85m-.8 .8h.85"/>
<path stroke="rgb(54, 234, 90)" stroke-width="0.85" d="M267.7 57.8h.85m2.2 .2h.85m-15.8 .1h.85m12.3 0h.85m2.5 .1h.85m-4.4 .2h.85m4.4 .1h.85m2.9 .2h.85m-23.1 .1h.85m20.1 .1h.85m-4.2 .1h.85m1 0h.85m-.3 0h.85m-18.8 .4h.85m-2.9 .1h.85m21 0h.85m-7.5 .3h.85m-13.7 .3h.85m15 .2h.85m-3.5 .2h.85m-16.2 .1h.85m12.5 .2h.85m6.8 .1h.85m-7 .2h.85m-3.8 .3h.85m.1 0h.85m2 .2h.85m-3.9 .1h.85m0 .1h.85m-1.2 .3h.85m4.5 .1h.85m-5 .5h.85m-16.2 17.1h.85m-1.2 .1h.85m-.5 3.2h.85"/>
<path stroke="rgb(66, 234, 90)" stroke-width="0.85" d="M275.4 57.4h.85m2.5 0h.85m-5.2 .1h.85m-.2 .3h.85m1.3 0h.85m1.8 .5h.85m-4.8 .1h.85m-21.3 .1h.85m17.4 .4h.85m1.3 0h.85m-6 .8h.85m-3.6 .3h.85m6.5 .1h.85m-.7 .2h.85m-8.7 .1h.85m-.7 0h.85m6.3 .2h.85m-5.9 .3h.85m-.5 .5h.85m-17.6 16.8h.85m-.2 .5h.85m-.3 2.4h.85"/>
<path stroke="rgb(66, 234, 78)" stroke-width="0.85" d="M257.5 57.9h.85m-1.7 .1h.85m11.8 0h.85m2 .2h.85m-2.8 .6h.85m-1.7 .1h.85m-13.5 .2h.85m8 .1h.85m3.5 0h.85m-.1 0h.85m-.8 .2h.85m2.1 0h.85m-5.8 .1h.85m-0 0h.85m3 .1h.85m-6 .5h.85m8.2 0h.85m-20.2 .1h.85m-4.8 .1h.85m-.1 0h.85m14.6 0h.85m-14.6 .4h.85m11.6 0h.85m1.8 .1h.85m0 .1h.85m-19.1 .1h.85m14.2 .5h.85m-.8 0h.85m-.9 .1h.85m1.8 .2h.85m-17.8 17h.85m-.9 .8h.85m-.6 .2h.85m-2.1 .7h.85m.7 .3h.85m.4 .6h.85m-2.5 .4h.85"/>
<path stroke="rgb(66, 234, 66)" stroke-width="0.85" d="M255.5 58.3h.85m11.8 .4h.85m8.4 .5h.85m-24.6 1.2h.85m15.7 .4h.85m.3 1.2h.85m-16.8 16.1h.85m-.5 2.3h.85m-3.2 1.2h.85"/>
<path stroke="rgb(78, 234, 66)" stroke-width="0.85" d="M279.3 57.1h.85m-9.5 .8h.85m-3.5 .2h.85m4.3 0h.85m2.8 0h.85m-.8 .3h.85m-.6 0h.85m-10 .2h.85m2.3 0h.85m2.6 .2h.85m1.3 0h.85m-7.8 .3h.85m6.6 .3h.85m-3.2 .1h.85m-19.7 .4h.85m15.6 0h.85m-3.7 .1h.85m2.3 0h.85m-18.8 .2h.85m12.3 .1h.85m1.9 .1h.85m.8 .2h.85m-.7 .1h.85m-17.2 .2h.85m-1.4 .2h.85m16 0h.85m-1.8 .3h.85m-3.7 .2h.85m2.5 .3h.85m-3.2 .2h.85m-1.1 .1h.85m-16 16.1h.85m.6 .6h.85m-1.9 .5h.85m-1 .4h.85m-.5 .5h.85m.6 .2h.85m-.5 1h.85"/>
<path stroke="rgb(78, 234, 54)" stroke-width="0.85" d="M274.2 58.3h.85m-17.7 .5h.85m12.8 .1h.85m-2.2 .1h.85m-12.7 .2h.85m9.6 0h.85m6.2 .1h.85m-19.2 .1h.85m13.2 .1h.85m.5 .2h.85m-6 .3h.85m4.7 .6h.85m-4.5 .1h.85m0 .9h.85m-15.4 18.7h.85m.2 0h.85m-1.8 1h.85"/>
<path stroke="rgb(90, 234, 42)" stroke-width="0.85" d="M271.4 58.7h.85m-.4 .2h.85m2 .8h.85m-5.7 .1h.85m-.4 .1h.85m.2 1.8h.85m-3.3 .1h.85m1.4 .5h.85m-18.3 17.8h.85m1.4 .2h.85"/>
<path stroke="rgb(102, 234, 42)" stroke-width="0.85" d="M268.8 59.3h.85m1.7 0h.85m-15.7 .6h.85m15.6 0h.85m-1.8 1.4h.85m.2 .4h.85m-19.2 17.8h.85m-.7 .7h.85m-.7 .2h.85m-.7 .8h.85"/>
<path stroke="rgb(102, 234, 30)" stroke-width="0.85" d="M276.2 57.9h.85m2.1 .4h.85m-8.6 .3h.85m2.6 .7h.85m-4.8 .1h.85m.2 .5h.85m-.4 .7h.85m-4.2 .1h.85m-14 21h.85"/>
<path stroke="rgb(114, 234, 30)" stroke-width="0.85" d="M277 58.5h.85m-6.2 .4h.85m-.4 0h.85m-16.2 1.1h.85m12 .2h.85m1.3 .9h.85m-1.2 1h.85m-16.8 17.4h.85"/>
<path stroke="rgb(126, 234, 30)" stroke-width="0.85" d="M271.2 58.8h.85m3.3 .2h.85m-8 .3h.85m-.4 .7h.85m-1 .8h.85m-15.5 19.4h.85"/>
<path stroke="rgb(138, 234, 30)" stroke-width="0.85" d="M271.8 59h.85m-1.2 .6h.85m-1.7 .1h.85m-2.2 .2h.85m.3 .3h.85m-16.4 20.6h.85m-0 .2h.85"/>
<path stroke="rgb(150, 234, 18)" stroke-width="0.85" d="M268.4 59.7h.85m2.4 .6h.85"/>
<path stroke="rgb(162, 234, 18)" stroke-width="0.85" d="M272.7 62h.85"/>
<path stroke="rgb(174, 234, 18)" stroke-width="0.85" d="M270.7 60.3h.85"/>
<path stroke="rgb(198, 234, 6)" stroke-width="0.85" d="M272 59.3h.85m-2.7 1.2h.85m-16.5 19.5h.85"/>
<path stroke="rgb(210, 234, 6)" stroke-width="0.85" d="M269.3 59.9h.85m1.8 .4h.85"/>
<path stroke="rgb(222, 234, 6)" stroke-width="0.85" d="M254.4 80.3h.85"/>
<path stroke="rgb(222, 222, 6)" stroke-width="0.85" d="M269.9 59.6h.85"/>
<path stroke="rgb(222, 210, 6)" stroke-width="0.85" d="M269.6 60.7h.85"/>
</g>
<rect x="26.2" y="34.2" width="63.39999999999999" height="63.0" fill="none" stroke="#aaa" stroke-width="0.8"/>
<path d="M26.2 41.8h1.3M26.2 50.6h1.3M26.2 59.4h1.3M26.2 68.9h1.3M26.2 78.3h1.3M26.2 84.6h1.3M26.2 89.6h1.3M26.2 93.4h1.3M32.5 97.2v-1.3M38.9 97.2v-1.3M48.4 97.2v-1.3M57.9 97.2v-1.3M67.4 97.2v-1.3M76.9 97.2v-1.3M84.5 97.2v-1.3" stroke="#555" stroke-width="0.8"/>
<rect x="91.6" y="34.2" width="62.599999999999994" height="63.0" fill="none" stroke="#aaa" stroke-width="0.8"/>
<path d="M91.6 41.8h1.3M91.6 50.6h1.3M91.6 59.4h1.3M91.6 68.9h1.3M91.6 78.3h1.3M91.6 84.6h1.3M91.6 89.6h1.3M91.6 93.4h1.3M97.9 97.2v-1.3M104.1 97.2v-1.3M113.5 97.2v-1.3M122.9 97.2v-1.3M132.3 97.2v-1.3M141.7 97.2v-1.3M149.2 97.2v-1.3" stroke="#555" stroke-width="0.8"/>
<rect x="180.7" y="34.2" width="62.60000000000002" height="62.39999999999999" fill="none" stroke="#aaa" stroke-width="0.8"/>
<path d="M180.7 41.7h1.3M180.7 50.4h1.3M180.7 59.2h1.3M180.7 68.5h1.3M180.7 77.9h1.3M180.7 84.1h1.3M180.7 89.1h1.3M180.7 92.9h1.3M187.0 96.6v-1.3M193.2 96.6v-1.3M202.6 96.6v-1.3M212.0 96.6v-1.3M221.4 96.6v-1.3M230.8 96.6v-1.3M238.3 96.6v-1.3" stroke="#555" stroke-width="0.8"/>
<rect x="245.3" y="34.2" width="62.30000000000001" height="62.39999999999999" fill="none" stroke="#aaa" stroke-width="0.8"/>
<path d="M245.3 41.7h1.3M245.3 50.4h1.3M245.3 59.2h1.3M245.3 68.5h1.3M245.3 77.9h1.3M245.3 84.1h1.3M245.3 89.1h1.3M245.3 92.9h1.3M251.5 96.6v-1.3M257.8 96.6v-1.3M267.1 96.6v-1.3M276.5 96.6v-1.3M285.8 96.6v-1.3M295.1 96.6v-1.3M302.6 96.6v-1.3" stroke="#555" stroke-width="0.8"/>
<line x1="196.5" y1="34.2" x2="196.5" y2="96.6" stroke="#555" stroke-width="0.7"/>
<line x1="180.7" y1="65.5" x2="243.3" y2="65.5" stroke="#555" stroke-width="0.7"/>
<line x1="261.5" y1="34.2" x2="261.5" y2="96.6" stroke="#555" stroke-width="0.7"/>
<line x1="245.3" y1="65.5" x2="307.6" y2="65.5" stroke="#555" stroke-width="0.7"/>
<rect x="28.2" y="51.1" width="14.3" height="18.2" fill="none" stroke="#111" stroke-width="1.2"/>
<rect x="48.5" y="52.3" width="35.1" height="11" fill="none" stroke="#111" stroke-width="1.2"/>
<rect x="93" y="51.1" width="14.7" height="18.2" fill="none" stroke="#111" stroke-width="1.2"/>
<rect x="114.2" y="52.3" width="34.3" height="11" fill="none" stroke="#111" stroke-width="1.2"/>
<text x="33.6" y="43.5" font-size="10.1" text-anchor="start" fill="#1a1a1a" textLength="45.5" lengthAdjust="spacingAndGlyphs">Control LK</text>
<text x="106.3" y="43.8" font-size="10.1" fill="#1a1a1a" textLength="42.5" lengthAdjust="spacingAndGlyphs"><tspan font-style="italic">Lsd1</tspan> CKO</text>
<text x="218.4" y="45.8" font-size="10.3" text-anchor="start" fill="#1a1a1a" textLength="20.8" lengthAdjust="spacingAndGlyphs">GMP</text>
<text x="219" y="93.5" font-size="10.3" text-anchor="start" fill="#1a1a1a" textLength="20.7" lengthAdjust="spacingAndGlyphs">CMP</text>
<text x="182.8" y="93.5" font-size="10.3" text-anchor="start" fill="#1a1a1a" textLength="19.2" lengthAdjust="spacingAndGlyphs">MEP</text>
<text x="257.6" y="55.3" font-size="10.3" text-anchor="start" fill="#1a1a1a" textLength="18.8" lengthAdjust="spacingAndGlyphs" transform="rotate(-90 257.6 55.3)">New</text>
<path d="M29.4 50V25.4H212.3V29" fill="none" stroke="#111" stroke-width="1.1"/>
<path d="M212.3 33.4L210.3 27.9L214.3 27.9Z" fill="#111"/>
<path d="M102.2 50V21.1H273.2V29" fill="none" stroke="#111" stroke-width="1.1"/>
<path d="M273.2 33.4L271.2 27.9L275.2 27.9Z" fill="#111"/>
<line x1="66.8" y1="46.3" x2="48.08715082550651" y2="50.47625818486549" stroke="#111" stroke-width="1.2"/>
<path d="M43.50 51.50L48.16 48.51L48.99 52.22Z" fill="#111"/>
<line x1="81.5" y1="46.3" x2="90.7953017277635" y2="49.76029480376597" stroke="#111" stroke-width="1.2"/>
<path d="M95.20 51.40L89.66 51.37L90.99 47.81Z" fill="#111"/>
<line x1="18.5" y1="45" x2="18.5" y2="103.9" stroke="#111" stroke-width="1.4"/>
<path d="M18.5 34.7L15.25 45.5L21.75 45.5Z" fill="#111"/>
<line x1="17.8" y1="103.2" x2="145" y2="103.2" stroke="#111" stroke-width="1.4"/>
<path d="M155.5 103.2L144.7 99.95L144.7 106.45Z" fill="#111"/>
<line x1="173" y1="45" x2="173" y2="103.9" stroke="#111" stroke-width="1.4"/>
<path d="M173 34.7L169.75 45.5L176.25 45.5Z" fill="#111"/>
<line x1="172.3" y1="103.2" x2="297" y2="103.2" stroke="#111" stroke-width="1.4"/>
<path d="M307.5 103.2L296.7 99.95L296.7 106.45Z" fill="#111"/>
<text x="14.6" y="68.2" font-size="10.3" text-anchor="middle" fill="#1a1a1a" textLength="18.9" lengthAdjust="spacingAndGlyphs" transform="rotate(-90 14.6 68.2)">c-Kit</text>
<text x="88.6" y="115.1" font-size="10.6" text-anchor="middle" fill="#1a1a1a" textLength="18.8" lengthAdjust="spacingAndGlyphs">Sca1</text>
<text x="168.8" y="68.8" font-size="10.1" text-anchor="middle" fill="#1a1a1a" textLength="37.9" lengthAdjust="spacingAndGlyphs" transform="rotate(-90 168.8 68.8)">CD16/32</text>
<text x="239.9" y="114.4" font-size="10.5" text-anchor="middle" fill="#1a1a1a" textLength="23.7" lengthAdjust="spacingAndGlyphs">CD34</text>
<text x="340.2" y="14.8" font-size="10.8" text-anchor="start" font-weight="bold" fill="#000" textLength="7.4" lengthAdjust="spacingAndGlyphs">B</text>
<line x1="386" y1="91.5" x2="389.4" y2="91.5" stroke="#111" stroke-width="0.9"/>
<text x="382.2" y="93.5" font-size="8.2" text-anchor="end" fill="#333" style="stroke:none">0</text>
<line x1="386" y1="74.625" x2="389.4" y2="74.625" stroke="#111" stroke-width="0.9"/>
<text x="382.2" y="76.625" font-size="8.2" text-anchor="end" fill="#333" textLength="12.8" lengthAdjust="spacingAndGlyphs" style="stroke:none">200</text>
<line x1="386" y1="57.75" x2="389.4" y2="57.75" stroke="#111" stroke-width="0.9"/>
<text x="382.2" y="59.75" font-size="8.2" text-anchor="end" fill="#333" textLength="12.8" lengthAdjust="spacingAndGlyphs" style="stroke:none">400</text>
<line x1="386" y1="40.875" x2="389.4" y2="40.875" stroke="#111" stroke-width="0.9"/>
<text x="382.2" y="42.875" font-size="8.2" text-anchor="end" fill="#333" textLength="12.8" lengthAdjust="spacingAndGlyphs" style="stroke:none">600</text>
<line x1="386" y1="24.0" x2="389.4" y2="24.0" stroke="#111" stroke-width="0.9"/>
<text x="382.2" y="26.0" font-size="8.2" text-anchor="end" fill="#333" textLength="12.8" lengthAdjust="spacingAndGlyphs" style="stroke:none">800</text>
<line x1="389.4" y1="23.6" x2="389.4" y2="92" stroke="#111" stroke-width="1"/>
<line x1="389" y1="91.6" x2="513" y2="91.6" stroke="#111" stroke-width="1.2"/>
<line x1="389.4" y1="91.6" x2="389.4" y2="94.7" stroke="#111" stroke-width="1"/>
<line x1="420" y1="91.6" x2="420" y2="94.7" stroke="#111" stroke-width="1"/>
<line x1="451" y1="91.6" x2="451" y2="94.7" stroke="#111" stroke-width="1"/>
<line x1="482" y1="91.6" x2="482" y2="94.7" stroke="#111" stroke-width="1"/>
<line x1="512.5" y1="91.6" x2="512.5" y2="94.7" stroke="#111" stroke-width="1"/>
<rect x="395.8" y="78.0" width="8.399999999999977" height="13.5" fill="#cc0a1e"/>
<rect x="404.2" y="78.0" width="9.100000000000023" height="13.5" fill="#0a36b8"/>
<rect x="427.1" y="83.0625" width="8.899999999999977" height="8.4375" fill="#cc0a1e"/>
<rect x="436" y="80.7" width="8.600000000000023" height="10.799999999999997" fill="#0a36b8"/>
<rect x="457.5" y="75.46875" width="8.5" height="16.03125" fill="#cc0a1e"/>
<rect x="466" y="74.034375" width="9" height="17.465625000000003" fill="#0a36b8"/>
<rect x="488.5" y="80.53125" width="9.0" height="10.96875" fill="#cc0a1e"/>
<rect x="497.5" y="47.203125" width="8.5" height="44.296875" fill="#0a36b8"/>
<line x1="400.0" y1="77.83125" x2="400.0" y2="78.084375" stroke="#111" stroke-width="0.9"/>
<line x1="398.4" y1="77.83125" x2="401.6" y2="77.83125" stroke="#111" stroke-width="0.9"/>
<line x1="398.4" y1="78.084375" x2="401.6" y2="78.084375" stroke="#111" stroke-width="0.9"/>
<line x1="408.75" y1="75.721875" x2="408.75" y2="79.096875" stroke="#111" stroke-width="0.9"/>
<line x1="407.15" y1="75.721875" x2="410.35" y2="75.721875" stroke="#111" stroke-width="0.9"/>
<line x1="407.15" y1="79.096875" x2="410.35" y2="79.096875" stroke="#111" stroke-width="0.9"/>
<line x1="431.55" y1="81.796875" x2="431.55" y2="84.834375" stroke="#111" stroke-width="0.9"/>
<line x1="429.95" y1="81.796875" x2="433.15000000000003" y2="81.796875" stroke="#111" stroke-width="0.9"/>
<line x1="429.95" y1="84.834375" x2="433.15000000000003" y2="84.834375" stroke="#111" stroke-width="0.9"/>
<line x1="440.3" y1="77.6625" x2="440.3" y2="84.24375" stroke="#111" stroke-width="0.9"/>
<line x1="438.7" y1="77.6625" x2="441.90000000000003" y2="77.6625" stroke="#111" stroke-width="0.9"/>
<line x1="438.7" y1="84.24375" x2="441.90000000000003" y2="84.24375" stroke="#111" stroke-width="0.9"/>
<line x1="461.75" y1="71.925" x2="461.75" y2="79.0125" stroke="#111" stroke-width="0.9"/>
<line x1="460.15" y1="71.925" x2="463.35" y2="71.925" stroke="#111" stroke-width="0.9"/>
<line x1="460.15" y1="79.0125" x2="463.35" y2="79.0125" stroke="#111" stroke-width="0.9"/>
<line x1="470.5" y1="69.140625" x2="470.5" y2="79.6875" stroke="#111" stroke-width="0.9"/>
<line x1="468.9" y1="69.140625" x2="472.1" y2="69.140625" stroke="#111" stroke-width="0.9"/>
<line x1="468.9" y1="79.6875" x2="472.1" y2="79.6875" stroke="#111" stroke-width="0.9"/>
<line x1="493.0" y1="79.51875" x2="493.0" y2="81.54375" stroke="#111" stroke-width="0.9"/>
<line x1="491.4" y1="79.51875" x2="494.6" y2="79.51875" stroke="#111" stroke-width="0.9"/>
<line x1="491.4" y1="81.54375" x2="494.6" y2="81.54375" stroke="#111" stroke-width="0.9"/>
<line x1="501.75" y1="38.175" x2="501.75" y2="56.231249999999996" stroke="#111" stroke-width="0.9"/>
<line x1="500.15" y1="38.175" x2="503.35" y2="38.175" stroke="#111" stroke-width="0.9"/>
<line x1="500.15" y1="56.231249999999996" x2="503.35" y2="56.231249999999996" stroke="#111" stroke-width="0.9"/>
<text x="404.5" y="104.1" font-size="8.1" text-anchor="middle" fill="#222" textLength="14.2" lengthAdjust="spacingAndGlyphs">LSK</text>
<text x="435.8" y="104.1" font-size="8.1" text-anchor="middle" fill="#222" textLength="16.2" lengthAdjust="spacingAndGlyphs">CMP</text>
<text x="466.3" y="104.1" font-size="8.1" text-anchor="middle" fill="#222" textLength="16.2" lengthAdjust="spacingAndGlyphs">MEP</text>
<text x="497.5" y="104.1" font-size="8.1" text-anchor="middle" fill="#222" textLength="16.2" lengthAdjust="spacingAndGlyphs">GMP</text>
<rect x="402.1" y="30.4" width="6.7" height="5.4" fill="#cc0a1e"/>
<text x="411.5" y="36.2" font-size="10.1" text-anchor="start" fill="#222" textLength="31.3" lengthAdjust="spacingAndGlyphs">Control</text>
<rect x="402.1" y="46.3" width="6.7" height="5.4" fill="#0a36b8"/>
<text x="411.6" y="51.6" font-size="9.8" fill="#222" textLength="42" lengthAdjust="spacingAndGlyphs"><tspan font-style="italic">Lsd1</tspan> CKO</text>
<path d="M485.05 43.50L485.58 44.77L486.95 44.88L485.91 45.78L486.23 47.12L485.05 46.40L483.87 47.12L484.19 45.78L483.15 44.88L484.52 44.77Z" fill="#000"/>
<path d="M489.35 43.50L489.88 44.77L491.25 44.88L490.21 45.78L490.53 47.12L489.35 46.40L488.17 47.12L488.49 45.78L487.45 44.88L488.82 44.77Z" fill="#000"/>
<text x="351" y="58.8" font-size="8.7" fill="#222" text-anchor="middle" transform="rotate(-90 351 58.8)" textLength="38.4" lengthAdjust="spacingAndGlyphs">Cell # x 10<tspan font-size="5.5" dy="-3.2">3</tspan><tspan dy="3.2">/</tspan></text>
<text x="362.2" y="57.7" font-size="8.4" text-anchor="middle" fill="#222" textLength="48.9" lengthAdjust="spacingAndGlyphs" transform="rotate(-90 362.2 57.7)">femurs + tibias</text>
<text x="6.1" y="139.5" font-size="11" text-anchor="start" font-weight="bold" fill="#000" textLength="7.9" lengthAdjust="spacingAndGlyphs">C</text>
<text x="56.45" y="163" font-size="9.9" text-anchor="middle" fill="#222" textLength="15.9" lengthAdjust="spacingAndGlyphs">LSK</text>
<text x="113.35" y="163" font-size="9.9" text-anchor="middle" fill="#222" textLength="19.7" lengthAdjust="spacingAndGlyphs">MEP</text>
<text x="171.15" y="163" font-size="9.9" text-anchor="middle" fill="#222" textLength="21.3" lengthAdjust="spacingAndGlyphs">GMP</text>
<text x="225.65" y="163" font-size="9.9" text-anchor="middle" fill="#222" textLength="19.1" lengthAdjust="spacingAndGlyphs">New</text>
<line x1="24.2" y1="178" x2="24.2" y2="238" stroke="#111" stroke-width="1.7"/>
<path d="M24.2 168.3L21.099999999999998 178.8L27.3 178.8Z" fill="#111"/>
<line x1="23.4" y1="237.3" x2="246" y2="237.3" stroke="#111" stroke-width="1.5"/>
<path d="M255.5 237.3L245.0 234.20000000000002L245.0 240.4Z" fill="#111"/>
<text x="19.2" y="202.8" font-size="9.9" text-anchor="middle" fill="#222" textLength="27.5" lengthAdjust="spacingAndGlyphs" transform="rotate(-90 19.2 202.8)">% max</text>
<text x="140" y="248.2" font-size="10.1" text-anchor="middle" fill="#222" textLength="40.8" lengthAdjust="spacingAndGlyphs">TdTomato</text>
<path d="M31.50 222.3L31.50 222.30 31.75 222.30 32.00 222.30 32.25 222.30 32.50 222.30 32.75 222.30 33.00 222.30 33.25 222.30 33.50 222.30 33.75 222.30 34.00 222.30 34.25 222.30 34.50 222.30 34.75 222.30 35.00 222.30 35.25 222.30 35.50 222.30 35.75 222.30 36.00 222.30 36.25 222.30 36.50 222.30 36.75 222.30 37.00 222.30 37.25 222.30 37.50 222.30 37.75 222.30 38.00 222.30 38.25 222.30 38.50 222.30 38.75 222.30 39.00 222.30 39.25 222.30 39.50 222.30 39.75 222.30 40.00 222.30 40.25 222.30 40.50 222.30 40.75 222.30 41.00 222.30 41.25 222.30 41.50 222.29 41.75 222.29 42.00 222.29 42.25 222.29 42.50 222.29 42.75 222.29 43.00 222.29 43.25 222.28 43.50 222.28 43.75 222.28 44.00 222.28 44.25 222.27 44.50 222.27 44.75 222.26 45.00 222.26 45.25 222.25 45.50 222.25 45.75 222.24 46.00 222.23 46.25 222.22 46.50 222.21 46.75 222.20 47.00 222.19 47.25 222.18 47.50 222.17 47.75 222.15 48.00 222.14 48.25 222.12 48.50 222.10 48.75 222.08 49.00 222.06 49.25 222.04 49.50 222.02 49.75 221.99 50.00 221.97 50.25 221.94 50.50 221.91 50.75 221.88 51.00 221.85 51.25 221.82 51.50 221.78 51.75 221.75 52.00 221.72 52.25 221.68 52.50 221.64 52.75 221.61 53.00 221.57 53.25 221.54 53.50 221.50 53.75 221.46 54.00 221.43 54.25 221.39 54.50 221.36 54.75 221.33 55.00 221.30 55.25 221.27 55.50 221.24 55.75 221.22 56.00 221.19 56.25 221.17 56.50 221.15 56.75 221.14 57.00 221.12 57.25 221.11 57.50 221.11 57.75 221.10 58.00 221.10 58.25 221.10 58.50 221.11 58.75 221.11 59.00 221.12 59.25 221.14 59.50 221.15 59.75 221.17 60.00 221.19 60.25 221.22 60.50 221.24 60.75 221.27 61.00 221.30 61.25 221.33 61.50 221.36 61.75 221.39 62.00 221.43 62.25 221.46 62.50 221.50 62.75 221.54 63.00 221.57 63.25 221.61 63.50 221.64 63.75 221.68 64.00 221.72 64.25 221.75 64.50 221.78 64.75 221.82 65.00 221.85 65.25 221.88 65.50 221.91 65.75 221.94 66.00 221.97 66.25 221.99 66.50 222.02 66.75 222.04 67.00 222.06 67.25 222.08 67.50 222.10 67.75 222.12 68.00 222.14 68.25 222.15 68.50 222.17 68.75 222.18 69.00 222.19 69.25 222.20 69.50 222.21 69.75 222.22 70.00 222.23 70.25 222.24 70.50 222.25 70.75 222.25 71.00 222.26 71.25 222.26 71.50 222.27 71.75 222.27 72.00 222.28 72.25 222.28 72.50 222.28 72.75 222.28 73.00 222.29 73.25 222.29 73.50 222.29 73.75 222.29 74.00 222.29 74.25 222.29 74.50 222.29 74.75 222.30 75.00 222.30 75.25 222.30 75.50 222.30 75.75 222.30 76.00 222.30 76.25 222.30 76.50 222.30 76.75 222.30 77.00 222.30 77.25 222.30 77.50 222.30 77.75 222.30 78.00 222.30 78.25 222.30 78.50 222.30 78.75 222.30 79.00 222.30 79.25 222.30 79.50 222.30 79.75 222.30 80.00 222.30 80.25 222.30 80.50 222.30 80.75 222.30 81.00 222.30 81.25 222.30 81.50 222.30 81.75 222.30 82.00 222.30 82.25 222.30 82.50 222.30 82.75 222.30 83.00 222.30 83.25 222.30 83.50 222.30 83.75 222.30 84.00 222.30L84.00 222.3Z" fill="#e65aa6" stroke="#e0184a" stroke-width="0.8" stroke-linejoin="round"/>
<path d="M31.50 222.3L31.50 222.30 31.75 222.29 32.00 222.29 32.25 222.28 32.50 222.26 32.75 222.23 33.00 222.18 33.25 222.10 33.50 221.97 33.75 221.78 34.00 221.49 34.25 221.06 34.50 220.46 34.75 219.62 35.00 218.50 35.25 217.02 35.50 215.13 35.75 212.79 36.00 209.98 36.25 206.69 36.50 202.98 36.75 198.92 37.00 194.66 37.25 190.36 37.50 186.22 37.75 182.48 38.00 179.34 38.25 177.02 38.50 175.64 38.75 175.32 39.00 176.07 39.25 177.84 39.50 180.51 39.75 183.91 40.00 187.84 40.25 192.07 40.50 196.38 40.75 200.58 41.00 204.51 41.25 208.06 41.50 211.16 41.75 213.79 42.00 215.94 42.25 217.66 42.50 218.99 42.75 219.99 43.00 220.72 43.25 221.25 43.50 221.62 43.75 221.87 44.00 222.03 44.25 222.14 44.50 222.20 44.75 222.24 45.00 222.27 45.25 222.28 45.50 222.29 45.75 222.29 46.00 222.30 46.25 222.30 46.50 222.30 46.75 222.30 47.00 222.30 47.25 222.30 47.50 222.30 47.75 222.30 48.00 222.30 48.25 222.30 48.50 222.30 48.75 222.30 49.00 222.30 49.25 222.30 49.50 222.30 49.75 222.30 50.00 222.30 50.25 222.30 50.50 222.30 50.75 222.30 51.00 222.30 51.25 222.30 51.50 222.30 51.75 222.30 52.00 222.30 52.25 222.30 52.50 222.30 52.75 222.30 53.00 222.30 53.25 222.30 53.50 222.30 53.75 222.30 54.00 222.30 54.25 222.30 54.50 222.30 54.75 222.30 55.00 222.30 55.25 222.30 55.50 222.30 55.75 222.30 56.00 222.30 56.25 222.30 56.50 222.30 56.75 222.30 57.00 222.30 57.25 222.30 57.50 222.30 57.75 222.30 58.00 222.30 58.25 222.30 58.50 222.30 58.75 222.30 59.00 222.30 59.25 222.30 59.50 222.30 59.75 222.30 60.00 222.30L60.00 222.3Z" fill="#8d98d6" stroke="#2c3cbc" stroke-width="0.9" stroke-linejoin="round"/>
<line x1="38.7" y1="175.5" x2="38.7" y2="176" stroke="#3f8fd6" stroke-width="0.9"/>
<path d="M88.00 222.3L88.00 222.30 88.25 222.30 88.50 222.30 88.75 222.30 89.00 222.30 89.25 222.30 89.50 222.30 89.75 222.30 90.00 222.30 90.25 222.29 90.50 222.29 90.75 222.28 91.00 222.26 91.25 222.24 91.50 222.20 91.75 222.16 92.00 222.09 92.25 222.01 92.50 221.90 92.75 221.77 93.00 221.62 93.25 221.44 93.50 221.25 93.75 221.05 94.00 220.85 94.25 220.66 94.50 220.51 94.75 220.39 95.00 220.32 95.25 220.30 95.50 220.34 95.75 220.43 96.00 220.57 96.25 220.73 96.50 220.93 96.75 221.13 97.00 221.33 97.25 221.51 97.50 221.68 97.75 221.83 98.00 221.95 98.25 222.05 98.50 222.12 98.75 222.18 99.00 222.22 99.25 222.25 99.50 222.27 99.75 222.28 100.00 222.29 100.25 222.29 100.50 222.30 100.75 222.30 101.00 222.30 101.25 222.30 101.50 222.30 101.75 222.30 102.00 222.30 102.25 222.30 102.50 222.30 102.75 222.30 103.00 222.30 103.25 222.30 103.50 222.30 103.75 222.30 104.00 222.30 104.25 222.30 104.50 222.30 104.75 222.30 105.00 222.30 105.25 222.30 105.50 222.30 105.75 222.30 106.00 222.30 106.25 222.30 106.50 222.30 106.75 222.30 107.00 222.30 107.25 222.30 107.50 222.30 107.75 222.30 108.00 222.30 108.25 222.30 108.50 222.30 108.75 222.30 109.00 222.30 109.25 222.30 109.50 222.30 109.75 222.30 110.00 222.30 110.25 222.30 110.50 222.30 110.75 222.30 111.00 222.30 111.25 222.30 111.50 222.30 111.75 222.30 112.00 222.30 112.25 222.30 112.50 222.30 112.75 222.30 113.00 222.30 113.25 222.30 113.50 222.30 113.75 222.30 114.00 222.30 114.25 222.30 114.50 222.30 114.75 222.30 115.00 222.30 115.25 222.30 115.50 222.30 115.75 222.30 116.00 222.30 116.25 222.30 116.50 222.30 116.75 222.30 117.00 222.30 117.25 222.30 117.50 222.30 117.75 222.30 118.00 222.30 118.25 222.30 118.50 222.30 118.75 222.30 119.00 222.30 119.25 222.30 119.50 222.30 119.75 222.30 120.00 222.30 120.25 222.30 120.50 222.30 120.75 222.30 121.00 222.30 121.25 222.30 121.50 222.30 121.75 222.30 122.00 222.30 122.25 222.30 122.50 222.30 122.75 222.30 123.00 222.30 123.25 222.30 123.50 222.30 123.75 222.30 124.00 222.30 124.25 222.30 124.50 222.30 124.75 222.30 125.00 222.30 125.25 222.30 125.50 222.30 125.75 222.30 126.00 222.30 126.25 222.30 126.50 222.30 126.75 222.30 127.00 222.30 127.25 222.30 127.50 222.30 127.75 222.30 128.00 222.30 128.25 222.30 128.50 222.30 128.75 222.30 129.00 222.30 129.25 222.30 129.50 222.30 129.75 222.30 130.00 222.30 130.25 222.30 130.50 222.30 130.75 222.30 131.00 222.30 131.25 222.30 131.50 222.30 131.75 222.30 132.00 222.30 132.25 222.30 132.50 222.30 132.75 222.30 133.00 222.30 133.25 222.30 133.50 222.30 133.75 222.30 134.00 222.30 134.25 222.30 134.50 222.30 134.75 222.30 135.00 222.30 135.25 222.30 135.50 222.30 135.75 222.30 136.00 222.30 136.25 222.30 136.50 222.30 136.75 222.30 137.00 222.30 137.25 222.30 137.50 222.30 137.75 222.30 138.00 222.30 138.25 222.30 138.50 222.30 138.75 222.30 139.00 222.30 139.25 222.30 139.50 222.30 139.75 222.30 140.00 222.30 140.25 222.30 140.50 222.30 140.75 222.30 141.00 222.30L141.00 222.3Z" fill="#a9d9ea" stroke="#3f8fd6" stroke-width="0.8" stroke-linejoin="round"/>
<path d="M100.00 222.3L100.00 222.30 100.25 222.30 100.50 222.30 100.75 222.30 101.00 222.30 101.25 222.30 101.50 222.30 101.75 222.30 102.00 222.30 102.25 222.30 102.50 222.30 102.75 222.30 103.00 222.30 103.25 222.30 103.50 222.30 103.75 222.30 104.00 222.30 104.25 222.30 104.50 222.30 104.75 222.30 105.00 222.30 105.25 222.30 105.50 222.30 105.75 222.30 106.00 222.30 106.25 222.30 106.50 222.30 106.75 222.30 107.00 222.30 107.25 222.30 107.50 222.29 107.75 222.29 108.00 222.28 108.25 222.27 108.50 222.26 108.75 222.23 109.00 222.19 109.25 222.13 109.50 222.04 109.75 221.92 110.00 221.74 110.25 221.49 110.50 221.14 110.75 220.68 111.00 220.07 111.25 219.27 111.50 218.26 111.75 216.99 112.00 215.42 112.25 213.54 112.50 211.31 112.75 208.73 113.00 205.81 113.25 202.56 113.50 199.04 113.75 195.32 114.00 191.49 114.25 187.66 114.50 183.95 114.75 180.51 115.00 177.47 115.25 174.95 115.50 173.06 115.75 171.90 116.00 171.50 116.25 171.90 116.50 173.06 116.75 174.95 117.00 177.47 117.25 180.51 117.50 183.95 117.75 187.66 118.00 191.49 118.25 195.32 118.50 199.04 118.75 202.56 119.00 205.81 119.25 208.73 119.50 211.31 119.75 213.54 120.00 215.42 120.25 216.99 120.50 218.26 120.75 219.27 121.00 220.07 121.25 220.68 121.50 221.14 121.75 221.49 122.00 221.74 122.25 221.92 122.50 222.04 122.75 222.13 123.00 222.19 123.25 222.23 123.50 222.26 123.75 222.27 124.00 222.28 124.25 222.29 124.50 222.29 124.75 222.30 125.00 222.30 125.25 222.30 125.50 222.30 125.75 222.30 126.00 222.30 126.25 222.30 126.50 222.30 126.75 222.30 127.00 222.30 127.25 222.30 127.50 222.30 127.75 222.30 128.00 222.30 128.25 222.30 128.50 222.30 128.75 222.30 129.00 222.30 129.25 222.30 129.50 222.30 129.75 222.30 130.00 222.30 130.25 222.30 130.50 222.30 130.75 222.30 131.00 222.30 131.25 222.30 131.50 222.30 131.75 222.30 132.00 222.30 132.25 222.30 132.50 222.30 132.75 222.30 133.00 222.30 133.25 222.30 133.50 222.30 133.75 222.30 134.00 222.30 134.25 222.30 134.50 222.30 134.75 222.30 135.00 222.30L135.00 222.3Z" fill="#e65aa6" stroke="#e0184a" stroke-width="0.9" stroke-linejoin="round"/>
<path d="M100.00 222.3L100.00 222.30 100.25 222.30 100.50 222.30 100.75 222.30 101.00 222.30 101.25 222.30 101.50 222.30 101.75 222.30 102.00 222.30 102.25 222.30 102.50 222.30 102.75 222.30 103.00 222.30 103.25 222.30 103.50 222.30 103.75 222.30 104.00 222.30 104.25 222.30 104.50 222.30 104.75 222.30 105.00 222.30 105.25 222.30 105.50 222.30 105.75 222.30 106.00 222.30 106.25 222.30 106.50 222.30 106.75 222.30 107.00 222.30 107.25 222.30 107.50 222.30 107.75 222.30 108.00 222.30 108.25 222.30 108.50 222.30 108.75 222.30 109.00 222.30 109.25 222.30 109.50 222.29 109.75 222.29 110.00 222.28 110.25 222.26 110.50 222.23 110.75 222.19 111.00 222.13 111.25 222.04 111.50 221.91 111.75 221.71 112.00 221.44 112.25 221.06 112.50 220.55 112.75 219.86 113.00 218.96 113.25 217.81 113.50 216.36 113.75 214.59 114.00 212.46 114.25 209.95 114.50 207.08 114.75 203.85 115.00 200.32 115.25 196.57 115.50 192.70 115.75 188.83 116.00 185.10 116.25 181.67 116.50 178.68 116.75 176.27 117.00 174.57 117.25 173.65 117.50 173.57 117.75 174.32 118.00 175.87 118.25 178.15 118.50 181.03 118.75 184.39 119.00 188.07 119.25 191.92 119.50 195.81 119.75 199.59 120.00 203.17 120.25 206.46 120.50 209.41 120.75 211.99 121.00 214.19 121.25 216.04 121.50 217.54 121.75 218.75 122.00 219.70 122.25 220.42 122.50 220.97 122.75 221.37 123.00 221.67 123.25 221.87 123.50 222.02 123.75 222.12 124.00 222.18 124.25 222.23 124.50 222.25 124.75 222.27 125.00 222.28 125.25 222.29 125.50 222.29 125.75 222.30 126.00 222.30 126.25 222.30 126.50 222.30 126.75 222.30 127.00 222.30 127.25 222.30 127.50 222.30 127.75 222.30 128.00 222.30 128.25 222.30 128.50 222.30 128.75 222.30 129.00 222.30 129.25 222.30 129.50 222.30 129.75 222.30 130.00 222.30 130.25 222.30 130.50 222.30 130.75 222.30 131.00 222.30 131.25 222.30 131.50 222.30 131.75 222.30 132.00 222.30 132.25 222.30 132.50 222.30 132.75 222.30 133.00 222.30 133.25 222.30 133.50 222.30 133.75 222.30 134.00 222.30 134.25 222.30 134.50 222.30 134.75 222.30 135.00 222.30L135.00 222.3Z" fill="#8d98d6" stroke="#3f8fd6" stroke-width="0.9" fill-opacity="0.9" stroke-linejoin="round"/>
<path d="M144.00 222.3L144.00 222.30 144.25 222.30 144.50 222.30 144.75 222.30 145.00 222.30 145.25 222.30 145.50 222.30 145.75 222.29 146.00 222.29 146.25 222.28 146.50 222.26 146.75 222.22 147.00 222.17 147.25 222.07 147.50 221.93 147.75 221.70 148.00 221.35 148.25 220.85 148.50 220.13 148.75 219.13 149.00 217.79 149.25 216.02 149.50 213.78 149.75 211.02 150.00 207.73 150.25 203.92 150.50 199.68 150.75 195.14 151.00 190.47 151.25 185.89 151.50 181.66 151.75 178.04 152.00 175.25 152.25 173.50 152.50 172.90 152.75 173.50 153.00 175.25 153.25 178.04 153.50 181.66 153.75 185.89 154.00 190.47 154.25 195.14 154.50 199.68 154.75 203.92 155.00 207.73 155.25 211.02 155.50 213.78 155.75 216.02 156.00 217.79 156.25 219.13 156.50 220.13 156.75 220.85 157.00 221.35 157.25 221.70 157.50 221.93 157.75 222.07 158.00 222.17 158.25 222.22 158.50 222.26 158.75 222.28 159.00 222.29 159.25 222.29 159.50 222.30 159.75 222.30 160.00 222.30 160.25 222.30 160.50 222.30 160.75 222.30 161.00 222.30 161.25 222.30 161.50 222.30 161.75 222.30 162.00 222.30 162.25 222.30 162.50 222.30 162.75 222.30 163.00 222.30 163.25 222.30 163.50 222.30 163.75 222.30 164.00 222.30 164.25 222.30 164.50 222.30 164.75 222.30 165.00 222.30 165.25 222.30 165.50 222.30 165.75 222.30 166.00 222.30 166.25 222.30 166.50 222.30 166.75 222.30 167.00 222.30 167.25 222.30 167.50 222.30 167.75 222.30 168.00 222.30L168.00 222.3Z" fill="#8d98d6" stroke="#2c3cbc" stroke-width="0.9" stroke-linejoin="round"/>
<path d="M158.00 222.3L158.00 222.30 158.25 222.30 158.50 222.30 158.75 222.30 159.00 222.30 159.25 222.30 159.50 222.30 159.75 222.30 160.00 222.30 160.25 222.30 160.50 222.30 160.75 222.30 161.00 222.30 161.25 222.30 161.50 222.30 161.75 222.30 162.00 222.30 162.25 222.30 162.50 222.30 162.75 222.30 163.00 222.30 163.25 222.30 163.50 222.30 163.75 222.30 164.00 222.30 164.25 222.30 164.50 222.30 164.75 222.29 165.00 222.29 165.25 222.28 165.50 222.27 165.75 222.25 166.00 222.21 166.25 222.16 166.50 222.08 166.75 221.97 167.00 221.79 167.25 221.54 167.50 221.19 167.75 220.70 168.00 220.05 168.25 219.17 168.50 218.04 168.75 216.61 169.00 214.83 169.25 212.67 169.50 210.12 169.75 207.16 170.00 203.83 170.25 200.16 170.50 196.26 170.75 192.22 171.00 188.18 171.25 184.29 171.50 180.74 171.75 177.67 172.00 175.24 172.25 173.58 172.50 172.77 172.75 172.86 173.00 173.85 173.25 175.67 173.50 178.24 173.75 181.41 174.00 185.05 174.25 188.98 174.50 193.03 174.75 197.05 175.00 200.92 175.25 204.52 175.50 207.78 175.75 210.66 176.00 213.14 176.25 215.22 176.50 216.92 176.75 218.29 177.00 219.37 177.25 220.19 177.50 220.81 177.75 221.27 178.00 221.60 178.25 221.83 178.50 221.99 178.75 222.10 179.00 222.18 179.25 222.22 179.50 222.25 179.75 222.27 180.00 222.28 180.25 222.29 180.50 222.29 180.75 222.30 181.00 222.30 181.25 222.30 181.50 222.30 181.75 222.30 182.00 222.30 182.25 222.30 182.50 222.30 182.75 222.30 183.00 222.30 183.25 222.30 183.50 222.30 183.75 222.30 184.00 222.30 184.25 222.30 184.50 222.30 184.75 222.30 185.00 222.30 185.25 222.30 185.50 222.30 185.75 222.30 186.00 222.30 186.25 222.30 186.50 222.30 186.75 222.30 187.00 222.30 187.25 222.30 187.50 222.30 187.75 222.30 188.00 222.30 188.25 222.30 188.50 222.30 188.75 222.30 189.00 222.30 189.25 222.30 189.50 222.30 189.75 222.30 190.00 222.30 190.25 222.30 190.50 222.30 190.75 222.30 191.00 222.30 191.25 222.30 191.50 222.30 191.75 222.30 192.00 222.30 192.25 222.30 192.50 222.30 192.75 222.30 193.00 222.30 193.25 222.30 193.50 222.30 193.75 222.30 194.00 222.30 194.25 222.30 194.50 222.30 194.75 222.30 195.00 222.30 195.25 222.30 195.50 222.30 195.75 222.30 196.00 222.30 196.25 222.30 196.50 222.30 196.75 222.30 197.00 222.30L197.00 222.3Z" fill="#e65aa6" stroke="#e0184a" stroke-width="0.9" stroke-linejoin="round"/>
<path d="M200.50 222.3L200.50 222.30 200.75 222.30 201.00 222.30 201.25 222.30 201.50 222.30 201.75 222.30 202.00 222.30 202.25 222.30 202.50 222.30 202.75 222.30 203.00 222.29 203.25 222.29 203.50 222.28 203.75 222.26 204.00 222.23 204.25 222.19 204.50 222.13 204.75 222.04 205.00 221.93 205.25 221.78 205.50 221.61 205.75 221.43 206.00 221.24 206.25 221.07 206.50 220.92 206.75 220.83 207.00 220.80 207.25 220.83 207.50 220.92 207.75 221.07 208.00 221.24 208.25 221.43 208.50 221.61 208.75 221.78 209.00 221.93 209.25 222.04 209.50 222.13 209.75 222.19 210.00 222.23 210.25 222.26 210.50 222.28 210.75 222.29 211.00 222.29 211.25 222.30 211.50 222.30 211.75 222.30 212.00 222.30 212.25 222.30 212.50 222.30 212.75 222.30 213.00 222.30 213.25 222.30 213.50 222.30 213.75 222.30 214.00 222.30 214.25 222.30 214.50 222.30 214.75 222.30 215.00 222.30 215.25 222.30 215.50 222.30 215.75 222.30 216.00 222.30 216.25 222.30 216.50 222.30 216.75 222.30 217.00 222.30 217.25 222.30 217.50 222.30 217.75 222.30 218.00 222.30 218.25 222.30 218.50 222.30 218.75 222.30 219.00 222.30 219.25 222.30 219.50 222.30 219.75 222.30 220.00 222.30 220.25 222.29 220.50 222.29 220.75 222.28 221.00 222.26 221.25 222.24 221.50 222.20 221.75 222.14 222.00 222.05 222.25 221.91 222.50 221.71 222.75 221.43 223.00 221.03 223.25 220.49 223.50 219.76 223.75 218.80 224.00 217.57 224.25 216.02 224.50 214.12 224.75 211.83 225.00 209.14 225.25 206.07 225.50 202.64 225.75 198.91 226.00 194.98 226.25 190.98 226.50 187.03 226.75 183.30 227.00 179.96 227.25 177.17 227.50 175.06 227.75 173.75 228.00 173.30 228.25 173.75 228.50 175.06 228.75 177.17 229.00 179.96 229.25 183.30 229.50 187.03 229.75 190.98 230.00 194.98 230.25 198.91 230.50 202.64 230.75 206.07 231.00 209.14 231.25 211.83 231.50 214.12 231.75 216.02 232.00 217.57 232.25 218.80 232.50 219.76 232.75 220.49 233.00 221.03 233.25 221.43 233.50 221.71 233.75 221.91 234.00 222.05 234.25 222.14 234.50 222.20 234.75 222.24 235.00 222.26 235.25 222.28 235.50 222.29 235.75 222.29 236.00 222.30 236.25 222.30 236.50 222.30 236.75 222.30 237.00 222.30 237.25 222.30 237.50 222.30 237.75 222.30 238.00 222.30 238.25 222.30 238.50 222.30 238.75 222.30 239.00 222.30 239.25 222.30 239.50 222.30 239.75 222.30 240.00 222.30 240.25 222.30 240.50 222.30 240.75 222.30 241.00 222.30 241.25 222.30 241.50 222.30 241.75 222.30 242.00 222.30 242.25 222.30 242.50 222.30 242.75 222.30 243.00 222.30 243.25 222.30 243.50 222.30 243.75 222.30 244.00 222.30 244.25 222.30 244.50 222.30 244.75 222.30 245.00 222.30 245.25 222.30 245.50 222.30 245.75 222.30 246.00 222.30 246.25 222.30 246.50 222.30 246.75 222.30 247.00 222.30 247.25 222.30 247.50 222.30 247.75 222.30 248.00 222.30 248.25 222.30 248.50 222.30 248.75 222.30 249.00 222.30 249.25 222.30 249.50 222.30 249.75 222.30 250.00 222.30 250.25 222.30 250.50 222.30 250.75 222.30 251.00 222.30 251.25 222.30 251.50 222.30 251.75 222.30 252.00 222.30 252.25 222.30 252.50 222.30 252.75 222.30 253.00 222.30 253.25 222.30 253.50 222.30L253.50 222.3Z" fill="#e65aa6" stroke="#e0184a" stroke-width="0.9" stroke-linejoin="round"/>
<line x1="30" y1="168.2" x2="253.4" y2="168.2" stroke="#111" stroke-width="1.2"/>
<line x1="30" y1="222.60000000000002" x2="253.4" y2="222.60000000000002" stroke="#333" stroke-width="0.8"/>
<line x1="30.8" y1="168.2" x2="30.8" y2="222.8" stroke="#666" stroke-width="0.7"/>
<line x1="30.5" y1="169.2" x2="30.5" y2="222.8" stroke="#111" stroke-width="1.2" stroke-dasharray="0.8 1.3"/>
<line x1="86.9" y1="168.2" x2="86.9" y2="222.8" stroke="#666" stroke-width="0.7"/>
<line x1="86.60000000000001" y1="169.2" x2="86.60000000000001" y2="222.8" stroke="#111" stroke-width="1.2" stroke-dasharray="0.8 1.3"/>
<line x1="143.5" y1="168.2" x2="143.5" y2="222.8" stroke="#666" stroke-width="0.7"/>
<line x1="143.2" y1="169.2" x2="143.2" y2="222.8" stroke="#111" stroke-width="1.2" stroke-dasharray="0.8 1.3"/>
<line x1="199.8" y1="168.2" x2="199.8" y2="222.8" stroke="#666" stroke-width="0.7"/>
<line x1="199.5" y1="169.2" x2="199.5" y2="222.8" stroke="#111" stroke-width="1.2" stroke-dasharray="0.8 1.3"/>
<line x1="84.6" y1="168.2" x2="84.6" y2="222.8" stroke="#333" stroke-width="1"/>
<line x1="141.2" y1="168.2" x2="141.2" y2="222.8" stroke="#333" stroke-width="1"/>
<line x1="197.6" y1="168.2" x2="197.6" y2="222.8" stroke="#333" stroke-width="1"/>
<line x1="252.9" y1="168.2" x2="252.9" y2="222.8" stroke="#333" stroke-width="1"/>
<rect x="62.7" y="226" width="8.6" height="8.2" fill="#a9d9ea" stroke="#3f8fd6" stroke-width="1"/>
<text x="75.5" y="234" font-size="8.7" text-anchor="start" fill="#333" textLength="31.4" lengthAdjust="spacingAndGlyphs">R26T:G1B</text>
<rect x="132.8" y="226.3" width="8.4" height="8.4" fill="#e865b5" stroke="#e0184a" stroke-width="1"/>
<text x="146.2" y="234" font-size="8.7" fill="#333" textLength="55.3" lengthAdjust="spacingAndGlyphs"><tspan font-style="italic">Lsd1</tspan><tspan font-size="5.5" dy="-3.2">f/f</tspan><tspan dy="3.2">:R26T:G1B</tspan></text>
<text x="316.5" y="139.6" font-size="11" text-anchor="start" font-weight="bold" fill="#000" textLength="8.6" lengthAdjust="spacingAndGlyphs">D</text>
<g filter="url(#soft4)" opacity="0.9">
<path stroke="rgb(54, 66, 246)" stroke-width="0.85" d="M378.5 160h.85m-.7 1.4h.85m23.2 .5h.85m-31.8 .9h.85m-19 .9h.85m-2 .9h.85m37.9 1.5h.85m-49.8 5.6h.85m2.3 4h.85m61.3 1.3h.85m-3.8 .8h.85m.3 .7h.85m-3.4 1.8h.85m3.7 0h.85m-63.9 .4h.85m5.4 1.2h.85m13.2 4.8h.85m-9.1 1.9h.85m47 .3h.85m-52.4 4.4h.85m-5.8 4.2h.85m57.8 .6h.85m-58.2 4.4h.85m.1 2.8h.85m46.5 5.7h.85m-1 2.2h.85m-43.7 2.3h.85m31.5 0h.85m7.8 .9h.85m-12.5 .2h.85m1.8 .2h.85m-6.7 .3h.85m15.8 0h.85m-21 2h.85m6.2 0h.85m.6 .1h.85m9.8 .6h.85m-31.8 3.7h.85m-6.7 1.2h.85m20.2 .5h.85"/>
<path stroke="rgb(42, 66, 246)" stroke-width="0.85" d="M364.9 161.3h.85m5.6 .1h.85m-1.7 .5h.85m-16.2 .2h.85m31.2 .3h.85m-19.1 .5h.85m-3.8 .6h.85m1.2 0h.85m11.6 .5h.85m-2.7 .5h.85m-22.8 .4h.85m23.3 .5h.85m-24.9 .1h.85m35.3 .5h.85m-39.7 .2h.85m36.2 .1h.85m5.6 .7h.85m-5.2 .3h.85m-44.7 1.2h.85m48.8 4h.85m3.8 .1h.85m-56.2 .1h.85m-6.2 .5h.85m58.6 1.4h.85m-52.8 1.4h.85m-7.7 .1h.85m2.5 .1h.85m-.4 1.1h.85m53.5 0h.85m-56.2 1.9h.85m53.3 .3h.85m3.7 .5h.85m-52.5 .4h.85m-2.2 2.3h.85m-2.8 .3h.85m48.3 .1h.85m1.6 0h.85m-48.4 .1h.85m8.7 .4h.85m32.8 .1h.85m.8 1.2h.85m-41.7 .2h.85m-2.4 1.1h.85m.3 2.2h.85m6.8 .1h.85m-1.4 .4h.85m30.7 1.5h.85m3.2 0h.85m.6 0h.85m-3.9 .1h.85m-38.5 .4h.85m37.3 .7h.85m-41 .1h.85m-3.7 .5h.85m-1.2 .6h.85m-3.5 1.1h.85m45 .9h.85m-49.5 .5h.85m48.1 .3h.85m2 0h.85m-48.8 1.7h.85m-1.2 2h.85m-3.5 .5h.85m48.4 .1h.85m-48.4 1.9h.85m43.3 4.6h.85m-0 .5h.85m-21.5 .9h.85m21.1 .7h.85m-50.3 1h.85m23.8 .1h.85m1.3 .2h.85m16.8 .7h.85m-1.1 .1h.85m-21.2 .1h.85m6.5 .5h.85m-1.9 .3h.85m14 1.2h.85m-11.7 .2h.85m-5 .5h.85m14.6 .8h.85m-7.1 1h.85m6.8 .2h.85m-13.2 1.1h.85m8.3 .7h.85m-18.7 .5h.85m-3 1.4h.85m2.2 .3h.85m14.6 3.5h.85m-32.4 .4h.85m7.2 .3h.85m20.2 1.9h.85m-20 1.1h.85m17 3.7h.85m-9.5 .7h.85"/>
<path stroke="rgb(42, 78, 255)" stroke-width="0.85" d="M367.3 162.7h.85m2.5 .8h.85m12.9 0h.85m-12.4 .8h.85m-10.5 .3h.85m4.7 .1h.85m13.6 0h.85m-12.2 .2h.85m-2.5 .1h.85m-.8 .1h.85m2.3 0h.85m8.6 0h.85m-5.9 .1h.85m7 0h.85m-29.2 .1h.85m7.3 0h.85m12.8 0h.85m-8.9 .1h.85m-9.3 .2h.85m6.3 0h.85m3.1 0h.85m-6.3 .1h.85m16.9 0h.85m-16.4 .2h.85m7.9 0h.85m.6 .1h.85m-30.4 .1h.85m12 0h.85m12.4 0h.85m5.9 0h.85m.5 .1h.85m-15 .2h.85m7.1 0h.85m-5.2 .1h.85m.5 0h.85m1.8 .3h.85m8.5 .1h.85m5.5 0h.85m-7.3 .5h.85m-32.7 .1h.85m1.5 0h.85m23.3 .1h.85m-33.4 .5h.85m41.1 0h.85m-42.4 .7h.85m3 0h.85m-4.2 .3h.85m31.4 0h.85m-30.6 .1h.85m35.3 .1h.85m1.8 0h.85m4.3 .4h.85m-45 .1h.85m35.5 0h.85m.5 .1h.85m.6 0h.85m4.5 .3h.85m-46.2 .3h.85m49.2 .2h.85m-7.8 .3h.85m-.8 .2h.85m-.9 .2h.85m3.2 0h.85m-4.4 .4h.85m3 .4h.85m-5.8 .1h.85m-.1 0h.85m-41.7 .7h.85m-3.2 .1h.85m37.7 .1h.85m6.6 .2h.85m-48.7 1h.85m2 .4h.85m44.3 .2h.85m3.2 0h.85m-51 .2h.85m-3.8 .1h.85m47.3 0h.85m3.1 .2h.85m-3.8 .3h.85m2.3 0h.85m-52.7 .6h.85m-.5 .1h.85m3.2 .1h.85m46.3 .3h.85m-.5 0h.85m-2.2 .1h.85m-.4 .2h.85m-6.5 .1h.85m-45.2 .4h.85m46 0h.85m1 .1h.85m-46.6 .2h.85m43.2 .4h.85m-49.4 .6h.85m-.7 0h.85m52 0h.85m-52 .4h.85m-2.2 .7h.85m48.6 .1h.85m-3.4 .1h.85m.9 0h.85m-40.8 .1h.85m37.1 0h.85m-45.2 .4h.85m43 .1h.85m-35.5 .2h.85m-5.7 .6h.85m2.3 .3h.85m42.5 0h.85m-5.8 .1h.85m-43.9 .2h.85m39.6 .4h.85m-40 .2h.85m4.3 .1h.85m-.7 0h.85m25.5 .2h.85m-11.4 .2h.85m-19.1 .2h.85m37.8 0h.85m-29.5 .1h.85m1.8 .1h.85m-15 .1h.85m8.6 .3h.85m1.7 .1h.85m-6.7 .1h.85m10.2 0h.85m-5.8 .3h.85m1.7 0h.85m19.1 .4h.85m-18.2 .4h.85m-8.7 .2h.85m4.8 .7h.85m25.3 .1h.85m-6.4 .2h.85m-28.2 .1h.85m26.1 0h.85m-26.8 .1h.85m27.7 .1h.85m-25.7 .1h.85m7.3 0h.85m-1.5 .5h.85m-11.5 .1h.85m2.6 0h.85m28.6 .3h.85m-23.8 .1h.85m-11 .1h.85m3.8 0h.85m-12.1 .1h.85m-3.8 .3h.85m8 0h.85m6.8 0h.85m14.6 0h.85m-39.2 .1h.85m40.8 .8h.85m-20.4 .1h.85m-3.8 .1h.85m-14.9 .1h.85m.9 .1h.85m22.9 0h.85m12.2 0h.85m-31.2 .2h.85m27.6 .4h.85m-17.4 .5h.85m-20.4 .2h.85m2.3 .1h.85m4 .1h.85m28.6 0h.85m-22.1 .2h.85m-5.8 .2h.85m-6 .3h.85m13.6 0h.85m-8.7 .3h.85m1.3 0h.85m-.6 0h.85m18.8 0h.85m2.2 0h.85m-.5 .1h.85m-38.7 .1h.85m38.4 0h.85m-31.4 .1h.85m-3.5 .1h.85m3.5 .1h.85m25.5 .1h.85m-35.2 .3h.85m-3.8 .1h.85m11.7 0h.85m4.6 0h.85m-8.2 .4h.85m25.3 .2h.85m-35.9 .1h.85m32.9 0h.85m-35.7 .1h.85m5.3 0h.85m31.2 .2h.85m-4 .1h.85m-21 .5h.85m-3.2 .1h.85m1.2 .1h.85m-13 .1h.85m32.9 .2h.85m-29.1 .1h.85m-1.5 .3h.85m-1.2 .3h.85m-3.6 .2h.85m8.9 0h.85m4.1 0h.85m18.3 0h.85m-26.5 .1h.85m24 .1h.85m-39.8 .1h.85m38.2 0h.85m-26.5 .3h.85m-2.2 .1h.85m3.5 0h.85m-2 .3h.85m-8.5 .1h.85m3.9 .3h.85m-.7 .2h.85m-15.5 .1h.85m22.5 .1h.85m-3.8 .2h.85m20 .1h.85m-24 .1h.85m22.6 .1h.85m-40 .1h.85m8 0h.85m32.5 .1h.85m-20.4 .2h.85m-7.7 .2h.85m23 .1h.85m-22.8 .2h.85m-19.5 .3h.85m16.2 0h.85m1.3 .1h.85m-4.6 .3h.85m22 0h.85m-14 .1h.85m-10 .5h.85m27.8 .1h.85m-13.7 .1h.85m-19.7 .1h.85m-14.8 .3h.85m22.2 .1h.85m-7.8 .1h.85m.8 .1h.85m6.7 0h.85m12.8 0h.85m-14.2 .1h.85m17.9 .2h.85m-20.8 .1h.85m-22.9 .3h.85m25.5 .2h.85m-10 .2h.85m1.3 0h.85m14.8 0h.85m-36.5 .3h.85m16.2 0h.85m6.2 .4h.85m14 0h.85m-1 .1h.85m-16.5 .1h.85m-6.8 .1h.85m6.9 .4h.85m.1 0h.85m14.2 .3h.85m-20.4 .3h.85m-21.7 .1h.85m35.6 0h.85m-.5 .2h.85m-38.8 .2h.85m35 0h.85m4.3 0h.85m1 .1h.85m-45.8 .2h.85m19.8 0h.85m21 .2h.85m-.4 .2h.85m-40.8 .6h.85m23.3 0h.85m-24.8 .1h.85m17.8 0h.85m2 0h.85m-2.1 .1h.85m17 .1h.85m-2 .5h.85m-9.4 .1h.85m-30.4 .1h.85m29.8 .2h.85m6 0h.85m-9.6 .1h.85m-8.3 .3h.85m6.2 0h.85m-29.2 .3h.85m.6 .3h.85m32.9 .1h.85m4.7 0h.85m-41.8 .2h.85m38.8 .1h.85m-.5 .1h.85m-8.3 .2h.85m-13.7 .2h.85m15 0h.85m-5.6 .1h.85m7.8 .3h.85m-18.7 .2h.85m7.6 0h.85m-8.6 .2h.85m2.6 .2h.85m-24.6 .1h.85m18.9 .3h.85m10.3 .1h.85m-33.2 .1h.85m29.8 0h.85m4.6 0h.85m-4.3 .3h.85m.4 .1h.85m-.1 .1h.85m-16.1 .3h.85m19.2 .1h.85m-11.4 .1h.85m2.6 0h.85m-7.8 .1h.85m7.9 0h.85m-33.7 .1h.85m36.3 0h.85m-14.4 .1h.85m7.8 0h.85m2 0h.85m0 0h.85m-18 .1h.85m8 .1h.85m4.1 .2h.85m-33.8 .1h.85m31.5 0h.85m-31.8 .1h.85m15.5 .6h.85m-1.4 .1h.85m-.7 0h.85m4.8 .1h.85m9.8 .5h.85m-15 .1h.85m-3.2 .1h.85m16.3 .1h.85m-31.7 .1h.85m12.3 0h.85m8.5 .2h.85m7 0h.85m-.5 0h.85m-5.2 .1h.85m-15 .5h.85m21.2 .1h.85m-12.5 .2h.85m-22.9 .3h.85m33.5 0h.85m-14.5 .5h.85m-8 .2h.85m10.1 .3h.85m-26.5 .1h.85m11.8 0h.85m-2.8 .1h.85m-8.2 .6h.85m4.7 .5h.85m-.4 0h.85m16.8 0h.85m3.2 0h.85m-29 .5h.85m10.6 .1h.85m-.8 0h.85m-2.5 .1h.85m-1.7 .2h.85m-9.2 1.2h.85m4.3 .4h.85m1 .2h.85m-7.7 .1h.85m5.3 .5h.85m7.5 .2h.85m-9.8 .3h.85m1.5 .2h.85m-7.4 .2h.85m1.2 .5h.85m.6 .2h.85m-4 1.1h.85m2.5 .7h.85m2.2 .4h.85m-7.8 .2h.85m19 1.4h.85"/>
<path stroke="rgb(42, 90, 255)" stroke-width="0.85" d="M370.1 164.7h.85m-9.5 .9h.85m2.5 .1h.85m6 .1h.85m-9 .2h.85m-2.7 .2h.85m14.6 0h.85m-14.5 .2h.85m-.2 .2h.85m-6.7 .2h.85m4.8 0h.85m-4.5 .1h.85m17.5 .3h.85m-9 .1h.85m7.5 .1h.85m-20.7 .9h.85m18.5 .2h.85m5.1 .2h.85m1 .1h.85m-9.4 .1h.85m-23.8 .2h.85m29.8 .1h.85m-.7 .1h.85m-32.4 .8h.85m1.3 .1h.85m34.8 0h.85m-6.1 .2h.85m.9 0h.85m2.5 .1h.85m-39.4 .2h.85m27.7 0h.85m9.5 .6h.85m3 .3h.85m-10 .2h.85m2.2 .2h.85m-.5 0h.85m-37.2 .2h.85m-.4 .2h.85m42.3 .2h.85m-44.3 .2h.85m.6 .7h.85m41 .4h.85m-1.4 .1h.85m-8.8 .5h.85m2.3 0h.85m1.7 .5h.85m2.3 .2h.85m-4.5 .2h.85m-40.4 .1h.85m40.5 .1h.85m-.5 0h.85m.3 .1h.85m-1.7 .8h.85m-.3 .1h.85m-41.7 .6h.85m40.3 .5h.85m-1.9 .2h.85m2.2 .2h.85m-4.7 .2h.85m1.4 .2h.85m-42.4 .2h.85m.8 .3h.85m-.3 .1h.85m37.6 0h.85m-41.4 .9h.85m-0 0h.85m36.7 .2h.85m-34.8 .2h.85m2.1 0h.85m14 0h.85m-12.7 .1h.85m-6.2 .5h.85m34.1 0h.85m-28.7 .3h.85m7.3 .7h.85m5.8 .1h.85m-11.5 .1h.85m5.2 0h.85m16.8 0h.85m-.5 0h.85m-19.7 .1h.85m-10.2 .2h.85m8 0h.85m-.7 .3h.85m1.3 .1h.85m-9.7 .2h.85m17.8 0h.85m-25.5 .1h.85m7.3 0h.85m-3.7 .1h.85m21.4 0h.85m-28.5 .3h.85m.3 .1h.85m17.6 .1h.85m8.1 .1h.85m-17.8 .1h.85m-9.8 .1h.85m10.8 0h.85m8.6 0h.85m-15.5 .1h.85m4.8 0h.85m3.8 .3h.85m7.2 0h.85m-14.9 .1h.85m9 0h.85m-1.8 .1h.85m-6 .2h.85m-3.1 .1h.85m2.2 0h.85m-5.7 .1h.85m8 .1h.85m-10.2 .1h.85m4.5 0h.85m.5 0h.85m9.6 0h.85m-.5 .2h.85m-5.4 .1h.85m-7.4 .1h.85m9.2 .3h.85m-13.2 .1h.85m6.3 0h.85m-14.7 .1h.85m14.8 .2h.85m-21.2 .3h.85m3.8 .1h.85m11.5 .1h.85m1.6 .3h.85m-5.5 .1h.85m3.8 0h.85m.3 0h.85m-2.5 .1h.85m-12.5 .1h.85m1.5 0h.85m5.8 0h.85m3.3 0h.85m-.8 .1h.85m-18.7 .2h.85m12.5 0h.85m-13.6 .2h.85m12.9 0h.85m-14.1 .1h.85m.8 .1h.85m4.3 .1h.85m-.7 0h.85m8.1 .2h.85m2.7 .1h.85m-17.5 .2h.85m12.3 0h.85m-20.7 .1h.85m11.5 0h.85m9.6 0h.85m-8.8 .1h.85m8.6 .2h.85m-17.9 .1h.85m1.6 .2h.85m10.7 0h.85m1.4 0h.85m-.8 0h.85m-6 .1h.85m-10 .1h.85m-.4 0h.85m1.2 .6h.85m-7.4 .3h.85m9 .1h.85m7.3 .1h.85m-15.3 .2h.85m-4.6 .5h.85m2.2 0h.85m11.1 0h.85m-.2 .1h.85m-16.8 .2h.85m16.5 0h.85m-20 .1h.85m2.3 .6h.85m1.5 0h.85m-7.4 .1h.85m21.3 0h.85m2 0h.85m-12.8 .1h.85m4.6 .1h.85m.5 0h.85m-5.4 .1h.85m4.6 .1h.85m-15.8 .6h.85m2.4 0h.85m-5.7 .2h.85m13.3 0h.85m-.5 .1h.85m-15.2 .1h.85m13.2 .3h.85m0 .3h.85m-18.5 .1h.85m1 .1h.85m-11 .6h.85m10.5 0h.85m18.8 .1h.85m-40.3 .1h.85m36.5 0h.85m-16.8 .2h.85m.8 .1h.85m-20.7 .2h.85m6.8 .1h.85m-8.7 .1h.85m35.3 .1h.85m-36.7 .3h.85m14 0h.85m-14.2 .2h.85m-5.5 .3h.85m13.2 0h.85m22.5 .3h.85m-30.7 .4h.85m17.6 .1h.85m-16.5 .4h.85m15.4 0h.85m-22.1 .1h.85m3.1 .1h.85m11 .3h.85m-13.2 .1h.85m-9.3 .2h.85m35.8 .2h.85m-36.7 .6h.85m31.5 0h.85m1.3 .2h.85m-24.7 .1h.85m8.3 .1h.85m8.3 0h.85m-22.1 .2h.85m-10.9 .3h.85m9.6 0h.85m2.2 0h.85m24.3 0h.85m-27.5 .2h.85m11.2 .2h.85m8.6 .3h.85m7.2 0h.85m-32 .2h.85m22.6 .1h.85m-13.2 .3h.85m4.4 0h.85m3.5 0h.85m-11 .1h.85m-1.2 .2h.85m16.8 0h.85m-37.4 .1h.85m31 .4h.85m1.5 0h.85m-35.2 .1h.85m12.8 0h.85m22.2 0h.85m-6.5 .1h.85m3.2 0h.85m-2.4 .2h.85m.5 0h.85m-1 .1h.85m-7.7 .1h.85m10.5 .1h.85m-17.2 .2h.85m-1.5 .6h.85m2.4 0h.85m-12.7 .3h.85m1 0h.85m14.5 .1h.85m-6.6 .1h.85m-.6 0h.85m-28.1 .1h.85m16.2 .1h.85m-17.1 .1h.85m11.4 .1h.85m.8 .2h.85m-14.2 .2h.85m24.6 .1h.85m1.5 0h.85m-29.7 .3h.85m33.3 .1h.85m-19.5 .4h.85m13.3 0h.85m-.7 .2h.85m-13.4 .5h.85m9.2 0h.85m-28.2 .3h.85m15.5 .1h.85m15 0h.85m-3 .7h.85m-15.8 .1h.85m-.7 .1h.85m16.5 .1h.85m-.7 .1h.85m2.6 .1h.85m-22.5 1h.85m22 .3h.85m-22 .3h.85m-15 .7h.85m12.4 .1h.85m2.8 .3h.85m-2.2 .9h.85m-15 .5h.85m11.6 .2h.85m3.2 .2h.85m9.8 0h.85m-27.5 .4h.85m12.3 .1h.85m-3 .6h.85m-10.7 .6h.85m12 .3h.85m-4 .1h.85m-11 .1h.85m12.1 .5h.85m-3.6 1.2h.85m1.5 0h.85m-6.7 .6h.85m4.5 0h.85m-8.9 .3h.85m5.9 .5h.85m-3.8 .1h.85m2.4 .1h.85m-7.4 .4h.85m-.5 .1h.85m-1.2 .2h.85m6.3 .1h.85m-8.2 .2h.85m2.5 0h.85m1.1 .7h.85m-4.3 .2h.85"/>
<path stroke="rgb(42, 102, 255)" stroke-width="0.85" d="M368.5 167.1h.85m-.2 0h.85m-.2 0h.85m-16.8 5.5h.85m-.4 1.9h.85m41.2 3.2h.85m-36.8 .4h.85m17.3 3.9h.85m-4.7 .1h.85m-7 .2h.85m-6 .7h.85m20.2 2.7h.85m-3.4 1h.85m1 .2h.85m3.3 1.6h.85m-7 1.7h.85m-2.8 1.2h.85m-6.8 1h.85m15.3 .2h.85m-2.3 .6h.85m-4.7 2.2h.85m-16.4 .5h.85m20.3 .1h.85m4 .9h.85m-33.2 2.1h.85m-5.8 2.7h.85m33.5 .1h.85m-8.5 1.8h.85m-1.7 .2h.85m5.6 2h.85m-3 1.1h.85m-30.7 1.8h.85m-0 2.1h.85m4.5 8.1h.85m.8 .8h.85"/>
<path stroke="rgb(30, 102, 255)" stroke-width="0.85" d="M367.9 166h.85m4.6 .3h.85m-9.8 .7h.85m15.2 2.6h.85m-2.8 1.3h.85m10.4 2.6h.85m5 2h.85m1.8 .1h.85m-4.3 1.9h.85m-27.8 2.4h.85m-9.5 .5h.85m16.3 .3h.85m-.7 .2h.85m16 0h.85m-12.7 .5h.85m1.2 .2h.85m-19.5 .2h.85m12.6 0h.85m10.6 0h.85m-11.3 .2h.85m9.8 0h.85m0 0h.85m-1 1.1h.85m-20.7 .4h.85m5.3 0h.85m-8.8 .1h.85m5.6 0h.85m6.6 .2h.85m3.5 .3h.85m-.8 1.1h.85m.1 0h.85m-4.5 .1h.85m-8.2 1.5h.85m3.4 .7h.85m4.6 .3h.85m3.5 .3h.85m0 .3h.85m-3.7 2.1h.85m-1.5 .3h.85m-15.8 .6h.85m3 .3h.85m13 .3h.85m-4.5 .2h.85m2.5 .5h.85m-13 .4h.85m-10.8 .1h.85m25.3 .6h.85m-9.2 .4h.85m-10.7 .5h.85m9.6 0h.85m-1.8 .8h.85m-15 .1h.85m-9.7 .7h.85m-3.5 .6h.85m16.5 1h.85m8.4 .4h.85m-2.8 .4h.85m-6.9 .1h.85m-11.4 .1h.85m-8.5 .3h.85m.6 .1h.85m1.3 0h.85m16.8 .3h.85m-20.5 .1h.85m-1.5 .1h.85m-4.2 .3h.85m32.4 .1h.85m-10.4 1h.85m-2.1 .7h.85m7.7 2.7h.85m-.4 2.8h.85m-32.8 1.8h.85m.5 2.6h.85m-1.4 .1h.85m31.2 .6h.85m-20.2 .9h.85m-11.3 .6h.85m-1 1.4h.85m1.2 0h.85m5.5 .9h.85m-5.7 .1h.85m3.5 .9h.85"/>
<path stroke="rgb(30, 114, 255)" stroke-width="0.85" d="M363.3 167.9h.85m17.6 .5h.85m-26.4 1h.85m.7 .2h.85m22.3 .4h.85m-2 .7h.85m7.9 .4h.85m-34.2 .5h.85m29.2 .4h.85m-31.4 .3h.85m34.3 .2h.85m1.5 .7h.85m1.2 .1h.85m-3.8 .5h.85m3.5 .6h.85m3.3 0h.85m-44.7 .6h.85m-1.7 .8h.85m38.8 .9h.85m0 .7h.85m-3.7 .1h.85m-38.4 .4h.85m3.2 .5h.85m34.6 0h.85m-14.5 .5h.85m-15 .3h.85m-4 .8h.85m9.8 .1h.85m3.5 .1h.85m16.8 0h.85m-33.5 .1h.85m-5.5 .3h.85m6 0h.85m9 0h.85m12.8 0h.85m-28.8 .1h.85m28 .1h.85m-18.2 .1h.85m20 .1h.85m-24.3 .1h.85m7.8 0h.85m13.2 0h.85m-3 .1h.85m-20.2 .1h.85m21 .2h.85m-29.6 .2h.85m27.6 0h.85m-4 .4h.85m-20.4 .4h.85m17.6 0h.85m-1 .2h.85m.2 0h.85m-4.5 1.8h.85m-16.1 .2h.85m15.2 1.5h.85m-.8 1.1h.85m-12.4 .7h.85m3.1 0h.85m-.2 .2h.85m3.8 .4h.85m-.5 0h.85m.3 .3h.85m-5.7 1h.85m-8.5 .4h.85m11.4 0h.85m4.1 0h.85m1 0h.85m-3.2 .1h.85m-13.2 .3h.85m2.2 .7h.85m6.2 .1h.85m-2.8 .5h.85m1 .5h.85m-.7 .1h.85m-.2 .5h.85m-12.6 .5h.85m11.6 .1h.85m-12 .7h.85m-.9 .2h.85m5.3 .3h.85m-.3 .2h.85m-1.7 .4h.85m1 0h.85m-6.2 .1h.85m-7.7 .3h.85m12.3 0h.85m-6 .6h.85m1.2 0h.85m7.8 .5h.85m-11.9 .7h.85m-4.5 .4h.85m14.1 0h.85m-32.6 .2h.85m1.3 .1h.85m17.5 0h.85m3.6 .3h.85m-1.8 .1h.85m-.6 0h.85m-23.2 .1h.85m-1.5 .2h.85m19.8 .2h.85m-22.8 .1h.85m-2.8 .6h.85m32.5 .1h.85m-27.8 .1h.85m-.2 .4h.85m22.5 .1h.85m-4.8 .9h.85m-2.8 .2h.85m-18.9 .2h.85m22.2 .5h.85m.6 .6h.85m-33.5 .2h.85m11 0h.85m19.2 .4h.85m-21.8 .1h.85m17.8 0h.85m.6 .1h.85m-20.5 .7h.85m22 .1h.85m-3.2 1h.85m-32.6 .4h.85m33.5 0h.85m-3.8 .7h.85m-1.4 .1h.85m-17.2 3.4h.85m-13.4 .9h.85m11.6 0h.85m-1.9 2.3h.85m-10.7 1h.85m9.7 1.3h.85m-8.4 .5h.85m-.9 .5h.85m-1.3 .6h.85"/>
<path stroke="rgb(30, 126, 255)" stroke-width="0.85" d="M373.2 167.2h.85m-6.8 .2h.85m6.3 .9h.85m1.4 0h.85m-4.3 .6h.85m.1 .8h.85m4.3 0h.85m3.2 .3h.85m-4 .3h.85m3.5 .5h.85m-2.7 .4h.85m-5 .1h.85m-.5 .6h.85m5.4 .7h.85m-7.5 .2h.85m12.5 .7h.85m.2 .9h.85m-37.3 .2h.85m37.2 1.5h.85m-2.1 .1h.85m-.5 .4h.85m-38.5 .1h.85m36.1 .6h.85m-2.8 1.1h.85m-11 .4h.85m-21 .1h.85m17.8 .2h.85m14.2 .4h.85m-2.4 .4h.85m-32.2 .1h.85m19.6 0h.85m-12.5 .8h.85m-2.7 .8h.85m19 .3h.85m-20.5 .3h.85m8.8 .1h.85m8.5 .1h.85m-13.7 .2h.85m15.6 1.7h.85m-8.7 1h.85m1.6 .7h.85m6.3 .2h.85m-6.2 .4h.85m-12.2 .5h.85m12.2 .3h.85m2.2 .8h.85m-1.9 .7h.85m-13.7 .9h.85m7 .4h.85m.9 .8h.85m1.3 .6h.85m-6.5 .2h.85m-5.4 .1h.85m10.3 2.2h.85m-1.8 .3h.85m-8.4 .1h.85m-2.2 .2h.85m-.2 1.1h.85m4.6 .7h.85m2.3 0h.85m-8.5 .1h.85m-1.4 .4h.85m9 .1h.85m-6.7 .6h.85m-1 .1h.85m8.5 0h.85m-4.5 .3h.85m-30.6 .3h.85m-1.1 .3h.85m-2.7 .3h.85m3.3 .5h.85m0 .1h.85m19.1 0h.85m-25 .3h.85m3.2 .4h.85m27.8 .6h.85m-7.5 .1h.85m-29.8 .3h.85m32.7 .1h.85m-4.4 .1h.85m1.2 .4h.85m-5.7 1.2h.85m-.4 .1h.85m-29.4 .7h.85m-1 1.2h.85m29.5 .2h.85m-17 .2h.85m-14.5 .3h.85m30 .4h.85m-18.7 2h.85m-11.9 2.5h.85m-2.3 .8h.85m12.8 0h.85m-12.7 1.8h.85m9.8 .8h.85m-2.7 .2h.85m-2.8 3.5h.85m-.5 .3h.85m0 .5h.85m-2.5 .3h.85"/>
<path stroke="rgb(18, 126, 255)" stroke-width="0.85" d="M377.4 170.4h.85m11.2 .2h.85m-11.7 2.9h.85m-23.5 2.5h.85m14.6 4.6h.85m10.5 7.4h.85m4.8 2.1h.85m-5.2 2.3h.85m4.5 .8h.85m-7.2 .1h.85m-22 4.7h.85m23.8 1h.85m-4.5 1.4h.85m-15.4 3.7h.85m-1 14.6h.85"/>
<path stroke="rgb(18, 138, 255)" stroke-width="0.85" d="M368.7 166.7h.85m-2.7 .6h.85m-1.5 .1h.85m-4 .8h.85m15.3 .4h.85m-4.4 .2h.85m3.2 .5h.85m-23.4 2h.85m23.3 0h.85m8.2 .4h.85m-34.6 .3h.85m-1 .4h.85m23 .2h.85m.3 .1h.85m6.3 0h.85m-34.8 .5h.85m.5 .1h.85m23.8 .1h.85m6.2 0h.85m2.3 .7h.85m-5.5 .4h.85m-29.7 .1h.85m29 .7h.85m4.2 .5h.85m-32.7 1.9h.85m34 .5h.85m-40.7 .1h.85m6.7 .1h.85m-1.9 .3h.85m25.2 0h.85m-18.8 .4h.85m-12.8 .1h.85m8.4 .1h.85m24.5 .4h.85m-21.2 .2h.85m18.3 .2h.85m-19 .1h.85m4.1 0h.85m-13.6 .2h.85m9.8 0h.85m-7.2 .1h.85m6.6 0h.85m6.5 .4h.85m-2 .4h.85m.7 .3h.85m5.6 .1h.85m-12.8 .4h.85m2.2 .4h.85m8.5 0h.85m-7.8 .7h.85m-.4 .5h.85m1.6 .3h.85m-10.1 .2h.85m-.7 .5h.85m13.2 .1h.85m-20.5 1.1h.85m13.7 .8h.85m-4.2 2.6h.85m-.5 1.1h.85m-2.7 .3h.85m5.3 .6h.85m-7.8 .1h.85m5.1 .1h.85m-8.7 1.3h.85m5.5 .4h.85m1.7 .3h.85m-2.7 .5h.85m-5.2 .1h.85m-6 .1h.85m11 0h.85m-14.9 .1h.85m10.3 .1h.85m2.5 .5h.85m-5.9 1.3h.85m4 0h.85m-3.5 .4h.85m.3 .1h.85m-28.4 .8h.85m28.5 .2h.85m-7 .5h.85m-22.2 .4h.85m24.6 .2h.85m-29.7 .1h.85m3.8 1.2h.85m19.2 .1h.85m6.7 .1h.85m-30.2 .3h.85m23.2 0h.85m-20.9 .1h.85m-6 .1h.85m1.6 .2h.85m19.4 0h.85m-15.6 .4h.85m-5 .3h.85m22.8 .6h.85m-30.3 .4h.85m31.6 .4h.85m-23.8 .2h.85m18.2 .1h.85m-21.2 .1h.85m20.6 .4h.85m-20.8 .7h.85m-12.5 1.4h.85m15 1.1h.85m13.6 .3h.85m-17.4 2.2h.85m-2.2 .6h.85m-11.8 .5h.85m.3 .6h.85m10.3 1.8h.85m-9.7 .9h.85m1.3 1h.85m6.4 1.1h.85m-8 .1h.85m4 0h.85m-3.8 1.8h.85"/>
<path stroke="rgb(18, 150, 255)" stroke-width="0.85" d="M362.3 168.6h.85m14.8 2.1h.85m-2.4 .1h.85m-20.8 .7h.85m34.8 .5h.85m-3.4 .1h.85m-7.8 .1h.85m.6 0h.85m1.8 .1h.85m-6.2 1.3h.85m-.7 0h.85m5.5 1h.85m3 1.4h.85m-5.2 .4h.85m3.8 .4h.85m2.2 0h.85m-7.1 .2h.85m.6 0h.85m.8 .5h.85m1 0h.85m-19.9 .2h.85m18.3 .2h.85m-19.5 .1h.85m16.5 .2h.85m-6.8 .1h.85m-7.7 .2h.85m7.4 .2h.85m1 .1h.85m-20.2 .2h.85m18.8 .3h.85m-7.9 .1h.85m-13.3 .3h.85m-5.2 .1h.85m-10.7 .1h.85m22.6 0h.85m-3.7 .2h.85m5 .2h.85m-13.6 .2h.85m13.1 .1h.85m8.3 .4h.85m-25.2 .2h.85m21.7 0h.85m-.2 .2h.85m-14 .3h.85m3.7 .3h.85m-3.9 .1h.85m.3 .5h.85m2.8 .1h.85m-.7 .2h.85m4.4 0h.85m-1.4 .3h.85m-7 .1h.85m1.6 .7h.85m-2.5 1.6h.85m.5 .1h.85m-4.1 .6h.85m5.6 2.2h.85m-7 .7h.85m.2 .9h.85m3.6 .2h.85m-8 1.8h.85m1.4 .1h.85m.5 1h.85m3.2 0h.85m-1.7 .2h.85m-1.2 .3h.85m-5.5 .5h.85m4.3 0h.85m1 .9h.85m-8.4 .6h.85m-.2 0h.85m5.6 .5h.85m-30.4 3.1h.85m22.5 .3h.85m-27.8 .2h.85m28.7 .4h.85m-24 .3h.85m.8 0h.85m-2.3 .3h.85m.1 .3h.85m-5.5 .2h.85m28.3 .2h.85m-1.7 .6h.85m-3.4 .3h.85m-1.5 .4h.85m-21.4 .2h.85m2 1h.85m20 1.3h.85m-30.5 .3h.85m9.5 .2h.85m19.2 .4h.85m-21 2.5h.85m-.8 .4h.85m-10 .4h.85m10.2 .5h.85m-2.5 .3h.85m-9 2.3h.85m7.6 2.9h.85m-7.4 .5h.85m-1.2 .2h.85m3.5 1.1h.85m-3.4 .6h.85m3.5 .5h.85"/>
<path stroke="rgb(18, 162, 255)" stroke-width="0.85" d="M377.6 169.8h.85m-1.2 .4h.85m5.5 1.8h.85m8.1 2.9h.85m-8 .8h.85m6.8 .2h.85m-12.4 .7h.85m1.5 1.1h.85m-23 .2h.85m12 1h.85m-.4 .1h.85m11.6 .3h.85m-7.5 .9h.85m5.3 .2h.85m1.3 .5h.85m-10.5 .2h.85m-.2 0h.85m3 .3h.85m1.7 .5h.85m-4.4 8.4h.85m-4.9 .1h.85m-2.5 1.3h.85m2.5 3.1h.85m9.2 1.8h.85m-.5 2.9h.85m-2.2 .3h.85m-28.8 .4h.85m21.5 .1h.85m-25.2 6.5h.85m8 1.3h.85m-10.4 2.4h.85m1.2 3.5h.85m5.6 1.1h.85m-5.6 .7h.85m-.9 1h.85m3.2 1.2h.85m2.6 0h.85"/>
<path stroke="rgb(6, 162, 255)" stroke-width="0.85" d="M363.2 167.8h.85m4.2 0h.85m-8.9 1.1h.85m14 .1h.85m-16.2 .4h.85m13.6 0h.85m-17.3 .9h.85m18.1 .4h.85m-2.6 .4h.85m-18.8 .8h.85m23.6 .2h.85m-2.9 .8h.85m5.2 .7h.85m-1.2 .2h.85m7.2 1.3h.85m-16.2 .7h.85m-23 .1h.85m1.6 0h.85m27.5 .3h.85m1.2 .4h.85m-12.9 .3h.85m8.2 .5h.85m-7.4 .9h.85m-17.8 .3h.85m23 .1h.85m-12.4 .1h.85m4.5 0h.85m-3.5 .4h.85m-15.5 .1h.85m4.1 0h.85m22 .2h.85m-3.2 .3h.85m-19 .1h.85m13.6 0h.85m-21.5 .1h.85m14.4 .1h.85m-5.3 .1h.85m8.6 .1h.85m-6 .2h.85m6.6 .1h.85m-6 .6h.85m-13.3 .3h.85m22.6 .4h.85m-3.1 .3h.85m-1.4 .7h.85m-.7 8.8h.85m-6.4 8.2h.85m3.2 .8h.85m1.9 1.4h.85m-31 .4h.85m-3.7 .2h.85m.5 .2h.85m26.5 3.1h.85m-18.5 2.8h.85m-10 1.8h.85m1 1.7h.85m6.4 .7h.85m-.8 1.3h.85m.6 .8h.85m-5 .2h.85m2.3 1.2h.85m-5.2 .3h.85m1.8 .2h.85"/>
<path stroke="rgb(6, 174, 255)" stroke-width="0.85" d="M366.1 168.1h.85m4.2 0h.85m-2.3 .4h.85m-10.2 .3h.85m9 .1h.85m.5 0h.85m-12.4 .9h.85m13.8 .2h.85m6.8 .6h.85m-2.5 .3h.85m1.1 .2h.85m-5.8 .8h.85m7.7 .1h.85m-3.4 .4h.85m-.3 1h.85m-29.4 .1h.85m25.6 .5h.85m-5.5 .1h.85m3.3 .3h.85m.2 .1h.85m7.8 0h.85m-7.6 .1h.85m3.4 .1h.85m-7.8 .2h.85m-24.6 .3h.85m20.9 .3h.85m1.6 0h.85m-25 .2h.85m21.5 .5h.85m-.5 0h.85m-3.6 .2h.85m5.9 .2h.85m-26 .2h.85m10.8 .1h.85m9 0h.85m1.4 0h.85m2.3 .3h.85m-28.7 .2h.85m21.7 0h.85m-16.4 .1h.85m12.3 .1h.85m-2.4 .3h.85m.2 0h.85m-17.5 .2h.85m2.8 .1h.85m9.5 .3h.85m2.8 .1h.85m8 0h.85m-21.8 .1h.85m-3.7 .1h.85m17 0h.85m2.2 .1h.85m-14.7 .1h.85m17.5 0h.85m-5 .1h.85m-21.8 .2h.85m17.8 .1h.85m-11.2 .2h.85m7.5 .1h.85m-5.2 .1h.85m-9.7 .1h.85m-.7 0h.85m-.1 .2h.85m17.3 0h.85m-11 .1h.85m10.8 0h.85m-22 .3h.85m15.2 0h.85m5.5 0h.85m-17.2 .4h.85m7 .8h.85m3 .9h.85m-.5 .4h.85m3.6 .9h.85m-4.7 1.4h.85m1.3 8h.85m-2.6 .5h.85m-.4 .1h.85m-.7 .8h.85m1.3 .1h.85m2.1 .4h.85m-2.8 2.2h.85m-.1 0h.85m-5.5 3h.85m-23.2 1.3h.85m1 2.2h.85m-.2 .1h.85m-7.9 .5h.85m.3 3.3h.85m7 0h.85m-10.4 .2h.85m-.7 .4h.85m.8 0h.85m7.8 .1h.85m-10.3 1.1h.85m-1.4 .1h.85m-.3 .9h.85m9.4 .5h.85m-1.8 .5h.85m-8.4 .2h.85m7.1 .2h.85m-1.1 .8h.85m-.8 1h.85m-7.7 .9h.85m5.5 0h.85m-3.8 .8h.85m-.7 1.8h.85"/>
<path stroke="rgb(6, 186, 255)" stroke-width="0.85" d="M366.4 167.9h.85m2.6 .8h.85m-9.7 .5h.85m-4 1h.85m.8 .3h.85m15.6 0h.85m.2 .5h.85m-2 .1h.85m-.8 .2h.85m7.8 .5h.85m-5 .3h.85m-3.5 .3h.85m4 0h.85m4.3 .5h.85m-11.4 .2h.85m.9 .2h.85m-.4 .7h.85m4.8 .1h.85m-8.5 .1h.85m5 .1h.85m-1.4 .5h.85m3.1 0h.85m-7.3 .1h.85m1 .1h.85m5.3 0h.85m-8.8 .1h.85m-1.4 .3h.85m4.3 .3h.85m-7.9 .1h.85m.5 .2h.85m3.2 .4h.85m-22.8 .1h.85m-1.2 .2h.85m27.5 0h.85m-3.4 .1h.85m-26.8 .3h.85m-.3 0h.85m23.1 0h.85m-3 .2h.85m6.2 .1h.85m-20.2 .4h.85m10.3 0h.85m6 0h.85m-6.5 .1h.85m-1.2 .3h.85m-17.7 .4h.85m5.5 .2h.85m10.3 .2h.85m-8.8 .3h.85m13.6 0h.85m-21.5 .2h.85m15.2 1.8h.85m-14.7 .3h.85m11.5 1.1h.85m.5 12.4h.85m1 4h.85m-28.1 1.4h.85m3.5 .5h.85m-1.4 .7h.85m-1 .5h.85m-.5 .4h.85m-6 .6h.85m7.8 .5h.85m-2.7 .3h.85m-7.4 1h.85m6.4 .5h.85m.7 .1h.85m-.4 .7h.85m-9.8 .5h.85m-.4 .8h.85m.7 .3h.85m5.1 .4h.85m.7 .7h.85m-.7 1.8h.85m-7.4 1.1h.85m5.8 0h.85m-3 1.2h.85m-5.8 .2h.85m.9 .2h.85m-1.5 .1h.85m.6 .5h.85m3.8 0h.85m-6.8 .6h.85m2.6 .4h.85m-.5 .9h.85m.8 2.4h.85"/>
<path stroke="rgb(6, 186, 246)" stroke-width="0.85" d="M358.6 170.7h.85m19.6 2.9h.85m9.2 .1h.85m-3.9 2.4h.85m-27.7 .8h.85m2.3 .2h.85m26.8 .2h.85m-30.9 .5h.85m22.2 .3h.85m2.4 3.6h.85m-25.8 20.6h.85m.6 1.1h.85m4.4 3.9h.85m-.7 2.7h.85m-1.8 .1h.85m-6.9 .4h.85m-.2 1.8h.85m.5 1.3h.85m-.5 1.4h.85m-1.7 1h.85"/>
<path stroke="rgb(6, 198, 246)" stroke-width="0.85" d="M363.5 168.7h.85m-6.7 2.4h.85m21.6 2h.85m-24.8 .7h.85m28.3 .2h.85m-1.6 .2h.85m-8 .8h.85m9.5 1.6h.85m-23.4 1.4h.85m-.4 0h.85m1.5 1.2h.85m16.4 .3h.85m-1.5 1h.85m-25.4 22.1h.85m.1 .8h.85m-2.1 4.8h.85m7.1 0h.85m-2.2 .7h.85m.2 .3h.85m-1 2h.85m-7.5 .4h.85m1.3 2.2h.85"/>
<path stroke="rgb(6, 198, 234)" stroke-width="0.85" d="M368.9 168.4h.85m5 1.9h.85m-16.4 .1h.85m14.3 .8h.85m1 .1h.85m-3.1 .1h.85m7.6 .7h.85m2.2 2.1h.85m-4.6 .4h.85m-5.7 .4h.85m6.5 0h.85m-3.4 1.2h.85m-1.1 .5h.85m-7 .4h.85m2.8 0h.85m8.7 .4h.85m-16.4 .2h.85m6.2 .2h.85m-13.9 .1h.85m6.2 .2h.85m.1 .2h.85m-6 .1h.85m8.5 .1h.85m-16.2 .1h.85m7.3 .5h.85m.1 0h.85m-1.7 .2h.85m16.8 2.1h.85m-29.6 20.1h.85m-3.1 .7h.85m1 2.4h.85m4.8 .5h.85m-5.2 1.3h.85m-3.4 .1h.85m8 1.3h.85m-8.8 2h.85m7.5 1.2h.85"/>
<path stroke="rgb(6, 198, 222)" stroke-width="0.85" d="M366.5 169h.85m5.3 .2h.85m-12.5 .2h.85m-1.7 .5h.85m12.6 1h.85m.1 .5h.85m13 1.3h.85m-31.5 .5h.85m21.5 .2h.85m.3 .9h.85m-.1 .7h.85m3.2 0h.85m-5.3 .4h.85m8 .1h.85m-11.8 .3h.85m1.6 1.1h.85m4.3 .2h.85m-24.2 .7h.85m10.4 0h.85m12.3 .1h.85m-19.5 .3h.85m-1.5 .5h.85m15.3 .6h.85m-5.8 .2h.85m4 .9h.85m.6 14.1h.85m-23.8 6.6h.85m-3.2 1.3h.85m-1.8 1.1h.85m-.4 .3h.85m3.8 .4h.85m-5 1h.85m-1.4 2.1h.85m6.8 3.1h.85m-3 .1h.85m2.6 .2h.85m-1.6 .4h.85m-0 .7h.85m-3.2 1.6h.85m.4 .7h.85m-4 .5h.85m-.2 .9h.85"/>
<path stroke="rgb(6, 198, 210)" stroke-width="0.85" d="M380.9 175h.85m-5.4 1.6h.85m2.2 .5h.85"/>
<path stroke="rgb(18, 198, 210)" stroke-width="0.85" d="M370.6 168.9h.85m-.5 .4h.85m-10.7 .1h.85m.5 0h.85m16.8 2.2h.85m-4.3 1.6h.85m.3 1.6h.85m-.9 .8h.85m2.2 .2h.85m-5.5 .1h.85m-1.8 .6h.85m-5.9 .2h.85m12.9 .2h.85m3.6 0h.85m-19.8 1h.85m2.6 .2h.85m-10.4 .1h.85m23.7 .1h.85m-9.4 1.3h.85m-17.6 24.2h.85m-3.3 .9h.85m-0 .3h.85m5.2 2.4h.85m-8.5 1.3h.85m8.2 3.2h.85m-8.2 1.3h.85m6.3 2.2h.85m-2.8 .8h.85"/>
<path stroke="rgb(18, 198, 198)" stroke-width="0.85" d="M371.2 168.9h.85m-13.7 3.1h.85m24.3 3.6h.85m-7.4 2.5h.85m-15.5 26.3h.85m.5 2h.85"/>
<path stroke="rgb(18, 210, 198)" stroke-width="0.85" d="M365.6 168.8h.85m-5.8 .5h.85m-2.4 1.1h.85m-.5 1.3h.85m16.3 0h.85m1.5 1.9h.85m.5 .9h.85m-.8 .6h.85m-1.5 .3h.85m-4.7 1.1h.85m-.4 .6h.85m-1.2 .1h.85m-13.7 .2h.85m8.6 .3h.85m-2.4 1h.85m-4.4 .7h.85m-8.8 25.6h.85m7.1 2.4h.85m.2 4h.85m-6.7 1.1h.85m1.3 .5h.85m-.7 .1h.85m1.2 2.2h.85"/>
<path stroke="rgb(18, 210, 186)" stroke-width="0.85" d="M366.1 168.3h.85m-1.6 1.4h.85m9.5 3.3h.85m-19.9 .9h.85m21.2 .1h.85m-9.5 2.4h.85m1.6 .2h.85m7.6 .4h.85m-8 .3h.85m-6 .2h.85m5.8 0h.85m-7 .8h.85m14.3 .4h.85m-21.8 24.4h.85m-.8 .6h.85m-2 .8h.85m-2.2 .2h.85m-2.5 .5h.85m.3 .6h.85m3.4 .6h.85m-4.7 .4h.85m1.6 .3h.85m1.7 .4h.85m-2.1 1.3h.85m.8 0h.85m1.2 .3h.85m-1.2 1.2h.85m-1.5 .3h.85m-7 .4h.85m1.2 .5h.85m4.2 2.8h.85m-1.4 .8h.85"/>
<path stroke="rgb(18, 210, 174)" stroke-width="0.85" d="M372 169.5h.85m-.7 .1h.85m-11.5 .2h.85m9.6 .4h.85m2.6 1.3h.85m-1 .8h.85m.1 1.9h.85m-.8 1.4h.85m-15.7 .3h.85m3 1.3h.85m-1.5 .1h.85m7 .2h.85m.5 .8h.85m-3 .3h.85m-10.4 25.5h.85m-0 1.7h.85m2 .7h.85m-5.4 2.5h.85m4.8 .2h.85m.2 .2h.85m-1.5 3.6h.85m-2.2 .1h.85"/>
<path stroke="rgb(30, 210, 174)" stroke-width="0.85" d="M371 168.9h.85m-3.5 .1h.85m-8.4 .3h.85m15.7 3.5h.85m2.4 1.4h.85m-21.7 .1h.85m19 .7h.85m-1.4 1.9h.85m-9.2 .1h.85m18.2 .2h.85m-23.4 .6h.85m-6 26.9h.85m4.5 2.6h.85m-1 1h.85m.1 .6h.85m-4.7 4.3h.85m.8 1h.85"/>
<path stroke="rgb(30, 210, 162)" stroke-width="0.85" d="M366 169h.85m4 1.1h.85m-13.5 .9h.85m18.8 .9h.85m-.7 1.5h.85m-.5 .1h.85m1.6 1h.85m-7.2 .5h.85m-1 .1h.85m-14.5 .2h.85m-1.1 .2h.85m18.8 .9h.85m-10.2 .1h.85m.8 0h.85m-8.8 .8h.85m-.5 .4h.85m4 .6h.85m-4 .1h.85m-6.2 26.1h.85m-1.7 .6h.85m2.1 .5h.85m-1.1 .2h.85m3.3 0h.85m-1.7 .1h.85m-2.2 1.4h.85m-.5 .7h.85m-4.6 1.5h.85m.4 1h.85m3.7 .4h.85"/>
<path stroke="rgb(30, 210, 150)" stroke-width="0.85" d="M379.3 175.8h.85m-14.8 28.3h.85m-5.1 .4h.85m5.4 4.2h.85m-3.4 4.7h.85"/>
<path stroke="rgb(30, 222, 150)" stroke-width="0.85" d="M372 170.2h.85m-14.7 1.6h.85m-1.3 .4h.85m-.4 1.5h.85m1 1.4h.85m17 .2h.85m-19.7 .1h.85m-0 .6h.85m10 .5h.85m-3.5 .2h.85m3 .1h.85m-.8 .3h.85m-1.2 .1h.85m-9 .4h.85m7.8 .1h.85m13.3 .1h.85m-23.7 26.4h.85m-4.1 1.4h.85m5.8 .9h.85m-8.8 .2h.85m5.6 3.6h.85m-.8 1.2h.85m-.8 1.4h.85"/>
<path stroke="rgb(30, 222, 138)" stroke-width="0.85" d="M371.5 169h.85m-4 .5h.85m4 .7h.85m-14.3 .1h.85m14.1 1.3h.85m1.5 .2h.85m-3 1.5h.85m-17.5 .2h.85m19.6 .1h.85m-11.7 2.7h.85m2.9 .3h.85m8.3 .2h.85m-16.7 .2h.85m3.5 .1h.85m-.7 .3h.85m.3 .1h.85m-13.1 26.6h.85m7 1.7h.85m-1.8 .3h.85m-3.4 .6h.85m3.4 2h.85m-2.8 3h.85m1 .9h.85m-1.2 .3h.85m-1.2 .6h.85m-.5 .1h.85m-3.9 .1h.85"/>
<path stroke="rgb(42, 222, 138)" stroke-width="0.85" d="M366.4 208h.85"/>
<path stroke="rgb(42, 222, 126)" stroke-width="0.85" d="M366.3 168.7h.85m3.3 .6h.85m-11.2 1.6h.85m14.8 .7h.85m-4 .5h.85m1.6 1.5h.85m-1.7 .1h.85m-14.7 1.2h.85m-1.7 .4h.85m12 0h.85m-10.5 1h.85m20.8 .1h.85m-24.4 .1h.85m12.5 0h.85m1.2 .3h.85m-11.8 .1h.85m6.2 .3h.85m4.9 .2h.85m-12.6 .6h.85m3.2 .1h.85m1 .4h.85m.5 0h.85m-15 27.8h.85m1.4 1.4h.85m3.5 .6h.85m-2 .1h.85m-5.2 .3h.85m2 2.7h.85m-.8 .9h.85m1.2 1.8h.85"/>
<path stroke="rgb(42, 222, 114)" stroke-width="0.85" d="M369 169.1h.85m-8.5 .9h.85m-2.4 .3h.85m0 .2h.85m-3.2 1.2h.85m15.5 .8h.85m-16.7 1.2h.85m.6 .3h.85m14.9 .8h.85m-2.2 .1h.85m-2.8 .3h.85m-.9 .2h.85m2.2 .1h.85m-12.4 1.1h.85m-.3 27.7h.85m-4.5 .2h.85m-1.2 .5h.85m1.7 .2h.85m2.8 1.4h.85m-2 .2h.85m-3.2 .3h.85m.8 .2h.85m-2.2 .4h.85m-1.7 .8h.85m-2.2 .6h.85m3.8 .1h.85m-5.7 .1h.85m5 .2h.85m-3.8 1.1h.85m1.1 .1h.85m-1 1.6h.85m.5 0h.85m-3.2 .6h.85"/>
<path stroke="rgb(42, 222, 102)" stroke-width="0.85" d="M358.4 175.1h.85m1.8 34.6h.85m5.3 1.3h.85"/>
<path stroke="rgb(54, 222, 102)" stroke-width="0.85" d="M366.2 169.1h.85m5.5 1h.85m-.4 1.3h.85m-14.4 1.2h.85m2 3.5h.85m5.1 .1h.85m-5.8 .8h.85m5.5 0h.85m2.8 .2h.85m-3.6 .6h.85m-8.3 25.1h.85m-3.2 2.6h.85m1.3 .7h.85m0 .6h.85m-0 .9h.85m-4.8 .4h.85m.5 1.2h.85m5.2 1.7h.85m-4 .9h.85m-1.8 1.4h.85"/>
<path stroke="rgb(54, 234, 90)" stroke-width="0.85" d="M369.9 169.3h.85m-2.4 .2h.85m-7.2 1.2h.85m10.3 .4h.85m.3 2.4h.85m-15.2 .5h.85m14.8 .8h.85m-14.2 .1h.85m6.2 .6h.85m2.1 0h.85m-1.8 .1h.85m-9.2 .3h.85m-.7 .1h.85m5.3 .2h.85m4.5 .1h.85m-7.5 .3h.85m7.8 .2h.85m-4.8 .9h.85m-1 .2h.85m-13 26.8h.85m.6 1.5h.85m0 1.8h.85m2 3.7h.85"/>
<path stroke="rgb(66, 234, 90)" stroke-width="0.85" d="M366.8 168.7h.85m.3 .7h.85m-5.7 .7h.85m-4 4h.85m3.2 2.1h.85m-2.4 .1h.85m.3 31.8h.85m-2 .6h.85m1.3 3.2h.85"/>
<path stroke="rgb(66, 234, 78)" stroke-width="0.85" d="M364.9 169.1h.85m1.9 .4h.85m1.2 .3h.85m-8.2 .1h.85m7.8 .1h.85m-10.2 .1h.85m9.2 .3h.85m-10.8 .4h.85m-3.2 .3h.85m13.9 .9h.85m-14.8 .3h.85m12.5 .8h.85m-.7 .1h.85m.3 .5h.85m-.8 .7h.85m-14.4 1h.85m2.2 .7h.85m.2 .2h.85m2.9 .8h.85m-6.2 28.9h.85m-1.8 .7h.85m1.6 .4h.85m-.3 .2h.85m-2.5 .3h.85m-.8 .4h.85m-.5 .8h.85m-2.5 1.2h.85m-.8 0h.85m1.2 1.3h.85m-1.8 .5h.85"/>
<path stroke="rgb(66, 234, 66)" stroke-width="0.85" d="M360 173h.85m-.2 1.2h.85m11.2 1h.85m-9.5 .7h.85m-2.5 31.1h.85m2.6 .6h.85m-2.8 1.7h.85"/>
<path stroke="rgb(78, 234, 66)" stroke-width="0.85" d="M367.6 169.8h.85m.9 .4h.85m-9.4 .3h.85m-1.2 .5h.85m.3 .2h.85m-2.7 .7h.85m-1.8 .9h.85m-0 .2h.85m.1 1.2h.85m-1.5 .4h.85m11.3 0h.85m-11.9 .5h.85m7.4 .3h.85m-8.9 .1h.85m8.7 .3h.85m-3.7 .2h.85m-6.7 .1h.85m9.7 .4h.85m-6.9 .1h.85m5.6 .6h.85m-12 28h.85m-.2 1.1h.85m.3 1.2h.85m-1.7 .5h.85m2 .7h.85m-4 .9h.85m.3 .2h.85m-.2 .1h.85"/>
<path stroke="rgb(78, 234, 54)" stroke-width="0.85" d="M366.8 169.1h.85m-1.3 .1h.85m.5 .5h.85m1.6 .1h.85m-8.7 .2h.85m-.7 .1h.85m9.3 1.3h.85m-12.6 .2h.85m9.8 .6h.85m-13.2 1.3h.85m3.2 1.7h.85m7.8 .3h.85m-2 .1h.85m-2.8 .1h.85m-5.8 .2h.85m-.5 0h.85m2.2 0h.85m-.7 .2h.85m2 0h.85m-4.8 .4h.85m-2.2 31.3h.85m-3.4 .5h.85m.4 .2h.85m-1.4 .2h.85m2.3 2h.85m-2 .7h.85m-.7 .9h.85"/>
<path stroke="rgb(90, 234, 54)" stroke-width="0.85" d="M373.8 174.1h.85m-9.2 2.5h.85m-1.4 29.8h.85m-4.7 1h.85m2.4 .8h.85"/>
<path stroke="rgb(90, 234, 42)" stroke-width="0.85" d="M367.8 169.9h.85m.2 .2h.85m-9.4 1.2h.85m1 1.5h.85m-4 .1h.85m14 .2h.85m-2 1.4h.85m-2.7 .3h.85m-8.6 .4h.85m7.6 0h.85m-11.1 .2h.85m6.2 .2h.85m-4.5 .2h.85m4.2 0h.85m-4.9 1h.85m-4.5 28.6h.85m1.5 .4h.85m-1.1 2.8h.85m-.8 .7h.85m-0 2.6h.85"/>
<path stroke="rgb(102, 234, 42)" stroke-width="0.85" d="M363.6 169.7h.85m-3.1 .5h.85m7.1 .3h.85m-1 .1h.85m.7 .8h.85m-10.7 1h.85m-1.4 .4h.85m11.5 .8h.85m-.3 1.6h.85m-9 .4h.85m4.5 .3h.85"/>
<path stroke="rgb(102, 234, 30)" stroke-width="0.85" d="M370.4 171.7h.85m-11.1 .4h.85m9.9 2.3h.85m-.6 .6h.85m-4 .4h.85m.3 1.1h.85m-6.2 33h.85m-1.4 1.2h.85"/>
<path stroke="rgb(114, 234, 30)" stroke-width="0.85" d="M365.5 169.6h.85m1 .5h.85m.6 .4h.85m.5 1h.85m-10.4 .5h.85m9.6 0h.85m1.8 1h.85m-14 .2h.85m9.8 .3h.85m-.7 .4h.85m-.4 .6h.85m-2.2 .2h.85m-8.2 .7h.85m.2 .3h.85m3.9 0h.85m1.2 .3h.85m-4.8 .3h.85"/>
<path stroke="rgb(126, 234, 30)" stroke-width="0.85" d="M369.2 170h.85m-6 .3h.85m7 4.1h.85m-10 1h.85m6.1 0h.85m.4 0h.85m-3.9 .2h.85m-4.8 30.5h.85m-.5 2.9h.85"/>
<path stroke="rgb(138, 234, 30)" stroke-width="0.85" d="M361.1 171h.85m-1.1 1.7h.85m9.3 1.7h.85m-4 1.1h.85m.9 .1h.85m-4.3 .3h.85m.8 .3h.85"/>
<path stroke="rgb(138, 234, 18)" stroke-width="0.85" d="M373.2 172h.85"/>
<path stroke="rgb(150, 234, 18)" stroke-width="0.85" d="M365 170.2h.85m-1.7 .2h.85m9.9 2.7h.85m.2 .9h.85m-6.1 .2h.85m.7 1.5h.85m-9.2 31.8h.85"/>
<path stroke="rgb(162, 234, 18)" stroke-width="0.85" d="M371.5 171.9h.85m-11.8 .1h.85m-1.7 .3h.85m10.3 1.7h.85m-1 .1h.85m.2 .1h.85m-9 .5h.85m-2.5 .4h.85m6.9 .3h.85m-7.3 .1h.85m.3 .3h.85m.6 0h.85m-1 .4h.85m-2.5 31.8h.85m-.2 .8h.85"/>
<path stroke="rgb(174, 234, 18)" stroke-width="0.85" d="M364.6 170.9h.85m5.7 1.4h.85m-10.7 1h.85m-1.5 .1h.85m.5 .5h.85m7.3 .4h.85m-3.3 1.9h.85"/>
<path stroke="rgb(186, 234, 6)" stroke-width="0.85" d="M366.7 170.2h.85m1.2 .6h.85m-2.5 .1h.85m2 .4h.85m.2 1.7h.85m-7.2 2.3h.85m4.3 .4h.85"/>
<path stroke="rgb(198, 234, 6)" stroke-width="0.85" d="M365.1 170.4h.85m5.5 2h.85m-11 .7h.85m10.6 .6h.85m-1.5 .1h.85m-1.8 .1h.85m-10.2 .3h.85m4.2 1.3h.85m-2.5 .4h.85m2.5 .1h.85"/>
<path stroke="rgb(210, 234, 6)" stroke-width="0.85" d="M371.4 170.6h.85m-2.2 .9h.85m-10.4 1.8h.85m9 .5h.85m.8 .5h.85m-11 .1h.85m3.8 1.5h.85m-2.4 31.1h.85"/>
<path stroke="rgb(222, 234, 6)" stroke-width="0.85" d="M366.1 170.1h.85m-5.8 2.3h.85m-.1 .1h.85m8.8 .2h.85m-.2 .5h.85m-9.8 1.2h.85m6.6 0h.85m-.8 .3h.85m-2.2 .2h.85m-7.2 .3h.85m3 0h.85m1 0h.85"/>
<path stroke="rgb(222, 222, 6)" stroke-width="0.85" d="M366.9 169.8h.85m-2.4 .6h.85m4.2 .7h.85m-7.4 .3h.85m-3.4 .2h.85m-1 .2h.85m8.6 0h.85m-8.8 .3h.85m7.3 .1h.85m-.8 .4h.85m-2 1h.85m.8 .2h.85m-1.9 .3h.85m-8.2 .8h.85m0 .4h.85"/>
<path stroke="rgb(222, 210, 6)" stroke-width="0.85" d="M363.9 170.8h.85m5.6 .1h.85m-2.4 .2h.85m-1.8 .6h.85m-4.7 .4h.85m-3.2 .9h.85m.2 1h.85m-1.4 .3h.85m1.3 .4h.85m-1.1 .2h.85m2.2 1.1h.85"/>
<path stroke="rgb(234, 210, 6)" stroke-width="0.85" d="M365.8 171h.85m-3.5 .1h.85m3.4 0h.85m1.3 3.4h.85m-4.7 .1h.85"/>
<path stroke="rgb(234, 198, 6)" stroke-width="0.85" d="M363.8 170.9h.85m2 0h.85m-3.7 .2h.85m-2.3 .4h.85m6.6 .5h.85m-8 1h.85m5.3 .8h.85m-8.2 .2h.85m3.6 1.3h.85"/>
<path stroke="rgb(234, 186, 6)" stroke-width="0.85" d="M367.4 170.6h.85m-6.6 1.1h.85m.4 .1h.85m-1 1.6h.85m.3 .8h.85m-1 .1h.85m-1.6 .1h.85m.8 .3h.85m.3 .3h.85"/>
<path stroke="rgb(234, 174, 6)" stroke-width="0.85" d="M361.6 173.2h.85m.6 .1h.85m-1.6 .7h.85m5.6 .8h.85"/>
<path stroke="rgb(246, 174, 6)" stroke-width="0.85" d="M362.1 173.6h.85m7.3 .3h.85m-2.5 .3h.85m-3.4 .6h.85"/>
<path stroke="rgb(246, 162, 6)" stroke-width="0.85" d="M366.1 170.9h.85m-3 .5h.85m4.8 .4h.85m-2.8 .6h.85m-6.7 1.8h.85m5 .1h.85"/>
<path stroke="rgb(246, 150, 6)" stroke-width="0.85" d="M363.2 170.9h.85m2.6 0h.85m-3.4 .7h.85m4 .9h.85m0 .1h.85m-7.9 .1h.85m4.7 0h.85m-5.5 .2h.85m-.9 .1h.85m-1.3 .3h.85m1.2 .3h.85m-3.2 .1h.85m2 .5h.85m-2.2 .5h.85m.3 0h.85m-.7 .1h.85"/>
<path stroke="rgb(246, 138, 6)" stroke-width="0.85" d="M366.8 171.4h.85m-4.8 .1h.85m-.1 .8h.85m2.2 2h.85m-1.8 .1h.85m1.8 0h.85m-4.8 .7h.85"/>
<path stroke="rgb(255, 138, 6)" stroke-width="0.85" d="M364.8 170.9h.85m-.4 0h.85m-.8 .1h.85m-2.9 .8h.85m3.5 .6h.85m-1.4 .9h.85m-5 .8h.85m6 0h.85m-4.4 .1h.85m-.7 0h.85m-3.4 .2h.85"/>
<path stroke="rgb(255, 126, 6)" stroke-width="0.85" d="M367.4 171h.85m-1.5 .4h.85m.8 .2h.85m-4.8 .1h.85m-0 0h.85m-3.7 .4h.85m.2 1.3h.85m3.2 .2h.85m-4 .4h.85m1.8 .3h.85m-4.5 .1h.85m1.5 .2h.85m-.7 0h.85m4.2 .1h.85"/>
<path stroke="rgb(255, 114, 6)" stroke-width="0.85" d="M363.2 171.4h.85m5.1 .2h.85m.4 1.3h.85m-3.6 .4h.85m-3.8 .4h.85m1.2 .7h.85"/>
<path stroke="rgb(246, 114, 6)" stroke-width="0.85" d="M364.3 171h.85m3.2 1.4h.85m.7 .3h.85"/>
<path stroke="rgb(246, 102, 6)" stroke-width="0.85" d="M368.4 173.1h.85m-.7 .2h.85m-1.8 .9h.85m-2.8 .7h.85m3.2 .2h.85"/>
<path stroke="rgb(246, 90, 6)" stroke-width="0.85" d="M364 171h.85m-1.5 .5h.85m1.6 .1h.85m1.2 0h.85m-5.4 1.8h.85m-.5 .3h.85m.8 .2h.85m-1 .1h.85"/>
<path stroke="rgb(246, 78, 6)" stroke-width="0.85" d="M364.8 172.7h.85m3 0h.85m-1.4 .2h.85m-3 .1h.85m.5 0h.85m-5.9 .7h.85m1.7 0h.85m-.5 0h.85m2.1 0h.85"/>
<path stroke="rgb(246, 66, 6)" stroke-width="0.85" d="M363.9 171.6h.85m1.4 .2h.85m-1 .6h.85m-2.8 1.3h.85m2.5 .5h.85m-2.4 .2h.85"/>
<path stroke="rgb(246, 54, 6)" stroke-width="0.85" d="M366.2 171h.85m-.4 .3h.85m-2.5 .4h.85m1.6 0h.85m-5 .2h.85m.5 .4h.85m1.8 .4h.85m-2.7 .6h.85m-2.2 .1h.85m1.8 .6h.85m-2 .4h.85"/>
<path stroke="rgb(246, 42, 6)" stroke-width="0.85" d="M364.7 171.7h.85m.8 1h.85m-1.2 .8h.85"/>
<path stroke="rgb(246, 30, 6)" stroke-width="0.85" d="M366.1 172.5h.85m-1.3 2h.85m-.2 .1h.85"/>
<path stroke="rgb(234, 30, 6)" stroke-width="0.85" d="M366.4 171.9h.85m-1.9 1.1h.85m1 .2h.85"/>
<path stroke="rgb(234, 18, 6)" stroke-width="0.85" d="M363.5 172.3h.85m-1.7 .2h.85m5.2 .7h.85m-1.9 .2h.85m-2.5 .1h.85m.8 .2h.85"/>
<path stroke="rgb(234, 6, 6)" stroke-width="0.85" d="M364.6 171.6h.85m-1.2 .1h.85m1.6 0h.85m-1.7 .2h.85m-.5 .3h.85m1 .1h.85m-4.7 .1h.85m-0 0h.85m.6 0h.85m-.8 .1h.85m1.5 0h.85m-5.2 .2h.85m-.7 0h.85m-.5 0h.85m-2.1 .3h.85m1.2 .3h.85m-.1 0h.85m-1.8 .3h.85m-.5 .2h.85m.5 .3h.85m-2.5 .4h.85"/>
</g>
<rect x="337.4" y="147.6" width="94.90000000000003" height="93.6" fill="none" stroke="#aaa" stroke-width="0.8"/>
<path d="M337.4 158.8h1.3M337.4 171.9h1.3M337.4 185.0h1.3M337.4 199.1h1.3M337.4 213.1h1.3M337.4 222.5h1.3M337.4 230.0h1.3M337.4 235.6h1.3M346.9 241.2v-1.3M356.4 241.2v-1.3M370.6 241.2v-1.3M384.9 241.2v-1.3M399.1 241.2v-1.3M413.3 241.2v-1.3M424.7 241.2v-1.3" stroke="#555" stroke-width="0.8"/>
<rect x="350.5" y="164.4" width="30.6" height="21.4" fill="none" stroke="#444" stroke-width="0.9"/>
<rect x="381.1" y="164.4" width="26.8" height="21.4" fill="none" stroke="#444" stroke-width="0.9"/>
<rect x="381.1" y="185.8" width="26.8" height="41.7" fill="none" stroke="#444" stroke-width="0.9"/>
<line x1="381.1" y1="185.8" x2="408" y2="185.8" stroke="#222" stroke-width="1.3"/>
<rect x="354.4" y="195.9" width="20.1" height="26.7" fill="none" stroke="#444" stroke-width="0.9"/>
<text x="350.2" y="162.1" font-size="10.3" text-anchor="start" fill="#222" textLength="27.6" lengthAdjust="spacingAndGlyphs">CFU-E</text>
<text x="382.2" y="162.1" font-size="10.3" text-anchor="start" fill="#222" textLength="44.8" lengthAdjust="spacingAndGlyphs">Pre-CFU-E</text>
<text x="345" y="237.1" font-size="10.3" text-anchor="start" fill="#222" textLength="29.5" lengthAdjust="spacingAndGlyphs">Pre-GM</text>
<text x="382.2" y="237.1" font-size="10.3" text-anchor="start" fill="#222" textLength="42.7" lengthAdjust="spacingAndGlyphs">Pre-MegE</text>
<line x1="330" y1="158" x2="330" y2="251.9" stroke="#111" stroke-width="1.6"/>
<path d="M330 149.4L326.9 159.9L333.1 159.9Z" fill="#111"/>
<line x1="329.2" y1="251.2" x2="426" y2="251.2" stroke="#111" stroke-width="1.4"/>
<path d="M436.7 251.2L426.2 248.1L426.2 254.29999999999998Z" fill="#111"/>
<text x="327.2" y="200" font-size="10.3" text-anchor="middle" fill="#222" textLength="29.9" lengthAdjust="spacingAndGlyphs" transform="rotate(-90 327.2 200)">CD105</text>
<text x="383.35" y="262.5" font-size="10.3" text-anchor="middle" fill="#222" textLength="29.3" lengthAdjust="spacingAndGlyphs">CD150</text>
<line x1="439" y1="197.5" x2="453" y2="197.5" stroke="#111" stroke-width="1.2"/>
<path d="M460.6 197.5L452.6 194.8L452.6 200.2Z" fill="#111"/>
<text x="489.55" y="189.8" font-size="10.1" text-anchor="middle" fill="#222" textLength="29.5" lengthAdjust="spacingAndGlyphs">CFU-E,</text>
<text x="489.75" y="201.1" font-size="10.1" text-anchor="middle" fill="#222" textLength="47.1" lengthAdjust="spacingAndGlyphs">Pre-CFU-E,</text>
<text x="489.9" y="212.6" font-size="10.1" text-anchor="middle" fill="#222" textLength="41.8" lengthAdjust="spacingAndGlyphs">Pre-MegE</text>
<line x1="487.6" y1="218" x2="487.6" y2="229" stroke="#111" stroke-width="1.2"/>
<path d="M487.6 235.6L484.90000000000003 227.6L490.3 227.6Z" fill="#111"/>
<ellipse cx="489.4" cy="254" rx="22" ry="5.1" fill="#c8001e" stroke="#2a40c8" stroke-width="0.9"/>
<ellipse cx="489.4" cy="248" rx="22.1" ry="4.7" fill="none" stroke="#2a40c8" stroke-width="1"/>
<line x1="467.3" y1="248" x2="467.3" y2="254" stroke="#2a40c8" stroke-width="1"/>
<line x1="511.5" y1="248" x2="511.5" y2="254" stroke="#2a40c8" stroke-width="1"/>
<text x="489.55" y="273.2" font-size="8.6" text-anchor="middle" fill="#333" textLength="29.5" lengthAdjust="spacingAndGlyphs" style="stroke-width:0.05px">M3434</text>
<text x="10.2" y="298.7" font-size="11" text-anchor="start" font-weight="bold" fill="#000" textLength="7.2" lengthAdjust="spacingAndGlyphs">E</text>
<line x1="49.8" y1="427.4" x2="52.7" y2="427.4" stroke="#111" stroke-width="1.1"/>
<text x="45.9" y="430.29999999999995" font-size="8.2" text-anchor="end" fill="#333" style="stroke:none">0</text>
<line x1="49.8" y1="408.76666666666665" x2="52.7" y2="408.76666666666665" stroke="#111" stroke-width="1.1"/>
<text x="45.9" y="411.66666666666663" font-size="8.2" text-anchor="end" fill="#333" textLength="8.5" lengthAdjust="spacingAndGlyphs" style="stroke:none">20</text>
<line x1="49.8" y1="390.1333333333333" x2="52.7" y2="390.1333333333333" stroke="#111" stroke-width="1.1"/>
<text x="45.9" y="393.0333333333333" font-size="8.2" text-anchor="end" fill="#333" textLength="8.5" lengthAdjust="spacingAndGlyphs" style="stroke:none">40</text>
<line x1="49.8" y1="371.5" x2="52.7" y2="371.5" stroke="#111" stroke-width="1.1"/>
<text x="45.9" y="374.4" font-size="8.2" text-anchor="end" fill="#333" textLength="8.5" lengthAdjust="spacingAndGlyphs" style="stroke:none">60</text>
<line x1="49.8" y1="352.8666666666667" x2="52.7" y2="352.8666666666667" stroke="#111" stroke-width="1.1"/>
<text x="45.9" y="355.76666666666665" font-size="8.2" text-anchor="end" fill="#333" textLength="8.5" lengthAdjust="spacingAndGlyphs" style="stroke:none">80</text>
<line x1="49.8" y1="334.23333333333335" x2="52.7" y2="334.23333333333335" stroke="#111" stroke-width="1.1"/>
<text x="45.9" y="337.1333333333333" font-size="8.2" text-anchor="end" fill="#333" textLength="12.8" lengthAdjust="spacingAndGlyphs" style="stroke:none">100</text>
<line x1="49.8" y1="315.6" x2="52.7" y2="315.6" stroke="#111" stroke-width="1.1"/>
<text x="45.9" y="318.5" font-size="8.2" text-anchor="end" fill="#333" textLength="12.8" lengthAdjust="spacingAndGlyphs" style="stroke:none">120</text>
<line x1="52.7" y1="315.0" x2="52.7" y2="428" stroke="#111" stroke-width="1.5"/>
<line x1="51.9" y1="427.4" x2="147" y2="427.4" stroke="#111" stroke-width="1.3"/>
<line x1="52.7" y1="427.4" x2="52.7" y2="430.4" stroke="#111" stroke-width="1.2"/>
<line x1="99.5" y1="427.4" x2="99.5" y2="430.4" stroke="#111" stroke-width="1.2"/>
<line x1="146.5" y1="427.4" x2="146.5" y2="430.4" stroke="#111" stroke-width="1.2"/>
<rect x="64.5" y="424.60499999999996" width="23.5" height="2.795000000000016" fill="#cc0a1e"/>
<rect x="64.5" y="367.7733333333333" width="23.5" height="56.83166666666665" fill="#0a36b8"/>
<rect x="64.5" y="362.9286666666667" width="23.5" height="4.844666666666626" fill="#3cf20a"/>
<rect x="64.5" y="353.2393333333333" width="23.5" height="9.689333333333366" fill="#1c0896"/>
<rect x="110.8" y="353.79833333333335" width="24.000000000000014" height="73.60166666666663" fill="#cc0a1e"/>
<rect x="110.8" y="341.9661666666667" width="24.000000000000014" height="11.832166666666637" fill="#0a36b8"/>
<rect x="110.8" y="335.6308333333333" width="24.000000000000014" height="6.335333333333381" fill="#3cf20a"/>
<rect x="110.8" y="324.17133333333334" width="24.000000000000014" height="11.459499999999991" fill="#1c0896"/>
<line x1="76.3" y1="350.7" x2="76.3" y2="356.2" stroke="#111" stroke-width="1.1"/>
<line x1="74.89999999999999" y1="350.7" x2="77.7" y2="350.7" stroke="#111" stroke-width="1.1"/>
<line x1="74.89999999999999" y1="356.2" x2="77.7" y2="356.2" stroke="#111" stroke-width="1.1"/>
<line x1="76.3" y1="358.5" x2="76.3" y2="361.5" stroke="#111" stroke-width="1.1"/>
<line x1="74.89999999999999" y1="358.5" x2="77.7" y2="358.5" stroke="#111" stroke-width="1.1"/>
<line x1="74.89999999999999" y1="361.5" x2="77.7" y2="361.5" stroke="#111" stroke-width="1.1"/>
<line x1="76.3" y1="356" x2="76.3" y2="372.5" stroke="#111" stroke-width="0.9"/>
<line x1="76.3" y1="364.5" x2="76.3" y2="372.5" stroke="#111" stroke-width="1.1"/>
<line x1="74.89999999999999" y1="364.5" x2="77.7" y2="364.5" stroke="#111" stroke-width="1.1"/>
<line x1="74.89999999999999" y1="372.5" x2="77.7" y2="372.5" stroke="#111" stroke-width="1.1"/>
<line x1="76.3" y1="423.6" x2="76.3" y2="425.6" stroke="#111" stroke-width="1.1"/>
<line x1="74.89999999999999" y1="423.6" x2="77.7" y2="423.6" stroke="#111" stroke-width="1.1"/>
<line x1="74.89999999999999" y1="425.6" x2="77.7" y2="425.6" stroke="#111" stroke-width="1.1"/>
<line x1="122.8" y1="322.4" x2="122.8" y2="326.6" stroke="#111" stroke-width="1.1"/>
<line x1="121.0" y1="322.4" x2="124.6" y2="322.4" stroke="#111" stroke-width="1.1"/>
<line x1="121.0" y1="326.6" x2="124.6" y2="326.6" stroke="#111" stroke-width="1.1"/>
<line x1="122.8" y1="334.8" x2="122.8" y2="338.5" stroke="#111" stroke-width="1.1"/>
<line x1="121.3" y1="334.8" x2="124.3" y2="334.8" stroke="#111" stroke-width="1.1"/>
<line x1="121.3" y1="338.5" x2="124.3" y2="338.5" stroke="#111" stroke-width="1.1"/>
<line x1="122.8" y1="334.8" x2="122.8" y2="370" stroke="#111" stroke-width="1.1"/>
<line x1="122.8" y1="345" x2="122.8" y2="370" stroke="#111" stroke-width="1.1"/>
<line x1="121.5" y1="345" x2="124.1" y2="345" stroke="#111" stroke-width="1.1"/>
<line x1="121.5" y1="370" x2="124.1" y2="370" stroke="#111" stroke-width="1.1"/>
<path d="M118.50 349.40L119.00 350.61L120.31 350.71L119.31 351.56L119.62 352.84L118.50 352.16L117.38 352.84L117.69 351.56L116.69 350.71L118.00 350.61Z" fill="#000"/>
<path d="M123.10 349.40L123.60 350.61L124.91 350.71L123.91 351.56L124.22 352.84L123.10 352.16L121.98 352.84L122.29 351.56L121.29 350.71L122.60 350.61Z" fill="#000"/>
<path d="M127.70 349.40L128.20 350.61L129.51 350.71L128.51 351.56L128.82 352.84L127.70 352.16L126.58 352.84L126.89 351.56L125.89 350.71L127.20 350.61Z" fill="#000"/>
<path d="M120.15 386.10L120.65 387.31L121.96 387.41L120.96 388.26L121.27 389.54L120.15 388.86L119.03 389.54L119.34 388.26L118.34 387.41L119.65 387.31Z" fill="#000"/>
<path d="M124.65 386.10L125.15 387.31L126.46 387.41L125.46 388.26L125.77 389.54L124.65 388.86L123.53 389.54L123.84 388.26L122.84 387.41L124.15 387.31Z" fill="#000"/>
<rect x="62" y="305.0" width="5.4" height="5.5" fill="#1c0896"/>
<text x="69.8" y="310.3" font-size="7.6" text-anchor="start" fill="#222" textLength="20" lengthAdjust="spacingAndGlyphs">MegE</text>
<rect x="62" y="316.45" width="5.4" height="5.5" fill="#3cf20a"/>
<text x="69.8" y="321.75" font-size="7.6" text-anchor="start" fill="#222">Meg</text>
<rect x="62" y="327.9" width="5.4" height="5.5" fill="#0a36b8"/>
<text x="69.8" y="333.2" font-size="7.6" text-anchor="start" fill="#222" textLength="20.5" lengthAdjust="spacingAndGlyphs">BFU-E</text>
<rect x="62" y="339.35" width="5.4" height="5.5" fill="#cc0a1e"/>
<text x="69.8" y="344.65000000000003" font-size="7.6" text-anchor="start" fill="#222">GM</text>
<text x="75.7" y="439.5" font-size="7.9" text-anchor="middle" fill="#222" textLength="26.4" lengthAdjust="spacingAndGlyphs">Control</text>
<text x="106.8" y="439.8" font-size="8.2" fill="#222" textLength="35.2" lengthAdjust="spacingAndGlyphs"><tspan font-style="italic" style="stroke-width:0.3px">Lsd1</tspan> CKO</text>
<text x="27.4" y="370.6" font-size="9.4" text-anchor="middle" fill="#222" textLength="60" lengthAdjust="spacingAndGlyphs" transform="rotate(-90 27.4 370.6)">Colony #/600 cells</text>
<text x="162.3" y="298.7" font-size="11" text-anchor="start" font-weight="bold" fill="#000" textLength="6.6" lengthAdjust="spacingAndGlyphs">F</text>
<line x1="151" y1="376.2" x2="168" y2="376.2" stroke="#111" stroke-width="1.1"/>
<path d="M173.2 376.2L167.2 373.95L167.2 378.45Z" fill="#111"/>
<rect x="197.1" y="311.4" width="9" height="7.6" fill="#e865b5" stroke="#e0184a" stroke-width="1"/>
<text x="208.1" y="318.2" font-size="7.6" text-anchor="start" fill="#333" textLength="17" lengthAdjust="spacingAndGlyphs">+IgG</text>
<rect x="235.3" y="311.4" width="9" height="7.6" fill="#a9d9ea" stroke="#3f8fd6" stroke-width="1"/>
<text x="246.3" y="318.2" font-size="7.6" text-anchor="start" fill="#333" textLength="20.8" lengthAdjust="spacingAndGlyphs">+anti–</text>
<path d="M197.00 387.30C197.33 385.63 198.40 381.15 199.00 377.30C199.60 373.45 200.12 368.40 200.60 364.20C201.08 360.00 201.52 354.88 201.90 352.10C202.28 349.32 202.57 347.50 202.90 347.50C203.23 347.50 203.53 350.17 203.90 352.10C204.27 354.03 204.70 356.83 205.10 359.10C205.50 361.37 205.93 364.18 206.30 365.70C206.67 367.22 207.00 367.10 207.30 368.20C207.60 369.30 207.80 370.78 208.10 372.30C208.40 373.82 208.80 375.80 209.10 377.30C209.40 378.80 209.65 380.12 209.90 381.30C210.15 382.48 210.30 383.40 210.60 384.40C210.90 385.40 211.52 386.82 211.70 387.30Z" fill="#e34ca6" stroke="#e0184a" stroke-width="0.9" stroke-linejoin="round"/>
<path d="M198.00 387.30C198.68 387.07 200.92 386.30 202.10 385.90C203.28 385.50 204.27 385.50 205.10 384.90C205.93 384.30 206.47 383.32 207.10 382.30C207.73 381.28 208.43 379.38 208.90 378.80C209.37 378.22 209.55 378.72 209.90 378.80C210.25 378.88 210.58 379.25 211.00 379.30C211.42 379.35 211.95 379.60 212.40 379.10C212.85 378.60 213.32 377.78 213.70 376.30C214.08 374.82 214.37 372.72 214.70 370.20C215.03 367.68 215.37 363.88 215.70 361.20C216.03 358.52 216.35 355.87 216.70 354.10C217.05 352.33 217.45 350.93 217.80 350.60C218.15 350.27 218.53 351.18 218.80 352.10C219.07 353.02 219.17 354.08 219.40 356.10C219.63 358.12 219.90 361.33 220.20 364.20C220.50 367.07 220.82 370.45 221.20 373.30C221.58 376.15 222.07 379.28 222.50 381.30C222.93 383.32 223.42 384.40 223.80 385.40C224.18 386.40 224.63 386.98 224.80 387.30Z" fill="#7cc4de" stroke="#3f8fd6" stroke-width="0.9" fill-opacity="0.6" stroke-linejoin="round"/>
<path d="M244.20 386.30C244.38 385.52 244.93 384.75 245.30 381.60C245.67 378.45 246.08 372.13 246.40 367.40C246.72 362.67 246.92 356.77 247.20 353.20C247.48 349.63 247.80 347.10 248.10 346.00C248.40 344.90 248.70 344.87 249.00 346.60C249.30 348.33 249.62 352.93 249.90 356.40C250.18 359.87 250.38 364.10 250.70 367.40C251.02 370.70 251.35 374.02 251.80 376.20C252.25 378.38 252.82 379.50 253.40 380.50C253.98 381.50 254.43 381.73 255.30 382.20C256.17 382.67 257.50 383.03 258.60 383.30C259.70 383.57 260.88 383.53 261.90 383.80C262.92 384.07 263.88 384.48 264.70 384.90C265.52 385.32 266.45 386.07 266.80 386.30Z" fill="#a9d9ea" stroke="#3f8fd6" stroke-width="0.9" stroke-linejoin="round"/>
<path d="M245.70 386.30C245.82 384.07 246.20 377.88 246.40 372.90C246.60 367.92 246.72 361.15 246.90 356.40C247.08 351.65 247.30 346.03 247.50 344.40C247.70 342.77 247.88 343.68 248.10 346.60C248.32 349.52 248.55 356.97 248.80 361.90C249.05 366.83 249.28 372.37 249.60 376.20C249.92 380.03 250.38 383.22 250.70 384.90C251.02 386.58 251.37 386.07 251.50 386.30Z" fill="#9890d2" stroke="#3a40c0" stroke-width="0.75" stroke-linejoin="round"/>
<path d="M246.9 350L247.5 344.4L248.1 346.6" fill="none" stroke="#e0184a" stroke-width="1"/>
<path d="M197.20 436.60C197.45 435.48 198.18 433.12 198.70 429.90C199.22 426.68 199.82 421.33 200.30 417.30C200.78 413.27 201.17 409.03 201.60 405.70C202.03 402.37 202.55 398.70 202.90 397.30C203.25 395.90 203.43 395.90 203.70 397.30C203.97 398.70 204.10 402.90 204.50 405.70C204.90 408.50 205.65 412.17 206.10 414.10C206.55 416.03 206.90 416.07 207.20 417.30C207.50 418.53 207.65 419.93 207.90 421.50C208.15 423.07 208.38 424.95 208.70 426.70C209.02 428.45 209.45 430.50 209.80 432.00C210.15 433.50 210.48 434.93 210.80 435.70C211.12 436.47 211.55 436.45 211.70 436.60Z" fill="#e34ca6" stroke="#e0184a" stroke-width="0.9" stroke-linejoin="round"/>
<path d="M198.20 436.60C199.08 436.18 202.10 435.22 203.50 434.10C204.90 432.98 205.77 431.22 206.60 429.90C207.43 428.58 207.97 426.55 208.50 426.20C209.03 425.85 209.32 427.10 209.80 427.80C210.28 428.50 210.87 429.62 211.40 430.40C211.93 431.18 212.38 432.32 213.00 432.50C213.62 432.68 214.32 432.02 215.10 431.50C215.88 430.98 216.83 430.02 217.70 429.40C218.57 428.78 219.52 428.42 220.30 427.80C221.08 427.18 221.83 427.10 222.40 425.70C222.97 424.30 223.32 422.38 223.70 419.40C224.08 416.42 224.38 411.32 224.70 407.80C225.02 404.28 225.32 400.40 225.60 398.30C225.88 396.20 226.12 395.20 226.40 395.20C226.68 395.20 227.02 396.20 227.30 398.30C227.58 400.40 227.77 404.28 228.10 407.80C228.43 411.32 228.88 415.90 229.30 419.40C229.72 422.90 230.13 426.27 230.60 428.80C231.07 431.33 231.62 433.30 232.10 434.60C232.58 435.90 233.27 436.27 233.50 436.60Z" fill="#7cc4de" stroke="#3f8fd6" stroke-width="0.9" fill-opacity="0.6" stroke-linejoin="round"/>
<path d="M244.60 435.60C244.78 434.60 245.37 432.97 245.70 429.60C246.03 426.23 246.30 420.33 246.60 415.40C246.90 410.47 247.25 403.83 247.50 400.00C247.75 396.17 247.88 393.67 248.10 392.40C248.32 391.13 248.58 390.77 248.80 392.40C249.02 394.03 249.15 398.18 249.40 402.20C249.65 406.22 249.97 411.93 250.30 416.50C250.63 421.07 251.02 426.58 251.40 429.60C251.78 432.62 251.95 433.60 252.60 434.60C253.25 435.60 254.85 435.43 255.30 435.60Z" fill="#9aa0da" stroke="#2c3cc0" stroke-width="0.75" stroke-linejoin="round"/>
<rect x="188.6" y="338.8" width="48.80000000000001" height="48.5" fill="none" stroke="#222" stroke-width="1"/>
<rect x="238.6" y="338.4" width="49.20000000000002" height="48.50000000000006" fill="none" stroke="#222" stroke-width="1"/>
<rect x="188.6" y="388.6" width="49.20000000000002" height="48.0" fill="none" stroke="#222" stroke-width="1"/>
<rect x="238.4" y="388.4" width="49.20000000000002" height="47.80000000000007" fill="none" stroke="#222" stroke-width="1"/>
<text x="233.4" y="348.2" font-size="8.4" text-anchor="end" fill="#222" textLength="15" lengthAdjust="spacingAndGlyphs">Gr1</text>
<text x="283.6" y="347.9" font-size="8.4" text-anchor="end" fill="#222" textLength="23.4" lengthAdjust="spacingAndGlyphs">CD71</text>
<text x="234.1" y="397.9" font-size="8.4" text-anchor="end" fill="#222" textLength="30.3" lengthAdjust="spacingAndGlyphs">CD11b</text>
<text x="278.9" y="397.9" font-size="8.4" text-anchor="end" fill="#222" textLength="27.7" lengthAdjust="spacingAndGlyphs">Ter119</text>
<text x="316.6" y="298.5" font-size="11" text-anchor="start" font-weight="bold" fill="#000" textLength="8.7" lengthAdjust="spacingAndGlyphs">G</text>
<line x1="347.6" y1="427.4" x2="351.2" y2="427.4" stroke="#111" stroke-width="1"/>
<text x="344.2" y="430.4" font-size="8.2" text-anchor="end" fill="#333" style="stroke:none">0</text>
<line x1="347.6" y1="409.09999999999997" x2="351.2" y2="409.09999999999997" stroke="#111" stroke-width="1"/>
<text x="344.2" y="412.09999999999997" font-size="8.2" text-anchor="end" fill="#333" textLength="8.3" lengthAdjust="spacingAndGlyphs" style="stroke:none">30</text>
<line x1="347.6" y1="390.8" x2="351.2" y2="390.8" stroke="#111" stroke-width="1"/>
<text x="344.2" y="393.8" font-size="8.2" text-anchor="end" fill="#333" textLength="8.3" lengthAdjust="spacingAndGlyphs" style="stroke:none">60</text>
<line x1="347.6" y1="372.5" x2="351.2" y2="372.5" stroke="#111" stroke-width="1"/>
<text x="344.2" y="375.5" font-size="8.2" text-anchor="end" fill="#333" textLength="8.3" lengthAdjust="spacingAndGlyphs" style="stroke:none">90</text>
<line x1="347.6" y1="354.2" x2="351.2" y2="354.2" stroke="#111" stroke-width="1"/>
<text x="344.2" y="357.2" font-size="8.2" text-anchor="end" fill="#333" textLength="12.6" lengthAdjust="spacingAndGlyphs" style="stroke:none">120</text>
<line x1="347.6" y1="335.9" x2="351.2" y2="335.9" stroke="#111" stroke-width="1"/>
<text x="344.2" y="338.9" font-size="8.2" text-anchor="end" fill="#333" textLength="12.6" lengthAdjust="spacingAndGlyphs" style="stroke:none">150</text>
<line x1="347.6" y1="317.6" x2="351.2" y2="317.6" stroke="#111" stroke-width="1"/>
<text x="344.2" y="320.6" font-size="8.2" text-anchor="end" fill="#333" textLength="12.6" lengthAdjust="spacingAndGlyphs" style="stroke:none">180</text>
<line x1="351.2" y1="317" x2="351.2" y2="427.6" stroke="#111" stroke-width="1.1"/>
<line x1="351" y1="427.4" x2="483.5" y2="427.4" stroke="#111" stroke-width="1.2"/>
<line x1="351.5" y1="427.4" x2="351.5" y2="431" stroke="#111" stroke-width="1.1"/>
<line x1="384.3" y1="427.4" x2="384.3" y2="431" stroke="#111" stroke-width="1.1"/>
<line x1="417" y1="427.4" x2="417" y2="431" stroke="#111" stroke-width="1.1"/>
<line x1="449.6" y1="427.4" x2="449.6" y2="431" stroke="#111" stroke-width="1.1"/>
<line x1="482.8" y1="427.4" x2="482.8" y2="431" stroke="#111" stroke-width="1.1"/>
<rect x="359.2" y="421.971" width="16.69999999999999" height="5.428999999999974" fill="#cc0a1e"/>
<rect x="359.2" y="386.53" width="16.69999999999999" height="35.44100000000003" fill="#0a36b8"/>
<rect x="359.2" y="374.33" width="16.69999999999999" height="12.199999999999989" fill="#3cf20a"/>
<rect x="359.2" y="370.67" width="16.69999999999999" height="3.659999999999968" fill="#1c0896"/>
<rect x="392.2" y="390.8" width="16.600000000000023" height="36.599999999999966" fill="#cc0a1e"/>
<rect x="392.2" y="367.62" width="16.600000000000023" height="23.180000000000007" fill="#0a36b8"/>
<rect x="392.2" y="353.59000000000003" width="16.600000000000023" height="14.029999999999973" fill="#3cf20a"/>
<rect x="392.2" y="350.845" width="16.600000000000023" height="2.7450000000000045" fill="#1c0896"/>
<rect x="425.2" y="341.08500000000004" width="17.30000000000001" height="86.31499999999994" fill="#cc0a1e"/>
<rect x="425.2" y="334.68" width="17.30000000000001" height="6.40500000000003" fill="#0a36b8"/>
<rect x="425.2" y="332.545" width="17.30000000000001" height="2.134999999999991" fill="#3cf20a"/>
<rect x="458" y="344.135" width="17.30000000000001" height="83.26499999999999" fill="#cc0a1e"/>
<line x1="367.6" y1="369.4" x2="367.6" y2="377.3" stroke="#111" stroke-width="1.1"/>
<line x1="366.1" y1="369.4" x2="369.1" y2="369.4" stroke="#111" stroke-width="1.1"/>
<line x1="366.1" y1="377.3" x2="369.1" y2="377.3" stroke="#111" stroke-width="1.1"/>
<line x1="367.6" y1="382.2" x2="367.6" y2="390.5" stroke="#111" stroke-width="1.1"/>
<line x1="366.1" y1="382.2" x2="369.1" y2="382.2" stroke="#111" stroke-width="1.1"/>
<line x1="366.1" y1="390.5" x2="369.1" y2="390.5" stroke="#111" stroke-width="1.1"/>
<line x1="367.6" y1="420.8" x2="367.6" y2="422.9" stroke="#111" stroke-width="1.1"/>
<line x1="366.1" y1="420.8" x2="369.1" y2="420.8" stroke="#111" stroke-width="1.1"/>
<line x1="366.1" y1="422.9" x2="369.1" y2="422.9" stroke="#111" stroke-width="1.1"/>
<line x1="400.6" y1="350.8" x2="400.6" y2="356.6" stroke="#111" stroke-width="1.1"/>
<line x1="399.1" y1="350.8" x2="402.1" y2="350.8" stroke="#111" stroke-width="1.1"/>
<line x1="399.1" y1="356.6" x2="402.1" y2="356.6" stroke="#111" stroke-width="1.1"/>
<line x1="400.6" y1="364.5" x2="400.6" y2="369.6" stroke="#111" stroke-width="1.1"/>
<line x1="399.1" y1="364.5" x2="402.1" y2="364.5" stroke="#111" stroke-width="1.1"/>
<line x1="399.1" y1="369.6" x2="402.1" y2="369.6" stroke="#111" stroke-width="1.1"/>
<line x1="400.6" y1="385.8" x2="400.6" y2="395.3" stroke="#111" stroke-width="1.1"/>
<line x1="399.1" y1="385.8" x2="402.1" y2="385.8" stroke="#111" stroke-width="1.1"/>
<line x1="399.1" y1="395.3" x2="402.1" y2="395.3" stroke="#111" stroke-width="1.1"/>
<line x1="433.8" y1="332.6" x2="433.8" y2="336" stroke="#111" stroke-width="1.1"/>
<line x1="432.3" y1="332.6" x2="435.3" y2="332.6" stroke="#111" stroke-width="1.1"/>
<line x1="432.3" y1="336" x2="435.3" y2="336" stroke="#111" stroke-width="1.1"/>
<line x1="433.8" y1="335" x2="433.8" y2="344.7" stroke="#111" stroke-width="1.1"/>
<line x1="432.3" y1="335" x2="435.3" y2="335" stroke="#111" stroke-width="1.1"/>
<line x1="432.3" y1="344.7" x2="435.3" y2="344.7" stroke="#111" stroke-width="1.1"/>
<line x1="466.7" y1="338.8" x2="466.7" y2="349" stroke="#111" stroke-width="1.1"/>
<line x1="465.2" y1="338.8" x2="468.2" y2="338.8" stroke="#111" stroke-width="1.1"/>
<line x1="465.2" y1="349" x2="468.2" y2="349" stroke="#111" stroke-width="1.1"/>
<path d="M396.70 378.00L397.20 379.21L398.51 379.31L397.51 380.16L397.82 381.44L396.70 380.75L395.58 381.44L395.89 380.16L394.89 379.31L396.20 379.21Z" fill="#000"/>
<path d="M401.10 378.00L401.60 379.21L402.91 379.31L401.91 380.16L402.22 381.44L401.10 380.75L399.98 381.44L400.29 380.16L399.29 379.31L400.60 379.21Z" fill="#000"/>
<path d="M405.50 378.00L406.00 379.21L407.31 379.31L406.31 380.16L406.62 381.44L405.50 380.75L404.38 381.44L404.69 380.16L403.69 379.31L405.00 379.21Z" fill="#000"/>
<path d="M396.70 406.00L397.20 407.21L398.51 407.31L397.51 408.16L397.82 409.44L396.70 408.75L395.58 409.44L395.89 408.16L394.89 407.31L396.20 407.21Z" fill="#000"/>
<path d="M401.10 406.00L401.60 407.21L402.91 407.31L401.91 408.16L402.22 409.44L401.10 408.75L399.98 409.44L400.29 408.16L399.29 407.31L400.60 407.21Z" fill="#000"/>
<path d="M405.50 406.00L406.00 407.21L407.31 407.31L406.31 408.16L406.62 409.44L405.50 408.75L404.38 409.44L404.69 408.16L403.69 407.31L405.00 407.21Z" fill="#000"/>
<path d="M429.40 383.40L429.90 384.61L431.21 384.71L430.21 385.56L430.52 386.84L429.40 386.16L428.28 386.84L428.59 385.56L427.59 384.71L428.90 384.61Z" fill="#000"/>
<path d="M433.80 383.40L434.30 384.61L435.61 384.71L434.61 385.56L434.92 386.84L433.80 386.16L432.68 386.84L432.99 385.56L431.99 384.71L433.30 384.61Z" fill="#000"/>
<path d="M438.20 383.40L438.70 384.61L440.01 384.71L439.01 385.56L439.32 386.84L438.20 386.16L437.08 386.84L437.39 385.56L436.39 384.71L437.70 384.61Z" fill="#000"/>
<path d="M462.40 375.00L462.90 376.21L464.21 376.31L463.21 377.16L463.52 378.44L462.40 377.75L461.28 378.44L461.59 377.16L460.59 376.31L461.90 376.21Z" fill="#000"/>
<path d="M466.80 375.00L467.30 376.21L468.61 376.31L467.61 377.16L467.92 378.44L466.80 377.75L465.68 378.44L465.99 377.16L464.99 376.31L466.30 376.21Z" fill="#000"/>
<path d="M471.20 375.00L471.70 376.21L473.01 376.31L472.01 377.16L472.32 378.44L471.20 377.75L470.08 378.44L470.39 377.16L469.39 376.31L470.70 376.21Z" fill="#000"/>
<path d="M429.80 331.90L430.25 332.98L431.42 333.07L430.53 333.84L430.80 334.98L429.80 334.37L428.80 334.98L429.07 333.84L428.18 333.07L429.35 332.98Z" fill="#000"/>
<path d="M434.20 331.90L434.65 332.98L435.82 333.07L434.93 333.84L435.20 334.98L434.20 334.37L433.20 334.98L433.47 333.84L432.58 333.07L433.75 332.98Z" fill="#000"/>
<path d="M438.60 331.90L439.05 332.98L440.22 333.07L439.33 333.84L439.60 334.98L438.60 334.37L437.60 334.98L437.87 333.84L436.98 333.07L438.15 332.98Z" fill="#000"/>
<rect x="356.4" y="311.1" width="5.9" height="5.8" fill="#1c0896"/>
<text x="365.4" y="318.0" font-size="8.2" text-anchor="start" fill="#222" textLength="19.1" lengthAdjust="spacingAndGlyphs">MegE</text>
<rect x="356.4" y="324.20000000000005" width="5.9" height="5.8" fill="#3cf20a"/>
<text x="365.4" y="331.1" font-size="8.2" text-anchor="start" fill="#222">Meg</text>
<rect x="356.4" y="337.3" width="5.9" height="5.8" fill="#0a36b8"/>
<text x="365.4" y="344.2" font-size="8.2" text-anchor="start" fill="#222" textLength="20.2" lengthAdjust="spacingAndGlyphs">BFU-E</text>
<rect x="356.4" y="350.40000000000003" width="5.9" height="5.8" fill="#cc0a1e"/>
<text x="365.4" y="357.3" font-size="8.2" text-anchor="start" fill="#222">GM</text>
<text x="325.3" y="372.5" font-size="9.2" text-anchor="middle" fill="#222" textLength="60" lengthAdjust="spacingAndGlyphs" transform="rotate(-90 325.3 372.5)">Colony #/600 cells</text>
<text x="372.2" y="436.6" font-size="9" text-anchor="end" fill="#222" textLength="24" lengthAdjust="spacingAndGlyphs" transform="rotate(-45 372.2 436.6)">DMSO</text>
<text x="405.6" y="436.6" font-size="9" text-anchor="end" fill="#222" textLength="23" lengthAdjust="spacingAndGlyphs" transform="rotate(-45 405.6 436.6)">0.3 µM</text>
<text x="438.8" y="436.6" font-size="9" text-anchor="end" fill="#222" textLength="18.5" lengthAdjust="spacingAndGlyphs" transform="rotate(-45 438.8 436.6)">1 µM</text>
<text x="472.29999999999995" y="436.6" font-size="9" text-anchor="end" fill="#222" textLength="18.5" lengthAdjust="spacingAndGlyphs" transform="rotate(-45 472.29999999999995 436.6)">3 µM</text>
<rect x="0" y="0" width="520" height="1.2" fill="#000"/>
<rect x="0" y="0" width="1.2" height="456" fill="#000"/>
<rect x="518.6" y="0" width="1.4" height="456" fill="#000"/>
<rect x="0" y="454" width="520" height="2" fill="#000"/>
</svg></body></html>
